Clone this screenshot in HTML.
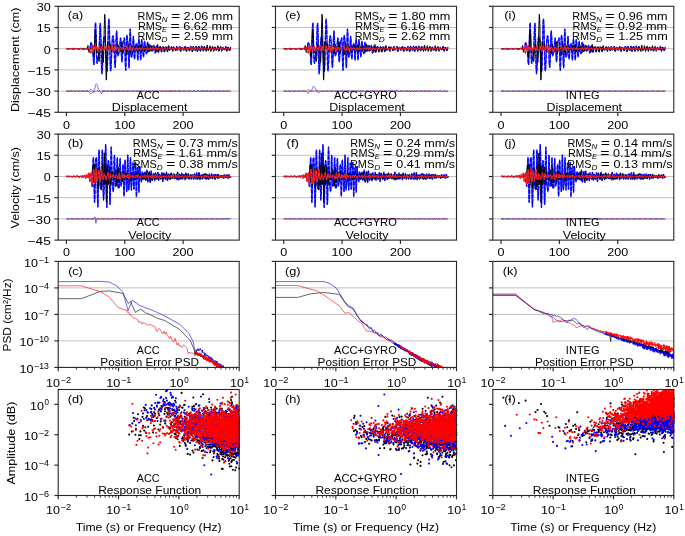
<!DOCTYPE html><html><head><meta charset="utf-8"><style>html,body{margin:0;padding:0;background:#fff;overflow:hidden}svg{display:block;filter:blur(0.35px)}text{font-family:"Liberation Sans",sans-serif}</style></head><body><svg width="685" height="536" viewBox="0 0 685 536" font-family="Liberation Sans, sans-serif"><defs><path id="pE0" d="M66.4 48.6l.3-.1 .2 0 .2.1 .3 0 .2.1 .2 0 .3.1 .2 0 .2 0 .3 0 .2 0 .2 0 .3 0 .2-.1 .2 0 .3 0 .2 0 .2 0 .3-.1 .2 0 .2 0 .3 0 .2-.1 .2 0 .3 0 .2.1 .2 0 .3.1 .2.1 .2 0 .3.1 .2 0 .2 0 .3-.1 .2 0 .2-.1 .3 0 .2 0 .2 0 .3-.1 .2 0 .2 0 .3 0 .2 0 .2 0 .3 0 .2 0 .2 0 .3 0 .2.1 .2.1 .3.1 .2.1 .2 0 .3 0 .2-.1 .2-.1 .3-.1 .2 0 .2-.1 .3 0 .2 0 .2 0 .3 0 .2 0 .2 0 .3-.1 .2 0 .2 0 .3.1 .2.1 .2.1 .3.1 .2.1 .2.1 .3 0 .2 0 .2-.1 .3-.2 .2-.1 .2-.1 .3-.1 .2 0 .2 0 .3 0 .2 0 .2 0 .3.1 .2 0 .2 0 .3 0 .2.1 .2.1 .3.1 .2.1 .2.1 .3.1 .2 0 .2-.1 .3-.2 .2-.2 .2-1.4 .3-1.9 .2-1.7 .2-1.1 .3-.2 .2.6 .2.9 .3.9 .2.7 .2 1 .3 1.3 .2 2.1 .2 3.2 .3 4 .2 4 .2 2.8 .3.5 .2-2.9 .2-6.2 .3-8.7 .2-9.5 .2-8.3 .3-5.2 .2-.7 .2 5.3 .3 8.4 .2 9.4 .2 8.4 .3 5.9 .2 2.8 .2.1 .3-1.7 .2-2.3 .2-1.7 .3-1 .2-.5 .2-.6 .3-1.5 .2-3.5 .2-5.7 .3-7.2 .2-7.1 .2-5.2 .3-1.8 .2 2.6 .2 6.8 .3 9.8 .2 11.2 .2 10.4 .3 6.7 .2 2.7 .2-1.1 .3-4.2 .2-6.1 .2-6.6 .3-6.2 .2-5.1 .2-3.7 .3-2.3 .2-1.1 .2-.2 .3.3 .2.8 .2 1.3 .3 1.9 .2 2.8 .2 3.7 .3 4.6 .2 5.2 .2 5.4 .3 4.7 .2 3 .2.6 .3-2.6 .2-5.9 .2-8.5 .3-10.1 .2-10 .2-8.4 .3-5.4 .2-1.4 .2 2.9 .3 6.8 .2 9.5 .2 10.5 .3 9.7 .2 7.5 .2 4.1 .3.7 .2-2.5 .2-4.8 .3-6.1 .2-6.2 .2-5.6 .3-4.3 .2-3 .2-1.6 .3-.7 .2.1 .2 1.2 .3 2.1 .2 3.2 .2 4.4 .3 5.5 .2 5.9 .2 5.3 .3 3.4 .2.2 .2-3.3 .3-6.7 .2-8.7 .2-8.7 .3-6.3 .2-2.5 .2 1.6 .3 5 .2 6.5 .2 6 .3 4 .2 1.8 .2-.1 .3-1.1 .2-1.1 .2-1.1 .3-.7 .2-1.2 .2-2.2 .3-3.1 .2-3.5 .2-2.9 .3-.8 .2 1.8 .2 4.5 .3 6 .2 5.9 .2 4.1 .3 1.3 .2-1.6 .2-4.2 .3-5.2 .2-4.8 .2-3.2 .3-1.5 .2-.5 .2-.7 .3-1.1 .2-1 .2.8 .3 4.3 .2 7.9 .2 9.3 .3 7.5 .2 2.5 .2-3.8 .3-8.9 .2-10.5 .2-8.2 .3-3.6 .2.5 .2 2.5 .3 2.3 .2 1.4 .2 1.9 .3 4.3 .2 6.9 .2 7.8 .3 4.8 .2-1.3 .2-8.2 .3-12.1 .2-11.2 .2-5.7 .3 1.6 .2 7.2 .2 8.9 .3 6.7 .2 3 .2.5 .3-.3 .2-.2 .2-.7 .3-2.3 .2-4.5 .2-5.9 .3-5 .2-1.7 .2 2.5 .3 5.9 .2 7.1 .2 5.4 .3 1.8 .2-1.9 .2-3.9 .3-4 .2-2.7 .2-1.3 .3-.6 .2-.6 .2-.6 .3-.1 .2 1.7 .2 4.1 .3 5.5 .2 4.4 .2.8 .3-3.8 .2-6.8 .2-6.6 .3-3.3 .2.6 .2 2.6 .3 2.4 .2 1.4 .2 1.8 .3 3.7 .2 5 .2 3.1 .3-1.6 .2-6.5 .2-7.7 .3-4.5 .2.1 .2 3 .3 3 .2 1.6 .2 1.3 .3 2.5 .2 3.4 .2 2.4 .3-.8 .2-4.3 .2-5.8 .3-4.2 .2-.8 .2 2.1 .3 3.2 .2 2.5 .2 1.2 .3.7 .2.9 .2 1.3 .3.7 .2-1 .2-2.9 .3-3.9 .2-2.9 .2-.6 .3 1.7 .2 3 .2 2.7 .3 1.3 .2.1 .3-.2 .2 0 .2 0 .3-.3 .2-1.2 .2-1.7 .3-1.7 .2-.7 .2.4 .3 1.3 .2 1.7 .2 1.5 .3.7 .2-.1 .2-.5 .3-.5 .2-.4 .2-.4 .3-.7 .2-1.2 .2-1.2 .3-.6 .2.4 .2 1.5 .3 2.3 .2 2.1 .2 1.2 .3-.3 .2-1.5 .2-2.1 .3-1.7 .2-.9 .2-.1 .3.2 .2.1 .2.2 .3.5 .2 1.3 .2 1.7 .3 1.5 .2.3 .2-1 .3-1.8 .2-1.5 .2-.7 .3.1 .2.3 .2.2 .3-.1 .2.2 .2.8 .3 1.3 .2 1.1 .2.2 .3-.8 .2-1.4 .2-1.1 .3-.4 .2 0 .2 0 .3-.2 .2 0 .2.5 .3 1.2 .2 1.5 .2.9 .3-.3 .2-1.2 .2-1.6 .3-1 .2-.2 .2.2 .3.2 .2.2 .2.3 .3.6 .2 1 .2 1 .3.5 .2-.4 .2-1.2 .3-1.6 .2-1.3 .2-.4 .3.6 .2 1 .2 1.1 .3.8 .2.3 .2-.2 .3-.3 .2-.2 .2-.3 .3-.4 .2-.4 .2-.4 .3-.2 .2 0 .2.5 .3.9 .2 1 .2.5 .3-.2 .2-.8 .2-1.2 .3-.8 .2-.3 .2.2 .3.5 .2.4 .2.4 .3.4 .2.5 .2.5 .3.3 .2-.4 .2-1.1 .3-1.3 .2-.9 .2-.1 .3.8 .2 1.2 .2 1 .3.4 .2 0 .2-.3 .3-.3 .2-.2 .2-.3 .3-.7 .2-.8 .2-.6 .3.1 .2.9 .2 1.3 .3 1.2 .2.5 .2-.2 .3-.9 .2-1.1 .2-.9 .3-.4 .2.1 .2.4 .3.4 .2.5 .2.3 .3.4 .2.3 .2.2 .3-.1 .2-.4 .2-.8 .3-1 .2-.7 .2-.2 .3.6 .2 1.2 .2 1.4 .3.8 .2.1 .2-.8 .3-1 .2-.9 .2-.5 .3 0 .2.2 .2.2 .3.1 .2.3 .2.5 .3.7 .2.6 .2.2 .3-.6 .2-1.2 .2-1.3 .3-.6 .2.2 .2.7 .3.7 .2.4 .2.4 .3.7 .2 1 .2.4 .3-.6 .2-1.7 .2-1.6 .3-.9 .2.2 .2 1 .3.9 .2.5 .2.3 .3.2 .2.2 .2.2 .3-.1 .2-.6 .2-1.1 .3-1.1 .2-.6 .2.3 .3 1.1 .2 1.5 .2 1.4 .3.6 .2-.3 .2-1.1 .3-1.3 .2-1.1 .2-.5 .3.1 .2.4 .2.4 .3.3 .2.5 .2.7 .3.9 .2.7 .2-.2 .3-1.1 .2-1.6 .2-1.4 .3-.5 .2.6 .2 1.2 .3 1 .2.5 .2.1 .3.1 .2.2 .2 0 .3-.4 .2-1 .2-1.1 .3-.6 .2.4 .2 1 .3.9 .2.4 .2 0 .3-.1 .2.1 .2 0 .3-.5 .2-.7 .2-.7 .3-.1 .2.4 .2.7 .3.5 .2.2 .2-.1 .3-.1 .2-.1 .2-.1 .3-.2 .2-.4 .2-.3 .3-.1 .2.3 .2.6 .3.6 .2.3 .2-.1 .3-.5 .2-.6 .2-.4 .3-.2 .2.1 .2.3 .3.3 .2.2 .2.2 .3.3 .2.3 .2 0 .3-.3 .2-.6 .2-.9 .3-.6 .2 0 .2.6 .3 1 .2.9 .2.4 .3-.1 .2-.6 .2-.6 .3-.4 .2-.2 .2-.2 .3-.2 .2-.2 .2.2 .3.6 .2 1 .2.7 .3.3 .2-.5 .2-1 .3-.9 .2-.4 .2 0 .3.4 .2.3 .2.3 .3.1 .2.4 .2.4 .3.3 .2-.1 .2-.6 .3-.9 .2-.7 .2-.2 .3.4 .2.8 .2.5 .3.3 .2.1 .2.1 .3 0 .2 0 .2-.5 .3-1 .2-1 .2-.5 .3.7 .2 1.5 .2 1.6 .3.8 .2-.5 .2-1.1 .3-1.1 .2-.5 .2-.2 .3 0 .2-.1 .2.2 .3.5 .2.9 .2.9 .3.3 .2-.4 .2-.9 .3-.9 .2-.5 .2 0"/><path id="pN0" d="M66.4 48.6l.3 0 .2 0 .2.1 .3 0 .2 0 .2 0 .3 0 .2.1 .2 0 .3 0 .2 0 .2 0 .3 0 .2 0 .2 0 .3 0 .2-.1 .2 0 .3-.1 .2-.1 .2 0 .3 0 .2 0 .2.1 .3 0 .2.1 .2.1 .3 0 .2.1 .2 0 .3 0 .2-.1 .2 0 .3 0 .2-.1 .2 0 .3-.1 .2 0 .2 0 .3 0 .2 0 .2 0 .3 0 .2 0 .2.1 .3 0 .2 0 .2.1 .3 0 .2.1 .2 0 .3 0 .2 0 .2 0 .3 0 .2-.1 .2-.1 .3-.1 .2-.1 .2 0 .3-.1 .2 0 .2 0 .3 0 .2.1 .2.1 .3.1 .2.1 .2.1 .3.1 .2.1 .2 0 .3 0 .2-.1 .2 0 .3-.1 .2-.1 .2-.1 .3-.1 .2 0 .2 0 .3 0 .2-.1 .2 0 .3 0 .2.2 .2.5 .3.4 .2-.1 .2-1.1 .3-1.7 .2-1.2 .2.5 .3 2.1 .2 2.5 .2 1.5 .3.3 .2-.7 .2-.9 .3-1 .2-.8 .2-.7 .3-.4 .2-.2 .2-.1 .3 0 .2-.2 .2-.2 .3-.2 .2 0 .2.2 .3.9 .2 1.4 .2 1.9 .3 2.3 .2 2 .2.9 .3-.7 .2-2.9 .2-4.7 .3-5.9 .2-5.8 .2-4.3 .3-1.8 .2 1.1 .2 3.4 .3 4.9 .2 5.2 .2 4.3 .3 2.7 .2.8 .2-.7 .3-1.5 .2-1.1 .2 0 .3 1.7 .2 3.2 .2 3.6 .3 2.7 .2.7 .2-1.6 .3-3.6 .2-4.5 .2-4.2 .3-2.8 .2-1.3 .2 0 .3.7 .2 1 .2.8 .3.5 .2.7 .2 1.4 .3 2.4 .2 3.4 .2 3.9 .3 3.3 .2.8 .2-3 .3-7.4 .2-10.9 .2-11.8 .3-9.9 .2-5.1 .2.9 .3 6.9 .2 12.1 .2 15.2 .3 15.3 .2 11.3 .2 4.1 .3-4.2 .2-10.1 .2-11.7 .3-8.7 .2-3.7 .2.9 .3 3 .2 3 .2 1.5 .3-.1 .2-1.4 .2-2 .3-1.9 .2-1.3 .2-.2 .3.9 .2 1.9 .2 2.1 .3 1.7 .2.9 .2.3 .3-.1 .2-.1 .2.1 .3.4 .2.2 .2-.1 .3-.8 .2-1.3 .2-1.6 .3-1.6 .2-1.2 .2-.3 .3.5 .2 1.2 .2 1.1 .3.9 .2.4 .2.3 .3.6 .2 1.1 .2 1.5 .3 1.2 .2.4 .2-.8 .3-2 .2-2.5 .2-2.4 .3-1.4 .2-.3 .2.7 .3 1.3 .2 1.4 .2 1 .3.7 .2.5 .2.5 .3.7 .2.6 .2.4 .3-.4 .2-1.5 .2-2.6 .3-3 .2-2.3 .2-.8 .3 1.5 .2 3.3 .2 3.5 .3 2.4 .2 1 .2-.5 .3-1.3 .2-1.6 .2-1.2 .3-.6 .2-.2 .2 0 .3.1 .2-.4 .2-.4 .3-.4 .2.1 .2.9 .3 1.7 .2 2.2 .2 2 .3 1.1 .2-.5 .2-2 .3-2.9 .2-2.8 .2-1.7 .3-.3 .2.4 .2.6 .3.3 .2.2 .2.5 .3 1.4 .2 2.1 .2 2.2 .3 1.5 .2-.1 .2-1.7 .3-2.6 .2-2.4 .2-1.3 .3-.1 .2.8 .2.8 .3.6 .2.3 .2.5 .3.8 .2 1 .2.6 .3-.1 .2-1 .2-1.5 .3-1.4 .2-.5 .2.4 .3.8 .2.8 .2.5 .3.2 .2.4 .2.4 .3.4 .2-.3 .2-1.2 .3-1.8 .2-1.4 .2-.3 .3 1.3 .2 2 .2 1.7 .3.7 .2-.1 .2-.3 .3-.1 .2-.4 .2-1 .3-1.9 .2-1.8 .2-.9 .3.9 .2 2.2 .2 2.5 .3 1.6 .2.1 .2-1 .3-1.3 .2-1 .2-.6 .3-.4 .2-.6 .2-.5 .3 0 .2.8 .2 1.7 .3 1.9 .2 1.1 .2-.2 .3-1.4 .2-2 .2-1.8 .3-.9 .2.2 .2 1 .3 1 .2.8 .2.7 .3.8 .2 1.1 .2 1 .3.2 .2-1.5 .2-2.8 .3-2.9 .2-1.6 .3.4 .2 2 .2 2.3 .3 1.8 .2.7 .2-.1 .3-.2 .2 0 .2-.1 .3-.5 .2-1.1 .2-1.6 .3-1.2 .2-.4 .2.7 .3 1.4 .2 1.6 .2 1 .3.2 .2-.4 .2-.7 .3-.6 .2-.6 .2-.4 .3-.3 .2-.2 .2 0 .3.1 .2.5 .2 1 .3 1.4 .2 1.3 .2.5 .3-.8 .2-2.2 .2-2.7 .3-1.9 .2-.2 .2 1.5 .3 2.4 .2 2.4 .2 1.2 .3-.2 .2-1.1 .2-1.2 .3-.9 .2-.5 .2-.5 .3-.6 .2-.6 .2.1 .3 1.1 .2 2 .2 1.9 .3.9 .2-.6 .2-1.8 .3-1.7 .2-1.1 .2-.2 .3.2 .2-.1 .2-.2 .3.2 .2 1.1 .2 1.9 .3 1.7 .2.5 .2-.8 .3-1.8 .2-1.5 .2-.8 .3-.2 .2 0 .2-.1 .3 0 .2.5 .2 1.3 .3 1.8 .2 1.2 .2 0 .3-1.4 .2-2.2 .2-1.8 .3-.8 .2.6 .2 1.4 .3 1.4 .2.9 .2.3 .3-.1 .2-.2 .2-.2 .3-.4 .2-.8 .2-1 .3-.8 .2-.3 .2.6 .3 1.5 .2 1.7 .2 1.2 .3 0 .2-1 .2-1.5 .3-1.3 .2-.7 .2.1 .3.3 .2.3 .2.4 .3.6 .2.9 .2 1 .3.4 .2-.6 .2-1.2 .3-1.4 .2-.8 .2.1 .3.8 .2 1 .2.6 .3.3 .2 0 .2-.2 .3-.2 .2-.3 .2-.8 .3-1.1 .2-.7 .2.2 .3 1.4 .2 1.9 .2 1.4 .3.1 .2-1 .2-1.3 .3-.9 .2-.4 .2-.1 .3 0 .2-.1 .2.1 .3.3 .2.8 .2.7 .3.7 .2.2 .2-.5 .3-1.1 .2-1.1 .2-.6 .3 0 .2.4 .2.4 .3.2 .2.3 .2.8 .3 1.2 .2 1 .2 0 .3-1.2 .2-1.7 .2-1.2 .3-.4 .2.4 .2.2 .3 0 .2 0 .2.4 .3 1.1 .2 1.2 .2.9 .3-.2 .2-.9 .2-1.1 .3-.7 .2-.3 .2-.2 .3-.4 .2-.5 .2-.1 .3.8 .2 1.7 .2 1.6 .3.8 .2-.5 .2-1.4 .3-1.5 .2-1 .2-.1 .3.3 .2.3 .2.3 .3.4 .2.6 .2 1 .3.8 .2-.1 .2-1 .3-1.6 .2-1.3 .2-.4 .3.6 .2 1.1 .2.9 .3.4 .2.2 .2.3 .3.3 .2-.1 .2-.7 .3-1.3 .2-1.3 .2-.5 .3.5 .2 1.2 .2 1.4 .3.8 .2.1 .2-.4 .3-.5 .2-.4 .2-.4 .3-.4 .2-.6 .2-.5 .3-.2 .2.5 .2 1.3 .3 1.4 .2 1.1 .2 0 .3-1 .2-1.6 .2-1.4 .3-.7 .2.2 .2.7 .3.7 .2.6 .2.6 .3.8 .2 1 .2.4 .3-.9 .2-2.1 .2-2.3 .3-1.2 .2.6 .2 1.9 .3 2.1 .2 1.2 .2 0 .3-.5 .2-.4 .2-.3 .3-.6 .2-1.2 .2-1.5 .3-.6 .2.7 .2 2.1 .3 2.1 .2.9 .2-.5 .3-1 .2-.9 .2-.5 .3-.5 .2-1 .2-.9 .3 0 .2 1.1 .2 1.9 .3 1.6 .2.7 .2-.6 .3-1.4 .2-1.3 .2-.9 .3-.1 .2.3 .2.5 .3.5 .2.4 .2.4 .3.4 .2.4 .2.2 .3-.3 .2-1 .2-1.6 .3-1.4 .2-.4 .2.9 .3 2 .2 1.9 .2.9 .3-.3 .2-.9 .2-.8 .3-.5 .2-.5 .2-.8 .3-1 .2-.4 .2.8 .3 1.9 .2 1.8 .2.8 .3-.5 .2-1.2 .2-1.2 .3-.8 .2-.2 .2.1 .3.2 .2.3 .2.4 .3.6 .2.6 .2.3 .3 0 .2-.5 .2-.9 .3-1 .2-.6 .2 0 .3.6 .2 1.1 .2 1.1 .3.7 .2.1 .2-.7 .3-1.1 .2-1.1 .2-.6 .3.1 .2.5 .2.6 .3.5 .2.3 .2.4 .3.4 .2.3 .2-.1 .3-.8 .2-1.2 .2-1.2"/><path id="pD0" d="M66.4 48.5l.3.1 .2.1 .2 0 .3.1 .2 0 .2.1 .3.1 .2 0 .2 0 .3-.2 .2-.1 .2-.2 .3 0 .2-.1 .2.1 .3 0 .2.1 .2 0 .3 0 .2.1 .2 0 .3.2 .2.1 .2.2 .3-.1 .2-.1 .2-.3 .3-.2 .2-.2 .2 0 .3.1 .2.1 .2.2 .3.1 .2 0 .2 0 .3.1 .2 0 .2 0 .3 0 .2-.1 .2-.2 .3-.1 .2-.1 .2-.1 .3.1 .2.2 .2.2 .3.2 .2 0 .2 0 .3-.1 .2-.1 .2-.1 .3 0 .2-.1 .2 0 .3-.1 .2-.1 .2 0 .3-.1 .2.1 .2.2 .3.2 .2.3 .2.1 .3 0 .2-.2 .2-.2 .3-.2 .2-.1 .2-.1 .3 0 .2.1 .2 0 .3.1 .2.1 .2.2 .3.2 .2.1 .2-.2 .3-.3 .2-.3 .2-.1 .3 0 .2.2 .2.2 .3.2 .2.1 .2-.1 .3 0 .2 0 .2-.2 .3-.4 .2-.6 .2-.5 .3-.1 .2.8 .2 1.1 .3.8 .2-.2 .2 0 .3 1.1 .2 1.9 .2.8 .3-1.4 .2-3.1 .2-2.7 .3-.8 .2 1.3 .2 2.3 .3 2.1 .2.9 .2-.8 .3-2 .2-2.2 .2-1.4 .3.1 .2 1.3 .2 1.6 .3 1.1 .2.4 .2 0 .3-.1 .2-.1 .2-.3 .3-.8 .2-1.1 .2-1 .3-.3 .2.6 .2 1.4 .3 1.6 .2 1 .2.1 .3-.9 .2-1.4 .2-1.2 .3-.9 .2-.1 .2.6 .3.9 .2.8 .2.6 .3.3 .2.2 .2.3 .3.3 .2-.1 .2-.8 .3-1.5 .2-1.6 .2-.9 .3 0 .2 1 .2 1.5 .3 1.2 .2.6 .2 0 .3-.1 .2 0 .2.1 .3 0 .2-.4 .2-1 .3-1.3 .2-1 .2-.2 .3.6 .2 1.2 .2 1.2 .3.7 .2.2 .2 0 .3.2 .2.3 .2 0 .3-.5 .2-1.3 .2-1.5 .3-1.1 .2-.4 .2.7 .3 1.4 .2 1.4 .2 1 .3.3 .2-.1 .2-.3 .3-.4 .2-.4 .2-.4 .3-.6 .2-1 .2-1 .3-.7 .2.3 .2 1.4 .3 2.2 .2 2.3 .2 1 .3-.5 .2-1.9 .2-2.3 .3-1.8 .2-.6 .2.7 .3 1.6 .2 1.6 .2.9 .3-.1 .2-.8 .2-.9 .3-.8 .2-.5 .2-.1 .3.3 .2.5 .2.3 .3.3 .2.2 .2.5 .3.8 .2.9 .2.6 .3-.2 .2-1 .2-1.3 .3-1.2 .2-.7 .2-.2 .3.2 .2.3 .2.3 .3.2 .2.4 .2.5 .3.6 .2.5 .2 0 .3-.6 .2-1 .2-1.1 .3-.5 .2.1 .2.8 .3 1 .2.9 .2.4 .3-.1 .2-.3 .2-.3 .3-.1 .2 0 .2-.2 .3-.5 .2-.9 .2-.9 .3-.3 .2.3 .2.9 .3 1 .2.7 .2.3 .3 0 .2.1 .2.3 .3.2 .2-.2 .2-.9 .3-1.4 .2-1.4 .2-.7 .3.5 .2 1.3 .2 1.6 .3 1 .2.4 .2-.3 .3-.4 .2-.3 .2-.2 .3-.4 .2-.6 .2-.8 .3-.5 .2 0 .2.6 .3 1 .2.9 .2.6 .3.1 .2-.4 .2-.5 .3-.5 .2-.3 .2-.1 .3 0 .2-.1 .2-.1 .3-.2 .2-.2 .2.2 .3.4 .2.6 .2.5 .3.4 .2 0 .2-.4 .3-.5 .2-.5 .2-.3 .3-.1 .2 0 .2 0 .3 0 .2.1 .2.3 .3.5 .2.6 .2.2 .3-.2 .2-.6 .2-.7 .3-.6 .2-.1 .2.4 .3.6 .2.6 .2.3 .3-.1 .2-.3 .2-.4 .3-.2 .2-.1 .2 0 .3 0 .2 0 .2.1 .3.2 .2.3 .2.4 .3.2 .2-.1 .2-.5 .3-.6 .2-.6 .2-.3 .3.2 .2.6 .2.5 .3.4 .2.1 .3 0 .2 0 .2-.1 .3-.3 .2-.5 .2-.5 .3-.2 .2.3 .2.7 .3.7 .2.5 .2-.1 .3-.6 .2-.7 .2-.6 .3-.1 .2.1 .2 0 .3-.1 .2.1 .2.4 .3.9 .2 1 .2.4 .3-.2 .2-.8 .2-.8 .3-.5 .2-.1 .2-.1 .3-.1 .2-.1 .2-.1 .3.2 .2.5 .2.6 .3.6 .2.2 .2-.3 .3-.5 .2-.5 .2-.4 .3-.1 .2 0 .2.2 .3.1 .2.2 .2.2 .3.3 .2.3 .2.1 .3-.2 .2-.5 .2-.7 .3-.7 .2-.2 .2.3 .3.9 .2 1 .2.8 .3.1 .2-.4 .2-.6 .3-.5 .2-.2 .2-.1 .3-.2 .2-.2 .2-.4 .3-.2 .2.1 .2.4 .3.7 .2.6 .2.3 .3 0 .2-.2 .2-.2 .3-.1 .2-.1 .2 0 .3-.2 .2-.4 .2-.3 .3-.3 .2.1 .2.3 .3.4 .2.4 .2.2 .3 0 .2-.1 .2-.2 .3-.1 .2-.1 .2-.1 .3-.2 .2-.1 .2-.1 .3.1 .2.4 .2.4 .3.4 .2.1 .2-.3 .3-.5 .2-.6 .2-.4 .3-.1 .2.3 .2.4 .3.4 .2.3 .2.1 .3.1 .2 0 .2-.1 .3-.2 .2-.4 .2-.5 .3-.5 .2 0 .2.5 .3.9 .2.8 .2.3 .3-.4 .2-.8 .2-.9 .3-.5 .2 0 .2.5 .3.6 .2.4 .2.2 .3.1 .2.1 .2.1 .3 0 .2-.1 .2-.3 .3-.6 .2-.7 .2-.5 .3-.1 .2.2 .2.6 .3.8 .2.6 .2.3 .3 0 .2-.2 .2-.3 .3-.3 .2-.3 .2-.2 .3-.2 .2-.2 .2-.2 .3.2 .2.4 .2.7 .3.6 .2.2 .2-.3 .3-.7 .2-.7 .2-.4 .3 0 .2.4 .2.4 .3.3 .2.2 .2.1 .3.1 .2 0 .2-.2 .3-.5 .2-.5 .2-.5 .3 0 .2.4 .2.8 .3.8 .2.4 .2-.1 .3-.6 .2-.7 .2-.5 .3-.2 .2 0 .2.2 .3.2 .2.2 .2.3 .3.4 .2.3 .2.1 .3-.1 .2-.5 .2-.6 .3-.5 .2-.3 .2.2 .3.4 .2.6 .2.5 .3.3 .2 0 .2-.3 .3-.4 .2-.5 .2-.3 .3-.1 .2.1 .2.2 .3.2 .2.1 .2.1 .3.2 .2.2 .2.2 .3.1 .2-.1 .2-.3 .3-.4 .2-.5 .2-.3 .3 0 .2.4 .2.5 .3.4 .2.2 .2 0 .3-.1 .2-.3 .2-.2 .3-.1 .2-.1 .2-.1 .3-.1 .2-.1 .2 0 .3.2 .2.3 .2.4 .3.3 .2.2 .2-.2 .3-.3 .2-.4 .2-.4 .3-.2 .2 0 .2.1 .3.1 .2 0 .2.1 .3.2 .2.3 .2.5 .3.3 .2-.1 .2-.3 .3-.6 .2-.5 .2-.2 .3.1 .2.2 .2.1 .3.1 .2.2 .2.2 .3.3 .2.2 .2-.1 .3-.4 .2-.5 .2-.4 .3-.1 .2.2 .2.5 .3.3 .2.2 .2.1 .3-.1 .2 0 .2 0 .3 0 .2-.2 .2-.3 .3-.4 .2-.3 .2-.1 .3.1 .2.3 .2.4 .3.4 .2.1 .2.1 .3 0 .2 0 .2 0 .3-.1 .2-.2 .2-.3 .3-.4 .2-.3 .2-.2 .3.2 .2.5 .2.6 .3.6 .2.2 .2-.1 .3-.4 .2-.6 .2-.5 .3-.3 .2 0 .2.2 .3.3 .2.3 .2.2 .3.2 .2 0 .2.1 .3 0 .2-.2 .2-.2 .3-.4 .2-.3 .2-.1 .3.1 .2.4 .2.4 .3.3 .2.1 .2-.1 .3-.3 .2-.2 .2-.2 .3 0 .2 0 .2 0 .3 0 .2-.1 .2 0 .3.2 .2.2 .2.3"/><g id="w0"><use href="#pE0" fill="none" stroke="#5050ff" stroke-width="1.35" stroke-linejoin="round"/><use href="#pE0" fill="none" stroke="#0000ff" stroke-width="1.15" stroke-linejoin="round" stroke-dasharray="4 1.3"/><use href="#pN0" fill="none" stroke="#000000" stroke-width="1.0" stroke-linejoin="round"/><use href="#pD0" fill="none" stroke="#ff5a5a" stroke-width="1.0" stroke-linejoin="round"/><use href="#pD0" fill="none" stroke="#ff0000" stroke-width="0.9" stroke-linejoin="round" stroke-dasharray="4 1.3"/></g><path id="pE1" d="M66.4 176.5l.2 0 .2 0 .2 0 .1-.1 .2 0 .2 0 .2 0 .1-.1 .2.1 .2 0 .2.1 .1.1 .2.1 .2 0 .2 0 .1 0 .2-.1 .2-.1 .2 0 .1-.1 .2 0 .2 0 .2 0 .1 0 .2 0 .2 0 .2 0 .1 0 .2.1 .2.1 .2 0 .1.1 .2.1 .2 0 .2-.1 .1-.1 .2-.1 .2-.1 .2-.1 .1 0 .2 0 .2.1 .2 0 .1 0 .2.1 .2 0 .2 0 .1 0 .2.1 .2 0 .2 0 .1.1 .2 0 .2 0 .2-.1 .1-.1 .2-.1 .2-.1 .2-.1 .1 0 .2 0 .2 0 .2.1 .1.1 .2.1 .2.1 .2.1 .1 0 .2 0 .2 0 .2 0 .1 0 .2 0 .2 0 .2 0 .1-.1 .2-.1 .2-.1 .2-.1 .1-.1 .2 0 .2 0 .2.1 .1.1 .2.1 .2 0 .2.1 .1 0 .2 0 .2 0 .2.1 .1 0 .2 0 .2 0 .2 0 .1-.1 .2-.1 .2-.2 .2-.1 .1-.1 .2-.1 .2.1 .2.1 .1.2 .2.2 .2.1 .2.1 .1 0 .2 0 .2-.1 .2-.1 .1 0 .2-.1 .2 0 .2 0 .1-.1 .2 0 .2-.1 .2-.1 .1 0 .2 0 .2.1 .2.1 .1.1 .2.2 .2.1 .2.1 .1 0 .2-.1 .2-.1 .2-.1 .1-.2 .2-.1 .2-.5 .2-.7 .1-.4 .2-.2 .2 0 .2.2 .1.3 .2.7 .2 1.3 .2 1.9 .1 2.5 .2 2.6 .2 2 .2.4 .1-1.7 .2-3.8 .2-5.2 .2-6.2 .1-6.1 .2-4.5 .2-1.4 .2 2.4 .1 6.4 .2 9.1 .2 10.3 .2 9 .1 6 .2 1.6 .2-3 .2-6.7 .1-8.8 .2-8.9 .2-7.7 .2-5.3 .1-2.5 .2-1.1 .2-.6 .2-.2 .1.6 .2 2.5 .2 4.9 .2 7.8 .1 9.9 .2 10.4 .2 8.6 .2 4.7 .1-.6 .2-6.1 .2-10.5 .2-12.7 .1-12.2 .2-9.6 .2-5.1 .2.1 .1 4.7 .2 7.7 .2 8.6 .2 7.6 .1 5.4 .2 3 .2 1.1 .2.2 .1 0 .2.3 .2.1 .2-1.1 .1-3.1 .2-5.5 .2-7.9 .2-8.9 .1-7.9 .2-4.4 .2.7 .2 6 .1 10.3 .2 12.1 .2 11 .2 7.3 .1 2.5 .2-1.9 .2-4.2 .2-4.4 .1-3.2 .2-1.9 .2-1.7 .2-3.1 .1-5.7 .2-8.4 .2-9.4 .2-7.9 .1-3.6 .2 2.3 .2 8.6 .2 13.1 .1 14.7 .2 13.1 .2 8.5 .2 2.5 .1-3.3 .2-7.7 .2-9.8 .2-9.5 .1-7.7 .2-5.1 .2-2.7 .2-1 .1.3 .2 1 .2 1.8 .2 2.7 .1 4.4 .2 6.3 .2 8 .2 8.5 .1 7.1 .2 3.7 .2-1.4 .2-7.1 .1-11.6 .2-13.5 .2-12.4 .2-8.5 .1-2.8 .2 3.1 .2 7.4 .2 9.3 .1 8.6 .2 6.3 .2 3.5 .2 1.4 .1.5 .2.9 .2 1.7 .2 1.7 .1.2 .2-2.6 .2-6 .2-8.6 .1-9.2 .2-7.1 .2-2.9 .2 2.1 .1 6.2 .2 8.2 .2 7.5 .2 5 .1 1.9 .2-.4 .2-1.4 .2-.9 .1 0 .2.1 .2-1.3 .2-3.8 .1-6.4 .2-7.3 .2-5.6 .2-1.4 .1 3.8 .2 7.8 .2 8.6 .2 6.6 .1 3 .2.2 .2-.9 .2-.2 .1.9 .2 0 .2-2.2 .2-5.4 .1-7.8 .2-7.8 .2-5.2 .2-.6 .1 4 .2 7 .2 7.6 .2 5.9 .1 3 .2.1 .2-1.8 .2-2.3 .1-2.1 .2-1.5 .2-1.3 .2-1.9 .1-2.8 .2-3.3 .2-3.2 .2-1.5 .1 1.4 .2 4.9 .2 7.7 .2 8.5 .1 6.7 .2 2.5 .2-2.8 .2-7.5 .1-9.8 .2-9.3 .2-5.7 .2-1.1 .1 2.6 .2 4.5 .2 4.6 .2 3.8 .1 2.9 .2 2.7 .2 3.3 .2 3.8 .1 2.9 .2.4 .2-3.5 .2-7.6 .1-10.1 .2-9.5 .2-5.6 .2.3 .1 6.1 .2 9.5 .2 9.6 .2 6.7 .1 2.4 .2-.9 .2-2.4 .2-1.9 .1-1 .2-1.1 .2-3.1 .2-5.7 .1-7.5 .2-6.3 .2-2.2 .2 3.7 .1 8.5 .2 9.9 .2 7.4 .2 2.8 .1-1.5 .2-3.5 .2-3.1 .2-1.8 .1-1.4 .2-2.8 .2-4.5 .2-5.1 .1-3.2 .2 1 .2 5.3 .2 7.8 .1 7.3 .2 4.5 .2.1 .2-3.3 .1-4.7 .2-3.9 .2-2.3 .2-1.7 .1-2.5 .2-3.7 .2-3.7 .2-.9 .1 3.9 .2 8.6 .2 10.7 .2 8.5 .1 2.8 .2-4.3 .2-8.3 .2-8.3 .1-5.5 .2-2.2 .2-.2 .2.1 .1-.6 .2-.1 .2 1.8 .2 5 .1 7.2 .2 7 .2 3.6 .2-1.5 .1-6.1 .2-8.3 .2-6.8 .2-3 .1.6 .2 2.9 .2 3.1 .2 2.3 .1 1.5 .2 1.2 .2 1.5 .2 1.6 .1.9 .2-.6 .2-2.3 .2-3.2 .1-2.8 .2-1.3 .2.2 .2 1.7 .1 2.4 .2 2.1 .2 1.1 .2-.1 .1-.4 .2-.5 .2-.2 .2-.6 .1-1.3 .2-1.9 .2-1.7 .2-.5 .1 1.2 .2 2.5 .2 2.5 .2 1.6 .1.1 .2-.8 .2-.7 .2-.3 .1-.3 .2-1.2 .2-2.4 .2-2.6 .1-1.6 .2.7 .2 2.9 .2 3.8 .1 3.1 .2 1.3 .2-.4 .2-1.4 .1-1.6 .2-1.2 .2-1 .2-1.3 .2-1.5 .1-1.4 .2-.4 .2 1.1 .2 2.6 .1 3.3 .2 2.7 .2 1.1 .2-.9 .1-2.7 .2-3.5 .2-3 .2-1.4 .1.5 .2 2 .2 2.8 .2 2.5 .1 1.3 .2.1 .2-.9 .2-1.3 .1-1.2 .2-.9 .2-.6 .2-.6 .1-.6 .2-.3 .2.2 .2 1.1 .1 1.8 .2 2.1 .2 1.6 .2.2 .1-1.3 .2-2.3 .2-2.5 .2-1.6 .1-.3 .2.8 .2 1.3 .2 1.3 .1.9 .2.6 .2.6 .2.7 .1.4 .2-.4 .2-1.2 .2-2.1 .1-2 .2-1.3 .2.2 .2 1.6 .1 2.5 .2 2.2 .2 1.2 .2-.2 .1-1.3 .2-1.8 .2-1.5 .2-.7 .1-.1 .2.3 .2.6 .2.6 .1.7 .2.8 .2.9 .2.6 .1-.1 .2-1 .2-1.7 .2-2 .1-1.6 .2-.3 .2 1.1 .2 2.3 .1 2.8 .2 2.3 .2.7 .2-.9 .1-2 .2-2.5 .2-2 .2-1 .1 0 .2.7 .2 1.1 .2 1 .1.8 .2.6 .2.6 .2.6 .1.5 .2.2 .2-.4 .2-1.2 .1-1.8 .2-1.9 .2-1.3 .2-.3 .1 1.1 .2 2.1 .2 2.3 .2 1.9 .1.8 .2-.5 .2-1.4 .2-1.7 .1-1.5 .2-.9 .2-.2 .2.1 .1.3 .2.4 .2.5 .2.8 .1 1.1 .2 1.2 .2.8 .2-.1 .1-1 .2-1.8 .2-1.9 .2-1.2 .1-.1 .2.9 .2 1.4 .2 1.5 .1.9 .2.2 .2-.2 .2-.5 .1-.3 .2-.3 .2-.4 .2-.7 .1-.7 .2-.6 .2-.1 .2.6 .1 1.2 .2 1.3 .2.8 .2.1 .1-.5 .2-.8 .2-1 .2-.6 .1-.4 .2 0 .2 0 .2 0 .1.2 .2.5 .2 1 .2 1.3 .1 1.2 .2.4 .2-.7 .2-1.8 .1-2.3 .2-2 .2-.7 .2.6 .1 1.9 .2 2.3 .2 2 .2 1 .1-.3 .2-1.2 .2-1.7 .2-1.5 .1-.9 .2-.3 .2.3 .2.5 .1.6 .2.7 .2.8 .2.9 .1.8 .2.4 .2-.4 .2-1.3 .1-1.8 .2-1.7 .2-.8 .2.3 .1 1.4 .2 1.8 .2 1.4 .2.7 .1-.2 .2-.8 .2-.8 .2-.6 .1-.4 .2-.4 .2-.5 .2-.4 .1 0 .2.6 .2 1.3 .2 1.7 .1 1.3 .2.1 .2-1.1 .2-2.1 .1-2.1 .2-1.2 .2.1 .2 1.3 .1 1.6 .2 1.2 .2.6 .2.1 .1-.1 .2-.1 .2-.2 .2-.5 .1-1 .2-1.2 .2-.9 .2-.3 .1.8 .2 1.5 .2 1.6 .2 1.1 .1.2 .2-.7 .2-1.1 .2-.9 .1-.6 .2-.2 .2-.2 .2-.2 .1-.2 .2.3 .2.9 .2 1.4 .1 1.3 .2.4 .2-.7 .2-1.4 .1-1.5 .2-.9 .2 0 .2.4 .1.4 .2.3 .2.4 .2.7 .1 1.1 .2 1 .2.1 .2-1 .1-1.8 .2-1.7 .2-.8 .2.2 .1 1.1 .2 1.1 .2.7 .2.4 .1.4 .2.6 .2.6 .2.1 .1-1 .2-2 .2-2.2 .2-1.4 .1.2 .2 1.7 .2 2.2 .2 1.9 .1.8 .2-.1 .2-.5 .2-.4 .1-.3 .2-.7 .2-1.3 .2-1.7 .1-1.3 .2-.2 .2 1.3 .2 2.4 .1 2.2 .2 1.3 .2-.1 .2-1.1 .1-1.5 .2-1.1 .2-.6 .2-.3 .1-.2 .2-.3 .2 0 .2.5 .1 1.2 .2 1.5 .2 1.1 .2.2 .1-.8 .2-1.5 .2-1.5 .2-.8 .1 0 .2.6 .2.8 .2.6 .1.4 .2.3 .2.3 .2.3 .1.1 .2-.4 .2-1 .2-1.4 .1-1.1 .2-.3 .2.8 .2 1.6 .1 1.8 .2 1.1 .2 0 .2-.8 .1-1.2 .2-1 .2-.5 .2-.3 .1-.2 .2-.2 .2 0 .2.6 .1 1.1 .2 1.4 .2 1.1 .2.2 .1-.8 .2-1.6 .2-1.7 .2-1 .1-.1 .2.6 .2 1 .2.8 .1.5 .2.3 .2.3 .2.4 .1.3 .2-.2 .2-.8 .2-1.3 .1-1.4 .2-.9 .2.2 .2 1 .1 1.6 .2 1.4 .2.7 .2 0 .1-.6 .2-.8 .2-.6 .2-.4 .1-.3 .2-.5 .2-.5 .2-.3 .1.3 .2 1 .2 1.4 .2 1.2 .1.6 .2-.3 .2-1.2 .2-1.4 .1-1.1 .2-.4 .2.2 .2.5 .1.5 .2.4 .2.3 .2.5 .1.5 .2.5 .2.2 .2-.5 .1-1.2 .2-1.3 .2-.9 .2 0 .1.7 .2 1.1 .2.9 .2.5 .1 0 .2-.2 .2-.3 .2-.2 .1-.2 .2-.3 .2-.5 .2-.4 .1-.1 .2.3 .2.6 .2.7 .1.5 .2.1 .2-.3 .2-.5 .1-.5 .2-.4 .2-.1 .2 0 .1.1 .2 0 .2.1 .2.3 .1.6 .2.6 .2.4 .2 0 .1-.5 .2-.9 .2-1 .2-.6 .1 0 .2.4 .2.8 .2.7 .1.4 .2.2 .2.1 .2-.1 .1-.1 .2-.2 .2-.4 .2-.7 .1-.7 .2-.5 .2 0 .2.6 .1 1.1 .2 1.2 .2.8 .2.1 .1-.6 .2-1.2 .2-1.1 .2-.8 .1-.2 .2.4 .2.8 .2.8 .1.6 .2.3 .2-.1 .2-.2 .1-.2 .2-.4 .2-.4"/><path id="pN1" d="M66.4 176.5l.2-.1 .2 0 .2 0 .1 0 .2 0 .2.1 .2 0 .1.1 .2 0 .2 0 .2 0 .1 0 .2 0 .2-.1 .2 0 .1 0 .2-.1 .2 0 .2 0 .1 0 .2 0 .2 0 .2 0 .1.1 .2 0 .2 0 .2.1 .1 0 .2 0 .2 0 .2 0 .1 0 .2 0 .2 0 .2 0 .1-.1 .2 0 .2-.1 .2 0 .1-.1 .2 0 .2 0 .2 0 .1 0 .2.1 .2 0 .2.1 .1.1 .2 0 .2.1 .2 0 .1 0 .2 0 .2 0 .2-.1 .1-.1 .2 0 .2-.1 .2-.1 .1 0 .2 0 .2 0 .2 0 .1 0 .2 0 .2 0 .2 0 .1.1 .2 0 .2.1 .2.1 .1.1 .2.1 .2.1 .2 0 .1 0 .2-.1 .2-.1 .2-.1 .1-.1 .2-.1 .2 0 .2 0 .1 0 .2 0 .2-.1 .2 0 .1 0 .2-.1 .2 0 .2.1 .1 0 .2.1 .2.2 .2.1 .1.1 .2 0 .2 0 .2-.1 .1 0 .2-.1 .2 0 .2-.1 .1 0 .2 0 .2-.1 .2 0 .1-.1 .2-.1 .2-.1 .2 0 .1 0 .2.2 .2.2 .2.2 .1.1 .2.3 .2.4 .2.3 .1.1 .2-.3 .2-.6 .2-.9 .1-1 .2-.9 .2-.8 .2-.5 .1-.1 .2.2 .2.6 .2.9 .1 1.1 .2 1.2 .2 1.3 .2 1.1 .1.9 .2.7 .2.5 .2.4 .1.3 .2.2 .2-.1 .2-.4 .1-.9 .2-1.6 .2-2.3 .2-3 .1-3.2 .2-3.1 .2-2 .2-.3 .1 2.2 .2 4.3 .2 5.3 .2 4.1 .1 1 .2-3 .2-6 .2-6 .1-2.9 .2 1.8 .2 5.6 .2 6.8 .1 5 .2 1.8 .2-1.2 .2-3 .1-3.4 .2-2.9 .2-2.5 .2-2 .1-1.6 .2-1 .2.1 .2 1.5 .1 2.9 .2 4.1 .2 4.6 .2 4.2 .1 2.8 .2.9 .2-1.2 .2-3 .1-3.9 .2-4.3 .2-3.8 .2-2.6 .1-1.3 .2-.3 .2.4 .2.7 .1.8 .2 1 .2 1.4 .2 2.1 .1 2.8 .2 3.6 .2 3.7 .2 3.3 .1 1.9 .2-.7 .2-2.8 .2-4.4 .1-5.4 .2-5.5 .2-4.4 .2-2.2 .1.9 .2 4.2 .2 6.4 .2 6.1 .1 2.7 .2-3.1 .2-8.7 .2-11 .1-8.3 .2-1 .2 7.2 .2 11.3 .1 9.7 .2 3.2 .2-4.4 .2-8.8 .1-6.5 .2 1.5 .2 10.6 .2 14.8 .1 10.5 .2 0 .2-9.8 .2-13.4 .1-9.9 .2-2.6 .2 3.3 .2 5.8 .1 5.1 .2 3.2 .2 1.2 .2-.3 .1-1.6 .2-2.5 .2-3.4 .2-3.6 .1-3.4 .2-2.3 .2-.9 .2.7 .1 2.2 .2 3.3 .2 3.8 .2 3.5 .1 2.7 .2 1.4 .2 0 .2-1.4 .1-2.4 .2-2.9 .2-2.8 .2-2.4 .1-1.4 .2-.4 .2.5 .2 1.3 .1 1.6 .2 1.7 .2 1.5 .2 1.2 .1.8 .2.5 .2.1 .2-.2 .1-.4 .2-.6 .2-.7 .2-.9 .1-1.2 .2-1.5 .2-1.7 .2-1.5 .1-1.2 .2-.5 .2.7 .2 2 .1 3 .2 3.7 .2 3.5 .2 2.7 .1 1.1 .2-.6 .2-2.4 .2-3.8 .1-4.3 .2-4 .2-2.8 .2-1.1 .1.7 .2 2.3 .2 3.2 .2 3.5 .1 2.9 .2 1.7 .2.5 .2-.5 .1-1 .2-1.3 .2-1.2 .2-1.1 .1-1.1 .2-1.1 .2-1 .2-.9 .1-.5 .2.3 .2 1 .2 1.7 .1 2.1 .2 2 .2 1.5 .2.6 .1-.7 .2-1.9 .2-2.5 .2-2.5 .1-1.9 .2-.8 .2.6 .2 1.5 .1 2 .2 2 .2 1.5 .2.7 .1.1 .2-.3 .2-.6 .2-.7 .1-.6 .2-.8 .2-.9 .2-1.1 .1-.9 .2-.5 .2 0 .2.8 .1 1.4 .2 1.6 .2 1.6 .2 1 .1.2 .2-.5 .2-1.1 .2-1.3 .1-1.4 .2-1.1 .2-.6 .2 0 .1.3 .2.6 .2.5 .2.3 .1.2 .2.4 .2.8 .2 1.1 .1 1.4 .2 1.1 .2.3 .2-.8 .1-1.9 .2-2.2 .2-2 .2-1.1 .1-.1 .2.8 .2 1.3 .2 1.4 .1.9 .2.5 .2.2 .2-.1 .1-.2 .2-.2 .2-.2 .2-.4 .1-.5 .2-.7 .2-.8 .2-.4 .1.1 .2.9 .2 1.5 .2 1.6 .1 1.1 .2.3 .2-.9 .2-1.6 .1-1.9 .2-1.5 .2-.7 .2.2 .1.9 .2 1.3 .2.9 .2.7 .1.5 .2.4 .2.3 .2.1 .1-.3 .2-.9 .2-1.3 .2-1.4 .1-1.1 .2-.2 .2.7 .2 1.4 .1 1.7 .2 1.3 .2.7 .2-.2 .1-.8 .2-1.1 .2-1 .2-.6 .1-.3 .2 0 .2.2 .2.2 .1.2 .2.3 .2.4 .2.6 .1.7 .2.4 .2.1 .2-.4 .1-1 .2-1.4 .2-1.4 .2-.8 .1.1 .2 1.1 .2 1.6 .2 1.6 .1 1.1 .2.4 .2-.1 .2-.4 .1-.4 .2-.2 .2-.4 .2-.9 .1-1.4 .2-1.7 .2-1.5 .2-.6 .1.6 .2 1.7 .2 2.4 .2 2.4 .1 1.5 .2.4 .2-.5 .2-1 .1-1 .2-.7 .2-.4 .2-.5 .1-.9 .2-1.2 .2-1.2 .2-.8 .2.3 .1 1.5 .2 2.3 .2 2.4 .2 1.7 .1.4 .2-.9 .2-1.7 .2-1.9 .1-1.5 .2-.7 .2 0 .2.1 .1.1 .2.1 .2.3 .2.9 .1 1.5 .2 1.7 .2 1.2 .2.1 .1-1.2 .2-1.9 .2-2 .2-1.1 .1-.2 .2.5 .2.6 .2.3 .1.1 .2.4 .2.9 .2 1.4 .1 1.2 .2.4 .2-.7 .2-1.4 .1-1.4 .2-.8 .2-.2 .2.1 .1-.1 .2-.4 .2-.3 .2.1 .1.7 .2 1.3 .2 1.4 .2.9 .1.2 .2-.5 .2-.8 .2-.7 .1-.4 .2-.3 .2-.3 .2-.5 .1-.7 .2-.6 .2-.2 .2.5 .1 1.1 .2 1.5 .2 1.3 .2.7 .1-.1 .2-.9 .2-1.2 .2-1.2 .1-.7 .2-.2 .2.2 .2.4 .1.3 .2.2 .2.3 .2.5 .1.7 .2.6 .2.4 .2-.3 .1-.9 .2-1.3 .2-1.2 .2-.7 .1.2 .2.7 .2.9 .2.6 .1.3 .2.3 .2.5 .2.8 .1.7 .2.1 .2-.9 .2-1.7 .1-1.8 .2-1.1 .2-.1 .2.7 .1 1 .2.9 .2.5 .2.2 .1.3 .2.6 .2.6 .2.4 .1-.3 .2-.9 .2-1.4 .2-1.3 .1-.9 .2 0 .2.7 .2 1 .1.8 .2.5 .2.3 .2.3 .1.5 .2.5 .2.2 .2-.7 .1-1.4 .2-1.9 .2-1.5 .2-.5 .1.9 .2 1.6 .2 1.8 .2 1.2 .1.4 .2-.2 .2-.4 .2-.4 .1-.2 .2-.4 .2-.8 .2-1.2 .1-1.1 .2-.6 .2.5 .2 1.3 .1 1.8 .2 1.5 .2.6 .2-.2 .1-.8 .2-.8 .2-.5 .2-.4 .1-.3 .2-.7 .2-.8 .2-.5 .1.1 .2 1 .2 1.6 .2 1.6 .1.8 .2-.1 .2-1 .2-1.2 .1-.9 .2-.4 .2-.2 .2-.2 .1-.2 .2-.2 .2.3 .2.9 .1 1.5 .2 1.3 .2.6 .2-.4 .1-1.2 .2-1.5 .2-1.1 .2-.5 .1.1 .2.3 .2.3 .2.1 .1.3 .2.5 .2.9 .2 1.1 .1.7 .2.1 .2-.8 .2-1.4 .1-1.4 .2-1 .2-.3 .2.4 .1.8 .2.8 .2.5 .2.3 .1.3 .2.4 .2.4 .2.1 .1-.4 .2-1.1 .2-1.3 .2-1.1 .1-.4 .2.6 .2 1.3 .2 1.4 .1.9 .2.2 .2-.3 .2-.5 .1-.3 .2-.3 .2-.3 .2-.7 .1-.9 .2-.8 .2 0 .2.8 .1 1.4 .2 1.5 .2.8 .2.1 .1-.7 .2-.7 .2-.6 .2-.4 .1-.3 .2-.4 .2-.6 .2-.5 .1 0 .2.7 .2 1.1 .2 1.3 .1.9 .2.1 .2-.6 .2-1 .1-1 .2-.6 .2-.2 .2 0 .1.2 .2.2 .2.2 .2.3 .1.6 .2.8 .2.7 .2.2 .1-.4 .2-.9 .2-1.3 .2-1.1 .1-.6 .2.1 .2.8 .2 1 .1 1 .2.7 .2.2 .2-.1 .1-.3 .2-.4 .2-.3 .2-.4 .1-.4 .2-.5 .2-.5 .2-.2 .1.1 .2.5 .2 1 .2 1.1 .1.9 .2.3 .2-.3 .2-.9 .1-1.4 .2-1.2 .2-.8 .2-.1 .1.7 .2 1.1 .2 1.3 .2 1 .1.5 .2-.2 .2-.7 .2-1 .1-.9 .2-.6 .2-.3 .2 0 .1.3 .2.4 .2.4 .2.4 .1.3 .2.5 .2.6 .2.4 .1.2 .2-.2 .2-.9 .2-1.2 .1-1.4 .2-1 .2-.2 .2.6 .1 1.2 .2 1.5 .2 1.1 .2.6 .1 0 .2-.5 .2-.6 .2-.5 .1-.4 .2-.4 .2-.6 .2-.8 .1-.6 .2 0 .2.8 .2 1.5 .1 1.5 .2 1 .2.1 .2-.7 .1-1.2 .2-1 .2-.7 .2-.1 .1 0 .2.1 .2-.1 .2 0 .1.4 .2.8 .2 1.1 .2.8 .1.1 .2-.6 .2-1.1 .2-1 .1-.7 .2 0 .2.2 .2.1 .1 0 .2.2 .2.4 .2 1 .1 1.1 .2.6 .2-.2 .2-1 .1-1.3 .2-1 .2-.4 .2.1 .1.5 .2.3 .2.2 .2.3 .1.5 .2.8 .2.6 .2.2 .1-.6 .2-1.1 .2-1.3 .2-.8 .1 0 .2.6 .2.9 .2.7 .1.4 .2.2 .2.1 .2.2 .1.1 .2-.4 .2-.9 .2-1.2 .1-.9 .2-.2 .2.7 .2 1.4 .1 1.3 .2.6 .2 0 .2-.6 .1-.7 .2-.4 .2-.3 .2-.3 .1-.2 .2-.3 .2 0 .2.4 .1.8 .2.8 .2.5 .2 0 .1-.6 .2-.9 .2-.7 .2-.4 .1.1 .2.3 .2.3 .2.2 .1.2 .2.6 .2.8 .2.6 .1 0 .2-.8 .2-1.4 .2-1.3 .1-.5 .2.4 .2.7 .2.7 .1.3 .2.2 .2.3 .2.5 .1.5 .2 0 .2-.6 .2-.9 .1-.9 .2-.4 .2.2 .2.4 .1.3 .2.2 .2.1 .2.2 .1.4 .2.4 .2.3 .2-.2 .1-.5 .2-.7 .2-.6 .2-.2 .1.1 .2.3 .2.3 .2.2 .1.1 .2.2 .2.3 .2.4 .1.2 .2-.2 .2-.5"/><path id="pD1" d="M66.4 176.4l.2 0 .2 0 .2.1 .1.1 .2 0 .2 0 .2 0 .1 0 .2 0 .2-.1 .2 0 .1-.1 .2 0 .2-.1 .2 0 .1 0 .2.1 .2.1 .2.2 .1 0 .2 0 .2 0 .2-.1 .1-.1 .2 0 .2-.1 .2 0 .1 0 .2 0 .2 0 .2 0 .1.1 .2 0 .2.1 .2.1 .1 0 .2-.1 .2-.1 .2-.1 .1-.1 .2 0 .2.1 .2.1 .1.2 .2 0 .2 0 .2-.1 .1-.1 .2-.1 .2 0 .2 0 .1 0 .2 0 .2 0 .2.1 .1.1 .2.1 .2.1 .2 0 .1-.2 .2-.2 .2-.2 .2 0 .1 0 .2.1 .2.1 .2.1 .1 0 .2.1 .2.1 .2.1 .1.1 .2 0 .2-.3 .2-.2 .1-.3 .2-.1 .2.1 .2.1 .1.2 .2.1 .2.1 .2 0 .1.1 .2.2 .2.2 .2 0 .1-.3 .2-.4 .2-.6 .2-.3 .1 0 .2.3 .2.6 .2.5 .1.3 .2.1 .2-.1 .2-.1 .1-.1 .2-.2 .2-.5 .2-.6 .1-.5 .2-.2 .2.4 .2 1 .1 1.2 .2.9 .2.1 .2-.8 .1-1.3 .2-1.4 .2-.7 .2.2 .1.8 .2 1 .2.9 .2.5 .1.2 .2-.2 .2-.2 .2-.6 .1-.9 .2-1.2 .2-1.1 .2-.3 .1.8 .2 2 .2 2.6 .2 2 .1.5 .2-1.2 .2-2.4 .2-2.4 .1-1.4 .2-.4 .2 0 .2-.1 .1-.6 .2-.5 .2.7 .2 2.4 .1 3.6 .2 3.4 .2 1.8 .2-.7 .1-2.6 .2-3.1 .2-2.3 .2-1 .1-.4 .2-.8 .2-1.7 .2-1.9 .1-.8 .2 1.4 .2 3.7 .2 4.6 .1 3.6 .2 1.4 .2-.7 .2-1.9 .1-1.7 .2-.9 .2-.4 .2-.9 .1-2 .2-3 .2-2.6 .2-.8 .1 1.6 .2 3.4 .2 4 .2 2.9 .1 1 .2-.6 .2-1.2 .2-1 .1-.6 .2-.5 .2-1.1 .2-1.8 .1-2.2 .2-1.8 .2-.3 .2 1.6 .1 3 .2 3.3 .2 2.4 .2.7 .1-.7 .2-1.2 .2-.9 .2-.3 .1-.3 .2-1 .2-2.2 .2-2.8 .1-2.4 .2-.4 .2 1.8 .2 2.9 .1 2.9 .2 1.7 .2.5 .2-.3 .1-.2 .2.3 .2.5 .2.2 .1-.8 .2-1.5 .2-1.9 .2-1.3 .1-.5 .2.4 .2.6 .2.5 .1.2 .2-.1 .2.1 .2.7 .1 1.3 .2 1.5 .2 1.1 .2 0 .1-.8 .2-1.2 .2-.9 .2-.4 .1 0 .2-.3 .2-.9 .2-1.3 .1-1.2 .2-.4 .2.8 .2 1.4 .1 1.5 .2.9 .2.3 .2 0 .1.2 .2.6 .2.7 .2.3 .1-.7 .2-1.5 .2-1.8 .2-1.3 .1-.4 .2.7 .2 1.1 .2 1.1 .1.7 .2.3 .2.1 .2 0 .1-.1 .2-.2 .2-.5 .2-.8 .1-.8 .2-.4 .2.1 .2.6 .1.9 .2.9 .2.6 .2.1 .1-.3 .2-.4 .2-.2 .2-.1 .1 0 .2-.1 .2-.4 .2-.7 .1-.6 .2-.4 .2.1 .2.4 .1.4 .2.3 .2 0 .2 0 .1.2 .2.6 .2.9 .2 1 .1.4 .2-.3 .2-.9 .2-1.1 .1-.8 .2-.4 .2-.1 .2-.2 .1-.6 .2-.6 .2-.1 .2.8 .1 1.5 .2 1.8 .2 1.2 .2.2 .1-.7 .2-1 .2-.6 .2-.3 .1-.2 .2-.6 .2-1.2 .2-1.3 .1-.6 .2.6 .2 1.6 .2 1.6 .1 1 .2.2 .2-.2 .2 0 .1.2 .2.2 .2-.4 .2-1 .1-1.3 .2-1 .2-.2 .2.7 .1 1.2 .2 1.1 .2.7 .2.1 .1-.6 .2-.8 .2-.8 .2-.5 .1-.1 .2.3 .2.5 .2.6 .1.6 .2.4 .2.2 .2-.2 .1-.8 .2-1.1 .2-1.1 .2-.5 .1.4 .2 1.1 .2 1.5 .2 1.3 .1.5 .2-.5 .2-1.1 .2-1.4 .1-1.1 .2-.3 .2.3 .2.8 .1.8 .2.6 .2.3 .2 0 .1-.2 .2-.1 .2-.2 .2-.3 .1-.3 .2-.5 .2-.3 .2-.1 .1.3 .2.6 .2.7 .2.6 .1.1 .2-.3 .2-.5 .2-.6 .1-.4 .2-.2 .2.1 .2.2 .1.2 .2.1 .2.2 .2.4 .1.5 .2.3 .2-.2 .2-.7 .1-.9 .2-.6 .2-.1 .2.5 .1.6 .2.4 .2.2 .2.2 .1.2 .2.3 .2.1 .2-.4 .1-.9 .2-1 .2-.6 .2 0 .1.5 .2.7 .2.4 .2.1 .1.1 .2.3 .2.6 .2.6 .1.2 .2-.3 .2-.6 .2-.7 .1-.5 .2-.2 .2 0 .2 0 .1-.1 .2-.2 .2-.1 .2.1 .1.3 .2.5 .2.4 .2.3 .1.2 .2-.1 .2-.2 .2-.2 .1-.1 .2 0 .2-.2 .2-.3 .1-.6 .2-.5 .2-.3 .2.2 .1.6 .2.9 .2.7 .2.5 .1 0 .2-.2 .2-.3 .2-.3 .1-.1 .2-.2 .2-.3 .2-.6 .1-.5 .2-.4 .2.1 .2.5 .1 1 .2.9 .2.7 .2.1 .1-.5 .2-.7 .2-.7 .2-.5 .2-.2 .1.1 .2.1 .2.3 .2.2 .1.3 .2.4 .2.3 .2.1 .1-.2 .2-.5 .2-.6 .2-.6 .1-.3 .2.2 .2.7 .2.9 .1.8 .2.4 .2-.3 .2-.8 .1-1.1 .2-.8 .2-.3 .2.2 .1.6 .2.8 .2.6 .2.4 .1.1 .2-.1 .2-.2 .2-.4 .1-.4 .2-.5 .2-.5 .2-.3 .1 0 .2.3 .2.8 .2.9 .1.8 .2.3 .2-.3 .2-.8 .1-1 .2-.8 .2-.5 .2.2 .1.5 .2.7 .2.6 .2.3 .1.1 .2-.1 .2-.1 .2-.1 .1-.2 .2-.3 .2-.5 .2-.4 .1-.2 .2.2 .2.6 .2.7 .1.7 .2.2 .2-.3 .2-.7 .1-.6 .2-.4 .2-.1 .2.1 .1.3 .2.2 .2.1 .2.2 .1.3 .2.2 .2.2 .2 0 .1-.3 .2-.5 .2-.5 .2-.3 .1-.1 .2.3 .2.3 .2.3 .1.1 .2.1 .2 0 .2.1 .1.1 .2.1 .2 0 .2-.3 .1-.4 .2-.4 .2-.2 .2.1 .1.3 .2.3 .2.2 .2.1 .1.1 .2.2 .2.2 .2.1 .1-.1 .2-.6 .2-.7 .2-.5 .1-.1 .2.4 .2.6 .2.4 .1.2 .2.1 .2.1 .2.2 .1 0 .2-.2 .2-.6 .2-.8 .1-.5 .2 0 .2.6 .2.7 .1.6 .2.3 .2 0 .2-.2 .1-.1 .2-.1 .2-.2 .2-.5 .1-.7 .2-.6 .2-.2 .2.4 .1.8 .2 1 .2.6 .2.2 .1-.2 .2-.2 .2-.1 .2 0 .1-.1 .2-.5 .2-.7 .2-.7 .1-.4 .2.1 .2.7 .2.8 .1.6 .2.3 .2-.1 .2-.1 .1-.2 .2-.1 .2-.2 .2-.4 .1-.5 .2-.4 .2 0 .2.6 .1.8 .2.8 .2.2 .2-.2 .1-.7 .2-.7 .2-.4 .2-.1 .1.1 .2.1 .2.2 .2.1 .1.2 .2.4 .2.4 .2.4 .1 0 .2-.4 .2-.5 .2-.6 .1-.3 .2-.1 .2.2 .2.2 .1.1 .2 0 .2.1 .2.1 .1.3 .2.4 .2.3 .2.1 .1-.2 .2-.5 .2-.5 .2-.4 .1-.1 .2 0 .2.1 .2.1 .1 0 .2 0 .2.1 .2.4 .1.6 .2.4 .2.3 .2-.2 .1-.5 .2-.7 .2-.6 .2-.3 .1 0 .2.3 .2.4 .2.4 .1.2 .2.1 .2.2 .2.1 .1-.1 .2-.2 .2-.4 .2-.6 .1-.5 .2-.1 .2.3 .2.7 .1.8 .2.5 .2 0 .2-.3 .1-.5 .2-.4 .2-.2 .2-.1 .1-.1 .2-.3 .2-.2 .2.1 .1.6 .2.7 .2.7 .2.3 .1-.3 .2-.5 .2-.5 .2-.4 .1-.1 .2-.1 .2-.2 .2-.3 .1-.2 .2.3 .2.7 .2.8 .1.5 .2 0 .2-.2 .2-.4 .1-.3 .2 0 .2-.1 .2-.2 .1-.3 .2-.3 .2-.2 .2.2 .1.3 .2.3 .2.2 .2.1 .1 0 .2 0 .2.2 .2.2 .1.1 .2 0 .2-.2 .2-.3 .1-.2 .2-.2 .2 0 .2 0 .1-.1 .2-.1 .2-.2 .2-.1 .1.1 .2.4 .2.5 .2.4 .1.2 .2-.1 .2-.3 .2-.4 .1-.3 .2-.2 .2-.1 .2-.1 .1-.1 .2.2 .2.3 .2.6 .1.5 .2.3 .2-.1 .2-.6 .1-.8 .2-.7 .2-.4 .2.2 .1.6 .2.7 .2.5 .2.2 .1 0 .2-.2 .2-.2 .2-.1 .1-.1 .2-.3 .2-.4 .2-.4 .1-.3 .2.1 .2.5 .2.7 .1.7 .2.4 .2.1 .2-.3 .1-.4 .2-.4 .2-.3 .2-.1 .1-.1 .2-.2 .2-.2 .2-.2 .1-.1 .2.2 .2.3 .2.5 .1.5 .2.3 .2 0 .2-.1 .1-.4 .2-.3 .2-.2 .2-.1 .1 0 .2 0 .2.1 .2.1 .1.2 .2.1 .2.1 .2 0 .1 0 .2-.1 .2-.1 .2-.3 .1-.2 .2-.2 .2-.1 .2.1 .1.4 .2.5 .2.5 .2.2 .1 0 .2-.3 .2-.5 .2-.5 .1-.4 .2-.1 .2.1 .2.2 .1.3 .2.2 .2.2 .2.1 .1 0 .2 0 .2.1 .2-.1 .1-.1 .2-.3 .2-.3 .2-.2 .1 0 .2.2 .2.4 .2.5 .1.3 .2-.1 .2-.4 .2-.5 .1-.5 .2-.1 .2.2 .2.5 .1.5 .2.4 .2 0 .2-.2 .1-.5 .2-.4 .2-.3 .2 0 .1.1 .2.1 .2.1 .2.2 .1.2 .2.3 .2.3 .2.3 .1 0 .2-.3 .2-.5 .2-.6 .1-.4 .2-.3 .2.1 .2.4 .1.4 .2.4 .2.2 .2.1 .1-.1 .2 0 .2 0 .2-.1 .1-.1 .2-.2 .2-.3 .2-.4 .1-.2 .2 0 .2.4 .2.6 .1.5 .2.4 .2 0 .2-.3 .1-.5 .2-.4 .2-.3 .2-.1 .1 0 .2 0 .2.1 .2.3 .1.5 .2.5 .2.3"/><g id="w1"><use href="#pE1" fill="none" stroke="#5050ff" stroke-width="1.35" stroke-linejoin="round"/><use href="#pE1" fill="none" stroke="#0000ff" stroke-width="1.15" stroke-linejoin="round" stroke-dasharray="4 1.3"/><use href="#pN1" fill="none" stroke="#000000" stroke-width="1.0" stroke-linejoin="round"/><use href="#pD1" fill="none" stroke="#ff5a5a" stroke-width="1.0" stroke-linejoin="round"/><use href="#pD1" fill="none" stroke="#ff0000" stroke-width="0.9" stroke-linejoin="round" stroke-dasharray="4 1.3"/></g><clipPath id="c00"><rect x="58.20" y="6.30" width="181.00" height="106.00"/></clipPath><clipPath id="c01"><rect x="275.50" y="6.30" width="181.00" height="106.00"/></clipPath><clipPath id="c02"><rect x="492.80" y="6.30" width="181.00" height="106.00"/></clipPath><clipPath id="c10"><rect x="58.20" y="134.10" width="181.00" height="106.00"/></clipPath><clipPath id="c11"><rect x="275.50" y="134.10" width="181.00" height="106.00"/></clipPath><clipPath id="c12"><rect x="492.80" y="134.10" width="181.00" height="106.00"/></clipPath><clipPath id="c20"><rect x="58.20" y="261.40" width="181.00" height="106.00"/></clipPath><clipPath id="c21"><rect x="275.50" y="261.40" width="181.00" height="106.00"/></clipPath><clipPath id="c22"><rect x="492.80" y="261.40" width="181.00" height="106.00"/></clipPath><clipPath id="c30"><rect x="58.20" y="389.50" width="181.00" height="106.00"/></clipPath><clipPath id="c31"><rect x="275.50" y="389.50" width="181.00" height="106.00"/></clipPath><clipPath id="c32"><rect x="492.80" y="389.50" width="181.00" height="106.00"/></clipPath></defs><rect width="685" height="536" fill="#fff"/><line x1="58.20" y1="27.50" x2="239.20" y2="27.50" stroke="#b8b8b8" stroke-width="0.9"/><line x1="58.20" y1="48.70" x2="239.20" y2="48.70" stroke="#b8b8b8" stroke-width="0.9"/><line x1="58.20" y1="69.90" x2="239.20" y2="69.90" stroke="#b8b8b8" stroke-width="0.9"/><line x1="58.20" y1="91.10" x2="239.20" y2="91.10" stroke="#b8b8b8" stroke-width="0.9"/><line x1="275.50" y1="27.50" x2="456.50" y2="27.50" stroke="#b8b8b8" stroke-width="0.9"/><line x1="275.50" y1="48.70" x2="456.50" y2="48.70" stroke="#b8b8b8" stroke-width="0.9"/><line x1="275.50" y1="69.90" x2="456.50" y2="69.90" stroke="#b8b8b8" stroke-width="0.9"/><line x1="275.50" y1="91.10" x2="456.50" y2="91.10" stroke="#b8b8b8" stroke-width="0.9"/><line x1="492.80" y1="27.50" x2="673.80" y2="27.50" stroke="#b8b8b8" stroke-width="0.9"/><line x1="492.80" y1="48.70" x2="673.80" y2="48.70" stroke="#b8b8b8" stroke-width="0.9"/><line x1="492.80" y1="69.90" x2="673.80" y2="69.90" stroke="#b8b8b8" stroke-width="0.9"/><line x1="492.80" y1="91.10" x2="673.80" y2="91.10" stroke="#b8b8b8" stroke-width="0.9"/><line x1="58.20" y1="155.30" x2="239.20" y2="155.30" stroke="#b8b8b8" stroke-width="0.9"/><line x1="58.20" y1="176.50" x2="239.20" y2="176.50" stroke="#b8b8b8" stroke-width="0.9"/><line x1="58.20" y1="197.70" x2="239.20" y2="197.70" stroke="#b8b8b8" stroke-width="0.9"/><line x1="58.20" y1="218.90" x2="239.20" y2="218.90" stroke="#b8b8b8" stroke-width="0.9"/><line x1="275.50" y1="155.30" x2="456.50" y2="155.30" stroke="#b8b8b8" stroke-width="0.9"/><line x1="275.50" y1="176.50" x2="456.50" y2="176.50" stroke="#b8b8b8" stroke-width="0.9"/><line x1="275.50" y1="197.70" x2="456.50" y2="197.70" stroke="#b8b8b8" stroke-width="0.9"/><line x1="275.50" y1="218.90" x2="456.50" y2="218.90" stroke="#b8b8b8" stroke-width="0.9"/><line x1="492.80" y1="155.30" x2="673.80" y2="155.30" stroke="#b8b8b8" stroke-width="0.9"/><line x1="492.80" y1="176.50" x2="673.80" y2="176.50" stroke="#b8b8b8" stroke-width="0.9"/><line x1="492.80" y1="197.70" x2="673.80" y2="197.70" stroke="#b8b8b8" stroke-width="0.9"/><line x1="492.80" y1="218.90" x2="673.80" y2="218.90" stroke="#b8b8b8" stroke-width="0.9"/><line x1="58.20" y1="287.90" x2="239.20" y2="287.90" stroke="#b8b8b8" stroke-width="0.9"/><line x1="58.20" y1="314.40" x2="239.20" y2="314.40" stroke="#b8b8b8" stroke-width="0.9"/><line x1="58.20" y1="340.90" x2="239.20" y2="340.90" stroke="#b8b8b8" stroke-width="0.9"/><line x1="275.50" y1="287.90" x2="456.50" y2="287.90" stroke="#b8b8b8" stroke-width="0.9"/><line x1="275.50" y1="314.40" x2="456.50" y2="314.40" stroke="#b8b8b8" stroke-width="0.9"/><line x1="275.50" y1="340.90" x2="456.50" y2="340.90" stroke="#b8b8b8" stroke-width="0.9"/><line x1="492.80" y1="287.90" x2="673.80" y2="287.90" stroke="#b8b8b8" stroke-width="0.9"/><line x1="492.80" y1="314.40" x2="673.80" y2="314.40" stroke="#b8b8b8" stroke-width="0.9"/><line x1="492.80" y1="340.90" x2="673.80" y2="340.90" stroke="#b8b8b8" stroke-width="0.9"/><use href="#w0" transform="translate(0.00 0)"/><path d="M66.4 91.2l.3-.1 .3-.1 .3 0 .3 0 .3.1 .3.1 .3.1 .3 0 .3-.1 .2-.1 .3-.1 .3 0 .3 0 .3 0 .3-.1 .3-.1 .3.1 .3.2 .3.2 .3.2 .3-.1 .2-.2 .3-.1 .3-.1 .3 0 .3-.1 .3-.1 .3.1 .3.2 .3.2 .3.1 .3 0 .3-.1 .2-.1 .3-.1 .3 0 .3 0 .3-.1 .3 0 .3-.1 .3 0 .3.1 .3.2 .3.1 .3 0 .2-.1 .3-.2 .3-.1 .3 0 .3.2 .3.2 .3.1 .3-.2 .3-.3 .3-.2 .3.2 .3.4 .2.2 .3-.2 .3-.4 .3-.1 .3.2 .3.2 .3.1 .3-.1 .3-.2 .3 0 .3 0 .3 0 .2.1 .3 0 .3.1 .3.1 .3 0 .3 0 .3-.2 .3-.2 .3-.1 .3 0 .3.2 .3.2 .3 0 .2 0 .3 0 .3 0 .3 0 .3-.1 .3-.1 .3-.1 .3 0 .3.1 .3.1 .3.1 .3 0 .2 0 .3 0 .3.1 .3 0 .3 0 .3-.2 .3-.1 .3-.1 .3 0 .3 0 .3.1 .3 0 .2.1 .3.2 .3.2 .3 0 .3-.3 .3-.4 .3-.1 .3.2 .3.3 .3.2 .3-.1 .3-.3 .2-.2 .3.2 .3.3 .3 0 .3-.2 .3-.2 .3 0 .3.3 .3.1 .3 0 .3-.3 .3-.1 .2 0 .3.2 .3.2 .3 0 .3-.2 .3-.2 .3 0 .3.2 .3.2 .3 0 .3-.3 .3-.2 .2.1 .3.3 .3.2 .3-.1 .3-.3 .3-.2 .3.1 .3.1 .3.1 .3 0 .3 0 .3.1 .2.1 .3.1 .3-.1 .3-.1 .3 0 .3-.1 .3 0 .3 0 .3-.1 .3-.1 .3 0 .3.1 .2.2 .3.2 .3 0 .3-.2 .3-.3 .3-.1 .3.1 .3.1 .3.2 .3 0 .3 0 .3 0 .3 0 .2-.1 .3-.1 .3-.2 .3 0 .3.1 .3.3 .3.2 .3 0 .3-.1 .3 0 .3 0 .3-.1 .2-.3 .3-.2 .3 0 .3.2 .3.3 .3.1 .3 0 .3-.1 .3-.1 .3-.1 .3-.1 .3.1 .2.1 .3.2 .3 0 .3-.1 .3-.3 .3-.2 .3 0 .3.2 .3.3 .3.1 .3 0 .3-.1 .2.1 .3.1 .3 0 .3-.1 .3-.2 .3 0 .3 0 .3 0 .3-.1 .3-.1 .3-.1 .3 0 .2.2 .3.1 .3 0 .3 0 .3.1 .3.2 .3.1 .3-.1 .3-.2 .3-.2 .3-.1 .3 0 .2 0 .3 0 .3 0 .3.1 .3.1 .3.2 .3.1 .3 0 .3-.1 .3-.1 .3.1 .3 0 .2 0 .3-.1 .3-.1 .3-.2 .3-.1 .3 0 .3.1 .3.1 .3 0 .3.1 .3.1 .3.1 .2 0 .3-.1 .3-.3 .3-.1 .3 0 .3.2 .3.3 .3.2 .3-.2 .3-.3 .3-.2 .3 0 .2.2 .3.3 .3.1 .3 0 .3-.3 .3-.2 .3 0 .3 0 .3.1 .3-.1 .3 0 .3.1 .3.1 .2.2 .3 0 .3 0 .3-.1 .3 0 .3 0 .3-.2 .3-.1 .3 0 .3.2 .3.2 .3 0 .2-.2 .3-.2 .3 0 .3.1 .3.1 .3 0 .3.1 .3.1 .3.1 .3 0 .3-.1 .3-.1 .2.1 .3.1 .3 0 .3-.2 .3-.1 .3-.1 .3 0 .3 0 .3-.1 .3 0 .3 0 .3.2 .2.1 .3.1 .3-.1 .3-.1 .3 0 .3 0 .3 0 .3-.1 .3 0 .3 0 .3.1 .3.1 .2 0 .3 0 .3.1 .3.1 .3 0 .3-.1 .3-.2 .3-.1 .3 0 .3 0 .3 0 .3-.1 .2-.1 .3.1 .3.1 .3.3 .3.1 .3-.1 .3-.1 .3-.2 .3-.1 .3 0 .3.2 .3.2 .2 0 .3-.2 .3-.2 .3 0 .3.2 .3.1 .3.1 .3 0 .3-.1 .3-.1 .3-.1 .3-.1 .2 0 .3 0 .3.2 .3.2 .3.1 .3 0 .3-.1 .3-.2 .3-.1 .3 0 .3 0 .3 0 .2 0 .3-.1 .3 0 .3 0 .3.2 .3.1 .3.1 .3 0 .3-.1 .3-.1 .3 0 .3-.1 .3 0 .2.1 .3 0 .3 0 .3 0 .3 0 .3-.1 .3 0 .3.2 .3 0 .3-.2 .3 0 .3.3 .2.1 .3-.4 .3-.2 .3.1 .3.3 .3.2 .3-.1 .3-.1 .3 0 .3.1 .3-.1 .3-.2 .2-.1 .3-.1 .3.1 .3 0 .3 0 .3-.1 .3.1 .3.2 .3.2 .3.1 .3-.1 .3 0 .2-.1 .3 0 .3-.1 .3-.2 .3-.2 .3 0 .3.2 .3.4 .3.1 .3 0 .3-.1 .3-.2 .2-.1 .3 0 .3 0 .3-.1 .3.1 .3 0 .3.2 .3.1 .3 0 .3 0 .3-.2 .3-.1 .2 0 .3 0 .3 0 .3.1 .3 0 .3.1 .3 0 .3 0 .3 0 .3-.1 .3-.2 .3 0 .2 0 .3.2 .3.2 .3.1 .3-.1 .3-.1 .3-.1 .3 0 .3 0 .3 0 .3-.2 .3-.1 .2 0 .3.1 .3.1 .3.1 .3 0 .3 0 .3.1 .3.1 .3 0 .3 0 .3-.2 .3-.1 .3-.1 .2 0 .3.1 .3.2 .3 0 .3 0 .3 0 .3-.1 .3-.1 .3-.1 .3.1 .3.1 .3.2 .2.1 .3-.2 .3-.2 .3-.2 .3-.1 .3.2 .3.3 .3.1 .3 0 .3 0 .3-.1 .3 0 .2 0 .3-.1 .3-.1 .3-.2 .3 0 .3.1 .3.1 .3.1 .3.1 .3 0 .3 0 .3.1 .2.1 .3-.1 .3-.1 .3-.2 .3-.1 .3 0 .3 0 .3.1 .3 0 .3 0 .3 0 .3.2 .2.1 .3.1 .3 0 .3-.2 .3-.1 .3-.1 .3 0 .3 0 .3-.1 .3 0 .3.1 .3.1 .2.2 .3.1 .3 0 .3-.1 .3-.1 .3-.1 .3.1 .3 0 .3-.1" fill="none" stroke="#000000" stroke-width="0.8" stroke-opacity="0.35"/><path d="M66.4 90.9l.3 0 .3-.1 .3 0 .3 0 .3.2 .3.3 .3.3 .3 0 .3-.4 .2-.5 .3-.2 .3.3 .3.6 .3.2 .3-.2 .3-.4 .3-.3 .3 0 .3.3 .3.3 .3.2 .2-.1 .3-.4 .3-.3 .3-.1 .3.2 .3.4 .3.3 .3.1 .3-.2 .3-.1 .3-.1 .3-.1 .2-.1 .3-.3 .3-.2 .3.1 .3.2 .3.3 .3.2 .3.1 .3 0 .3 0 .3-.1 .3-.1 .2-.3 .3-.3 .3 0 .3.3 .3.5 .3.3 .3 0 .3-.4 .3-.4 .3-.2 .3 0 .3.2 .2 0 .3 0 .3 0 .3.2 .3.3 .3.2 .3 0 .3-.2 .3-.2 .3-.1 .3 0 .3-.1 .2-.3 .3-.3 .3.1 .3.4 .3.5 .3.3 .3.1 .3.2 .3.3 .3.5 .3.4 .3.2 .3 0 .2 0 .3.1 .3 0 .3-.1 .3-.4 .3-.4 .3-.4 .3-.2 .3-.1 .3-.2 .3-.3 .3-.6 .2-.6 .3-.6 .3-.8 .3-1 .3-1.3 .3-1.3 .3-.9 .3-.4 .3-.1 .3.3 .3.5 .3.8 .2 1.1 .3 1.2 .3 1.2 .3 1 .3.6 .3.3 .3.2 .3.3 .3.5 .3.5 .3.5 .3.4 .2.3 .3.1 .3-.2 .3-.6 .3-.8 .3-.5 .3 0 .3.3 .3.2 .3-.4 .3-.7 .3-.3 .2.3 .3.6 .3.1 .3-.4 .3-.5 .3-.1 .3.3 .3.5 .3.3 .3 0 .3-.5 .3-.4 .2-.2 .3.1 .3.1 .3.1 .3.1 .3.1 .3.3 .3.2 .3-.2 .3-.4 .3-.4 .3 0 .2.4 .3.4 .3.2 .3-.2 .3-.4 .3-.2 .3 0 .3.1 .3.1 .3 0 .3.1 .3.3 .2.2 .3.1 .3-.2 .3-.3 .3-.2 .3-.1 .3 0 .3-.1 .3-.2 .3.1 .3.4 .3.4 .3.1 .2-.1 .3-.3 .3-.2 .3-.1 .3 0 .3 0 .3.2 .3.2 .3 0 .3-.2 .3-.1 .3 0 .2.2 .3.1 .3-.1 .3-.2 .3-.1 .3.1 .3.2 .3.1 .3.1 .3 0 .3-.2 .3-.3 .2-.3 .3 0 .3.2 .3.4 .3.3 .3 0 .3-.2 .3-.2 .3-.2 .3-.1 .3.1 .3.2 .2.2 .3.1 .3-.2 .3-.2 .3-.2 .3-.1 .3.2 .3.4 .3.3 .3.1 .3-.2 .3-.4 .2-.3 .3-.2 .3.1 .3.1 .3.1 .3 0 .3 0 .3.1 .3.3 .3.2 .3.1 .3-.1 .2-.1 .3-.1 .3-.2 .3-.1 .3-.1 .3 0 .3.1 .3.2 .3.1 .3-.2 .3-.3 .3.3 .2.4 .3-.4 .3-.4 .3.2 .3.5 .3.1 .3-.4 .3-.3 .3 0 .3.3 .3.3 .3 0 .2-.2 .3-.3 .3-.1 .3.1 .3.1 .3.2 .3.1 .3.1 .3-.1 .3-.2 .3-.3 .3-.1 .2.2 .3.5 .3.2 .3-.1 .3-.4 .3-.3 .3-.1 .3.1 .3.2 .3 0 .3.1 .3.1 .3.2 .2.2 .3 0 .3-.2 .3-.3 .3-.3 .3-.1 .3 0 .3.1 .3.1 .3.1 .3.1 .3.2 .2.2 .3.1 .3 0 .3-.3 .3-.3 .3-.3 .3-.1 .3 0 .3.2 .3.2 .3.1 .3 0 .2.1 .3.1 .3.2 .3 0 .3-.1 .3-.4 .3-.3 .3-.1 .3.2 .3.4 .3.3 .3 0 .2-.3 .3-.3 .3-.1 .3.1 .3.2 .3.2 .3.1 .3-.2 .3-.2 .3-.2 .3.1 .3.2 .2.2 .3.1 .3-.2 .3-.2 .3-.2 .3.1 .3.2 .3.3 .3 0 .3-.2 .3-.3 .3-.1 .2.1 .3.3 .3.3 .3-.1 .3-.4 .3-.4 .3 0 .3.6 .3.5 .3 0 .3-.5 .3-.7 .2-.1 .3.4 .3.6 .3.4 .3-.2 .3-.4 .3-.4 .3-.2 .3.1 .3.2 .3.2 .3 0 .2.1 .3.2 .3.1 .3-.1 .3-.2 .3-.3 .3-.2 .3 0 .3.3 .3.4 .3.2 .3-.1 .2-.4 .3-.5 .3-.1 .3.3 .3.5 .3.3 .3-.1 .3-.2 .3-.2 .3-.2 .3-.1 .3 0 .3.1 .2.2 .3.3 .3.2 .3 0 .3-.4 .3-.4 .3-.3 .3.1 .3.3 .3.3 .3.1 .3.1 .2 0 .3 0 .3-.1 .3-.2 .3-.3 .3-.2 .3.1 .3.3 .3.4 .3.2 .3-.1 .3-.3 .2-.3 .3-.1 .3.1 .3.1 .3 0 .3.1 .3.1 .3.1 .3 0 .3.1 .3-.1 .3-.2 .2-.2 .3-.1 .3.1 .3-.1 .3-.1 .3-.1 .3.2 .3.4 .3.3 .3.2 .3 0 .3-.2 .2-.2 .3-.1 .3 0 .3-.1 .3-.2 .3-.2 .3-.2 .3 0 .3.2 .3.3 .3.1 .3 0 .2.1 .3.1 .3.1 .3.1 .3-.1 .3-.3 .3-.4 .3-.1 .3.3 .3.5 .3.2 .3-.2 .2-.5 .3-.3 .3.1 .3.5 .3.4 .3 0 .3-.5 .3-.5 .3-.1 .3.4 .3.5 .3.3 .2-.2 .3-.5 .3-.3 .3 0 .3.3 .3.2 .3.2 .3 0 .3-.1 .3-.2 .3-.3 .3-.2 .3.2 .2.4 .3.4 .3-.1 .3-.4 .3-.3 .3 0 .3.2 .3.1 .3.1 .3 0 .3 0 .3-.1 .2-.1 .3 0 .3 0 .3.2 .3.1 .3-.1 .3-.2 .3-.2 .3.1 .3.4 .3.2 .3-.2 .2-.4 .3-.3 .3.2 .3.4 .3.3 .3-.1 .3-.2 .3-.3 .3-.1 .3.1 .3.2 .3.2 .2.1 .3-.1 .3-.2 .3-.2 .3-.2 .3.1 .3.2 .3.3 .3.1 .3 0 .3-.1 .3 0 .2 0 .3-.1 .3-.1 .3-.1 .3-.1 .3 0 .3.1 .3 0 .3 0 .3-.1 .3-.1 .3 0 .2.1 .3 0 .3-.1 .3-.2 .3 0 .3.3 .3.4 .3.3 .3-.1" fill="none" stroke="#0000ff" stroke-width="1.0" stroke-opacity="0.55"/><path d="M66.4 91l.3.4 .3.1 .3-.1 .3 0 .3.2 .3 0 .3-.6 .3-.4 .3 0 .2.3 .3.2 .3.2 .3.2 .3-.1 .3-.5 .3-.4 .3.3 .3.7 .3.1 .3-.6 .3-.4 .2.4 .3.6 .3-.2 .3-.6 .3-.1 .3.5 .3.3 .3-.2 .3-.3 .3-.3 .3.2 .3.2 .2.2 .3.1 .3.1 .3 0 .3-.4 .3-.6 .3-.2 .3.7 .3.7 .3-.1 .3-.6 .3-.3 .2.2 .3.3 .3.2 .3-.2 .3-.3 .3-.1 .3.3 .3.4 .3-.2 .3-.4 .3-.2 .3.4 .2.4 .3-.1 .3-.4 .3-.3 .3.1 .3.4 .3.4 .3-.2 .3-.5 .3-.3 .3.2 .3.6 .2.3 .3-.3 .3-.6 .3-.2 .3.3 .3.5 .3-.1 .3-.5 .3-.4 .3-.1 .3 0 .3-.1 .3-.5 .2-.5 .3-.1 .3.5 .3.4 .3.2 .3 0 .3.3 .3.4 .3.5 .3.5 .3.4 .3.3 .2 0 .3-.4 .3-.6 .3-.5 .3-.2 .3-.3 .3-.3 .3-.3 .3.2 .3.3 .3.2 .3.1 .2.1 .3.2 .3.2 .3-.2 .3-.3 .3-.3 .3 0 .3.2 .3 0 .3-.1 .3-.3 .3-.3 .2-.3 .3-.2 .3 0 .3.3 .3.5 .3.5 .3.1 .3-.1 .3 0 .3.1 .3.1 .3-.1 .2-.1 .3-.1 .3.1 .3.1 .3-.1 .3-.1 .3 0 .3.4 .3.4 .3.2 .3-.3 .3-.4 .2-.2 .3 0 .3.3 .3.2 .3.1 .3-.2 .3-.3 .3-.1 .3.1 .3.4 .3.3 .3-.2 .2-.6 .3-.3 .3.4 .3.7 .3.2 .3-.6 .3-.7 .3 0 .3.6 .3.5 .3-.1 .3-.4 .2-.3 .3 0 .3.1 .3.2 .3.3 .3.1 .3-.4 .3-.4 .3 0 .3.5 .3.4 .3-.2 .3-.6 .2-.2 .3.4 .3.4 .3 0 .3-.3 .3-.3 .3.1 .3.1 .3.2 .3.2 .3-.1 .3-.4 .2-.3 .3.2 .3.6 .3.2 .3-.3 .3-.5 .3-.1 .3.3 .3.3 .3.1 .3-.2 .3-.2 .2-.1 .3-.1 .3.2 .3.3 .3.3 .3-.2 .3-.5 .3-.3 .3.1 .3.3 .3.2 .3.1 .2 0 .3 0 .3-.1 .3-.1 .3-.1 .3-.1 .3-.1 .3.2 .3.3 .3.2 .3-.1 .3-.1 .2-.3 .3-.1 .3-.1 .3-.1 .3.1 .3.2 .3.4 .3.2 .3-.1 .3-.3 .3-.3 .3 0 .2 0 .3 0 .3 0 .3.1 .3.2 .3.2 .3 0 .3-.3 .3-.2 .3-.1 .3.2 .3.1 .2.1 .3.1 .3 0 .3 0 .3-.3 .3-.3 .3 0 .3.3 .3.4 .3.2 .3-.2 .3-.3 .2-.2 .3-.1 .3.1 .3 0 .3.1 .3.2 .3.2 .3 0 .3-.1 .3-.3 .3-.3 .3 0 .2.2 .3.4 .3.2 .3 0 .3-.3 .3-.3 .3-.1 .3.1 .3 0 .3.1 .3.1 .3.2 .3.2 .2-.1 .3-.3 .3-.3 .3 0 .3.2 .3.2 .3.1 .3 0 .3-.1 .3-.3 .3-.1 .3.3 .2.3 .3 0 .3-.4 .3-.4 .3 0 .3.3 .3.3 .3 0 .3 0 .3.1 .3.3 .3 0 .2-.2 .3-.1 .3.1 .3.1 .3.1 .3-.2 .3-.2 .3-.2 .3-.1 .3 0 .3 0 .3.2 .2.1 .3.2 .3 0 .3-.3 .3-.4 .3-.2 .3.5 .3.6 .3.1 .3-.5 .3-.6 .3.1 .2.3 .3.3 .3.1 .3 0 .3-.2 .3-.3 .3-.3 .3.1 .3.6 .3.4 .3-.1 .3-.5 .2-.4 .3-.1 .3.3 .3.4 .3.2 .3-.2 .3-.3 .3-.2 .3.2 .3.2 .3.1 .3-.2 .2-.2 .3 0 .3.1 .3.2 .3.1 .3.1 .3 0 .3-.2 .3-.3 .3-.1 .3 0 .3.1 .2-.1 .3-.2 .3 0 .3.2 .3.3 .3.1 .3.1 .3.1 .3 0 .3-.1 .3-.3 .3-.3 .2 0 .3.4 .3.4 .3 0 .3-.3 .3-.3 .3-.1 .3.1 .3.1 .3.1 .3.2 .3.2 .3 0 .2-.3 .3-.5 .3-.1 .3.2 .3.1 .3-.1 .3.1 .3.4 .3.2 .3 0 .3-.2 .3 0 .2.1 .3 0 .3-.3 .3-.3 .3-.1 .3.1 .3.2 .3.1 .3.1 .3.2 .3.1 .3-.2 .2-.5 .3-.2 .3.2 .3.5 .3.3 .3-.2 .3-.4 .3-.2 .3.1 .3.3 .3.1 .3 0 .2-.2 .3-.1 .3-.2 .3 0 .3.3 .3.4 .3.2 .3-.5 .3-.6 .3-.1 .3.4 .3.5 .2.1 .3-.2 .3-.2 .3-.2 .3-.1 .3 0 .3.3 .3.4 .3.1 .3-.5 .3-.4 .3 0 .2.3 .3.3 .3 0 .3 0 .3 0 .3-.3 .3-.3 .3 0 .3.4 .3.4 .3 0 .3-.2 .2-.2 .3-.1 .3-.1 .3-.2 .3 0 .3.3 .3.3 .3.2 .3-.1 .3 0 .3 0 .3.1 .2-.3 .3-.4 .3-.2 .3.2 .3.4 .3.3 .3-.1 .3-.3 .3-.3 .3.1 .3.4 .3.1 .3-.3 .2-.3 .3 0 .3.3 .3.2 .3.1 .3-.2 .3-.2 .3-.2 .3-.1 .3.3 .3.3 .3.3 .2-.1 .3-.4 .3-.4 .3-.1 .3.2 .3.5 .3.3 .3 0 .3-.3 .3-.5 .3-.2 .3.1 .2.4 .3.3 .3.1 .3-.2 .3-.2 .3-.2 .3-.1 .3.1 .3.3 .3.3 .3-.1 .3-.5 .2-.2 .3.2 .3.6 .3 0 .3-.6 .3-.4 .3.7 .3.5 .3-.6 .3-.5 .3.5 .3.4 .2-.4 .3-.4 .3.3 .3.4 .3-.1 .3-.3 .3-.2 .3.1 .3.3 .3.3 .3-.2 .3-.3 .2-.3 .3.1 .3.4 .3.3 .3-.1 .3-.4 .3-.2 .3 0 .3.3" fill="none" stroke="#ff0000" stroke-width="1.0" stroke-opacity="0.6" stroke-dasharray="3.2 2.6"/><use href="#w0" transform="translate(217.30 0)"/><path d="M283.7 91.4l.3 0 .3-.1 .3-.2 .3-.2 .3-.1 .3 0 .3.2 .3.2 .3.1 .2 0 .3-.1 .3-.2 .3-.1 .3 0 .3.1 .3.2 .3.1 .3 0 .3-.1 .3-.1 .3 0 .2-.1 .3-.1 .3 0 .3 0 .3.1 .3.2 .3.1 .3 0 .3-.1 .3 0 .3.1 .3 0 .2 0 .3-.1 .3-.1 .3 0 .3.1 .3 0 .3 0 .3-.1 .3.1 .3.1 .3.1 .3 0 .2-.1 .3-.2 .3-.1 .3 0 .3 0 .3-.1 .3-.1 .3 0 .3 0 .3.1 .3.1 .3 0 .2 0 .3.1 .3.1 .3.1 .3-.1 .3-.1 .3-.1 .3-.1 .3 0 .3.2 .3.1 .3.1 .2 0 .3-.1 .3-.1 .3-.2 .3 0 .3 0 .3.1 .3.2 .3 0 .3.1 .3-.1 .3-.1 .3-.1 .2-.1 .3 0 .3.2 .3.1 .3.2 .3 0 .3-.2 .3-.3 .3-.1 .3 0 .3.2 .3.1 .2-.1 .3.1 .3.1 .3.1 .3 0 .3-.1 .3-.1 .3-.1 .3 0 .3 0 .3 0 .3.1 .2.1 .3.1 .3-.1 .3-.2 .3-.1 .3 0 .3.1 .3.2 .3.2 .3.1 .3-.1 .3-.2 .2-.2 .3-.1 .3 0 .3 0 .3 0 .3 0 .3 0 .3.2 .3.2 .3.1 .3 0 .3-.2 .2-.2 .3-.2 .3.1 .3.1 .3.2 .3.1 .3 0 .3-.2 .3-.1 .3-.1 .3.1 .3.2 .2.1 .3-.1 .3-.2 .3-.1 .3.1 .3.1 .3.1 .3.1 .3-.1 .3-.2 .3 0 .3 0 .2.1 .3.1 .3 0 .3 0 .3 0 .3-.2 .3-.1 .3.1 .3.1 .3.1 .3.1 .3-.1 .2-.2 .3-.1 .3.1 .3.2 .3.1 .3-.1 .3-.1 .3-.2 .3 0 .3.2 .3.1 .3 0 .3 0 .2 0 .3 0 .3-.1 .3-.1 .3-.1 .3 0 .3.1 .3.2 .3 0 .3 0 .3 0 .3 0 .2.1 .3 0 .3 0 .3-.1 .3-.1 .3-.1 .3 0 .3 0 .3 0 .3 0 .3-.1 .3-.1 .2.1 .3.1 .3.1 .3.1 .3 0 .3 0 .3 0 .3-.1 .3 0 .3-.1 .3 0 .3 0 .2.2 .3 0 .3 0 .3-.2 .3-.1 .3.2 .3.1 .3 0 .3-.2 .3-.1 .3.1 .3.3 .2 0 .3-.2 .3-.3 .3.1 .3.3 .3.2 .3-.1 .3-.3 .3-.2 .3.1 .3.2 .3.2 .2 0 .3-.1 .3-.1 .3-.1 .3 0 .3 0 .3.2 .3 0 .3 0 .3-.1 .3-.1 .3 0 .2.1 .3.1 .3 0 .3-.2 .3-.1 .3.1 .3.1 .3.1 .3.1 .3-.1 .3-.2 .3 0 .2 0 .3 0 .3.1 .3 0 .3.1 .3.1 .3.1 .3-.1 .3-.2 .3-.1 .3-.1 .3 0 .2.1 .3-.1 .3 0 .3-.1 .3.1 .3.1 .3.1 .3 0 .3 0 .3 0 .3.1 .3.1 .3 0 .2.1 .3-.1 .3-.1 .3 0 .3 0 .3 0 .3-.1 .3-.2 .3 0 .3 0 .3.1 .3.1 .2.1 .3 0 .3 0 .3.1 .3-.1 .3-.2 .3-.2 .3.1 .3.2 .3.3 .3 0 .3-.3 .2-.2 .3-.1 .3.2 .3.2 .3.1 .3-.1 .3-.2 .3-.1 .3.1 .3.1 .3.1 .3 0 .2 0 .3-.1 .3 0 .3-.1 .3-.1 .3 0 .3.1 .3.2 .3.2 .3-.1 .3-.1 .3 0 .2 0 .3 0 .3-.1 .3-.2 .3-.1 .3 0 .3.2 .3.1 .3 0 .3 0 .3.1 .3.2 .2.1 .3-.1 .3-.2 .3-.2 .3-.2 .3 0 .3.1 .3.1 .3.1 .3 0 .3.1 .3 0 .2.1 .3 0 .3-.1 .3-.2 .3-.2 .3 0 .3.2 .3.2 .3.1 .3 0 .3-.1 .3 0 .2-.1 .3-.2 .3-.1 .3.1 .3.2 .3.2 .3.2 .3-.2 .3-.2 .3-.2 .3 0 .3 0 .2.1 .3.1 .3 0 .3.1 .3.1 .3 0 .3-.1 .3-.1 .3-.2 .3 0 .3 0 .3.1 .3.1 .2 0 .3 0 .3.1 .3.1 .3.1 .3-.2 .3-.2 .3-.1 .3-.1 .3.1 .3.1 .3.1 .2 0 .3.1 .3.2 .3.1 .3-.2 .3-.2 .3-.1 .3 0 .3 0 .3-.1 .3-.1 .3 0 .2.1 .3.1 .3.1 .3-.1 .3 0 .3.1 .3.1 .3 0 .3 0 .3-.1 .3 0 .3.1 .2.1 .3-.1 .3 0 .3 0 .3.1 .3.1 .3 0 .3-.1 .3-.1 .3 0 .3 0 .3-.1 .2-.2 .3-.1 .3 0 .3.2 .3.3 .3.2 .3-.2 .3-.3 .3-.2 .3.2 .3.3 .3.1 .2-.2 .3-.3 .3 0 .3.1 .3.2 .3.1 .3 0 .3-.1 .3-.1 .3 0 .3 0 .3 0 .2-.1 .3-.1 .3 0 .3 0 .3.1 .3 0 .3 0 .3 0 .3.1 .3 0 .3.1 .3.1 .2 0 .3-.1 .3-.1 .3-.1 .3 0 .3-.1 .3.1 .3.1 .3.1 .3.1 .3-.1 .3-.2 .3-.1 .2 0 .3.2 .3.2 .3.1 .3-.1 .3-.1 .3-.2 .3-.1 .3 0 .3.1 .3 0 .3 0 .2 0 .3.1 .3.1 .3.1 .3 0 .3-.1 .3-.1 .3-.1 .3-.1 .3.1 .3 0 .3.1 .2.1 .3 0 .3 0 .3 0 .3-.1 .3-.1 .3-.1 .3 0 .3 0 .3.1 .3.2 .3.1 .2 0 .3 0 .3-.1 .3-.2 .3-.1 .3 0 .3 0 .3.2 .3.1 .3 0 .3 0 .3 0 .2 0 .3 0 .3-.1 .3-.1 .3-.1 .3.1 .3.1 .3.2 .3 0 .3-.1 .3-.2 .3-.1 .2 0 .3.2 .3.1 .3.1 .3-.1 .3-.1 .3-.1 .3-.1 .3 0" fill="none" stroke="#000000" stroke-width="0.8" stroke-opacity="0.35"/><path d="M283.7 90.8l.3-.2 .3 0 .3.1 .3.3 .3.1 .3 0 .3 0 .3.2 .3.2 .2.1 .3-.1 .3-.2 .3-.1 .3.1 .3-.1 .3-.3 .3-.3 .3.1 .3.2 .3.2 .3.1 .2.1 .3.1 .3.1 .3-.2 .3-.3 .3-.3 .3-.2 .3.2 .3.3 .3.4 .3.1 .3-.1 .2-.1 .3 0 .3-.1 .3 0 .3-.2 .3-.1 .3-.1 .3.1 .3.2 .3.2 .3.1 .3-.1 .2-.2 .3-.2 .3 0 .3 0 .3.1 .3.2 .3.1 .3.1 .3-.1 .3-.2 .3-.2 .3-.1 .2.1 .3.2 .3.2 .3 0 .3 0 .3-.1 .3-.1 .3-.1 .3 0 .3-.1 .3 0 .3.2 .2.2 .3.2 .3-.1 .3-.2 .3-.2 .3 0 .3.1 .3.3 .3.3 .3.3 .3.3 .3.5 .3.4 .2.2 .3-.1 .3-.2 .3-.3 .3-.3 .3-.3 .3-.5 .3-.4 .3-.3 .3-.1 .3.1 .3.1 .2-.3 .3-.5 .3-.8 .3-.8 .3-.8 .3-.8 .3-.6 .3-.3 .3 0 .3.3 .3.4 .3.4 .2.3 .3.5 .3.9 .3.9 .3.9 .3.4 .3.1 .3 0 .3.2 .3.4 .3.5 .3.2 .2.1 .3 0 .3 0 .3-.2 .3-.5 .3-.5 .3-.3 .3 0 .3.2 .3.1 .3-.1 .3-.4 .2-.2 .3.1 .3.3 .3.3 .3-.1 .3-.4 .3-.2 .3 0 .3.1 .3.2 .3.1 .3.1 .2.1 .3.1 .3 0 .3-.2 .3-.3 .3-.3 .3 0 .3.1 .3.3 .3.1 .3.1 .3 0 .2 0 .3-.1 .3-.2 .3-.2 .3-.1 .3.1 .3.4 .3.3 .3.1 .3-.3 .3-.2 .3-.1 .2-.1 .3 0 .3-.1 .3-.1 .3.1 .3.3 .3.2 .3.2 .3-.1 .3-.1 .3.1 .3.1 .3.1 .2-.1 .3-.3 .3-.1 .3 0 .3 0 .3-.2 .3-.2 .3 0 .3.1 .3.3 .3.2 .3 0 .2 0 .3 0 .3-.1 .3-.2 .3-.2 .3.1 .3.3 .3.2 .3-.1 .3-.3 .3-.2 .3.2 .2.3 .3.1 .3-.2 .3-.2 .3-.1 .3 0 .3.1 .3.1 .3.2 .3.2 .3 0 .3-.2 .2-.4 .3-.1 .3 0 .3.1 .3-.1 .3-.1 .3 0 .3.2 .3.2 .3.1 .3-.1 .3-.1 .2.1 .3.2 .3.1 .3-.1 .3 0 .3 0 .3.1 .3.1 .3 0 .3-.2 .3-.3 .3-.1 .2 0 .3 0 .3 0 .3 0 .3 0 .3.3 .3.3 .3.1 .3 0 .3-.3 .3-.3 .3-.2 .2 0 .3 0 .3 0 .3.1 .3.1 .3.4 .3.3 .3 0 .3-.4 .3-.6 .3-.3 .3.3 .2.5 .3.4 .3 0 .3-.4 .3-.2 .3-.1 .3 0 .3 0 .3 0 .3 0 .3.1 .3.2 .2.2 .3 0 .3 0 .3-.1 .3.1 .3 0 .3 0 .3-.2 .3-.3 .3-.2 .3 0 .3.1 .3.1 .2.1 .3 0 .3.2 .3.2 .3.2 .3 0 .3-.3 .3-.4 .3-.3 .3-.1 .3.2 .3.3 .2.3 .3.1 .3 0 .3-.1 .3 0 .3-.1 .3-.1 .3-.2 .3-.1 .3 0 .3.1 .3.2 .2.3 .3.1 .3-.1 .3-.2 .3-.2 .3-.1 .3 0 .3 0 .3 0 .3.1 .3.2 .3.2 .2.2 .3-.1 .3-.3 .3-.4 .3-.3 .3.1 .3.2 .3.1 .3 0 .3.1 .3.2 .3.2 .2.2 .3 0 .3-.2 .3-.1 .3 0 .3 0 .3-.1 .3-.3 .3-.2 .3-.1 .3.1 .3.2 .2.1 .3 0 .3 0 .3.2 .3.3 .3.1 .3-.2 .3-.2 .3-.2 .3-.1 .3 0 .3.1 .2-.1 .3.1 .3.2 .3.2 .3 0 .3-.3 .3-.4 .3 0 .3.4 .3.5 .3-.2 .3-.6 .2-.1 .3.3 .3.4 .3.1 .3-.4 .3-.3 .3-.1 .3.2 .3.4 .3.3 .3 0 .3-.3 .2-.3 .3-.3 .3 0 .3.1 .3 0 .3 0 .3 0 .3.2 .3.3 .3.3 .3.1 .3-.1 .3-.2 .2 0 .3 0 .3 0 .3 0 .3-.3 .3-.3 .3-.1 .3 0 .3.1 .3.1 .3.1 .3 0 .2.1 .3.2 .3.2 .3 0 .3-.2 .3-.3 .3-.3 .3 0 .3.1 .3.4 .3.3 .3 0 .2-.2 .3-.5 .3-.2 .3.1 .3.5 .3.4 .3.1 .3-.5 .3-.6 .3-.1 .3.4 .3.5 .2.2 .3-.2 .3-.4 .3-.2 .3 0 .3.2 .3.1 .3.1 .3.1 .3 0 .3 0 .3-.1 .2-.3 .3-.2 .3 0 .3.3 .3.4 .3.2 .3-.2 .3-.4 .3-.4 .3 0 .3.4 .3.4 .2.2 .3-.2 .3-.3 .3-.2 .3-.1 .3.1 .3 0 .3-.1 .3.1 .3.2 .3.3 .3.1 .2 0 .3-.1 .3-.1 .3 0 .3.1 .3-.1 .3-.2 .3-.2 .3 0 .3 0 .3.1 .3-.2 .2-.1 .3-.1 .3.2 .3.3 .3.2 .3.1 .3 0 .3 0 .3-.1 .3-.2 .3-.3 .3-.1 .3.1 .2.4 .3.4 .3.1 .3-.3 .3-.4 .3-.3 .3-.1 .3.2 .3.2 .3.1 .3.1 .3 0 .2.2 .3.1 .3 0 .3-.2 .3-.3 .3-.3 .3-.1 .3.1 .3.3 .3.2 .3.1 .3 0 .2.1 .3.1 .3-.1 .3-.2 .3-.3 .3-.3 .3 0 .3.2 .3.4 .3.2 .3 0 .3-.1 .2 0 .3 0 .3-.1 .3-.2 .3-.3 .3-.1 .3 0 .3.3 .3.3 .3.1 .3 0 .3 0 .2.2 .3.1 .3-.1 .3-.3 .3-.3 .3-.1 .3 0 .3.1 .3-.1 .3-.1 .3-.1 .3.2 .2.4 .3.3 .3.1 .3-.1 .3-.1 .3 0 .3-.1 .3-.1 .3-.3" fill="none" stroke="#0000ff" stroke-width="1.0" stroke-opacity="0.55"/><path d="M283.7 91.2l.3.1 .3 0 .3-.1 .3-.2 .3-.2 .3.1 .3.4 .3.2 .3-.3 .2-.5 .3 0 .3.5 .3.3 .3-.2 .3-.3 .3-.1 .3 0 .3 0 .3.3 .3.3 .3.1 .2-.3 .3-.3 .3-.1 .3 0 .3-.1 .3.1 .3.2 .3.3 .3 0 .3-.4 .3-.2 .3.2 .2.4 .3-.1 .3-.4 .3 0 .3.3 .3.2 .3-.2 .3-.3 .3-.1 .3.2 .3.2 .3.1 .2 0 .3 0 .3.2 .3.1 .3-.1 .3-.2 .3-.2 .3.1 .3 0 .3-.3 .3-.2 .3 0 .2.1 .3.1 .3-.1 .3.2 .3.3 .3.2 .3-.1 .3-.1 .3 0 .3-.2 .3-.4 .3 0 .2.3 .3.3 .3.1 .3-.1 .3-.1 .3-.1 .3-.3 .3-.3 .3 0 .3.2 .3.2 .3-.2 .3-.4 .2-.3 .3-.2 .3 0 .3-.1 .3.1 .3.5 .3.7 .3.7 .3.3 .3-.1 .3-.1 .3 0 .2-.1 .3-.3 .3-.3 .3-.1 .3.1 .3.1 .3 0 .3-.3 .3-.2 .3-.1 .3-.1 .3 0 .2-.1 .3.1 .3.4 .3.3 .3.1 .3-.1 .3-.1 .3-.1 .3-.3 .3-.5 .3-.2 .3.1 .2.3 .3.1 .3-.1 .3-.1 .3 0 .3.1 .3.1 .3.2 .3.4 .3.2 .3.1 .3-.3 .2-.3 .3-.1 .3.3 .3.4 .3.1 .3-.3 .3-.4 .3-.1 .3.3 .3.3 .3.1 .3-.2 .2-.3 .3-.1 .3.2 .3.2 .3.1 .3-.1 .3-.1 .3-.1 .3 0 .3-.1 .3.1 .3.3 .2.2 .3-.1 .3-.4 .3-.3 .3 0 .3.2 .3.1 .3 0 .3.2 .3.3 .3.2 .3-.2 .2-.2 .3.1 .3.1 .3-.1 .3-.3 .3-.1 .3 0 .3 0 .3-.2 .3-.2 .3.1 .3.3 .3.2 .2 0 .3.1 .3.2 .3.1 .3-.2 .3-.4 .3-.3 .3 0 .3.2 .3.1 .3.1 .3.1 .2.2 .3.1 .3-.1 .3-.3 .3-.3 .3 0 .3.1 .3 0 .3-.1 .3-.1 .3 0 .3.1 .2.1 .3-.1 .3-.1 .3 0 .3.2 .3.1 .3.1 .3 0 .3 0 .3.2 .3.2 .3-.1 .2-.4 .3-.2 .3 0 .3.2 .3.1 .3.1 .3.2 .3 0 .3-.3 .3-.3 .3 0 .3.3 .2.3 .3 0 .3-.2 .3-.2 .3 0 .3 0 .3-.1 .3 0 .3.2 .3.1 .3 0 .3 0 .2 0 .3.1 .3.1 .3-.1 .3-.1 .3 0 .3-.1 .3-.2 .3-.2 .3.2 .3.4 .3.1 .2-.2 .3-.3 .3 0 .3 0 .3.1 .3.2 .3.2 .3 0 .3-.2 .3-.2 .3 0 .3 0 .2-.2 .3 0 .3.1 .3.2 .3 0 .3 0 .3.2 .3.1 .3 0 .3-.2 .3-.2 .3 0 .2 0 .3-.1 .3-.1 .3.1 .3.3 .3.1 .3 0 .3 0 .3-.1 .3 0 .3 0 .3-.2 .3-.2 .2 0 .3.2 .3.1 .3 0 .3.1 .3.1 .3.1 .3-.3 .3-.3 .3 0 .3.2 .3.4 .2 0 .3-.3 .3-.2 .3-.1 .3.1 .3.1 .3.1 .3.3 .3.2 .3-.1 .3-.4 .3-.3 .2-.1 .3.1 .3 0 .3 0 .3.2 .3.4 .3.3 .3-.1 .3-.4 .3-.4 .3 0 .3 0 .2.1 .3.1 .3.3 .3.2 .3 0 .3-.4 .3-.4 .3 0 .3.3 .3.3 .3.1 .3-.1 .2-.2 .3-.2 .3-.1 .3.1 .3.3 .3.3 .3 0 .3-.5 .3-.3 .3 0 .3.4 .3.4 .2 0 .3-.4 .3-.4 .3-.1 .3.3 .3.4 .3.2 .3-.1 .3-.3 .3-.2 .3-.1 .3.1 .2.1 .3 0 .3.2 .3.2 .3 0 .3-.2 .3-.2 .3-.1 .3.1 .3-.1 .3 0 .3.1 .2.3 .3.1 .3 0 .3-.1 .3 0 .3.1 .3 0 .3-.2 .3-.2 .3.1 .3.2 .3 0 .2-.2 .3-.1 .3-.1 .3.1 .3 0 .3-.2 .3-.2 .3 0 .3.2 .3.3 .3.2 .3.1 .3-.1 .2 0 .3-.1 .3-.2 .3-.2 .3-.1 .3.2 .3.4 .3.2 .3-.1 .3-.3 .3-.3 .3 0 .2.2 .3.1 .3.1 .3 0 .3.1 .3 0 .3-.2 .3-.2 .3 0 .3 0 .3.1 .3 0 .2 0 .3.2 .3.2 .3.1 .3-.2 .3-.2 .3-.1 .3 0 .3-.2 .3-.2 .3.2 .3.3 .2.4 .3 0 .3-.2 .3-.1 .3-.1 .3-.1 .3-.1 .3-.1 .3.1 .3.3 .3.2 .3 0 .2-.1 .3-.2 .3-.1 .3-.1 .3-.1 .3.1 .3.3 .3.2 .3 0 .3-.3 .3-.2 .3 0 .2.1 .3.2 .3 0 .3 0 .3-.2 .3 0 .3 0 .3.1 .3.1 .3 0 .3 0 .3-.1 .2-.1 .3-.1 .3.1 .3.2 .3.2 .3-.1 .3-.4 .3-.2 .3.3 .3.5 .3 0 .3-.5 .2-.4 .3.2 .3.6 .3.2 .3-.3 .3-.5 .3-.1 .3.3 .3.2 .3.1 .3 0 .3.1 .3-.2 .2-.4 .3-.3 .3.2 .3.6 .3.3 .3-.1 .3-.2 .3-.1 .3-.3 .3-.2 .3 0 .3.3 .2.4 .3 0 .3-.1 .3-.2 .3-.1 .3 0 .3 0 .3-.1 .3 0 .3.2 .3.2 .3.2 .2-.2 .3-.2 .3-.2 .3 0 .3 0 .3.1 .3.2 .3.2 .3-.1 .3-.3 .3-.2 .3.2 .2.2 .3.1 .3-.1 .3 0 .3 0 .3-.1 .3-.2 .3-.1 .3.1 .3 0 .3-.1 .3-.1 .2.2 .3.3 .3.1 .3 0 .3-.1 .3-.1 .3-.2 .3 0 .3.2 .3.3 .3-.2 .3-.4 .2 0 .3.4 .3.4 .3-.2 .3-.6 .3-.2 .3.3 .3.4 .3.1" fill="none" stroke="#ff0000" stroke-width="1.0" stroke-opacity="0.6" stroke-dasharray="3.2 2.6"/><use href="#w0" transform="translate(434.60 0)"/><path d="M501 91.1l.3-.1 .3 0 .3 0 .3 0 .3 0 .3 0 .3 0 .3 0 .3 0 .2 0 .3.1 .3 0 .3 0 .3-.1 .3.1 .3 0 .3.1 .3 0 .3 0 .3-.1 .3-.1 .2 0 .3.1 .3 0 .3.1 .3-.1 .3 0 .3 0 .3-.1 .3.1 .3 0 .3.1 .3 0 .2 0 .3-.1 .3-.1 .3 0 .3 0 .3.1 .3.1 .3 0 .3 0 .3 0 .3 0 .3 0 .2 0 .3 0 .3-.1 .3 0 .3 0 .3 0 .3 0 .3 0 .3-.1 .3-.1 .3 0 .3.1 .2 0 .3.1 .3 0 .3 0 .3.1 .3 0 .3 0 .3-.1 .3-.1 .3 0 .3 0 .3.2 .2 0 .3 0 .3-.2 .3 0 .3.1 .3.1 .3 0 .3 0 .3-.1 .3-.1 .3 0 .3 0 .3 0 .2 0 .3.1 .3.1 .3 0 .3 0 .3-.1 .3 0 .3 0 .3 0 .3 0 .3-.1 .3 0 .2 0 .3.1 .3.1 .3 0 .3 0 .3-.1 .3 0 .3 0 .3 0 .3 0 .3-.1 .3 0 .2 0 .3 0 .3.1 .3 0 .3 0 .3 0 .3 0 .3 0 .3.1 .3 0 .3 0 .3 0 .2-.1 .3 0 .3 0 .3 0 .3-.1 .3 0 .3 0 .3.2 .3.1 .3-.1 .3-.2 .3-.1 .2.1 .3.2 .3 0 .3-.1 .3-.1 .3 0 .3.1 .3.1 .3 0 .3 0 .3-.1 .3 0 .2 0 .3-.1 .3-.1 .3 0 .3.1 .3.1 .3 0 .3-.1 .3.1 .3 0 .3.1 .3 0 .2 0 .3 0 .3 0 .3 0 .3 0 .3 0 .3 0 .3-.1 .3 0 .3 0 .3 0 .3 0 .2 0 .3-.1 .3 0 .3 0 .3 0 .3.1 .3 0 .3 0 .3 0 .3.1 .3 0 .3 0 .3-.1 .2-.1 .3 0 .3 0 .3.1 .3 0 .3 0 .3.1 .3 0 .3 0 .3 0 .3-.1 .3.1 .2 0 .3 0 .3-.1 .3 0 .3-.1 .3 0 .3 0 .3 0 .3 0 .3 0 .3.1 .3.1 .2 0 .3 0 .3-.1 .3 0 .3 0 .3-.1 .3 0 .3 0 .3.1 .3.1 .3 0 .3 0 .2 0 .3-.1 .3 0 .3 0 .3-.1 .3 0 .3 0 .3.1 .3.2 .3-.1 .3-.1 .3-.2 .2.1 .3.2 .3.1 .3-.1 .3-.2 .3 0 .3 0 .3.1 .3 0 .3.1 .3 0 .3 0 .2 0 .3 0 .3-.1 .3-.1 .3 0 .3 0 .3.2 .3 0 .3 0 .3-.1 .3-.1 .3 0 .2.1 .3.1 .3 0 .3-.1 .3-.1 .3 0 .3.1 .3 0 .3 0 .3 0 .3.1 .3 0 .2 0 .3 0 .3-.1 .3 0 .3 0 .3 0 .3 0 .3 0 .3 0 .3 0 .3 0 .3.1 .2-.1 .3 0 .3-.1 .3 0 .3 0 .3.1 .3.1 .3 0 .3 0 .3-.1 .3-.1 .3 0 .3 0 .2.1 .3.1 .3 0 .3 0 .3-.1 .3 0 .3 0 .3-.1 .3 0 .3.1 .3 0 .3 0 .2.1 .3 0 .3-.1 .3-.1 .3 0 .3 0 .3.1 .3.1 .3 0 .3-.1 .3-.1 .3 0 .2.1 .3.1 .3 0 .3-.1 .3-.1 .3 0 .3.1 .3.1 .3 0 .3-.1 .3-.1 .3 0 .2.1 .3.1 .3 0 .3-.1 .3-.1 .3 0 .3 0 .3.1 .3.1 .3 0 .3 0 .3-.1 .2 0 .3 0 .3-.1 .3 0 .3 0 .3 0 .3.2 .3 0 .3 0 .3 0 .3-.1 .3-.1 .2 0 .3 0 .3.1 .3 0 .3 0 .3.1 .3 0 .3 0 .3 0 .3-.1 .3 0 .3 0 .2 0 .3 0 .3-.1 .3 0 .3 0 .3.1 .3.1 .3 0 .3 0 .3 0 .3-.1 .3 0 .2 0 .3-.1 .3 0 .3 0 .3.1 .3.1 .3 0 .3 0 .3-.1 .3-.1 .3 0 .3.1 .2 0 .3.1 .3-.1 .3.1 .3 0 .3.1 .3 0 .3-.1 .3 0 .3-.1 .3 0 .3 0 .3 0 .2-.1 .3 0 .3 0 .3 0 .3.1 .3 0 .3 0 .3 0 .3.1 .3 0 .3 0 .3-.1 .2-.1 .3 0 .3 0 .3.1 .3.1 .3.1 .3-.1 .3-.1 .3-.1 .3-.1 .3.1 .3.1 .2.1 .3 0 .3 0 .3-.1 .3 0 .3 0 .3-.1 .3 0 .3.1 .3.1 .3 0 .3-.1 .2-.1 .3 0 .3.1 .3.1 .3.1 .3-.1 .3-.2 .3-.1 .3.1 .3.2 .3.1 .3-.1 .2-.2 .3 0 .3 0 .3.1 .3.1 .3 0 .3 0 .3 0 .3-.1 .3 0 .3 0 .3-.1 .2 0 .3-.1 .3.1 .3 0 .3.1 .3 0 .3 0 .3 0 .3.1 .3 0 .3 0 .3-.1 .2 0 .3-.1 .3 0 .3.1 .3 0 .3 0 .3-.1 .3 0 .3.1 .3 0 .3.1 .3 0 .2 0 .3 0 .3 0 .3 0 .3 0 .3 0 .3-.1 .3-.1 .3 0 .3 0 .3.1 .3.1 .3 0 .2 0 .3-.1 .3 0 .3-.1 .3 0 .3.1 .3 0 .3.1 .3 0 .3-.1 .3-.1 .3 0 .2.1 .3 0 .3.1 .3 0 .3-.1 .3 0 .3-.1 .3 0 .3.1 .3 0 .3 0 .3.1 .2 0 .3-.1 .3 0 .3-.1 .3 0 .3.1 .3.1 .3 0 .3-.1 .3-.1 .3.1 .3 0 .2.1 .3 0 .3-.1 .3-.1 .3 0 .3 0 .3.1 .3.1 .3.1 .3-.1 .3 0 .3-.1 .2 0 .3 0 .3 0 .3-.1 .3 0 .3 0 .3 0 .3 0 .3 0 .3 0 .3-.1 .3.1 .2 0 .3 0 .3 0 .3 0 .3 0 .3.1 .3 0 .3 0 .3 0" fill="none" stroke="#000000" stroke-width="0.8" stroke-opacity="0.35"/><path d="M501 90.9l.3.2 .3.2 .3 0 .3-.1 .3-.2 .3-.1 .3.1 .3.2 .3 0 .2-.1 .3-.2 .3.1 .3.2 .3.1 .3-.1 .3-.2 .3-.1 .3.1 .3.1 .3.1 .3 0 .2 0 .3.1 .3 0 .3 0 .3-.2 .3-.2 .3 0 .3 0 .3.1 .3.1 .3 0 .3.1 .2 0 .3 0 .3-.1 .3-.1 .3 0 .3.1 .3.1 .3.1 .3-.1 .3-.1 .3-.1 .3 0 .2 0 .3.1 .3 0 .3.1 .3 0 .3 0 .3-.1 .3-.1 .3-.1 .3 0 .3.2 .3.2 .2 0 .3-.1 .3-.3 .3-.1 .3.1 .3.2 .3.2 .3 0 .3 0 .3-.1 .3-.1 .3-.1 .2 0 .3 0 .3-.1 .3 0 .3 0 .3.2 .3.1 .3.1 .3 0 .3-.2 .3-.1 .3 0 .3 0 .2.1 .3.1 .3 0 .3-.1 .3-.1 .3 0 .3.1 .3.1 .3.1 .3-.1 .3-.1 .3-.1 .2 0 .3 0 .3.1 .3.1 .3 0 .3 0 .3-.1 .3 0 .3-.1 .3 0 .3 0 .3 0 .2.1 .3.1 .3.1 .3 0 .3-.1 .3-.1 .3-.2 .3 0 .3.1 .3.1 .3.1 .3 0 .2 0 .3-.2 .3 0 .3 0 .3.1 .3.1 .3 0 .3 0 .3-.1 .3 0 .3-.1 .3 0 .2 0 .3.1 .3.1 .3.1 .3 0 .3-.2 .3-.2 .3 0 .3.2 .3.2 .3-.1 .3-.2 .2 0 .3.1 .3.1 .3-.1 .3-.1 .3.1 .3.1 .3 0 .3-.2 .3 0 .3.1 .3.1 .2 0 .3-.1 .3-.1 .3 0 .3.1 .3.1 .3 0 .3-.1 .3-.1 .3 0 .3.1 .3.1 .2 0 .3-.1 .3-.1 .3 0 .3 0 .3.1 .3.1 .3.1 .3-.1 .3-.2 .3-.1 .3 0 .3.1 .2.2 .3.1 .3 0 .3-.1 .3-.1 .3-.1 .3 0 .3 0 .3 0 .3 0 .3 0 .3.1 .2.1 .3.1 .3 0 .3-.1 .3-.2 .3-.1 .3 0 .3.1 .3.1 .3.1 .3 0 .3 0 .2 0 .3-.1 .3-.1 .3 0 .3 0 .3.1 .3.1 .3.1 .3 0 .3-.1 .3-.2 .3-.1 .2 0 .3.1 .3.2 .3.1 .3 0 .3-.1 .3 0 .3 0 .3 0 .3-.1 .3 0 .3-.1 .2 0 .3 0 .3.1 .3-.1 .3-.1 .3 0 .3 0 .3.1 .3.1 .3 0 .3 0 .3.1 .2.1 .3 0 .3-.1 .3-.1 .3-.2 .3 0 .3.1 .3.1 .3.1 .3 0 .3 0 .3-.1 .2-.1 .3 0 .3 0 .3.1 .3 0 .3.1 .3 0 .3 0 .3-.1 .3-.2 .3 0 .3.1 .2.2 .3.1 .3 0 .3-.1 .3-.1 .3-.1 .3-.1 .3.1 .3 0 .3.2 .3.1 .3-.1 .2-.1 .3-.1 .3-.1 .3.1 .3.1 .3.2 .3 0 .3-.1 .3-.2 .3 0 .3 0 .3 0 .3 0 .2 0 .3 0 .3.2 .3.1 .3 0 .3-.1 .3-.1 .3 0 .3 0 .3 0 .3-.1 .3 0 .2 0 .3 0 .3.1 .3.1 .3 0 .3 0 .3 0 .3 0 .3 0 .3 0 .3 0 .3 0 .2-.1 .3-.1 .3 0 .3 0 .3 0 .3 0 .3-.1 .3 0 .3 0 .3.1 .3.2 .3.1 .2.1 .3-.1 .3-.1 .3-.1 .3-.1 .3 0 .3 0 .3 0 .3 0 .3 0 .3.2 .3.1 .2 0 .3-.1 .3-.1 .3-.1 .3 0 .3 0 .3 0 .3 0 .3 0 .3.2 .3.1 .3 0 .2-.1 .3-.1 .3-.1 .3-.1 .3.1 .3.1 .3.1 .3 0 .3 0 .3-.1 .3 0 .3-.1 .2 0 .3.1 .3.1 .3.1 .3-.1 .3-.1 .3-.2 .3 0 .3 0 .3.2 .3.1 .3.1 .2-.1 .3 0 .3 0 .3-.1 .3 0 .3-.1 .3-.1 .3 0 .3.1 .3.1 .3.1 .3.1 .2-.1 .3 0 .3 0 .3 0 .3-.1 .3-.1 .3-.1 .3 0 .3.1 .3.1 .3.1 .3 0 .3 0 .2 0 .3 0 .3-.1 .3-.1 .3-.1 .3.1 .3.1 .3.2 .3 0 .3-.2 .3-.2 .3 0 .2.1 .3.1 .3.1 .3 0 .3.1 .3-.1 .3-.1 .3-.2 .3 0 .3 0 .3.1 .3 0 .2 0 .3.1 .3.2 .3 0 .3-.1 .3-.1 .3-.1 .3 0 .3.1 .3.1 .3 0 .3-.1 .2-.2 .3.1 .3.1 .3.2 .3 0 .3-.2 .3-.2 .3 0 .3.1 .3.2 .3.1 .3-.1 .2-.1 .3-.1 .3 0 .3 0 .3 0 .3.1 .3 0 .3.1 .3.1 .3 0 .3 0 .3-.1 .2-.1 .3-.1 .3 0 .3 0 .3-.1 .3.1 .3.2 .3.1 .3 0 .3-.2 .3-.2 .3 0 .2.3 .3.1 .3 0 .3-.2 .3-.2 .3.1 .3.1 .3.1 .3 0 .3 0 .3 0 .3-.1 .2-.1 .3-.1 .3.1 .3.1 .3.2 .3 0 .3-.1 .3-.1 .3-.1 .3 0 .3 0 .3.1 .3 0 .2.1 .3 0 .3 0 .3 0 .3-.1 .3-.1 .3-.1 .3 0 .3.1 .3.2 .3.1 .3 0 .2-.1 .3 0 .3 0 .3 0 .3.1 .3-.1 .3-.1 .3 0 .3 0 .3.1 .3 0 .3-.1 .2-.1 .3 0 .3 0 .3 0 .3 0 .3 0 .3.1 .3.2 .3 0 .3-.2 .3-.2 .3 0 .2.2 .3.2 .3 0 .3-.2 .3-.2 .3 0 .3.2 .3.2 .3 0 .3-.1 .3-.1 .3-.1 .2 0 .3 0 .3 0 .3.1 .3.1 .3.1 .3-.1 .3-.1 .3-.1 .3 0 .3 0 .3.1 .2 0 .3 0 .3 0 .3.1 .3 0 .3 0 .3-.1 .3-.1 .3 0" fill="none" stroke="#0000ff" stroke-width="1.0" stroke-opacity="0.55"/><path d="M501 91.2l.3-.1 .3-.1 .3 0 .3.1 .3.1 .3-.1 .3 0 .3-.1 .3.1 .2 0 .3 0 .3 0 .3-.1 .3 0 .3.1 .3.1 .3 0 .3-.1 .3-.2 .3 0 .3.2 .2.2 .3.1 .3-.3 .3-.2 .3 0 .3.1 .3 0 .3.1 .3.2 .3.1 .3 0 .3-.2 .2-.2 .3 0 .3 0 .3-.1 .3 0 .3.1 .3.2 .3.1 .3-.1 .3-.2 .3-.1 .3.1 .2.2 .3.1 .3-.3 .3-.1 .3.2 .3.2 .3 0 .3-.2 .3-.2 .3 0 .3.2 .3.1 .2.1 .3-.1 .3 0 .3-.1 .3 0 .3-.1 .3-.1 .3 0 .3.1 .3.2 .3.1 .3-.1 .2 0 .3 0 .3 0 .3 0 .3-.2 .3-.1 .3 0 .3.1 .3.1 .3.1 .3.1 .3 0 .3-.1 .2-.3 .3-.1 .3.3 .3.2 .3 0 .3-.1 .3-.1 .3 0 .3-.1 .3-.2 .3 0 .3.1 .2.2 .3 0 .3-.1 .3.1 .3.2 .3.1 .3-.1 .3-.1 .3.1 .3 0 .3-.1 .3-.2 .2-.1 .3 0 .3.1 .3 0 .3 0 .3.1 .3.2 .3 0 .3-.1 .3-.2 .3-.1 .3.1 .2.1 .3.1 .3 0 .3 0 .3-.1 .3-.1 .3-.1 .3.1 .3.2 .3.1 .3-.1 .3-.1 .2-.1 .3 0 .3 0 .3.1 .3.1 .3.1 .3 0 .3-.2 .3-.1 .3 0 .3 0 .3 0 .2 0 .3.1 .3.1 .3 0 .3 0 .3 0 .3 0 .3 0 .3-.2 .3 0 .3 0 .3 0 .2-.1 .3 0 .3.2 .3.1 .3 0 .3 0 .3 0 .3 0 .3-.1 .3-.2 .3-.1 .3.2 .2.3 .3.1 .3-.2 .3-.3 .3-.1 .3.2 .3.2 .3.1 .3-.1 .3-.1 .3-.1 .3 0 .3 0 .2.1 .3.2 .3 0 .3-.2 .3-.2 .3 0 .3.2 .3.2 .3-.1 .3-.2 .3-.1 .3.2 .2.2 .3-.1 .3-.2 .3-.1 .3.2 .3.1 .3 0 .3-.1 .3-.1 .3 0 .3 0 .3.1 .2.2 .3 0 .3-.1 .3-.2 .3-.1 .3.1 .3.1 .3 0 .3.1 .3.1 .3 0 .3-.2 .2-.2 .3-.1 .3.2 .3.2 .3.1 .3 0 .3-.1 .3 0 .3-.1 .3-.2 .3 0 .3.1 .2.2 .3.1 .3 0 .3-.2 .3-.2 .3 0 .3 0 .3.2 .3.1 .3 0 .3.1 .3 0 .2 0 .3-.2 .3-.2 .3-.1 .3.1 .3.2 .3.2 .3 0 .3-.1 .3-.1 .3-.1 .3 0 .2 0 .3.1 .3.1 .3.1 .3-.1 .3-.1 .3 0 .3 0 .3-.1 .3 0 .3 0 .3 0 .2 0 .3-.1 .3 0 .3 0 .3.1 .3-.1 .3.1 .3.2 .3.2 .3-.1 .3-.3 .3-.1 .2.1 .3.1 .3.1 .3 0 .3 0 .3-.1 .3-.2 .3 0 .3.1 .3.2 .3 0 .3 0 .3 0 .2.1 .3 0 .3-.1 .3-.1 .3 0 .3 0 .3-.1 .3 0 .3 0 .3 0 .3.1 .3-.1 .2 0 .3.1 .3.1 .3 0 .3 0 .3 0 .3 0 .3-.1 .3-.2 .3-.1 .3.2 .3.2 .2 0 .3 0 .3 0 .3 0 .3-.2 .3-.1 .3 0 .3.2 .3.2 .3 0 .3-.1 .3-.1 .2-.1 .3 0 .3-.1 .3 0 .3.2 .3.2 .3.1 .3-.1 .3-.2 .3-.1 .3 0 .3 0 .2-.1 .3-.1 .3.1 .3.2 .3.2 .3 0 .3 0 .3-.1 .3 0 .3 0 .3-.1 .3-.1 .2-.1 .3.1 .3 0 .3 0 .3 0 .3.1 .3.2 .3 0 .3-.1 .3-.1 .3 0 .3 0 .2-.1 .3-.1 .3 0 .3.2 .3.2 .3 0 .3-.2 .3-.2 .3 0 .3.2 .3.2 .3 0 .2-.2 .3-.2 .3 0 .3.2 .3.1 .3 0 .3 0 .3 0 .3-.1 .3 0 .3-.1 .3-.1 .2 0 .3.1 .3.2 .3.1 .3 0 .3-.1 .3-.1 .3-.1 .3 0 .3.1 .3.1 .3 0 .3 0 .2-.2 .3-.1 .3.1 .3.2 .3.1 .3-.1 .3-.2 .3-.1 .3.1 .3.2 .3.1 .3-.1 .2-.1 .3-.2 .3.1 .3.1 .3.2 .3-.1 .3-.1 .3-.2 .3.1 .3.1 .3.2 .3-.1 .2-.1 .3-.1 .3 0 .3 0 .3.1 .3 0 .3.1 .3 0 .3-.1 .3-.1 .3-.1 .3.1 .2 0 .3.1 .3 0 .3.1 .3.1 .3.1 .3-.2 .3-.2 .3-.2 .3 0 .3.2 .3.1 .2.1 .3 0 .3 0 .3 0 .3-.1 .3-.1 .3-.1 .3 0 .3.2 .3.2 .3.1 .3-.2 .2-.3 .3 0 .3 0 .3.2 .3 0 .3.1 .3.1 .3 0 .3 0 .3-.1 .3-.2 .3-.1 .2 0 .3.1 .3.1 .3 0 .3.1 .3 0 .3 0 .3-.1 .3-.1 .3 0 .3.1 .3.1 .2 0 .3-.1 .3-.1 .3-.1 .3.1 .3.1 .3.1 .3 0 .3.2 .3-.1 .3-.2 .3-.3 .3 0 .2.1 .3.2 .3 0 .3.2 .3.1 .3-.1 .3-.4 .3-.2 .3.2 .3.4 .3 0 .3-.1 .2-.1 .3-.1 .3-.1 .3 0 .3.1 .3.2 .3 0 .3 0 .3 0 .3.1 .3 0 .3-.2 .2-.1 .3 0 .3 0 .3 0 .3 0 .3.2 .3.1 .3-.1 .3-.2 .3-.1 .3.1 .3.3 .2 0 .3-.2 .3-.1 .3 0 .3.1 .3 0 .3.1 .3 0 .3-.1 .3-.1 .3-.1 .3.1 .2.2 .3.1 .3-.1 .3-.1 .3-.1 .3 0 .3-.1 .3 0 .3.2 .3.2 .3.1 .3-.2 .2-.1 .3-.1 .3 0 .3 0 .3 0 .3 0 .3.2 .3.1 .3-.1" fill="none" stroke="#ff0000" stroke-width="1.0" stroke-opacity="0.6" stroke-dasharray="3.2 2.6"/><use href="#w1" transform="translate(0.00 0)"/><path d="M66.4 219l.3-.1 .3-.2 .3-.1 .3.1 .3.1 .3.2 .3.1 .3 0 .3-.1 .2-.1 .3-.1 .3 0 .3 0 .3 0 .3 0 .3.1 .3.1 .3.1 .3 0 .3-.2 .3-.1 .2-.1 .3 0 .3.2 .3.1 .3.1 .3 0 .3-.1 .3-.1 .3 0 .3 0 .3 0 .3-.1 .2-.1 .3-.1 .3.1 .3 0 .3.1 .3-.1 .3 0 .3 0 .3.1 .3.1 .3.1 .3.1 .2-.1 .3 0 .3 0 .3.1 .3-.1 .3-.1 .3-.1 .3-.1 .3 0 .3.1 .3.1 .3.1 .2 0 .3 0 .3 0 .3 0 .3-.1 .3 0 .3-.1 .3 0 .3 0 .3.1 .3.1 .3 0 .2.1 .3-.1 .3-.1 .3-.1 .3 0 .3 0 .3 0 .3 0 .3 0 .3.1 .3 0 .3.1 .3.1 .2 0 .3 0 .3-.2 .3 0 .3-.1 .3 0 .3 0 .3-.1 .3.1 .3.1 .3.2 .3.1 .2-.1 .3-.3 .3-.1 .3 0 .3.1 .3.1 .3.1 .3 0 .3.1 .3 0 .3 0 .3-.1 .2-.1 .3-.1 .3-.1 .3.1 .3 0 .3 0 .3 0 .3.2 .3.1 .3-.1 .3-.2 .3-.1 .2.1 .3.2 .3 0 .3-.1 .3-.1 .3 0 .3.2 .3 0 .3-.1 .3-.1 .3 0 .3.1 .2.1 .3 0 .3 0 .3-.1 .3-.2 .3 0 .3 0 .3.2 .3.1 .3.1 .3 0 .3-.1 .2 0 .3.1 .3.1 .3-.1 .3 0 .3-.1 .3-.1 .3 0 .3 0 .3 0 .3-.1 .3-.1 .2 0 .3.1 .3.1 .3 0 .3 0 .3 0 .3.1 .3.1 .3 0 .3-.1 .3-.1 .3 0 .2 0 .3 0 .3-.1 .3-.1 .3-.1 .3.1 .3.2 .3.1 .3.1 .3-.1 .3-.1 .3-.1 .3 0 .2.1 .3.2 .3-.1 .3-.1 .3-.1 .3 0 .3 0 .3.1 .3 0 .3.1 .3.1 .3 0 .2-.1 .3-.1 .3-.1 .3 0 .3 0 .3 0 .3 0 .3-.1 .3 0 .3.1 .3.1 .3.1 .2-.1 .3 0 .3 0 .3.1 .3.1 .3 0 .3-.1 .3-.1 .3-.1 .3 0 .3 0 .3 0 .2.1 .3.1 .3 0 .3 0 .3 0 .3-.2 .3-.1 .3 0 .3.1 .3.2 .3.1 .3 0 .2-.1 .3 0 .3 0 .3-.1 .3-.1 .3-.1 .3 0 .3.2 .3.2 .3 0 .3-.1 .3-.2 .2-.1 .3.1 .3.2 .3.1 .3 0 .3-.1 .3-.2 .3 0 .3 0 .3 0 .3 0 .3 0 .2 0 .3.2 .3.1 .3.1 .3-.1 .3-.1 .3-.1 .3-.1 .3 0 .3 0 .3 0 .3.1 .2.1 .3.1 .3 0 .3-.2 .3-.2 .3-.1 .3.1 .3.2 .3.3 .3 0 .3-.2 .3-.2 .2-.1 .3 0 .3.2 .3.2 .3-.1 .3-.1 .3-.1 .3 0 .3 0 .3.1 .3.1 .3 0 .3-.1 .2 0 .3-.1 .3.1 .3 0 .3.1 .3 0 .3-.1 .3-.1 .3 0 .3.1 .3.1 .3-.1 .2-.1 .3 0 .3.1 .3.1 .3 0 .3-.1 .3-.1 .3-.1 .3.2 .3.1 .3.1 .3-.1 .2-.1 .3-.1 .3 0 .3 0 .3.1 .3 0 .3.1 .3 0 .3 0 .3-.1 .3 0 .3-.1 .2 0 .3 0 .3 0 .3.1 .3.1 .3 0 .3 0 .3 0 .3 0 .3.1 .3 0 .3 0 .2-.1 .3 0 .3.1 .3.1 .3-.1 .3-.1 .3-.1 .3 0 .3 0 .3 0 .3-.1 .3-.1 .2-.1 .3.1 .3 0 .3.1 .3.1 .3.1 .3 0 .3 0 .3.1 .3 0 .3 0 .3-.2 .2-.2 .3-.1 .3 0 .3.2 .3.2 .3.2 .3-.1 .3-.2 .3-.2 .3 0 .3.2 .3.1 .2.1 .3-.1 .3-.2 .3-.1 .3.1 .3.1 .3.1 .3 0 .3 0 .3 0 .3 0 .3-.1 .2-.1 .3-.1 .3 0 .3 0 .3.2 .3.1 .3 0 .3 0 .3 0 .3 0 .3.1 .3.1 .3 0 .2-.1 .3-.1 .3-.1 .3 0 .3 0 .3 0 .3-.1 .3-.1 .3 0 .3 0 .3.1 .3.1 .2.1 .3 0 .3 0 .3 0 .3.1 .3 0 .3-.1 .3-.1 .3-.1 .3-.1 .3.1 .3 0 .2 0 .3 0 .3 0 .3.1 .3.2 .3.1 .3 0 .3-.2 .3 0 .3 0 .3-.1 .3-.1 .2-.1 .3-.1 .3.1 .3.1 .3.1 .3 0 .3 0 .3.1 .3.1 .3 0 .3 0 .3-.2 .2-.1 .3 0 .3 0 .3 0 .3 0 .3 0 .3-.1 .3 0 .3.1 .3 0 .3.1 .3 0 .2 0 .3 0 .3.1 .3 0 .3.1 .3-.1 .3-.2 .3-.1 .3 0 .3.2 .3.2 .3-.1 .2-.2 .3-.1 .3.1 .3.2 .3.1 .3-.1 .3-.2 .3-.1 .3.1 .3.2 .3.1 .3 0 .2-.2 .3-.2 .3 0 .3.1 .3.2 .3.1 .3 0 .3-.2 .3-.1 .3 0 .3 0 .3 0 .3 0 .2.1 .3 0 .3.1 .3.1 .3.1 .3-.1 .3-.2 .3-.2 .3 0 .3.1 .3 0 .3 0 .2 0 .3.1 .3 0 .3.1 .3 0 .3 0 .3 0 .3 0 .3 0 .3 0 .3 0 .3-.1 .2-.1 .3 0 .3 0 .3 0 .3 0 .3 0 .3 0 .3.2 .3.1 .3 0 .3-.1 .3-.2 .2-.1 .3 0 .3.1 .3 0 .3 0 .3.1 .3 0 .3.1 .3.1 .3.1 .3 0 .3-.1 .2-.1 .3 0 .3 0 .3 0 .3 0 .3 0 .3-.1 .3 0 .3 0 .3 0 .3 0 .3 0 .2 0 .3 0 .3-.1 .3 0 .3 0 .3.1 .3 0 .3 0 .3 0" fill="none" stroke="#000000" stroke-width="0.8" stroke-opacity="0.35"/><path d="M66.4 219.1l.3.1 .3 0 .3-.2 .3-.2 .3 0 .3 0 .3-.1 .3 0 .3 0 .2.2 .3.3 .3.1 .3-.1 .3-.3 .3-.2 .3-.1 .3 0 .3.1 .3.1 .3.1 .3.2 .2.2 .3 0 .3-.2 .3-.4 .3-.3 .3.1 .3.2 .3.2 .3.1 .3.1 .3.1 .3.1 .2-.1 .3-.2 .3-.3 .3-.1 .3.1 .3.1 .3 0 .3 0 .3.1 .3.2 .3.2 .3 0 .2-.3 .3-.2 .3-.1 .3 0 .3 0 .3-.1 .3 0 .3.3 .3.3 .3.1 .3-.1 .3-.3 .2-.3 .3 0 .3.1 .3.2 .3.1 .3.1 .3 0 .3 0 .3 0 .3-.1 .3-.1 .3-.1 .2-.1 .3-.1 .3.1 .3 0 .3.1 .3-.1 .3 0 .3 0 .3.1 .3.1 .3.2 .3 0 .3 0 .2 0 .3 0 .3 0 .3-.1 .3-.1 .3-.3 .3-.1 .3.1 .3.3 .3.3 .3.1 .3-.2 .2-.5 .3-.5 .3-.9 .3-.2 .3 1.6 .3 3 .3 1.7 .3-1.5 .3-2 .3-.8 .3-.2 .3-.1 .2-.1 .3 0 .3 0 .3.1 .3.1 .3 0 .3 0 .3.1 .3.1 .3.2 .3 0 .3-.1 .2-.3 .3-.1 .3-.1 .3.2 .3.1 .3.1 .3.1 .3 0 .3.1 .3-.2 .3-.3 .3-.3 .2.1 .3.4 .3.3 .3.1 .3-.2 .3-.1 .3-.1 .3 0 .3-.1 .3-.2 .3-.1 .3 0 .2.2 .3.2 .3 0 .3-.1 .3.1 .3.2 .3.2 .3.1 .3-.1 .3-.2 .3 0 .3 0 .2 0 .3-.1 .3-.2 .3-.1 .3 0 .3.1 .3 0 .3-.1 .3-.1 .3-.1 .3.1 .3.1 .2 0 .3 0 .3-.2 .3 0 .3.1 .3.2 .3.1 .3 0 .3 0 .3.1 .3.1 .3 0 .3-.1 .2-.2 .3-.1 .3 0 .3.1 .3.2 .3.1 .3 0 .3-.1 .3-.2 .3-.1 .3 0 .3.1 .2 0 .3.1 .3.1 .3.1 .3.1 .3-.1 .3-.3 .3-.2 .3-.1 .3.2 .3.4 .3.1 .2-.1 .3-.2 .3-.2 .3.1 .3 0 .3.1 .3 0 .3.1 .3.1 .3 0 .3 0 .3-.2 .2-.2 .3-.1 .3 0 .3.1 .3 0 .3.1 .3.2 .3.2 .3 0 .3-.2 .3-.3 .3-.2 .2.2 .3.3 .3.3 .3 0 .3-.2 .3-.4 .3-.2 .3 0 .3.2 .3.1 .3 0 .3 0 .2 0 .3.1 .3.1 .3.1 .3 0 .3-.1 .3 0 .3 0 .3-.1 .3-.1 .3 0 .3 0 .2.2 .3.1 .3-.1 .3-.2 .3-.1 .3 0 .3.1 .3.3 .3.2 .3-.1 .3-.3 .3-.3 .2-.1 .3.2 .3.2 .3.3 .3 0 .3-.1 .3-.3 .3-.2 .3.1 .3.1 .3.2 .3.1 .2-.1 .3-.1 .3-.1 .3 0 .3.1 .3.1 .3 0 .3 0 .3-.2 .3-.1 .3.1 .3.2 .3.1 .2-.2 .3-.1 .3-.1 .3.2 .3.1 .3.1 .3-.2 .3-.1 .3-.1 .3.2 .3.1 .3.1 .2-.1 .3-.2 .3-.1 .3 0 .3.2 .3.2 .3.1 .3-.2 .3-.3 .3-.1 .3.1 .3.3 .2.1 .3 0 .3-.1 .3-.1 .3-.1 .3 0 .3 0 .3 0 .3 0 .3 0 .3.2 .3.1 .2.1 .3 0 .3-.2 .3-.2 .3-.1 .3 0 .3 0 .3.1 .3.1 .3.2 .3.1 .3-.1 .2-.2 .3-.3 .3 0 .3.2 .3.3 .3.2 .3-.1 .3-.3 .3-.2 .3-.1 .3.1 .3.2 .2.1 .3.1 .3 0 .3-.1 .3-.1 .3-.1 .3-.1 .3 0 .3.1 .3.2 .3.1 .3 0 .2-.2 .3-.2 .3-.1 .3.1 .3.2 .3.3 .3 0 .3 0 .3-.2 .3-.2 .3 0 .3 0 .2 0 .3-.1 .3 0 .3 0 .3.1 .3.2 .3 0 .3 0 .3 0 .3 0 .3 0 .3 0 .2-.2 .3-.2 .3-.1 .3.1 .3.1 .3 0 .3 0 .3.1 .3.2 .3.2 .3.1 .3-.1 .3-.1 .2 0 .3 0 .3 0 .3-.2 .3-.2 .3-.2 .3.1 .3.1 .3.2 .3.2 .3 0 .3 0 .2-.1 .3 0 .3-.1 .3-.1 .3-.1 .3 0 .3 0 .3.2 .3.1 .3.1 .3 0 .3-.1 .2-.1 .3-.1 .3-.1 .3 0 .3.1 .3 0 .3 0 .3 0 .3.1 .3.1 .3.1 .3.1 .2 0 .3-.1 .3-.1 .3-.1 .3 0 .3 0 .3-.1 .3-.1 .3-.2 .3 0 .3.1 .3.1 .2.1 .3 0 .3 0 .3.1 .3.2 .3.1 .3 0 .3-.2 .3-.2 .3-.2 .3 0 .3.2 .2.1 .3.1 .3.1 .3 0 .3 0 .3-.1 .3-.2 .3-.2 .3 0 .3.2 .3.3 .3 0 .2 0 .3-.1 .3-.1 .3.1 .3-.1 .3-.1 .3-.1 .3-.1 .3.1 .3.1 .3 0 .3-.1 .2-.1 .3-.1 .3.1 .3.1 .3-.1 .3-.1 .3 0 .3.3 .3.3 .3.2 .3-.1 .3-.2 .3 0 .2-.1 .3-.1 .3-.2 .3-.1 .3.2 .3.2 .3.1 .3 0 .3 0 .3.1 .3 0 .3 0 .2-.2 .3-.2 .3 0 .3.1 .3.1 .3.1 .3 0 .3-.1 .3-.1 .3 0 .3.1 .3.1 .2 0 .3-.1 .3-.1 .3 0 .3 0 .3.2 .3 0 .3 0 .3-.1 .3-.1 .3-.1 .3.1 .2.2 .3.1 .3 0 .3-.2 .3-.3 .3.1 .3.3 .3.2 .3-.1 .3-.4 .3-.2 .3.3 .2.4 .3.1 .3-.1 .3-.4 .3-.1 .3 0 .3 0 .3-.1 .3-.1 .3-.1 .3.2 .3.1 .2 0 .3-.1 .3 0 .3 0 .3.2 .3 0 .3 0 .3-.1 .3 0" fill="none" stroke="#0000ff" stroke-width="1.0" stroke-opacity="0.55"/><path d="M66.4 219l.3.3 .3-.2 .3-.3 .3-.2 .3.1 .3.2 .3.1 .3.1 .3 0 .2-.2 .3-.3 .3-.1 .3.3 .3.3 .3.1 .3-.1 .3-.1 .3-.1 .3-.1 .3-.2 .3 0 .2.2 .3.4 .3 0 .3-.1 .3-.1 .3-.1 .3-.1 .3-.1 .3-.1 .3.1 .3.1 .3 0 .2 0 .3.2 .3.2 .3 0 .3-.1 .3.1 .3 0 .3-.2 .3-.4 .3-.1 .3.2 .3.1 .2.1 .3.2 .3.1 .3-.1 .3-.4 .3-.2 .3.2 .3.3 .3.1 .3 0 .3-.1 .3-.1 .2-.1 .3-.1 .3 0 .3.2 .3.3 .3 0 .3-.3 .3-.3 .3 0 .3.4 .3.2 .3-.2 .2-.3 .3 0 .3.3 .3.2 .3-.3 .3-.3 .3.2 .3.3 .3.1 .3-.2 .3-.3 .3-.1 .3.2 .2.3 .3.1 .3-.1 .3-.2 .3-.1 .3 0 .3 0 .3 0 .3-.1 .3 0 .3.1 .3.1 .2 0 .3-.1 .3.1 .3.2 .3.1 .3 0 .3-.1 .3.1 .3.1 .3-.1 .3-.3 .3-.3 .2 0 .3.1 .3 0 .3 0 .3.2 .3.3 .3.1 .3-.1 .3-.1 .3.1 .3.1 .3-.2 .2-.2 .3 0 .3.1 .3-.1 .3-.2 .3-.1 .3.1 .3 0 .3-.1 .3 0 .3.2 .3.2 .2 0 .3 0 .3.2 .3 0 .3-.2 .3-.4 .3-.1 .3.3 .3.3 .3.1 .3-.3 .3-.3 .2.1 .3.4 .3.1 .3-.4 .3-.2 .3.1 .3.3 .3.1 .3 0 .3-.1 .3-.1 .3-.1 .2-.2 .3-.1 .3.1 .3.3 .3.2 .3 0 .3 0 .3 0 .3.1 .3.1 .3-.2 .3-.2 .2-.2 .3 0 .3.1 .3-.2 .3-.1 .3.1 .3.4 .3.3 .3 0 .3-.4 .3-.4 .3.1 .3.4 .2.3 .3-.3 .3-.4 .3.1 .3.4 .3.1 .3-.3 .3-.3 .3.1 .3.4 .3.1 .3-.4 .2-.2 .3.2 .3.3 .3 0 .3-.2 .3-.2 .3 0 .3.2 .3.1 .3.1 .3-.1 .3-.1 .2-.3 .3-.1 .3.3 .3.4 .3.2 .3-.2 .3-.5 .3-.1 .3 0 .3.1 .3 0 .3.3 .2.3 .3.1 .3-.3 .3-.3 .3-.2 .3.1 .3 0 .3 0 .3.1 .3.3 .3.2 .3-.1 .2-.2 .3-.1 .3 0 .3-.1 .3-.2 .3-.1 .3.2 .3.2 .3.1 .3 0 .3.1 .3.1 .2 0 .3-.2 .3-.2 .3 0 .3-.1 .3-.1 .3.1 .3.3 .3.2 .3 0 .3-.3 .3-.1 .2-.1 .3 0 .3.1 .3.3 .3.2 .3-.3 .3-.3 .3-.1 .3.2 .3.2 .3.1 .3 0 .2 0 .3-.2 .3-.3 .3-.1 .3.1 .3.4 .3.3 .3 0 .3-.2 .3-.2 .3-.1 .3-.1 .2-.1 .3-.1 .3.2 .3.3 .3.3 .3-.1 .3-.1 .3-.1 .3-.1 .3-.2 .3-.1 .3 0 .3.3 .2.2 .3 0 .3-.1 .3 0 .3 0 .3-.1 .3-.2 .3-.1 .3.1 .3.1 .3.1 .3 0 .2 0 .3.2 .3.1 .3-.1 .3-.1 .3-.1 .3.1 .3-.1 .3-.2 .3-.1 .3 0 .3.1 .2.1 .3 0 .3 0 .3.2 .3.3 .3 0 .3-.2 .3-.2 .3-.1 .3 0 .3-.1 .3-.1 .2.2 .3.3 .3.2 .3-.1 .3-.3 .3-.2 .3-.1 .3.1 .3.1 .3.1 .3.2 .3.1 .2 0 .3-.3 .3-.4 .3-.1 .3.3 .3.5 .3.1 .3-.2 .3-.3 .3-.2 .3.1 .3.2 .2.1 .3.1 .3 0 .3-.2 .3-.2 .3-.2 .3.2 .3.3 .3.1 .3 0 .3 0 .3.1 .2-.1 .3-.3 .3-.2 .3 0 .3.1 .3 0 .3-.1 .3.1 .3.2 .3.2 .3 0 .3 0 .2 0 .3.1 .3.1 .3-.1 .3-.3 .3-.1 .3 0 .3 0 .3-.2 .3 0 .3.1 .3.3 .2.1 .3 0 .3-.1 .3 0 .3-.1 .3-.1 .3 0 .3 0 .3.1 .3.2 .3 0 .3-.1 .3 0 .2-.1 .3-.3 .3-.1 .3.3 .3.3 .3 0 .3 0 .3.1 .3 0 .3-.3 .3-.3 .3 0 .2.1 .3.1 .3.1 .3.2 .3.1 .3-.2 .3-.4 .3 0 .3.4 .3.3 .3-.4 .3-.4 .2.2 .3.4 .3.2 .3-.3 .3-.3 .3-.1 .3.1 .3.2 .3 0 .3 0 .3.1 .3.1 .2 0 .3-.1 .3-.1 .3 0 .3 0 .3-.1 .3 0 .3.1 .3.1 .3.1 .3-.2 .3-.2 .2 0 .3.2 .3.3 .3-.1 .3-.3 .3-.2 .3.2 .3.2 .3.1 .3-.2 .3-.1 .3 0 .2 0 .3.2 .3.1 .3-.1 .3-.2 .3-.2 .3 0 .3.3 .3.2 .3 0 .3 0 .3 0 .2 0 .3-.2 .3-.3 .3 0 .3.2 .3.2 .3 0 .3 0 .3 0 .3 0 .3-.2 .3-.1 .2.1 .3.2 .3.1 .3-.1 .3-.1 .3-.1 .3 0 .3.1 .3.1 .3 0 .3 0 .3-.2 .3 0 .2 0 .3.1 .3.2 .3 0 .3-.2 .3-.2 .3-.1 .3.2 .3.3 .3.1 .3-.2 .3-.1 .2-.1 .3-.1 .3-.1 .3.1 .3.3 .3.3 .3-.1 .3-.2 .3-.2 .3 0 .3-.1 .3-.1 .2.1 .3.3 .3.3 .3-.1 .3-.3 .3-.2 .3-.1 .3.2 .3.1 .3.1 .3.1 .3-.1 .2-.2 .3-.1 .3.1 .3.2 .3.1 .3-.1 .3-.2 .3-.1 .3.3 .3.1 .3-.2 .3-.2 .2.1 .3.2 .3.1 .3-.1 .3-.1 .3-.2 .3-.1 .3.1 .3.2 .3.3 .3.2 .3-.1 .2-.3 .3-.3 .3-.1 .3 0 .3-.1 .3 0 .3.2 .3.4 .3.3" fill="none" stroke="#ff0000" stroke-width="1.0" stroke-opacity="0.6" stroke-dasharray="3.2 2.6"/><use href="#w1" transform="translate(217.30 0)"/><path d="M283.7 219l.3 0 .3 0 .3.1 .3-.1 .3-.1 .3-.1 .3-.1 .3.1 .3 0 .2.1 .3 0 .3 0 .3 0 .3.1 .3 0 .3 0 .3-.1 .3 0 .3 0 .3 0 .3-.1 .2 0 .3-.1 .3.1 .3 0 .3.1 .3 0 .3 0 .3.1 .3 0 .3.1 .3-.1 .3-.1 .2-.1 .3-.1 .3 0 .3.1 .3.1 .3 0 .3 0 .3.1 .3.1 .3 0 .3 0 .3-.1 .2-.1 .3 0 .3 0 .3 0 .3 0 .3-.1 .3-.1 .3 0 .3.1 .3 0 .3 0 .3 0 .2 0 .3.1 .3.1 .3 0 .3 0 .3 0 .3 0 .3 0 .3 0 .3-.2 .3-.1 .3 0 .2.2 .3.2 .3 0 .3-.2 .3-.1 .3-.1 .3.2 .3.1 .3 0 .3 0 .3-.1 .3 0 .3-.1 .2 0 .3 0 .3.1 .3.1 .3 0 .3 0 .3-.1 .3-.1 .3-.1 .3.1 .3.1 .3.1 .2.1 .3-.1 .3-.1 .3-.1 .3 0 .3 0 .3 0 .3.1 .3 0 .3 0 .3.1 .3 0 .2 0 .3 0 .3-.1 .3-.1 .3 0 .3 0 .3.1 .3.1 .3 0 .3 0 .3-.1 .3 0 .2-.1 .3 0 .3.1 .3.1 .3 0 .3-.1 .3 0 .3 0 .3-.1 .3 0 .3.1 .3 0 .2.1 .3 0 .3-.1 .3-.1 .3 0 .3 0 .3.1 .3.1 .3.1 .3-.1 .3 0 .3-.1 .2 0 .3 0 .3-.1 .3-.1 .3.1 .3.1 .3.1 .3.1 .3 0 .3-.2 .3-.1 .3 0 .2 0 .3.1 .3 0 .3.1 .3 0 .3 0 .3 0 .3-.2 .3-.1 .3.1 .3.1 .3.1 .2 0 .3 0 .3-.1 .3 0 .3-.1 .3 0 .3 0 .3.1 .3 0 .3.1 .3 0 .3 0 .3-.1 .2-.1 .3 0 .3 0 .3.1 .3 0 .3 0 .3.1 .3 0 .3 0 .3-.1 .3-.1 .3-.1 .2 0 .3.1 .3.2 .3 0 .3.1 .3-.1 .3 0 .3-.1 .3 0 .3 0 .3-.1 .3-.1 .2 0 .3.1 .3.1 .3.1 .3.1 .3 0 .3-.1 .3-.1 .3-.1 .3 0 .3 0 .3.1 .2 0 .3.1 .3 0 .3 0 .3-.1 .3-.1 .3-.1 .3 0 .3.1 .3.1 .3 0 .3-.1 .2.1 .3 0 .3.1 .3 0 .3 0 .3 0 .3 0 .3.1 .3 0 .3 0 .3-.1 .3-.1 .2 0 .3 0 .3 0 .3-.1 .3-.1 .3 0 .3.1 .3.1 .3.1 .3.1 .3-.1 .3-.1 .2-.1 .3 0 .3.1 .3 0 .3.1 .3 0 .3 0 .3 0 .3 0 .3-.1 .3 0 .3-.1 .2 0 .3 0 .3 0 .3 0 .3 0 .3-.1 .3.1 .3.1 .3.1 .3 0 .3 0 .3 0 .2.1 .3 0 .3-.1 .3-.1 .3-.2 .3 0 .3.1 .3 0 .3 0 .3 0 .3.2 .3.1 .3 0 .2-.1 .3-.1 .3 0 .3 0 .3-.1 .3 0 .3-.1 .3 0 .3.1 .3.1 .3.1 .3-.1 .2.1 .3 0 .3.1 .3 0 .3 0 .3-.2 .3-.1 .3 0 .3 0 .3 0 .3 0 .3 0 .2 0 .3.1 .3.1 .3.1 .3-.1 .3-.1 .3-.2 .3 0 .3.2 .3.1 .3.1 .3-.1 .2-.2 .3-.1 .3.1 .3.1 .3.1 .3 0 .3 0 .3-.1 .3-.1 .3 0 .3 0 .3 0 .2-.1 .3 0 .3.1 .3.1 .3.1 .3 0 .3 0 .3 0 .3 0 .3 0 .3 0 .3 0 .2-.1 .3-.1 .3 0 .3 0 .3 0 .3 0 .3 0 .3.1 .3.1 .3.1 .3 0 .3-.1 .2-.2 .3-.1 .3 0 .3.1 .3.1 .3 0 .3 0 .3.1 .3 0 .3.1 .3-.1 .3-.1 .2 0 .3-.1 .3 0 .3 0 .3 0 .3.1 .3 0 .3.1 .3 0 .3 0 .3-.1 .3-.1 .2 0 .3.1 .3.1 .3 0 .3 0 .3-.1 .3-.1 .3 0 .3 0 .3.1 .3.1 .3 0 .3 0 .2 0 .3 0 .3 0 .3-.1 .3 0 .3-.1 .3 0 .3.1 .3-.1 .3 0 .3 0 .3 0 .2 0 .3 0 .3 0 .3 0 .3-.1 .3.1 .3.1 .3 0 .3 0 .3-.1 .3.1 .3 0 .2.1 .3 0 .3 0 .3 0 .3 0 .3 0 .3 0 .3-.1 .3-.1 .3 0 .3 0 .3 0 .2 0 .3 0 .3.1 .3.1 .3.1 .3-.1 .3 0 .3 0 .3 0 .3 0 .3 0 .3-.1 .2-.1 .3 0 .3 0 .3 0 .3 0 .3 0 .3 0 .3 0 .3.1 .3.1 .3.1 .3 0 .2-.1 .3 0 .3-.1 .3 0 .3 0 .3 0 .3-.1 .3 0 .3-.1 .3 0 .3 0 .3.1 .2 0 .3 0 .3 0 .3 0 .3 0 .3 0 .3.1 .3 0 .3 0 .3-.1 .3.1 .3.1 .2 0 .3 0 .3 0 .3 0 .3 0 .3 0 .3 0 .3-.1 .3-.1 .3-.1 .3.1 .3.1 .3.1 .2 0 .3 0 .3 0 .3 0 .3 0 .3 0 .3-.1 .3-.1 .3-.1 .3.1 .3 0 .3 0 .2 0 .3 0 .3 0 .3.1 .3.1 .3.1 .3 0 .3-.1 .3-.2 .3-.1 .3 0 .3.1 .2.1 .3.1 .3 0 .3 0 .3 0 .3 0 .3.1 .3 0 .3 0 .3 0 .3-.1 .3 0 .2 0 .3 0 .3 0 .3 0 .3-.1 .3-.1 .3 0 .3 0 .3.1 .3 0 .3 0 .3.1 .2 0 .3 0 .3-.1 .3-.1 .3 0 .3 0 .3.1 .3.1 .3 0 .3 0 .3-.1 .3 0 .2-.1 .3 0 .3-.1 .3 0 .3.1 .3.1 .3 0 .3 0 .3 0" fill="none" stroke="#000000" stroke-width="0.8" stroke-opacity="0.35"/><path d="M283.7 218.6l.3.1 .3.2 .3.2 .3.1 .3-.2 .3-.2 .3-.2 .3 0 .3.3 .2.2 .3.1 .3-.1 .3-.2 .3-.3 .3 0 .3.2 .3.3 .3.1 .3-.1 .3-.2 .3-.2 .2 0 .3.1 .3.2 .3.1 .3-.1 .3-.1 .3-.1 .3 0 .3.1 .3.1 .3.1 .3-.1 .2-.3 .3-.1 .3.2 .3.3 .3.1 .3-.2 .3-.3 .3-.2 .3.1 .3.2 .3.1 .3.1 .2 0 .3.1 .3.2 .3-.1 .3-.1 .3-.2 .3 0 .3 0 .3-.1 .3-.1 .3-.1 .3 0 .2.2 .3.1 .3.1 .3 0 .3 0 .3 0 .3.1 .3 0 .3-.1 .3-.2 .3-.2 .3 0 .2.1 .3.1 .3.2 .3 0 .3 0 .3 0 .3.1 .3 0 .3-.2 .3-.1 .3-.1 .3 0 .3.1 .2.1 .3 0 .3 0 .3.1 .3 0 .3 0 .3-.1 .3-.1 .3-.1 .3.1 .3.1 .3.2 .2 0 .3-.2 .3-.1 .3-.1 .3.1 .3.2 .3.1 .3-.1 .3-.1 .3-.1 .3 0 .3 0 .2.1 .3.1 .3 0 .3 0 .3-.1 .3-.1 .3-.1 .3 0 .3.1 .3.2 .3.2 .3 0 .2-.1 .3-.2 .3-.3 .3 0 .3 0 .3.2 .3.2 .3.1 .3 0 .3 0 .3 0 .3-.1 .2-.2 .3-.2 .3 0 .3.1 .3.3 .3.1 .3.1 .3-.1 .3-.2 .3 0 .3-.1 .3 0 .2 0 .3-.1 .3 0 .3 0 .3.2 .3.2 .3.1 .3-.1 .3-.2 .3-.2 .3 0 .3.1 .2.2 .3.1 .3-.1 .3-.1 .3-.1 .3-.1 .3 0 .3.1 .3.2 .3.1 .3.1 .3-.1 .2-.2 .3-.1 .3 0 .3 0 .3 0 .3 0 .3 0 .3.1 .3.1 .3.2 .3-.1 .3-.2 .3-.3 .2 0 .3.2 .3.3 .3.1 .3-.1 .3-.2 .3-.2 .3 0 .3 0 .3.1 .3.1 .3.1 .2 0 .3 0 .3.1 .3 0 .3 0 .3-.1 .3-.2 .3-.1 .3 0 .3 0 .3 0 .3 0 .2 0 .3.1 .3.2 .3.1 .3.1 .3-.1 .3-.2 .3-.1 .3 0 .3 0 .3 0 .3.1 .2.1 .3.1 .3-.1 .3-.2 .3-.1 .3 0 .3.2 .3.2 .3.1 .3-.1 .3-.2 .3-.2 .2 0 .3.1 .3.1 .3 0 .3.1 .3.1 .3.1 .3-.1 .3-.2 .3-.2 .3-.1 .3.1 .2.1 .3.1 .3 0 .3.1 .3.2 .3 0 .3-.2 .3-.2 .3-.2 .3 0 .3.2 .3.2 .2.2 .3-.1 .3-.1 .3-.2 .3 0 .3 0 .3 0 .3 0 .3 0 .3.1 .3.2 .3 0 .2 0 .3-.1 .3-.2 .3-.1 .3 0 .3.1 .3 0 .3-.1 .3 0 .3.1 .3.1 .3.1 .2.1 .3-.1 .3 0 .3 0 .3 0 .3-.1 .3-.1 .3 0 .3 0 .3.1 .3.1 .3 0 .3-.2 .2 0 .3.1 .3.1 .3 0 .3-.1 .3-.1 .3 0 .3.1 .3.1 .3 0 .3 0 .3 0 .2-.1 .3 0 .3-.1 .3-.1 .3-.1 .3.1 .3.1 .3.1 .3.1 .3 0 .3-.1 .3 0 .2.1 .3.1 .3.1 .3-.1 .3-.1 .3.1 .3.1 .3.1 .3 0 .3-.2 .3-.1 .3-.1 .2 0 .3 0 .3-.1 .3-.1 .3-.1 .3 0 .3.1 .3.2 .3.1 .3.1 .3 0 .3 0 .2-.1 .3-.1 .3-.1 .3 0 .3 0 .3 0 .3.1 .3.1 .3.1 .3 0 .3-.2 .3-.2 .2-.1 .3.2 .3.3 .3.2 .3-.2 .3-.3 .3-.2 .3 0 .3.2 .3.2 .3.1 .3 0 .2 0 .3-.1 .3-.2 .3-.2 .3 0 .3.3 .3.4 .3-.1 .3-.4 .3-.3 .3.1 .3.4 .2.3 .3-.2 .3-.4 .3-.2 .3.3 .3.4 .3 0 .3-.3 .3-.3 .3.1 .3.3 .3.1 .2-.2 .3-.1 .3 0 .3.1 .3.1 .3 0 .3 0 .3 0 .3-.2 .3-.1 .3-.1 .3 0 .3.1 .2.2 .3.2 .3.1 .3 0 .3-.2 .3-.3 .3-.1 .3 0 .3.4 .3.2 .3 0 .3-.3 .2-.3 .3 0 .3.3 .3.3 .3 0 .3-.2 .3-.3 .3-.2 .3.2 .3.3 .3.2 .3 0 .2-.2 .3-.2 .3-.1 .3.1 .3.1 .3.1 .3 0 .3-.1 .3 0 .3-.1 .3 0 .3.1 .2.1 .3 0 .3 0 .3-.2 .3-.1 .3.1 .3.1 .3.2 .3 0 .3-.1 .3-.2 .3-.1 .2.1 .3.1 .3.1 .3 0 .3 0 .3-.2 .3-.1 .3 0 .3.1 .3.2 .3.1 .3 0 .2-.1 .3-.1 .3 0 .3-.1 .3 0 .3-.1 .3 0 .3.1 .3.2 .3.2 .3 0 .3-.1 .2-.2 .3-.2 .3-.1 .3.1 .3.2 .3.2 .3 0 .3-.1 .3-.2 .3-.1 .3 0 .3.3 .2.1 .3 0 .3-.2 .3-.1 .3-.1 .3.1 .3 0 .3.1 .3 0 .3.1 .3.1 .3 0 .3-.1 .2-.2 .3-.1 .3-.1 .3.1 .3.2 .3.2 .3 0 .3 0 .3-.1 .3-.2 .3-.1 .3 0 .2.1 .3.1 .3.1 .3.1 .3 0 .3-.1 .3-.1 .3-.1 .3-.1 .3 0 .3.1 .3.2 .2.1 .3 0 .3-.1 .3-.2 .3-.2 .3.1 .3.2 .3.2 .3.1 .3-.2 .3-.2 .3-.1 .2 0 .3.2 .3.1 .3 0 .3 0 .3 0 .3-.1 .3-.1 .3-.1 .3 0 .3.1 .3.2 .2.1 .3 0 .3 0 .3-.1 .3-.1 .3 0 .3 0 .3-.1 .3-.1 .3-.1 .3 0 .3.1 .2.1 .3-.1 .3 0 .3 0 .3.1 .3.2 .3.1 .3.1 .3-.1" fill="none" stroke="#0000ff" stroke-width="1.0" stroke-opacity="0.55"/><path d="M283.7 219l.3-.2 .3-.1 .3.1 .3.2 .3 0 .3 0 .3 0 .3-.1 .3-.2 .2-.1 .3.2 .3.3 .3.1 .3-.1 .3-.3 .3-.1 .3 0 .3.1 .3.2 .3.1 .3 0 .2-.3 .3-.2 .3.2 .3.3 .3.1 .3-.4 .3-.2 .3.1 .3.4 .3.1 .3-.3 .3-.3 .2.1 .3.3 .3.2 .3-.2 .3-.2 .3-.1 .3.1 .3.1 .3.1 .3 0 .3.1 .3 0 .2-.1 .3-.2 .3-.1 .3 0 .3.1 .3 0 .3-.1 .3.1 .3.1 .3.2 .3 0 .3-.1 .2 0 .3 0 .3-.1 .3-.1 .3-.1 .3.1 .3 0 .3.1 .3 0 .3.1 .3.1 .3 0 .2-.2 .3-.1 .3 0 .3 0 .3-.1 .3 0 .3.3 .3.2 .3 0 .3-.3 .3-.2 .3 0 .3.1 .2.2 .3.1 .3-.1 .3-.1 .3-.2 .3 0 .3.2 .3.3 .3 0 .3-.4 .3-.3 .3.2 .2.4 .3.2 .3-.4 .3-.3 .3 0 .3.3 .3.3 .3 0 .3-.2 .3-.3 .3 0 .3.1 .2 0 .3 0 .3.1 .3.2 .3.1 .3-.1 .3-.2 .3-.1 .3 0 .3 0 .3-.1 .3 0 .2 0 .3.2 .3.1 .3 0 .3 0 .3.1 .3 0 .3-.1 .3-.2 .3-.1 .3 0 .3.1 .2.1 .3.1 .3 0 .3 0 .3 0 .3-.1 .3-.2 .3-.1 .3.2 .3.2 .3.1 .3 0 .2-.1 .3-.1 .3 0 .3-.1 .3 0 .3 0 .3 0 .3.2 .3.1 .3 0 .3-.2 .3-.2 .2 0 .3.1 .3.2 .3 0 .3 0 .3 0 .3-.1 .3-.2 .3 0 .3.2 .3.2 .3 0 .2-.2 .3-.1 .3 0 .3 0 .3 0 .3.1 .3.2 .3 0 .3-.3 .3-.2 .3.2 .3.2 .3.1 .2-.1 .3-.1 .3-.1 .3-.1 .3.2 .3.2 .3 0 .3-.3 .3-.2 .3.2 .3.3 .3 0 .2-.3 .3-.1 .3.2 .3.2 .3 0 .3-.2 .3-.2 .3.1 .3 0 .3 0 .3.1 .3.2 .2.1 .3-.1 .3-.2 .3-.1 .3 0 .3 0 .3 0 .3 0 .3.1 .3.2 .3 0 .3-.2 .2-.2 .3-.1 .3.3 .3.2 .3 0 .3-.1 .3-.1 .3-.1 .3-.1 .3-.1 .3.2 .3.2 .2.2 .3-.1 .3-.1 .3-.2 .3 0 .3-.1 .3-.1 .3.1 .3.3 .3.3 .3 0 .3-.3 .2-.3 .3-.1 .3.1 .3 0 .3.1 .3.2 .3.3 .3 0 .3-.2 .3-.2 .3 0 .3 0 .2-.2 .3-.1 .3 0 .3.2 .3.2 .3 0 .3 0 .3 0 .3 0 .3-.2 .3-.1 .3.1 .2.2 .3.2 .3-.2 .3-.2 .3-.1 .3.1 .3.1 .3.1 .3.1 .3 0 .3-.1 .3-.3 .2-.1 .3.1 .3.2 .3.1 .3 0 .3.2 .3 0 .3-.3 .3-.3 .3 0 .3.2 .3.1 .3 0 .2.2 .3.1 .3-.2 .3-.4 .3 0 .3.3 .3.2 .3 0 .3-.2 .3-.2 .3.1 .3.2 .2 0 .3-.1 .3-.1 .3 0 .3.1 .3.2 .3 0 .3-.2 .3-.2 .3-.1 .3.2 .3.3 .2.1 .3-.2 .3-.2 .3-.1 .3.1 .3 0 .3.1 .3.1 .3.1 .3 0 .3-.1 .3-.3 .2-.1 .3.1 .3.2 .3.1 .3 0 .3.1 .3 0 .3-.3 .3-.2 .3.1 .3.3 .3.1 .2-.1 .3 0 .3-.2 .3-.1 .3 0 .3.3 .3.1 .3 0 .3-.2 .3-.1 .3 0 .3.1 .2 0 .3.1 .3 0 .3-.1 .3-.1 .3-.1 .3.2 .3.2 .3 0 .3-.2 .3-.1 .3-.1 .2.1 .3.1 .3.1 .3.1 .3 0 .3-.2 .3-.2 .3 0 .3.1 .3.1 .3 0 .3 0 .2.1 .3.1 .3 0 .3-.2 .3-.3 .3 0 .3.2 .3.3 .3 0 .3-.1 .3-.2 .3-.1 .2.1 .3.1 .3.1 .3.1 .3 0 .3-.2 .3-.2 .3-.1 .3.1 .3.2 .3.1 .3 0 .3 0 .2.2 .3 0 .3-.1 .3-.2 .3 0 .3 0 .3-.1 .3-.1 .3-.1 .3.1 .3.1 .3.1 .2-.1 .3.1 .3.1 .3.1 .3 0 .3-.1 .3-.1 .3 0 .3 0 .3-.2 .3-.1 .3.1 .2.2 .3.2 .3 0 .3-.1 .3.1 .3 0 .3-.2 .3-.3 .3 0 .3.1 .3.1 .3-.1 .2.2 .3.2 .3.1 .3-.1 .3-.1 .3 0 .3 0 .3-.3 .3-.1 .3 0 .3.2 .3.1 .2 0 .3.1 .3.2 .3 0 .3-.2 .3-.2 .3 0 .3-.1 .3-.1 .3 0 .3.3 .3.2 .2.1 .3-.1 .3-.2 .3 0 .3-.1 .3-.1 .3-.1 .3.1 .3.3 .3.2 .3 0 .3-.2 .2-.2 .3 0 .3 0 .3 0 .3 0 .3.1 .3.2 .3 0 .3-.1 .3-.3 .3-.1 .3.2 .2.3 .3.1 .3-.2 .3-.3 .3-.1 .3.3 .3.3 .3-.1 .3-.3 .3-.2 .3.3 .3.3 .3-.1 .2-.4 .3-.1 .3.3 .3.3 .3 0 .3-.4 .3-.2 .3.1 .3.2 .3.1 .3.1 .3 0 .2-.2 .3-.2 .3-.1 .3.2 .3.3 .3.1 .3-.2 .3-.1 .3-.1 .3 0 .3-.1 .3 0 .2.2 .3.2 .3.1 .3-.2 .3-.3 .3 0 .3.1 .3.1 .3.1 .3.1 .3 0 .3-.2 .2-.3 .3 0 .3.3 .3.4 .3-.1 .3-.4 .3-.2 .3.2 .3.2 .3.1 .3-.1 .3-.2 .2 0 .3 0 .3.1 .3.2 .3 0 .3-.2 .3-.2 .3 0 .3.2 .3.2 .3 0 .3-.1 .2-.1 .3-.1 .3 0 .3-.1 .3 0 .3.2 .3.2 .3 0 .3-.1" fill="none" stroke="#ff0000" stroke-width="1.0" stroke-opacity="0.6" stroke-dasharray="3.2 2.6"/><use href="#w1" transform="translate(434.60 0)"/><path d="M501 218.8l.3.1 .3 0 .3.1 .3 0 .3-.1 .3-.1 .3 0 .3.1 .3.1 .2 0 .3-.1 .3-.1 .3 0 .3 0 .3.1 .3.1 .3 0 .3-.1 .3 0 .3 0 .3 0 .2 0 .3 0 .3 0 .3 0 .3 0 .3.1 .3-.1 .3 0 .3 0 .3-.1 .3 0 .3.1 .2 0 .3.1 .3 0 .3 0 .3-.1 .3-.1 .3 0 .3 0 .3.1 .3 0 .3.1 .3-.1 .2 0 .3 0 .3-.1 .3.1 .3 0 .3.1 .3 0 .3-.1 .3-.1 .3 0 .3.1 .3.1 .2.1 .3-.1 .3-.1 .3-.1 .3 0 .3 0 .3.1 .3 0 .3 0 .3 0 .3.1 .3 0 .2-.1 .3 0 .3 0 .3 0 .3 0 .3 0 .3 0 .3-.1 .3 0 .3 0 .3.1 .3 0 .3 0 .2 0 .3 0 .3 0 .3.1 .3 0 .3 0 .3 0 .3-.1 .3 0 .3 0 .3 0 .3-.1 .2 0 .3 0 .3.1 .3 0 .3 0 .3.1 .3 0 .3 0 .3-.1 .3 0 .3-.1 .3 0 .2.1 .3.1 .3 0 .3 0 .3-.1 .3-.1 .3 0 .3.1 .3 0 .3 0 .3 0 .3 0 .2 0 .3 0 .3 0 .3 0 .3 0 .3 0 .3.1 .3-.1 .3-.1 .3 0 .3 0 .3.2 .2 0 .3 0 .3-.2 .3 0 .3 0 .3.1 .3.1 .3 0 .3 0 .3-.1 .3 0 .3-.1 .2.1 .3 0 .3-.1 .3 0 .3.1 .3 0 .3.1 .3 0 .3 0 .3 0 .3-.1 .3 0 .2 0 .3 0 .3 0 .3 0 .3-.1 .3.1 .3 0 .3 0 .3 0 .3 0 .3 0 .3 0 .2 0 .3 0 .3 0 .3 0 .3 0 .3.1 .3 0 .3-.1 .3 0 .3-.1 .3 0 .3.1 .3 0 .2.1 .3 0 .3 0 .3-.1 .3-.1 .3 0 .3 0 .3 0 .3.1 .3 0 .3 0 .3 0 .2.1 .3 0 .3 0 .3 0 .3-.1 .3 0 .3-.1 .3 0 .3.1 .3 0 .3 0 .3 0 .2 0 .3 0 .3 0 .3 0 .3 0 .3 0 .3 0 .3 0 .3-.1 .3.1 .3 0 .3.1 .2-.1 .3-.1 .3 0 .3.1 .3 0 .3.1 .3-.1 .3 0 .3 0 .3 0 .3 0 .3-.1 .2 0 .3.1 .3 0 .3.1 .3 0 .3 0 .3-.1 .3 0 .3 0 .3 0 .3 0 .3-.1 .2 0 .3.1 .3 0 .3 0 .3 0 .3 0 .3 0 .3.1 .3 0 .3-.1 .3 0 .3-.1 .2 0 .3 0 .3.1 .3 0 .3 0 .3 0 .3.1 .3 0 .3 0 .3-.1 .3 0 .3-.1 .2 0 .3 0 .3.1 .3.1 .3 0 .3 0 .3-.1 .3 0 .3 0 .3 0 .3 0 .3 0 .2 0 .3 0 .3 0 .3 0 .3 0 .3-.1 .3 0 .3 0 .3.1 .3 0 .3.1 .3 0 .3 0 .2-.1 .3 0 .3 0 .3 0 .3 0 .3-.1 .3 0 .3 0 .3.1 .3.1 .3 0 .3-.1 .2-.1 .3 0 .3.1 .3 0 .3.1 .3-.1 .3 0 .3 0 .3 0 .3 0 .3 0 .3 0 .2 0 .3.1 .3 0 .3-.1 .3-.1 .3 0 .3.1 .3.1 .3 0 .3-.1 .3-.1 .3 0 .2.1 .3.1 .3 0 .3-.1 .3-.1 .3 0 .3.1 .3 0 .3 0 .3 0 .3 0 .3 0 .2.1 .3 0 .3-.1 .3 0 .3 0 .3 0 .3 0 .3 0 .3-.1 .3 0 .3 0 .3.1 .2 0 .3-.1 .3 0 .3 0 .3 0 .3.1 .3 0 .3 0 .3 0 .3.1 .3 0 .3-.1 .2-.1 .3 0 .3 0 .3.1 .3.1 .3 0 .3 0 .3-.1 .3 0 .3 0 .3 0 .3-.1 .2 0 .3.1 .3.1 .3 0 .3 0 .3 0 .3-.1 .3 0 .3 0 .3 0 .3 0 .3 0 .2-.1 .3 0 .3.1 .3 0 .3-.1 .3 0 .3 0 .3 0 .3 0 .3 0 .3 0 .3 0 .3 0 .2 0 .3.1 .3 0 .3 0 .3 0 .3.1 .3 0 .3-.1 .3 0 .3-.1 .3 0 .3.1 .2.1 .3 0 .3-.1 .3-.1 .3 0 .3.1 .3.1 .3 0 .3 0 .3-.1 .3-.1 .3 0 .2.1 .3.1 .3 0 .3 0 .3-.1 .3-.1 .3 0 .3.1 .3.1 .3 0 .3-.1 .3-.1 .2 0 .3.1 .3.1 .3 0 .3-.1 .3-.1 .3 0 .3.1 .3 0 .3.1 .3 0 .3-.1 .2 0 .3 0 .3-.1 .3 0 .3 0 .3.1 .3.1 .3 0 .3 0 .3-.1 .3 0 .3 0 .2 0 .3-.1 .3 0 .3.1 .3.1 .3 0 .3 0 .3-.1 .3-.1 .3 0 .3 0 .3.1 .2.1 .3 0 .3-.1 .3 0 .3 0 .3-.1 .3.1 .3 0 .3.1 .3 0 .3-.1 .3-.1 .2 0 .3 0 .3.1 .3.1 .3 0 .3-.1 .3 0 .3 0 .3 0 .3 0 .3-.1 .3 0 .3.1 .2 0 .3.1 .3 0 .3 0 .3-.1 .3 0 .3 0 .3 0 .3 0 .3-.1 .3 0 .3.1 .2.1 .3 0 .3 0 .3-.1 .3-.1 .3 0 .3.1 .3.1 .3 0 .3-.1 .3-.1 .3 0 .2.2 .3 0 .3 0 .3-.1 .3-.1 .3 0 .3.1 .3.1 .3 0 .3 0 .3-.1 .3 0 .2 0 .3 0 .3-.1 .3 0 .3 0 .3.1 .3.1 .3 0 .3 0 .3-.1 .3 0 .3 0 .2 0 .3 0 .3-.1 .3 0 .3 0 .3.1 .3.1 .3 0 .3 0 .3 0 .3 0 .3 0 .2 0 .3-.1 .3 0 .3-.1 .3 0 .3.1 .3 0 .3 0 .3 0" fill="none" stroke="#000000" stroke-width="0.8" stroke-opacity="0.35"/><path d="M501 219l.3 0 .3-.1 .3-.1 .3-.1 .3.1 .3.1 .3 0 .3 0 .3.1 .2 0 .3 0 .3 0 .3-.1 .3-.1 .3 0 .3 0 .3.1 .3.1 .3 0 .3-.1 .3-.1 .2 0 .3.1 .3.1 .3 0 .3-.1 .3-.1 .3 0 .3.2 .3 0 .3 0 .3-.2 .3 0 .2.1 .3.1 .3 0 .3-.1 .3 0 .3-.1 .3 0 .3.1 .3 0 .3.1 .3 0 .3 0 .2-.1 .3-.1 .3 0 .3 0 .3 0 .3.1 .3 0 .3.1 .3 0 .3 0 .3-.1 .3 0 .2-.1 .3 0 .3.1 .3.1 .3 0 .3 0 .3-.2 .3-.1 .3 0 .3.2 .3.1 .3.1 .2-.1 .3-.1 .3-.1 .3 0 .3 0 .3 0 .3 0 .3.1 .3.1 .3.1 .3 0 .3-.1 .3-.1 .2 0 .3 0 .3 0 .3-.1 .3-.1 .3 0 .3.1 .3.1 .3 0 .3 0 .3 0 .3.1 .2 0 .3.1 .3-.1 .3-.1 .3-.1 .3-.1 .3 0 .3.1 .3.1 .3 0 .3.1 .3 0 .2 0 .3-.1 .3 0 .3-.1 .3 0 .3 0 .3.2 .3.1 .3-.1 .3-.1 .3-.1 .3-.1 .2.1 .3.1 .3.1 .3 0 .3 0 .3 0 .3-.1 .3 0 .3-.1 .3 0 .3-.1 .3 0 .2.1 .3.1 .3.1 .3.1 .3 0 .3-.1 .3 0 .3-.1 .3 0 .3 0 .3-.1 .3 0 .2-.1 .3.1 .3 0 .3.2 .3.1 .3 0 .3-.1 .3-.1 .3-.2 .3 0 .3.1 .3.2 .2.1 .3 0 .3-.2 .3-.2 .3 0 .3.1 .3.1 .3.1 .3 0 .3 0 .3-.1 .3 0 .2-.1 .3 0 .3.1 .3 0 .3.1 .3 0 .3-.1 .3-.1 .3 0 .3 0 .3.1 .3.2 .3-.1 .2-.1 .3-.2 .3 0 .3.2 .3.1 .3.1 .3-.1 .3-.1 .3-.1 .3 0 .3 0 .3 0 .2 0 .3 0 .3.1 .3.1 .3.1 .3 0 .3-.1 .3-.1 .3 0 .3-.1 .3-.1 .3 0 .2.1 .3.2 .3.1 .3 0 .3-.1 .3-.1 .3 0 .3 0 .3 0 .3-.1 .3 0 .3 0 .2.1 .3 0 .3 0 .3-.1 .3 0 .3 0 .3.1 .3 0 .3-.1 .3-.1 .3 0 .3 0 .2.2 .3.1 .3 0 .3 0 .3 0 .3 0 .3-.1 .3 0 .3-.1 .3-.1 .3 0 .3.1 .2.2 .3.1 .3 0 .3-.1 .3-.1 .3 0 .3 0 .3 0 .3-.1 .3 0 .3 0 .3 0 .2.1 .3 0 .3-.1 .3-.1 .3 0 .3.1 .3 0 .3.1 .3 0 .3.1 .3 0 .3 0 .2-.1 .3-.1 .3 0 .3.1 .3.1 .3 0 .3-.1 .3-.1 .3 0 .3.1 .3.1 .3 0 .2-.1 .3-.1 .3 0 .3 0 .3.1 .3.1 .3 0 .3 0 .3-.1 .3 0 .3 0 .3 0 .3-.1 .2-.1 .3 0 .3 0 .3.1 .3 0 .3 0 .3-.1 .3 0 .3.1 .3 0 .3.1 .3-.1 .2 0 .3-.1 .3.1 .3 0 .3.1 .3 0 .3 0 .3 0 .3 0 .3.1 .3 0 .3 0 .2-.1 .3-.1 .3 0 .3 0 .3 0 .3.1 .3.1 .3 0 .3 0 .3 0 .3-.1 .3-.1 .2 0 .3 0 .3.1 .3.1 .3 0 .3 0 .3 0 .3-.1 .3 0 .3-.1 .3 0 .3 0 .2 0 .3 0 .3 0 .3.1 .3.1 .3.1 .3-.1 .3 0 .3-.1 .3 0 .3 0 .3-.1 .2 0 .3 0 .3 0 .3.1 .3.1 .3 0 .3 0 .3 0 .3 0 .3.1 .3 0 .3 0 .2-.2 .3-.1 .3 0 .3 0 .3 0 .3 0 .3 0 .3-.1 .3.1 .3 0 .3.1 .3.1 .2 0 .3 0 .3 0 .3 0 .3.1 .3 0 .3-.1 .3-.1 .3 0 .3.1 .3 0 .3 0 .2-.1 .3 0 .3 0 .3 0 .3 0 .3-.1 .3-.1 .3 0 .3.2 .3.1 .3.1 .3-.1 .3-.2 .2 0 .3 0 .3.1 .3 0 .3.1 .3 0 .3 0 .3 0 .3-.1 .3-.2 .3 0 .3.1 .2.1 .3.1 .3 0 .3 0 .3 0 .3-.1 .3 0 .3 0 .3-.1 .3 0 .3 0 .3.1 .2.1 .3.1 .3 0 .3-.1 .3-.1 .3-.1 .3 0 .3 0 .3 0 .3 0 .3 0 .3.1 .2.1 .3 0 .3.1 .3-.1 .3-.1 .3 0 .3-.1 .3 0 .3 0 .3 0 .3 0 .3 0 .2.1 .3.1 .3.1 .3 0 .3 0 .3-.1 .3 0 .3 0 .3.1 .3 0 .3 0 .3 0 .2-.1 .3 0 .3 0 .3 0 .3 0 .3-.2 .3-.1 .3 0 .3.1 .3.2 .3.1 .3 0 .2-.2 .3-.1 .3-.1 .3.1 .3.1 .3.1 .3.1 .3-.1 .3-.1 .3-.1 .3 0 .3 0 .2 0 .3.1 .3 0 .3.1 .3 0 .3 0 .3 0 .3-.2 .3 0 .3 0 .3 0 .3.2 .3 0 .2 0 .3 0 .3 0 .3 0 .3-.1 .3 0 .3-.2 .3 0 .3 0 .3.1 .3 0 .3-.1 .2 0 .3 0 .3.1 .3.1 .3-.1 .3 0 .3.1 .3.1 .3 0 .3 0 .3 0 .3 0 .2 0 .3 0 .3-.1 .3-.1 .3 0 .3-.1 .3.1 .3.1 .3.1 .3 0 .3 0 .3 0 .2 0 .3-.1 .3-.1 .3-.1 .3 0 .3.1 .3.1 .3.1 .3 0 .3 0 .3 0 .3 0 .2 0 .3 0 .3-.1 .3-.1 .3-.1 .3 0 .3.2 .3.1 .3.1 .3-.1 .3-.1 .3-.1 .2 0 .3 0 .3 0 .3 0 .3 0 .3.1 .3.1 .3.1 .3 0" fill="none" stroke="#0000ff" stroke-width="1.0" stroke-opacity="0.55"/><path d="M501 218.9l.3-.1 .3 0 .3.1 .3.1 .3 0 .3-.1 .3-.1 .3 0 .3.1 .2 0 .3.1 .3 0 .3 0 .3-.1 .3-.1 .3 0 .3 0 .3.1 .3.2 .3-.1 .3-.1 .2-.1 .3 0 .3.1 .3 0 .3.1 .3 0 .3 0 .3-.1 .3-.2 .3.1 .3 0 .3.1 .2 0 .3.1 .3.1 .3-.1 .3-.1 .3-.1 .3 0 .3 0 .3 0 .3.1 .3.2 .3 0 .2-.3 .3-.2 .3.2 .3.3 .3 0 .3-.2 .3-.1 .3 0 .3 0 .3.1 .3.1 .3 0 .2 0 .3-.1 .3-.1 .3 0 .3.1 .3.1 .3.1 .3-.1 .3-.1 .3-.1 .3 0 .3 0 .2.1 .3 0 .3.1 .3 0 .3.1 .3-.1 .3-.1 .3-.1 .3 0 .3 0 .3.1 .3 0 .3 0 .2.1 .3.1 .3-.1 .3-.1 .3-.2 .3 0 .3.1 .3.1 .3.1 .3 0 .3 0 .3 0 .2-.1 .3-.1 .3 0 .3 0 .3.1 .3.1 .3.1 .3 0 .3-.1 .3-.1 .3 0 .3 0 .2 0 .3-.1 .3-.1 .3 0 .3.1 .3 0 .3 0 .3.1 .3.1 .3.1 .3-.1 .3-.1 .2-.1 .3 0 .3.1 .3.1 .3 0 .3-.1 .3-.1 .3 0 .3.1 .3.1 .3 0 .3-.1 .2-.2 .3.1 .3.2 .3.1 .3-.2 .3-.2 .3.1 .3.2 .3.1 .3-.2 .3-.1 .3 0 .2.1 .3 0 .3.1 .3 0 .3-.1 .3-.2 .3 0 .3.2 .3.1 .3 0 .3 0 .3 0 .2-.1 .3-.1 .3-.1 .3.1 .3.1 .3 0 .3.1 .3 0 .3 0 .3-.1 .3-.2 .3 0 .2.2 .3.1 .3.1 .3-.2 .3 0 .3-.1 .3 0 .3 0 .3.1 .3.1 .3 0 .3 0 .3-.2 .2 0 .3 0 .3.1 .3.1 .3 0 .3 0 .3-.1 .3 0 .3-.1 .3-.1 .3.2 .3.1 .2.1 .3-.1 .3-.2 .3-.1 .3.1 .3.2 .3 0 .3-.1 .3 0 .3-.1 .3.1 .3 0 .2 0 .3.1 .3-.1 .3-.1 .3 0 .3.1 .3.1 .3 0 .3-.1 .3-.1 .3 0 .3.2 .2 0 .3-.1 .3-.1 .3 0 .3.2 .3 0 .3 0 .3-.2 .3 0 .3 0 .3.2 .3 0 .2 0 .3-.1 .3-.1 .3 0 .3.1 .3 0 .3.1 .3 0 .3 0 .3-.1 .3 0 .3-.1 .2-.1 .3.1 .3.2 .3.1 .3-.1 .3-.1 .3-.1 .3 0 .3.2 .3 0 .3-.1 .3-.1 .2 0 .3.2 .3 0 .3-.2 .3-.1 .3.2 .3.2 .3-.1 .3-.2 .3-.1 .3.1 .3.2 .2.1 .3-.1 .3-.2 .3-.1 .3.1 .3.1 .3.1 .3 0 .3 0 .3-.1 .3 0 .3-.1 .2-.1 .3.1 .3.2 .3.1 .3 0 .3-.2 .3-.1 .3 0 .3 0 .3 0 .3.1 .3 0 .3.2 .2 0 .3-.1 .3-.2 .3 0 .3 0 .3 0 .3.1 .3 0 .3.1 .3.1 .3-.1 .3-.2 .2-.1 .3.1 .3.1 .3.1 .3 0 .3 0 .3 0 .3 0 .3-.2 .3-.1 .3 0 .3.2 .2.2 .3 0 .3-.1 .3-.2 .3 0 .3 0 .3.1 .3.1 .3 0 .3-.1 .3 0 .3-.1 .2.1 .3.1 .3 0 .3-.1 .3-.1 .3 0 .3.1 .3.1 .3 0 .3-.1 .3-.1 .3 0 .2.1 .3.2 .3-.1 .3-.1 .3-.2 .3.1 .3.1 .3.1 .3 0 .3 0 .3-.1 .3 0 .2 0 .3-.1 .3 0 .3.1 .3 0 .3 0 .3 0 .3 0 .3.1 .3 0 .3-.1 .3 0 .2 0 .3 0 .3-.1 .3 0 .3 0 .3.1 .3.1 .3 0 .3 0 .3 0 .3 0 .3-.1 .2-.2 .3 0 .3.2 .3.1 .3 0 .3 0 .3-.1 .3-.1 .3 0 .3 0 .3.2 .3.1 .2-.1 .3-.2 .3 0 .3 0 .3.1 .3.1 .3.1 .3 0 .3-.3 .3-.1 .3.1 .3.1 .3 0 .2.1 .3 0 .3 0 .3-.1 .3-.1 .3 0 .3.2 .3.1 .3-.1 .3-.2 .3 0 .3.1 .2.1 .3 0 .3-.1 .3-.1 .3 0 .3 0 .3.1 .3.1 .3 0 .3 0 .3 0 .3-.2 .2-.1 .3.1 .3.1 .3.1 .3 0 .3 0 .3 0 .3-.1 .3-.1 .3-.1 .3.1 .3.1 .2.2 .3-.1 .3-.1 .3-.1 .3 0 .3.1 .3.1 .3 0 .3-.1 .3 0 .3-.1 .3 0 .2.1 .3.1 .3 0 .3-.1 .3-.1 .3 0 .3.1 .3.1 .3 0 .3-.1 .3 0 .3-.1 .2 0 .3 0 .3.1 .3.1 .3 0 .3 0 .3 0 .3 0 .3 0 .3 0 .3 0 .3 0 .2.1 .3-.1 .3-.1 .3 0 .3 0 .3 0 .3-.1 .3-.1 .3.1 .3.2 .3 0 .3 0 .2-.1 .3 0 .3-.1 .3 0 .3 0 .3.2 .3.1 .3 0 .3-.3 .3-.1 .3.1 .3.2 .3 0 .2 0 .3-.1 .3 0 .3-.1 .3 0 .3.1 .3.1 .3.1 .3-.1 .3-.2 .3-.1 .3.1 .2.2 .3 0 .3 0 .3-.1 .3 0 .3 0 .3-.1 .3 0 .3 0 .3.1 .3.1 .3 0 .2 0 .3-.1 .3.1 .3 0 .3 0 .3-.1 .3 0 .3.1 .3 0 .3 0 .3-.1 .3 0 .2.1 .3 0 .3-.2 .3 0 .3 0 .3 0 .3 0 .3-.1 .3.2 .3.1 .3.1 .3-.1 .2-.1 .3 0 .3 0 .3-.1 .3-.1 .3 0 .3.2 .3.1 .3 0 .3 0 .3 0 .3 0 .2.1 .3-.1 .3-.1 .3-.1 .3-.1 .3.1 .3 0 .3.1 .3.1" fill="none" stroke="#ff0000" stroke-width="1.0" stroke-opacity="0.6" stroke-dasharray="3.2 2.6"/><path d="M58.2 298.7l23.2 0 18.9-7.3 8.8-.5 13.9 2.5 5.1 9.9 2.4-1.8 4.9 10.9 5.1-3.2 5.1 3.6 4.4 1.8 7.3 3.6 7.6 2.4 15 9 10.4 11.1 4.2 9.8" fill="none" stroke="#000000" stroke-width="1.0" stroke-opacity="0.6" stroke-linejoin="round" clip-path="url(#c20)"/><path d="M58.2 281.7l41.8-.3 9.1.6 7.9 4 6 6.4 5.1 18.2 4.1-10.5 7.6 5.4 10.2 3.9 7.3 3 7.6 3.7 15 8.2 8.9 9 4.5 8.9 1.5 8.3" fill="none" stroke="#0000ff" stroke-width="1.0" stroke-opacity="0.6" stroke-linejoin="round" clip-path="url(#c20)"/><path d="M58.2 285.8l23.2 0 18.9 5.9 8.8 5.1 8.8 10.6 8.7 3.2 0-.7 1.1 2.7 1.1-.5 1.1 2.9 1.1 0 1.1 1.5 1.1 1.4 1.1.2 1.1.3 1.1.6 1.1.6 1.1 2.9 1.1-.4 1.1-.6 1.1 2.7 1.1-1.7 1.1.8 1.1-.1 1.1 1.5 1.1.1 1.1.4 1.1-.9 1.1.6 1.1.5 1.1.9 1.1-.1 1.1.7 1.1 3.9 1.1.6 1.1-2.6 1.1-.1 1.1 1.4 1.1 2.8 1.1 1 1.1-2.9 1.1 3.2 1.1-2.1 1.1 3.1 1.1 1.2 1.1 2.4 1.1-2.7 1.1 3.6 1.1 1.2 1.1 1.2 1.1-3.9 1.1 3.3 1.1 3.6 1.1-2.2 1.1 3.1 1.1-.6 1.1 2.1 1.1-.8 1.1-1.9 1.1 1.1 1.1 1 1.1 1.6 1.1 5.1 1.1-1.5 1.1 1.5 1.1-1.3 1.1.7 1.1 1.5 1.1 1" fill="none" stroke="#ff0000" stroke-width="1.0" stroke-opacity="0.6" stroke-linejoin="round" clip-path="url(#c20)"/><path d="M194.5 350.5l.5 3.6 .4-2.2 .3 2.4 .3-2.6 .4 1.5 .3-.2 .4 1.4 .3-1.4 .4 1.3 .3-.6 .4 1.1 .3-.6 .4 1.1 .3-1.1 .4 1.6 .3-.4 .4 1.1 .3-1.9 .4 2.4 .3-1.2 .4 0 .3.1 .4 1.8 .3-1.4 .4 1.5 .3-1.5 .4.7 .3.5 .4.5 .3-1.6 .4 2.6 .3-.6 .4 0 .3-.3 .4 1.4 .3-1 .4 2.1 .3-2.5 .4 1.4 .3-.9 .4 2.4 .3-1.3 .4.9 .3 0 .4.5 .3-1.4 .4 2.4 .3-2.6 .4 2.4 .3-.5 .4 1.7 .3-2.3 .4 1.5 .3-.6 .4 1.4 .3-.4 .4.5 .3-1 .4 2.9 .3-1.8 .4 2.3 .3-1.1 .4 1.5 .3-2.8 .4 2.7 .3-1.6 .4 1.6 .3-.6 .4 2 .3-1.7 .4.5 .3 0 .4.3 .3-1.1 .4 3.5 .3-2.5 .4 1.2 .3-.1 .4.5 .3-.2 .4.9 .3-1.9 .4 4" fill="none" stroke="#000000" stroke-width="0.8" stroke-linejoin="round" clip-path="url(#c20)"/><path d="M194.8 350.5l.2-.2 .4 0 .4.5 .4-.7 .4 1.6 .4-2.1 .4 1.1 .4-2.1 .4 1.6 .4-.9 .4 1.5 .4-1.1 .4.4 .4-1.8 .4 1.6 .4.1 .4.3 .4-.3 .4 2.6 .4-2.6 .4 2.8 .4-.1 .4.3 .4-.2 .4 2.4 .4-2.4 .4 2.3 .4-.5 .4 1.4 .4-1.4 .4 1 .4-.4 .4 1.3 .4-.8 .4 1.4 .4-.1 .4 1.4 .4-1.9 .4 2.1 .4-1.6 .4 2 .4-1.3 .4 2.2 .4-1.6 .4 1.8 .4-.5 .4 1 .4-.1 .4.2 .4 0 .4 1 .4-1.1 .4 2.1 .4-1.3 .4 1.4 .4-1.9 .4 1.8 .4.2 .4 1.3 .4-.8 .4 2.2 .4-1.6 .4.3 .4-.6 .4 2.3 .4-1.9 .4 3.3 .4-1.2 .4 1.5 .4-2 .4 2.5 .4-2.6 .4 2.1" fill="none" stroke="#0000ff" stroke-width="0.8" stroke-linejoin="round" clip-path="url(#c20)"/><path d="M194.8 355.5l.2-.4 .2-1.8 .3 2 .3-3.3 .2 1.4 .2-2.9 .3 3.8 .3-2.3 .2 2.8 .2-2.3 .3 2.6 .3-2.2 .2 3.2 .2-2.4 .3 2.1 .3-2.8 .2 1.9 .2.2 .3.2 .3-2.6 .2 1.9 .2 1 .3-.6 .3-1.4 .2 1.5 .2-1.6 .3 3 .3-.4 .2.5 .2 0 .3-.8 .3-1.1 .2 2.5 .2-.8 .3 3 .3-4.3 .2 2.9 .2-2.8 .3 4.3 .3-2.7 .2.4 .2-.3 .3 3.1 .3-4.8 .2 3.9 .2-1 .3 3.1 .3-3.6 .2.6 .2-.8 .3 1.6 .3-.7 .2 1 .2-2.4 .3 3.8 .3-3.7 .2 4.7 .2-1.5 .3 2.5 .3-4.2 .2 3.2 .2-1.9 .3 2 .3-2.4 .2.9 .2-2 .3 3.8 .3-2.2 .2 1.7 .2-1 .3 2.7 .3-1.7 .2 1 .2-1.8 .3 3.9 .3-3 .2 2.9 .2-2.8 .3 3.6 .3-2.6 .2 3 .2-4.5 .3 2.8 .3-1.5 .2 2.6 .2-1.8 .3 3.2 .3-3.2 .2 4 .2-3 .3.6 .3-.7 .2 2.4 .2-1.5 .3 2.6 .3-4 .2 2 .2-.5 .3.3 .3.6 .2 1.5 .2-.5 .3 2.5 .3-4.9 .2 4.8 .2-2.4 .3.5 .3-.7 .2 3.7 .2-3.2 .3.3 .3-.8 .2 2.4 .2-3.9 .3 6.1 .3-2.6" fill="none" stroke="#ff0000" stroke-width="0.8" stroke-linejoin="round" clip-path="url(#c20)"/><path d="M275.5 297.4l22.2 0 12.3-3.4 12.7-1.6 16.6 2 8.4 11.9 5.3 2.7 4.5 7 4 5.6 0-.6 1.5.8 1.5 2 1.5 1.7 1.5.5 1.5 1.2 1.5.1 1.5 2.2 1.5 2.2 1.5.9 1.5.6 1.5-.5 1.5 2.7 1.5.8 1.5-.7 1.5 2 1.5-.6 1.5 1.1 1.5 1.4 1.5.5 1.5 2.4 1.5 1.1 1.5-.4" fill="none" stroke="#000000" stroke-width="1.0" stroke-opacity="0.6" stroke-linejoin="round" clip-path="url(#c21)"/><path d="M275.5 281.6l48.5 0 6 1.9 6.6 4.8 8.3 13.9 3.9 3.3 4.3 2.6 4.4 7.9 4 5.6 0-1 1.4 2.7 1.4-.3 1.4 1.9 1.4-.5 1.4 3.7 1.4 1 1.4-1.5 1.4 3.8 1.4-1.4 1.4 1.4 1.4 1.9 1.4 1.9 1.4.5 1.4-1.8 1.4 2.4 1.4 1 1.4.6 1.4 1.8 1.4-1.2 1.4 2.8 1.4-1.6 1.4 1.2 1.4.8" fill="none" stroke="#0000ff" stroke-width="1.0" stroke-opacity="0.6" stroke-linejoin="round" clip-path="url(#c21)"/><path d="M275.5 285.5l22.2 0 19.5 5.5 11.1 7 11.7 8.4 4.9 6.9 3.9-.8 8.7 7.9 4 2.6 4.8 7.9 3.6.4 5.1 1.4 0 .6 1.5-.4 1.5 2.2 1.5 1.1 1.5.9 1.5-.4 1.5 1.2 1.5 1.2 1.5.5 1.5 1 1.5-.9 1.5 1.5 1.5.2 1.5 3 1.5-.4 1.5 1.7 1.5-.2" fill="none" stroke="#ff0000" stroke-width="1.0" stroke-opacity="0.6" stroke-linejoin="round" clip-path="url(#c21)"/><path d="M394.5 343l.5 1.3 .3-.5 .3 1.5 .3-2.4 .3 1.8 .3.2 .3.6 .3-1.4 .3 1.8 .3-1.6 .3 2.4 .3-1.8 .3 1.7 .3-2 .3 2.7 .3-1.9 .3 2.7 .3-2.1 .3 2.2 .3-1.1 .3 1.7 .3-2.6 .3 1.9 .3-.8 .3 1.9 .3-2 .3 2.4 .3-1.2 .3.5 .3-.8 .3 2.6 .3-2.8 .3 2.9 .3-2.6 .3 3 .3-1.2 .3.9 .3 0 .3.4 .3-1.7 .3 1.9 .3-.5 .3.9 .3-1.9 .3 2.2 .3.2 .3.1 .3-.9 .3 2.2 .3-.8 .3 0 .3-1.3 .3 1.5 .3-1.2 .3 3.5 .3-3 .3 1.4 .3-.5 .3 1.6 .3-.7 .3 1.5 .3-1.4 .3.6 .3-.5 .3.8 .3-1.4 .3 2.5 .3-1.5 .3 2.6 .3-3.1 .3 2.3 .3-1.8 .3 2.7 .3-1.3 .3 2 .3-2.6 .3 2.4 .3-1.4 .3.9 .3-.3 .3 1 .3-2 .3 4.3 .3-3.9 .3 3.6 .3-2.1 .3.8 .3-.5 .3 1.8 .3-1.3 .3 3 .3-1.5 .3 1.1 .3-2.6 .3 2.2 .3-.7 .3 1.5 .3-3.2 .3 3.6 .3-.9 .3 0 .3-1.3 .3 1.1 .3.4 .3.5 .3-2.1 .3 2 .3-1.5 .3 1.3 .3.4 .3 2.4 .3-1.6 .3.2 .3-1.3 .3 2.9 .3-2.1 .3 1 .3-1.5 .3 3.7 .3-2.4 .3.1 .3-1.5 .3 4.3 .3-3.4 .3 1.6 .3-1.5 .3 2.4 .3-.9 .3.3 .3.3 .3.7 .3-1.6 .3 1.1 .3-1.5 .3 4.4 .3-3.5 .3 1.2 .3-.7 .3 2.5 .3-1.3 .3 1 .3-.3 .3-.2 .3-1 .3 2 .3-2.5 .3 3.5 .3-3.9 .3 3.8 .3-2.1 .3 3.3 .3-3.6 .3 2.1 .3-2.1 .3 5.1 .3-3.9 .3 4.2 .3-2.4 .3.9 .3-2.3 .3 3.4 .3-1.2 .3 2 .3-3.3 .3 2.6 .3-3.1 .3 3.8 .3-4.1 .3 4.3 .3-3.9" fill="none" stroke="#000000" stroke-width="0.8" stroke-linejoin="round" clip-path="url(#c21)"/><path d="M393.7 341.7l1.3 3.4 .3-2.4 .3 1.2 .3-.5 .3 1.3 .3-.6 .3 1 .3-1.1 .3 1.1 .3-.9 .3 2.9 .3-2.5 .3 2.5 .3-.9 .3 1.5 .3-2.5 .3 1.5 .3-1.4 .3 1.5 .3-.9 .3 3.3 .3-2.5 .3 2.4 .3-1.9 .3 1.7 .3-.3 .3-.1 .3-.5 .3.9 .3-.4 .3 1.1 .3-.8 .3 2 .3-2 .3 2.3 .3-1.3 .3 1.2 .3-1.4 .3 1.7 .3-1.3 .3 1 .3-1.4 .3 1.7 .3.1 .3.2 .3-.3 .3.9 .3-1.6 .3 3.2 .3-1.9 .3 3.1 .3-3 .3 1.5 .3-.3 .3 1 .3-.4 .3 1.8 .3-2.3 .3 1.4 .3-2.1 .3 2.7 .3-2.2 .3 3.5 .3-2.2 .3 2 .3-1.1 .3 1.2 .3-1.1 .3 2.5 .3-2.5 .3 3 .3-3.3 .3 1.6 .3-1.8 .3 4.3 .3-2.3 .3.8 .3-.7 .3 3 .3-1.8 .3 0 .3-1.2 .3 2 .3-.9 .3 2.5 .3-2.8 .3 2.8 .3-2 .3 3.2 .3-3.7 .3 1.5 .3-1.5 .3 3 .3-1.5 .3 2.2 .3-.9 .3.1 .3-1.1 .3 3.5 .3-3.4 .3 1 .3.8 .3 1.3 .3-.8 .3 1.1 .3-.9 .3 1.1 .3-3.2 .3 3.7 .3-2.3 .3.6 .3.4 .3.2 .3-.7 .3 2.6 .3-1.6 .3 2.7 .3-4.4 .3 2.5 .3-1.5 .3 2.3 .3-1.3 .3 3.5 .3-3.2 .3 2.5 .3-3.8 .3 3.3 .3-3 .3 2.6 .3 0 .3.7 .3-2.4 .3 4.3 .3-3.3 .3 3 .3-3 .3 3.4 .3-3.2 .3 3 .3-2 .3.8 .3-1.9 .3 4.3 .3-3 .3 2.9 .3-1.5 .3-.1 .3-1.3 .3 3.5 .3-2.5 .3 3.4 .3-1.9 .3 2.2 .3-4.3 .3 5.3 .3-2.5 .3-.1 .3-1.3 .3 1.4 .3-.3 .3 3.3 .3-1.6 .3 2.5 .3-5.3 .3 2.9 .3.3 .3 2 .3-4.3 .3 3.5 .3-1.9" fill="none" stroke="#0000ff" stroke-width="0.8" stroke-linejoin="round" clip-path="url(#c21)"/><path d="M399 345.5l1 1.4 .2-.5 .3 1.3 .3-1.8 .2 1.8 .2-1.2 .3 2.1 .3-2 .2 1.2 .2.5 .3.7 .3-2 .2 2.6 .2-2.1 .3 1.5 .3-1 .2 2.1 .2-1.5 .3.9 .3-.6 .2.8 .2.4 .3.7 .3-1.3 .2 1.1 .2-1.7 .3 2.9 .3-1.6 .2 2 .2-1.2 .3.1 .3-.1 .2.3 .2.1 .3 1 .3-1.2 .2 2 .2-1.2 .3.6 .3-1.8 .2 3.2 .2-1.2 .3.2 .3-.4 .2 1.1 .2-1.6 .3 1.5 .3-1.1 .2 3.2 .2-3.1 .3 2 .3-2.2 .2 3.1 .2-2.3 .3 2.8 .3-1.7 .2 1.3 .2-.8 .3 2.4 .3-1.8 .2.8 .2-.2 .3-.5 .3.2 .2 1.6 .2-1.8 .3 1.9 .3-1.1 .2 1.7 .2-1.3 .3.1 .3-1.3 .2 3.1 .2-2.3 .3 1.7 .3-2.1 .2 1.7 .2-.8 .3 2.4 .3-1.2 .2 2.2 .2-1.3 .3.5 .3-1.8 .2 1.7 .2-.2 .3 2.1 .3-2 .2 0 .2-.2 .3 2.9 .3-4.1 .2 4.4 .2-3.5 .3 2.8 .3-3.2 .2 4.3 .2-2.6 .3 2.8 .3-1.9 .2.7 .2-.4 .3 1.4 .3-3.1 .2 1.8 .2-.4 .3 2.5 .3-1.6 .2 1.3 .2-3.3 .3 2.5 .3-1 .2.7 .2-1.4 .3 1.3 .3.8 .2 2.2 .2-3.7 .3 2.4 .3-1.2 .2 2 .2-1.8 .3 1.7 .3-1.6 .2.6 .2.6 .3-.7 .3-1.8 .2 4.7 .2-2.8 .3 2.5 .3-2.5 .2 3.1 .2-2.6 .3.8 .3-.1 .2.8 .2-.4 .3.7 .3-.1 .2-.1 .2-.7 .3.6 .3-2.1 .2 4.1 .2-1.9 .3.2 .3-.5 .2 1.8 .2-3.1 .3 3.7 .3-3.8 .2 5.3 .2-4.9 .3 5.1 .3-2.6 .2.2 .2-.7 .3 4 .3-4.8 .2 3.7 .2-2.3 .3 1.7 .3-3 .2 4 .2-2.2 .3 3.9 .3-3.4 .2 2.1 .2-3.4 .3 3.3 .3-1.7 .2 3.2 .2-1.4 .3-.3 .3-.6 .2 1.7 .2-1.6 .3.3 .3.4 .2 3 .2-5.4 .3 3.9 .3-3" fill="none" stroke="#ff0000" stroke-width="0.8" stroke-linejoin="round" clip-path="url(#c21)"/><path d="M492.8 295.3l22.7 0 18.3 13.9 1.5.4 1.5.9 1.5-.1 1.5 1.3 1.5.3 1.5.4 1.5.9 1.5.3 1.5-.3 1.5.6 1.5 1 1.5-.3 1.5.9 1.5-.4 1.5 1.3 1.5-.6 1.5 1.2 1.5.7 1.5 1 1.5 1.2 1.5 1.6 1.5 1.4 1.5-2 1.5-.6 1.5.7 1.5-.7 1.5 1.3 1.5.9 1.5 1.4 1.5-.4 1.5.8 1.5 1.9 1.5-.7 1.5 1.4 1.5-1 1.5 0 1.5.1 1 1.5 .9.1 .9 1.5 .9-.9 .9 1.3 .9-.5 .9 1.3 .9-.1 .9.6 .9-.1 .9.4 .9.5 .9.2 .9-.4 .9 1.4 .9-.1 .9.9 .9-.2 .9.8 .9-.9 .9 1.1 .9-.2 1.5 7.2" fill="none" stroke="#000000" stroke-width="1.0" stroke-opacity="0.6" stroke-linejoin="round" clip-path="url(#c22)"/><path d="M492.8 295l22.7 0 18.3 14.2 1.5.9 1.5.4 1.5.4 1.5.7 1.5.9 1.5.8 1.5-.1 1.5.4 1.5 1.3 1.5.5 1.5 1.4 1.5-.1 1.5.5 1.5 1.4 1.5 1.5 1.5 1 1.5.9 1.5-.4 1.5-.1 1.5-.6 1.5-.5 1.5.8 1.5-.9 1.5.2 1.5-.9 1.5-.7 1.5-.3 1.5.4 1.5 1.8 1.5 1.8 1.5.5 1.5 2.3 1.5 1.9 1.5.1 1.5 1.3 1.5.7 1.5-2.5 1 1.3 .8 0 .8 1 .8.2 .8.4 .8-.1 .8.9 .8 0 .8.5 .8.2 .8.1 .8.2 .8 1.2 .8-.5 .8.4 .8-.7 .8 1.9 .8-.3 .8.8" fill="none" stroke="#0000ff" stroke-width="1.0" stroke-opacity="0.6" stroke-linejoin="round" clip-path="url(#c22)"/><path d="M492.8 293.9l22.7 0 18.3 15.3 1.5.5 1.5.5 1.5.6 1.5.4 1.5.2 1.5.5 1.5.9 1.5.7 1.5-.1 1.5.6 1.5.8 1.5 2.3 1.5 5.6 1.5-1.5 1.5.1 1.5-1 1.5.4 1.5-.4 1.5-1.1 1.5 2.1 1.5-.7 1.5.7 1.5 1.6 1.5-.1 1.5 1.2 1.5.5 1.5.9 1.5 2 1.5-.1 1.5-.5 1.5-.6 1.5-1.4 1.5.9 1.5.5 1.5.6 1.5-.3 1.5.8 1 .2 .8.1 .8.9 .8-.8 .8 1 .8.1 .8.5 .8-.3 .8 1.2 .8-.7 .8.5 .8.4 .8 1 .8-1.2 .8 1.3 .8-.1 .8.9 .8-1.5 .8 1.3" fill="none" stroke="#ff0000" stroke-width="1.0" stroke-opacity="0.6" stroke-linejoin="round" clip-path="url(#c22)"/><path d="M610.7 341.4l.3-5.1 .4-1.2 .3 1.5 .4-2 .3 1.3 .4-.3 .3 1.5 .4-1.9 .3.8 .4-.5 .3 1 .4-.8 .3 1.6 .4-.6 .3.6 .4-1.4 .3 1.9 .4-1.2 .3 1.2 .4-.4 .3 1.1 .4-1.8 .3 1.7 .4-.9 .3 1.7 .4-1.1 .3 1.3 .4-1.5 .3 1.2 .4-1.7 .3 1.7 .4-.5 .3 1.3 .4-1.5 .3 1.6 .4-1.5 .3 1.9 .4-1.4 .3 1.7 .4-2.2 .3 1.6 .4-.7 .3.4 .4-1.1 .3 1.8 .4-.8 .3 2 .4-2.1 .3 2 .4-.7 .3 1.2 .4-2.8 .3 3.2 .4-1.3 .3 1 .4-2.3 .3 2.2 .4-.7 .3.9 .4-1.5 .3 1.7 .4-.5 .3-.1 .4-1.4 .3 3.3 .4-2.6 .3 1.8 .4-1.6 .3 2.1 .4-1.1 .3.7 .4-.1 .3 1.6 .4-2.6 .3 2.3 .4-.6 .3 1.1 .4-2.6 .3 2.8 .4-.9 .3.3 .4-1.9 .3 2 .4-.8 .3.7 .4-.3 .3.3 .4.5 .3-.2 .4-1.1 .3 2.1 .4-1.4 .3 2.3 .4-3 .3 3.1 .4-2.3 .3 2.3 .4-1.5 .3.9 .4-1.6 .3 3.1 .4-2.1 .3 1.8 .4-.5 .3 1 .4-1.9 .3 1.7 .4-2 .3 1.7 .4-2 .3 3.9 .4-2.8 .3 2.3 .4-2.2 .3 1.2 .4-.7 .3 1.8 .4-2.5 .3 3.5 .4-2.8 .3 2.7 .4-2.8 .3 2.7 .4-1.1 .3 1.8 .4-1.5 .3 1.4 .4-2.1 .3 2.8 .4-3.4 .3 4 .4-2.8 .3 2.4 .4-1.2 .3.2 .4-.6 .3 1.8 .4-.7 .3 1.7 .4-2.1 .3 1.9 .4-2.7 .3 3.5 .4-3.9 .3 2.9 .4-.7 .3 2.3 .4-3.8 .3 3 .4-1.9 .3 2.7 .4-1.5 .3-.2 .4-.5 .3 2.2 .4-3.2 .3 1.9 .4-.2 .3 2.4 .4-3.8 .3 4.7 .4-4.4 .3 3.5 .4-3.1 .3 2.7 .4-1.6 .3 2 .4-1.8 .3 3.6 .4-1.8 .3-.2 .4-.2 .3 1.9 .4-1.2 .3 1.2 .4-1.5 .3.7 .4-.2 .3 1.4 .4-2.6 .3 2.2 .4-.5 .3 2.3" fill="none" stroke="#000000" stroke-width="0.8" stroke-linejoin="round" clip-path="url(#c22)"/><path d="M604.7 334.4l.3.5 .3-1.4 .3.7 .3-1.1 .3 1.5 .3-1.4 .3 2.1 .3-1.4 .3 1.4 .3-1.3 .3 1.2 .3-1.4 .3 1.7 .3-.7 .3.5 .3-.5 .3.9 .3-.4 .3.7 .3-.2 .3.6 .3-1 .3 1.1 .3 0 .3.4 .3-1 .3.4 .3.1 .3.8 .3-1.1 .3 1 .3 0 .3.9 .3-1.5 .3 1 .3-.7 .3 1.5 .3-.8 .3 1.5 .3-1.2 .3 0 .3-.1 .3.7 .3-.8 .3 2.3 .3-1.4 .3.3 .3-.8 .3.6 .3-.1 .3.4 .3 0 .3.1 .3-.8 .3 2.2 .3-1.6 .3 1.8 .3-1.4 .3 1.7 .3-1.9 .3 1.5 .3-.4 .3 1.2 .3-2.6 .3 3.1 .3-2.2 .3 1.4 .3-.2 .3.8 .3-2 .3 1.1 .3-1 .3 2.4 .3-2.3 .3 3 .3-1.5 .3.2 .3 0 .3.6 .3-1.1 .3 1 .3.2 .3 1.3 .3-1.6 .3.1 .3 0 .3.3 .3.3 .3 0 .3-.4 .3.7 .3 0 .3-.1 .3.3 .3 1.4 .3-2 .3.8 .3.5 .3-.3 .3-.6 .3 2.5 .3-3.3 .3 2.1 .3.1 .3.7 .3-2.3 .3 1.9 .3-.3 .3 2.3 .3-2.1 .3.7 .3-.4 .3 1 .3-2.1 .3 2.6 .3-2.6 .3 2.3 .3-2.6 .3 2.7 .3-2 .3 2.4 .3-2.5 .3 1.8 .3.1 .3.4 .3-2.1 .3 4.2 .3-1.6 .3 1 .3-2.5 .3 3.8 .3-4 .3 4.2 .3-4.1 .3 2.6 .3-1.3 .3 1.4 .3-.4 .3 2.4 .3-2.9 .3 1.8 .3-.9 .3 1.9 .3-3.6 .3 2.3 .3-.7 .3 1.3 .3-2.7 .3 2.9 .3-2.7 .3 1.9 .3-1.1 .3 3.4 .3-1.2 .3.9 .3-.6 .3-.3 .3-2.3 .3 3.1 .3-.7 .3 2 .3-1.6 .3 1.1 .3-1.9 .3 3 .3-4 .3 3.9 .3-3.9 .3 2 .3-.3 .3.7 .3-1.7 .3 2.7 .3-2.6 .3 3.5 .3-2.4 .3 1.7 .3-1.6 .3 2.3 .3-.6 .3.8 .3-1.4 .3.4 .3.8 .3 1.7 .3-1.4 .3 0 .3.2 .3-.4 .3-.2 .3.2 .3-.3 .3.5 .3-1.1 .3 1.9 .3-2.8 .3 4.6 .3-3 .3 3.6 .3-3.2 .3 3.4 .3-3.9 .3 2.3 .3-2.3 .3 2.9 .3-.6 .3 1 .3-2.6 .3 3.5 .3-3.9 .3 5 .3-3.8 .3 3.6 .3-4.7 .3 2.5 .3-.9 .3 2.2 .3-2.3 .3 2.6 .3-2.1 .3 1.8 .3-1.5 .3 3.3 .3-1.9 .3 2.2 .3-4.9 .3 4.2 .3-1.8 .3 1.4 .3-3.3 .3 4.6 .3-2.6 .3 3 .3-3.7" fill="none" stroke="#0000ff" stroke-width="0.8" stroke-linejoin="round" clip-path="url(#c22)"/><path d="M604.7 332.1l.3.2 .2-.7 .3 1.5 .3-.9 .2 1.2 .2-2.1 .3 1.3 .3-.6 .2 1.5 .2-1.9 .3 1.1 .3-.4 .2.7 .2-.2 .3.4 .3-1.1 .2 2.4 .2-1.2 .3.6 .3-1.2 .2 1.5 .2-1.3 .3 2.1 .3-2.6 .2 2.7 .2-1.8 .3 1.5 .3-1.9 .2 1.8 .2-.9 .3 1.1 .3-.6 .2 1.2 .2-1.6 .3.7 .3-.5 .2.6 .2-1.5 .3 2.2 .3-1.6 .2 1.7 .2-.7 .3-.1 .3-.7 .2 2.6 .2-1.4 .3 1.6 .3-3.2 .2 3.1 .2-1.5 .3.4 .3-1.6 .2 1.6 .2-.2 .3 1.9 .3-1.6 .2.2 .2-.7 .3.6 .3-.4 .2.6 .2-1.2 .3 1.3 .3-.3 .2 2.3 .2-2.4 .3 1.2 .3-1.1 .2 2.7 .2-2.3 .3 1 .3-.1 .2 1.2 .2-3.2 .3 3.8 .3-2.9 .2 1.4 .2-1.4 .3 2.4 .3-1.9 .2 1.2 .2 0 .3.4 .3-1.8 .2 3 .2-2.5 .3 2.3 .3-2.2 .2 2.4 .2-3.2 .3 1.7 .3-1 .2 2.5 .2-3.1 .3 2.6 .3-.8 .2 2.3 .2-3.3 .3 1.4 .3.2 .2 1 .2-3 .3 2.7 .3-.6 .2.5 .2-1.6 .3 1.2 .3-1.4 .2 2 .2-.7 .3.7 .3-.9 .2 2.3 .2-1.2 .3 1.6 .3-1.4 .2 1.7 .2-2.9 .3 2.3 .3-1.2 .2 1.3 .2-1.6 .3 1.8 .3-1.4 .2 2.6 .2-4.1 .3 1.8 .3-.1 .2.1 .2-.4 .3 1.7 .3-2.9 .2 4 .2-4 .3 3.4 .3-2.2 .2 1.5 .2-1.2 .3.8 .3-1.9 .2 2.5 .2.2 .3.3 .3-2.4 .2 3.8 .2-3.8 .3 4.2 .3-3.7 .2 1.4 .2-.4 .3 1 .3-2.1 .2 2.5 .2.1 .3-.3 .3-2.3 .2 4.5 .2-1.8 .3 2.1 .3-1.9 .2 2 .2-2.3 .3 1.2 .3-.4 .2 1.8 .2-4.5 .3 3.3 .3-2.5 .2 3.1 .2-2.7 .3 3 .3-1.1 .2.4 .2-2.1 .3 3.4 .3-1.8 .2 2.7 .2-3.2 .3 1.1 .3-2.6 .2 3.1 .2-.5 .3.4 .3-2.4 .2 2.3 .2-2.8 .3 2.5 .3-1.1 .2 3.8 .2-3.2 .3.7 .3-2.2 .2 2.6 .2-.3 .3.2 .3-.7 .2 2 .2-1.1 .3.1 .3-2.7 .2 2.7 .2-.8 .3 2.5 .3-1.9 .2.7 .2.3 .3-.5 .3-1.2 .2 2.3 .2-.7 .3.6 .3-2.8 .2 4.1 .2-4.5 .3 5.9 .3-5 .2 3.1 .2-1.1 .3 2.7 .3-4.4 .2 1.7 .2.6 .3 2 .3-3.5 .2 4.4 .2-4.6 .3 4.4 .3-1.6 .2-.1 .2-.3 .3 2.8 .3-2.6 .2 1.3 .2-3.9 .3 4.8 .3-5.2 .2 4.5 .2-4.2 .3 3.6 .3-.8 .2 2.2 .2-1.9 .3 2 .3-3.7 .2 2.2 .2-3.4 .3 4.1 .3-.3 .2 1.5 .2-3 .3 3.8 .3-5.3 .2 4.2 .2-1.6 .3 3.1 .3-5.5 .2 4 .2-4.1 .3 6.3 .3-4.4 .2 1.5 .2-.1 .3 3.1 .3-4.2 .2 3.4 .2-2.6 .3.4 .3-2 .2 2.9 .2-2.3 .3 1.5 .3.8 .2.6 .2-1.6 .3 4.5 .3-2.9 .2 2.8 .2-3.9 .3 4.1 .3-4.9" fill="none" stroke="#ff0000" stroke-width="0.8" stroke-linejoin="round" clip-path="url(#c22)"/><path d="M129.2 434.6h0m2.6-3h0m0.6-8.2h0m1.2-5.6h0m0.6 3.1h0m1.2 13.8h0m0.5-5h0m1.6-10.8h0m0.5-4.6h0m1 20.9h0m0.4 3.9h0m1-7.7h0m0.4 3.8h0m1.7-18.3h0m0.5 9h0m0.8-18.4h0m0.4 23.1h0m0.7-22.4h0m1.2 24.9h0m0.3-15.6h0m0.7-1.4h0m0.4-3.9h0m0.3 7.7h0m0.4 6.9h0m1.9-7.1h0m0.7-7.3h0m0.6-3.3h0m0.3-3.7h0m0.3 14.7h0m1.1 12.3h0m0.3-15.5h0m0.5 8.6h0m0.3-13.2h0m1 1.5h0m1.6 4.4h0m1.6 11.3h0m0.2-16.1h0m0.5-3.8h0m0.2 5.6h0m0.9 9.4h0m0.6-3.2h0m0.4-24.4h0m0.2 9h0m0.2 2.9h0m0.4-1.9h0m1.2 20.8h0m1.1-7.1h0m0.2-6.8h0m0.2-11.9h0m0.2 7h0m0.1 2.2h0m0.2 12.2h0m1.4-6.9h0m0.3-8.7h0m0.2 5h0m0.8 1.6h0m0.2-4.9h0m0.3 0.2h0m0.1-6.7h0m0.2 5h0m0.3 19.4h0m0.6-16.6h0m0.4-5.9h0m0.3 23.2h0m0.3-11.3h0m0.4 7.4h0m0.2-19.5h0m0.3 21.2h0m0.1-3.6h0m0.4 0.2h0m0.3-16.8h0m0.3 4.6h0m0.1 4.4h0m0.6-1.3h0m0.3-9.6h0m0.1 22.1h0m0.2-5.7h0m0.2 9.8h0m0.3-19.9h0m0.2 14.3h0m0.1 9.5h0m0.2-17.7h0m0.1-0.6h0m0.1-14.8h0m0.2 15.2h0m0.5 18.3h0m0.1-10.7h0m0.3 14.6h0m0.3-19.2h0m0.1 11.3h0m0.1-2.8h0m0.7-6.7h0m0.1-8.3h0m0.1 18.7h0m0.5-15.1h0m0.1 4h0m0.1 15.6h0m0.3-7.3h0m0.2-21h0m0.2 15.1h0m0.8 23.4h0m0.1-18.3h0m0.2-10.3h0m0.1 6.5h0m0.2 7h0m0.2-9h0m0.5-5.9h0m0.4 13.5h0m0.1-36.5h0m0.3 14.7h0m0.2 30.9h0m0.2-13.9h0m0.2 2.1h0m0.1-18.9h0m0.2 29.4h0m0.1-11.7h0m0.3 15.4h0m0.7-17.6h0m0.2 11.7h0m0.1-5.3h0m0.3-7.9h0m0-11.5h0m0.2-5.6h0m0.1 12.1h0m0.1 26.3h0m0.3-15.5h0m0.3-5.3h0m0.2 22.4h0m0.1-14.7h0m0.1-16.4h0m0.1 15.5h0m0.1-6.7h0m0.4 1h0m0.1 4.7h0m0.2 11.3h0m0.2-12.4h0m0.3 10.8h0m0-2.4h0m0.1-10.9h0m0.1-1.6h0m0.2 31h0m0.1-12.4h0m0.2-7.8h0m0.4-18.6h0m0.1 11.2h0m0.1-0.8h0m0.2 10.9h0m0.2-9.2h0m0.2-12.6h0m0.1 16h0m0.2-10.4h0m0.1 4.7h0m0.3-7.8h0m0.1 5.3h0m0.1 32.2h0m0-11.6h0m0.1-9.7h0m0.4-12h0m0.2 3.9h0m0.1-4.8h0m0.1 8.1h0m0-10.9h0m0.1 8.9h0m0.2 14h0m0.2-14.1h0m0.1 0.6h0m0.2 8h0m0.1-5.3h0m0 2.5h0m0.2-6.9h0m0.2-18.6h0m0.2 43.9h0m0.1-31.2h0m0.2-1.2h0m0.1 12.4h0m0-4.2h0m0.1 12.7h0m0.1 1.7h0m0.1-7.8h0m0.1-35.5h0m0.2 55.1h0m0.4-14.4h0m0.1-32.3h0m0.1 21.1h0m0 6.5h0m0.1-24.9h0m0 21.4h0m0.1 10.3h0m0.2-18.1h0m0.1 15.5h0m0.3-19.9h0m0.3 11.4h0m0.1-12.9h0m0.1 7.8h0m0-3.3h0m0.4 4.3h0m0.1-4h0m0 6.5h0m0.1-23.3h0m0.1 29.6h0m0.1-2.7h0m0.1 8.3h0m0.1-2.6h0m0.2-0.9h0m0-16.5h0m0.1 2.3h0m0.2 7.7h0m0.1-9.3h0m0 2.4h0m0.1-7.1h0m0 20.1h0m0.1-16.5h0m0.2 30.5h0m0.1-14h0m0-9.6h0m0.1 4.5h0m0.1-2.5h0m0.1-0.4h0m0-14.9h0m0.1 27.9h0m0.1-7.6h0m0.1 3.2h0m0-6.1h0m0.1-4.7h0m0.1-6.3h0m0.1 7.5h0m0.1-8.8h0m0.1 22.7h0m0-12.4h0m0.1-22.3h0m0.1 15.2h0m0 12.2h0m0.3-4.4h0m0.1 14.7h0m0.2-2.9h0m0.1-14.7h0m0 3.5h0m0.1-2.4h0m0.1-2.9h0m0.1 23h0m0-28.7h0m0.1 29.5h0m0-6.6h0m0.1-24.5h0m0.1 20.9h0m0.4-9h0m0.1-3.7h0m0.1 12.2h0m0.1-14.1h0m0-4.3h0m0.1 3.6h0m0.2 18.1h0m0.1-11h0m0.4-2.6h0m0.1 24.2h0m0.1-9.7h0m0-8.7h0m0.2-22.1h0m0.1 15.3h0m0-2.8h0m0.2 10.4h0m0.2-1.4h0m0.1 25.9h0m0-11h0m0.1-2.7h0m0.1-24h0m0 17.9h0m0.1-12.9h0m0.1 3.9h0m0.1-11.3h0m0-23.6h0m0.1 19.7h0m0.1 13.2h0m0.1-5.7h0m0-6.2h0m0 35.1h0m0.2-26.5h0m0.1-8.8h0m0.1 24.3h0m0.1-12.2h0m0.1 13h0m0-30.6h0m0.3 25.2h0m0.1 7.4h0m0.1-29.3h0m0.3-4.6h0m0.1 30.4h0m0-8.2h0m0.2-10.7h0m0.2 26.2h0m0-9.5h0m0.2-8.7h0m0.1-3h0m0-13.4h0m0.1 26.3h0m0.1-5.5h0m0.1-4.7h0m0.1 7.2h0m0 10.7h0m0.2-5.1h0m0.1-20.5h0m0.4-2.2h0m0 16.1h0m0.1 4.8h0m0.1-7h0m0.1 3.7h0m0-13.3h0m0.1-2.8h0m0.1 5.2h0m0.1-16.2h0m0.1 11.3h0m0.1 8.6h0m0.1 6.3h0m0.1 5.1h0m0.1 7.3h0m0.1-10.2h0m0-11.4h0m0 6.2h0m0.2 8.4h0m0-21.3h0m0.1 26.2h0m0.1-29.4h0m0.2 7.6h0m0.1-9.3h0m0.1 15.9h0m0.1 12.3h0m0-13.1h0m0.1-1.6h0m0 20.4h0m0.1-21h0m0.2-9.9h0m0.1 17.2h0m0 2.7h0m0.1 4.9h0m0.2-10.1h0m0.1-16.2h0m0 16.6h0m0.1-7.9h0m0 1.8h0m0.2 20.9h0m0.1 5.8h0m0-17.8h0m0.1-18.4h0m0.3 31.6h0m0-6.2h0m0 9.2h0m0.1-12.1h0m0.2-16h0m0.2 9.2h0m0.1-24.2h0m0 21.2h0m0.1-16.3h0m0 23h0m0.1-5.3h0m0 8.5h0m0.1-2.2h0m0-12.1h0m0.2 7.2h0m0 6h0m0.2 7.1h0m0-21.8h0m0.1 11.2h0m0.1-16.1h0m0.1 12.9h0m0.1 9.3h0m0 7h0m0-18.5h0m0.1-2.1h0m0.1 1.8h0m0.1 32.1h0m0-23.3h0m0.2 3.3h0m0.1-9.3h0m0.1-1.2h0m0 9.8h0m0-13.5h0m0.2 11.8h0m0.1-3.5h0m0 1.1h0m0 8h0m0.2-23.4h0m0 9.5h0m0.1 21.9h0m0-18.6h0m0.1-13.1h0m0 15.3h0m0 21.8h0m0-25.6h0m0.1-6.9h0m0 6.6h0m0.1 7.8h0m0.1 7.4h0m0-36.9h0m0.3 29.6h0m0-26.7h0m0.1 40.8h0m0.1-27.4h0m0.2 5h0m0-7.1h0m0.1 26.8h0m0.1-30.8h0m0 17.1h0m0-14.1h0m0.1-4.4h0m0.1 10.1h0m0 13.2h0m0.1 1.8h0m0 1.2h0m0.1 2h0m0.3-12h0m0-1.9h0m0.1-14.3h0m0.1 13.3h0m0-16.5h0m0.1 15h0m0.1-3.6h0m0.1 6.7h0m0-21h0m0.1 23.4h0m0-11.1h0m0.1 19.7h0m0.1-9h0m0.1-22.4h0m0 26.8h0m0.2 6.2h0m0-1.1h0m0 2.5h0m0.1-9.5h0m0-29.1h0m0.1 26.2h0m0-7.9h0m0.1 2.4h0m0 8.5h0m0 2.9h0m0.1 7.6h0m0 1.4h0m0.1-15.4h0m0.1-9h0m0 13.7h0m0.1-12.4h0m0.1 27.2h0m0-12.1h0m0-3.3h0m0.1 17.1h0m0-22.8h0m0.3 0.7h0m0-2.3h0m0.1 23.6h0m0.3-23.1h0m0 18.8h0m0-25h0m0.1 13.1h0m0 2.8h0m0.1-17.8h0m0 5.7h0m0.1 7.6h0m0-7.8h0m0 15.7h0m0-10.8h0m0.2-20.1h0m0.1 28.7h0m0 14h0m0.1-21.7h0m0-4.5h0m0.1-7h0m0 20h0m0.2 15.1h0m0-40h0m0 28.1h0m0.1-10.6h0m0-1.8h0m0.1 26.8h0m0-23.3h0m0.1 11.8h0m0.1-23.9h0m0.1 3.7h0m0.1-1.9h0m0 19.9h0m0.2-33h0m0.1 16.2h0m0.1 6h0m0-5h0m0 6.9h0m0.1 4.5h0m0-16.6h0m0.1 18.7h0m0-8.2h0m0.1 15.3h0m0 0.3h0m0.1-22.7h0m0.1-8.7h0m0.2 19.8h0m0 3.7h0m0.1-35.5h0m0 45.4h0m0.1-20.6h0m0-13.5h0m0.1 9.5h0m0-4.1h0m0 20.7h0m0.1-9.6h0m0.1 16.6h0m0-12.3h0m0.1-2.4h0m0-23.7h0m0 7h0m0.1-0.8h0m0 28h0m0.1-7.9h0m0.1-14.6h0m0 5.4h0m0.1 22.6h0m0 14.2h0m0-60h0m0.1 34.4h0m0 6.8h0m0.1 1.7h0m0.2-15.9h0m0-15.9h0m0 39.1h0m0-31.8h0m0.1 7.6h0m0 4.3h0m0.1 6h0m0-17.2h0m0.1 3.3h0m0.1 37.7h0m0-57.6h0m0 2.9h0m0.1 9h0m0.1 9h0m0.1 13.9h0m0.1 10.4h0m0.1-9.1h0m0-7.4h0m0.1 10.3h0m0 9.3h0m0.1-7.4h0m0-4.5h0m0-18.5h0m0.1 6.1h0m0 8.7h0m0-2.6h0m0.1 12.6h0m0-26.6h0m0 13.3h0m0.2 8.4h0m0-26.1h0m0 10.4h0m0.1 4.5h0m0-15.6h0m0.2 24h0m0.1-18.3h0m0-7.4h0m0.1 11.9h0m0-0.3h0m0.1 4h0m0-10.8h0m0 10.5h0m0-23.5h0m0.1 17.2h0m0-5.3h0m0 10h0m0.1-12h0m0.2-1.1h0m0.2 28.5h0m0-14.3h0m0-15.8h0m0.1 19.2h0m0 14.7h0m0 3.7h0m0.1-40h0m0 35.4h0m0-14.8h0m0.2-4.6h0m0-2.7h0m0.2 14.2h0m0-9.7h0m0.1-22.2h0m0.1 7.7h0m0-8.4h0m0 30.4h0m0-2.3h0m0.1-10.6h0m0-4.4h0m0 25.9h0m0.1-9.7h0m0.3 2.6h0m0.1-11.3h0m0.1 5.2h0m0.1-9.3h0m0 3.3h0m0 4h0m0 18.5h0m0-19.7h0m0-8.1h0m0.1-15.2h0m0.1 17.4h0m0 17.8h0m0-4.6h0m0.1-5.4h0m0 6.5h0m0-10.5h0m0.1-5.7h0m0-9.2h0m0 25.9h0m0 6.3h0m0.1 5.9h0m0.1-18.7h0m0.1 10.2h0m0.1-23.7h0m0.1-6.9h0m0 21.8h0m0 1.8h0m0.1 11.2h0m0.1-27.6h0m0.1 31.7h0m0-23.5h0m0 11.8h0m0.1 8.2h0m0-5.9h0m0-0.9h0m0.1-14.2h0m0-5.4h0m0.1 2.3h0m0.1-1.3h0m0.1 7.7h0m0.1 8.6h0m0-20h0m0 15.7h0m0-19.2h0m0.1 39.1h0m0.1-21h0m0.2 9.3h0m0 13.9h0m0-30.5h0m0.1-15.2h0m0 16.4h0m0 19h0m0.1-10.3h0m0-1.2h0m0-11.4h0m0 7.2h0m0.1 2.6h0m0 4.3h0m0-11.6h0m0.1-12h0m0 36.9h0m0-30.4h0m0 2h0m0.1 16.9h0m0 20.3h0m0-61.3h0m0 26.3h0m0 5.3h0m0 1.5h0m0.1-12.5h0m0.2 1.6h0m0 34.4h0m0.1-3.1h0m0-7h0m0.1 17.5h0m0-57.2h0m0.1 24.2h0m0-5.1h0m0 1h0m0.1 1h0m0 8.9h0m0-17.7h0m0 13.7h0m0 8.6h0m0.1 4.6h0m0-12.2h0m0-5h0m0.1 21.4h0m0.1-1.3h0m0.1-3.7h0m0-9.1h0m0-14.4h0m0.1 24.7h0m0-33.2h0m0.1 29.2h0m0 13.4h0m0.1-17.4h0m0.1-22.8h0m0 19.5h0m0.1 12.4h0m0.1-32.8h0m0 24.4h0m0-5.5h0m0-4.6h0m0.1 4h0m0 8h0m0-43.4h0m0.1 28.5h0m0 4h0m0.1-2.3h0m0-12.8h0m0 22.5h0m0 8.4h0m0.1-2.9h0m0 8.1h0m0 12.6h0m0-39.1h0m0 34.8h0m0.1-23.8h0m0 12.2h0m0.3-25.5h0m0.1 12.3h0m0-15.7h0m0 33.1h0m0.1-52.1h0m0 58.2h0m0-4.2h0m0-59.7h0m0.1 37h0m0 6.8h0m0 2.1h0m0 4.4h0m0.1 1h0m0-29.2h0m0 17h0m0-19.3h0m0.1 39.7h0m0-25.6h0m0 10.6h0m0.1 19.2h0m0-28.6h0m0.1 22.6h0m0-19.8h0m0 3.2h0m0.1-4h0m0-6.2h0m0.1-4.6h0m0 1.5h0m0 13h0m0.1 32.2h0m0-25.7h0m0-31.4h0m0.1 19.9h0m0.2-12h0m0-3.3h0m0.1 12.5h0m0-17.9h0m0.1 30.4h0m0-17.6h0m0-6.3h0m0 1.6h0m0 25.2h0m0.1 3.3h0m0 1.5h0m0.1-14.3h0m0-1.3h0m0 15.1h0m0.1-24.2h0m0 17.7h0m0.1 0.8h0m0-7.1h0m0.1 0.2h0m0-19.9h0m0 37.2h0m0.1-28h0m0 3.1h0m0.1 30.6h0m0-36.8h0m0 16.8h0m0.1 17.3h0m0.1-39.5h0m0 13.1h0m0-9h0m0.1 24.4h0m0-8h0m0-20.4h0m0.1 29.2h0m0-12.1h0m0-5.2h0m0.1-21.6h0m0 27.8h0m0 4.8h0m0-2.8h0m0.1 3.6h0m0 5.1h0m0-23.3h0m0 10.5h0m0.1 5.9h0m0.1-16.1h0m0 21h0m0-12h0m0 15.6h0m0.1-22.1h0m0.1 25.9h0m0-1.3h0m0.1-29.9h0m0-6.6h0m0.1-2.3h0m0 58.4h0m0.1-39.2h0m0 22h0m0.1-1h0m0-2.7h0m0.1-6.1h0m0-2.8h0m0-19.9h0m0 24.6h0m0-3.1h0m0.1-16.6h0m0-3.7h0m0 1.3h0m0 3.1h0m0.1-8.9h0m0 18h0m0 22.4h0m0.1-17.9h0m0-12.5h0m0.1-3.6h0m0 29.5h0m0-23.3h0m0.1 2.6h0m0 4.7h0m0.1-1.3h0m0 31.7h0m0.1-36h0m0 24.2h0m0.2-39.9h0m0 2.3h0m0.1 12.1h0m0 1.6h0m0.1 5.3h0m0-12.2h0m0-2.1h0m0-2h0m0 23h0m0.1-18h0m0 12.5h0m0-4.9h0m0.1 12.7h0m0.1-6.8h0m0.1 2.4h0m0-5.8h0m0.1 27.5h0m0-50.5h0m0.1 29.9h0m0 11.4h0m0.1-25.2h0m0 11.4h0m0.1-9.9h0m0.1 22.6h0m0-29.5h0m0.1 0.9h0m0 16.9h0m0.1-28.7h0m0 23.8h0m0-5.4h0m0-24.6h0m0 40.5h0m0.1-12.6h0m0 8.2h0m0-3.2h0m0.1-19.6h0m0-1.7h0m0 35.6h0m0.1-16.2h0m0 3.5h0m0-5.9h0m0.1-23h0m0 33.9h0m0 3.2h0m0.1-16.1h0m0 22h0m0-44.5h0m0.1 37.9h0m0 4h0m0-24.6h0m0.1-0.2h0m0-13.5h0m0 30h0m0-5.4h0m0-20.9h0m0.1 33.4h0m0-41.8h0m0.2 22.7h0m0 6.7h0m0-2.7h0m0-2h0m0.1 11.3h0m0 7.9h0m0-23.2h0m0.1-0.3h0m0 13.6h0m0 6.6h0m0-23.7h0m0.1 6.6h0m0-12.7h0m0 20.1h0m0 6.9h0m0.1 21.3h0m0-22.6h0m0.1-23.5h0m0 4.5h0" stroke="#000000" stroke-width="2.1" stroke-linecap="round" fill="none"/><path d="M129.8 425.1h0m3.2-12h0m2.4 5.4h0m0.5 6.8h0m3.1-2.7h0m1.8-2.6h0m2.2-6.6h0m0.8 5.6h0m0.8-8.8h0m0.7 17h0m0.4-22.3h0m0.4 12.9h0m0.3-7.7h0m1.4 2.6h0m1 6.2h0m1.3-10.7h0m1 12.5h0m0.3-8.7h0m0.8 2.1h0m0.6 1.7h0m0.6-0.7h0m0.8-7.2h0m0.5 13.2h0m0.3-11.6h0m0.2-6.5h0m0.8-8.2h0m0.8 10.8h0m0.2 1.2h0m0.5 14.3h0m0.2-18.7h0m0.5 0.8h0m1.3-0.6h0m0.2 7.6h0m0.5-2h0m0.2-10.3h0m0.2 12.8h0m0.2 8.3h0m0.2-7.5h0m1.2-5.4h0m1-5.1h0m0.2 4.1h0m0.2-5.7h0m0.2 5.1h0m0.9-1.6h0m0.3 2.5h0m0.2 14.9h0m0.7-29h0m0.2 6.6h0m0.5 6.6h0m0.3-3.9h0m0.2-10h0m1 18.3h0m0.1-5.1h0m0.6 0.9h0m0.6 8.6h0m0.3-10.8h0m0.3 5.9h0m0.2-5.2h0m0.3-10.3h0m0.3 20.5h0m0.2-18.3h0m0.7 2.6h0m0.2 6.7h0m0.1 4.6h0m0.6-12.5h0m0.1 17.7h0m0.5-17h0m0.1 9.3h0m0.2 6.5h0m0.5-2.5h0m0.2-1h0m0.2-4.5h0m0.1 10.9h0m0.6-4.7h0m0.6 1.8h0m0.1-10.7h0m0.1-4.1h0m0.4 15.5h0m0.1-7h0m0.2 10.8h0m0.1-6.3h0m0.2-2.4h0m0.2 11.9h0m0.1-10.4h0m0.2-0.4h0m0.3 29.4h0m0.3-21h0m0.1 8.3h0m0.7 2.8h0m0.2-5.7h0m0.1-13.7h0m0.1 8h0m0.1 5.6h0m0.2-2.5h0m0.1-3.9h0m0.2-11.7h0m1.6 6.8h0m0.1 9.3h0m0.3 2.9h0m0.5 5h0m0.3-10.8h0m0.4 12.1h0m0.2-7h0m0.1 15.1h0m0.5-33.6h0m0.1 7.3h0m0.3 25.4h0m0.1-9.4h0m0.1-5.2h0m0.2-2.6h0m0.3 5.9h0m0.1-13h0m0 20.8h0m0.3-15.1h0m0.3 4.9h0m0.1 21.6h0m0.6-17.9h0m0-5h0m0.1 4.9h0m0.2-7.4h0m0.1-1.6h0m0.1 3h0m0.1 11h0m0.1-17.5h0m0.3 33.5h0m0.2-13.3h0m0.2-3h0m0.2 8.9h0m0.2-1.6h0m0.1-18.1h0m0 9.7h0m0.1-6.9h0m0.2 1.2h0m0.2-1h0m0-18h0m0.1 26h0m0.2-18.9h0m0.2 13.8h0m0.3-14.4h0m0.2 11.7h0m0.2 12.4h0m0.1-15.1h0m0.1-3.3h0m0.1 10.2h0m0.1-13.1h0m0.1-2.7h0m0.4 17.1h0m0.8-2.7h0m0.3-1.2h0m0.1 2.9h0m0.1-12.1h0m0.1-8.8h0m0.2 1.5h0m0.2 12.4h0m0 4.2h0m0.1-3.1h0m0.1-6.8h0m0.5 10.5h0m0.3 1h0m0.5-17.6h0m0 13.2h0m0.1-2.8h0m0.1 9.7h0m0.3 4h0m0.1-1.4h0m0.1 11.9h0m0.1-31.3h0m0.3 17.1h0m0.3-1.1h0m0.1-20.5h0m0.1 27.6h0m0.1-20.3h0m0.1 11.2h0m0 2.7h0m0.1 5.9h0m0.1-9.4h0m0-23.1h0m0.2 20.4h0m0.2-2.6h0m0.1-3.6h0m0.1-6.5h0m0.3 17.3h0m0.1-6.7h0m0.2-2.7h0m0-3.7h0m0.1 12.2h0m0-10.3h0m0.1 3h0m0.1 1.7h0m0.1 14.3h0m0-6.7h0m0.1 5.2h0m0 6.4h0m0.1-23.8h0m0.1 12.5h0m0.2-11.7h0m0.1 15.8h0m0.2-13.7h0m0.1-10.5h0m0.1 13.1h0m0.1 3.3h0m0.1 5.1h0m0.1-14.8h0m0.2 14.1h0m0-17h0m0.1 2.3h0m0 26.3h0m0.1-30.7h0m0 7h0m0.1-13.8h0m0 21.4h0m0.2-18.1h0m0 13.8h0m0.1 0.7h0m0.2 9.4h0m0-19.5h0m0.2 16.1h0m0.1-12.4h0m0 30.1h0m0.1-18h0m0 8.2h0m0.1-3.5h0m0.2 8.3h0m0-26.3h0m0.1 23.8h0m0.2-42.7h0m0.3 32.9h0m0 7h0m0.3-18.4h0m0.1 25.3h0m0-7.1h0m0.2-10h0m0.1-1.4h0m0 9.4h0m0.2-14.5h0m0.1 8.5h0m0.1-10.9h0m0 9.3h0m0.3 12.5h0m0.1-7.3h0m0.1-11.8h0m0 4.2h0m0.2 5.1h0m0 7.1h0m0-18.7h0m0.1 20.6h0m0.1-25.1h0m0.1 9.9h0m0.1-0.7h0m0.1 16.5h0m0.2-5.1h0m0-9.8h0m0-16h0m0.1 19.6h0m0 8.9h0m0.3-4.4h0m0.1 33h0m0.1-49.1h0m0.1 16.5h0m0.1 0h0m0.3 6.7h0m0.1 12.4h0m0-24.7h0m0.2 11.4h0m0.2-2.8h0m0.1 7.5h0m0.1-31h0m0.1 6.7h0m0.1 15.9h0m0-5.7h0m0-7.6h0m0.1 23.3h0m0-25.9h0m0.2 21h0m0.1-6.9h0m0.1 8.2h0m0-16.9h0m0.2 23.9h0m0.1-27.7h0m0 4.8h0m0.1-2.2h0m0 2.8h0m0.2 5.6h0m0 6h0m0.1 15.1h0m0-18.5h0m0-10.9h0m0.2 1h0m0 1.9h0m0.2 14.4h0m0.1-15.7h0m0-11.6h0m0.2 15.3h0m0.1-9.6h0m0.1 20.5h0m0.1-13.3h0m0 5.7h0m0.2-15.2h0m0 19.5h0m0.2-15.1h0m0-2.8h0m0.1 28.6h0m0-8.4h0m0.1-13.3h0m0.1-11.3h0m0 5.7h0m0.2 14.4h0m0-16.3h0m0.1 17.3h0m0.1-35.7h0m0.1 22.5h0m0.1-19.6h0m0 36.1h0m0.1 3.6h0m0-11.8h0m0.2-1h0m0.1-4.4h0m0.1 9.9h0m0.1 2.3h0m0.1 7.7h0m0.1-12.7h0m0.1-3.6h0m0-3.1h0m0.1-1.3h0m0 4.2h0m0.1-5.9h0m0.1-7h0m0-1.4h0m0 27.5h0m0.1-18h0m0 21.2h0m0-25.8h0m0.1 21.9h0m0.2-8.1h0m0.2-19.9h0m0.1 62.1h0m0.1-64.8h0m0.1 7.2h0m0 2.7h0m0.2 20.6h0m0-4h0m0.1 3.6h0m0-19.5h0m0.1 27.5h0m0-22.5h0m0.1 4.1h0m0-1.5h0m0.1 5.3h0m0.1 11.7h0m0.1-2.2h0m0.2-7.2h0m0-10.5h0m0 8.3h0m0.1 10.1h0m0-11.2h0m0.1-19.6h0m0.1 16.6h0m0.1-0.8h0m0.1 9.7h0m0.1-4.6h0m0.2-15h0m0.2 32.6h0m0-30.3h0m0.1 9.3h0m0.1 13.9h0m0-1.9h0m0-23.4h0m0.2 3.7h0m0.1 23.1h0m0.1-10.2h0m0.1 3.8h0m0.1 11.1h0m0.1-23.8h0m0 3.3h0m0.1 7.2h0m0 1.6h0m0.1-21.6h0m0 12.9h0m0.2-6.2h0m0.1-13.4h0m0 15.1h0m0.1 6.2h0m0.1-13.6h0m0.1 23.5h0m0-13.7h0m0.1-19.9h0m0 13.2h0m0 10.2h0m0.1 13.1h0m0.1-27.7h0m0 11.8h0m0.2-5.2h0m0 7.2h0m0.1-6.4h0m0.1 2.4h0m0.1 10.4h0m0.1-0.8h0m0.1 3.9h0m0-7.3h0m0.1 8.4h0m0.2-3h0m0.1 5.5h0m0.1-23.2h0m0-5.5h0m0 15.1h0m0 26.9h0m0.1-40.4h0m0 2.7h0m0 10.4h0m0.1-6h0m0.2 2.1h0m0.1 6h0m0 1.7h0m0-5.8h0m0 15.1h0m0.1-16.4h0m0.1 32h0m0.1-27.7h0m0.1-12.7h0m0 0.9h0m0.1 1.5h0m0.1 17.5h0m0-24.7h0m0 15.5h0m0 6.2h0m0.1-12.3h0m0.1 10.3h0m0-4.7h0m0.1 9.3h0m0-16.4h0m0.1 18.2h0m0-9h0m0.1-6h0m0.1 16.3h0m0.1-5.1h0m0.2-5.5h0m0 1.6h0m0 19.6h0m0.1-31.9h0m0.1 17h0m0 11.1h0m0-4h0m0.2-12h0m0-7.1h0m0.1 15.6h0m0-20.4h0m0-7h0m0.1 32h0m0-17.6h0m0-4h0m0.2-12.1h0m0 31h0m0.1-16.8h0m0 10.7h0m0.1-8.2h0m0.1 5.9h0m0 16.9h0m0.1-13.1h0m0 7.8h0m0.1-22.7h0m0.1 3.9h0m0.1-9.7h0m0 7h0m0.1 8.7h0m0 3.1h0m0.1-5.7h0m0 1.4h0m0.1 5h0m0 18.1h0m0.1-26.1h0m0-24.3h0m0 29.7h0m0.1 0.7h0m0.1 9.5h0m0.1-17.9h0m0-4.4h0m0.1 16.3h0m0.1-27.8h0m0.1 29.9h0m0.1-22.8h0m0 13.8h0m0.1 3.9h0m0.1-2.9h0m0.1 9.9h0m0.2-13.2h0m0 8.2h0m0.2-6.4h0m0.1-2.7h0m0-2.8h0m0.1-5.3h0m0 19.5h0m0.1-13.8h0m0 7.7h0m0-6.6h0m0.1 9.9h0m0-4.8h0m0.1 7.6h0m0 2.1h0m0.1-11.5h0m0.1-8.3h0m0 5.8h0m0.1 1.4h0m0.1 9.5h0m0.2-21.9h0m0 23.5h0m0.1 11.7h0m0-17.5h0m0.1-9.9h0m0.1 20h0m0 1.9h0m0-28.9h0m0.1 12.7h0m0-4.4h0m0 5.9h0m0 8.5h0m0.1-15.8h0m0-3h0m0.1 18.1h0m0-18.6h0m0 7.9h0m0.1 4.3h0m0.1-8.3h0m0 23.8h0m0.1-11.9h0m0.1-0.5h0m0 11.9h0m0.1-25.3h0m0 4.7h0m0.2-7.5h0m0.1 2.1h0m0 10.9h0m0.1-13.7h0m0 12.6h0m0-4.7h0m0.1 14.8h0m0-17.2h0m0.1 17.4h0m0-25.3h0m0.1 37h0m0-29.8h0m0.1 12.2h0m0 10.5h0m0-2.1h0m0.1-26.8h0m0 4.4h0m0 3.6h0m0.2 11.9h0m0-7.8h0m0 32.1h0m0.1-12.1h0m0-12.4h0m0-9.6h0m0.1 23.8h0m0.1-25.8h0m0-0.6h0m0.1 3.2h0m0.1 13.9h0m0.1-8.8h0m0-21.9h0m0.1 20.8h0m0.1-12h0m0 11.3h0m0.1-10.1h0m0 18.5h0m0-10h0m0.1-0.6h0m0 6.3h0m0 1.8h0m0.1-1h0m0.1-22.7h0m0 27.2h0m0.1-18.5h0m0.1 11.8h0m0-1.9h0m0.2 0.6h0m0-4h0m0 10.4h0m0-13.2h0m0.1 18.6h0m0-17.2h0m0-8.3h0m0.1 26.8h0m0 7.1h0m0-29.1h0m0.1 11.4h0m0.1-1.4h0m0-2.7h0m0.2-15.1h0m0 28.9h0m0.1-5.3h0m0.1-9.2h0m0.2 0.7h0m0-0.7h0m0.1 6h0m0 22.1h0m0-25.8h0m0.1-13h0m0 20.8h0m0 1.9h0m0-13.2h0m0.1 22.1h0m0-16.4h0m0-25.4h0m0.1 36h0m0-13.6h0m0-7.9h0m0.2 15.8h0m0-2.1h0m0.1 12.8h0m0-29.3h0m0.1 21.6h0m0.1-16.8h0m0-12h0m0.1 13.5h0m0 20.5h0m0-2.3h0m0.1-24.3h0m0 20.8h0m0.1-11.2h0m0-14.6h0m0.1 17.1h0m0.1-8.8h0m0 13.4h0m0 7.9h0m0.1-12.1h0m0-5.1h0m0.1-2.7h0m0.1-15.4h0m0 14.9h0m0.1 10.9h0m0.1-6.8h0m0 14.3h0m0-16.8h0m0.2-6.9h0m0 14.6h0m0.1-8.8h0m0 13.5h0m0-5.7h0m0-5.7h0m0.1 5.1h0m0 10.4h0m0.1-6.4h0m0.1 9.9h0m0-0.9h0m0.1-25.1h0m0 28.4h0m0.1-18.1h0m0-14.9h0m0.1 23.8h0m0-22.4h0m0.1 18.6h0m0 18.1h0m0.1-16.2h0m0-25h0m0 5.2h0m0.1-4.1h0m0 17.4h0m0.1-3.9h0m0 5.1h0m0 5.6h0m0 5.2h0m0.1-19.6h0m0 12.8h0m0.1 2h0m0-17.2h0m0 12.6h0m0.1 0.9h0m0.1 11.7h0m0-18.7h0m0 7.9h0m0.1-4.1h0m0.1-26.9h0m0 20.7h0m0.2 3.7h0m0 1.3h0m0.1-18.3h0m0 14.6h0m0.1-15.3h0m0 4.5h0m0-12.5h0m0.1 38.4h0m0 10.5h0m0-33.3h0m0 10.2h0m0.1-1.9h0m0 17.2h0m0-26.5h0m0.1 28.6h0m0.1-12.2h0m0-18.4h0m0 22.9h0m0-3.4h0m0.1-12.9h0m0 13.8h0m0 4.8h0m0-24.1h0m0 16.5h0m0.1-1h0m0.1-2h0m0 6.9h0m0.1 2.8h0m0 15.6h0m0.1-5.9h0m0.1-8h0m0-10.2h0m0-3.8h0m0.2-4.2h0m0 3.6h0m0.1 19.8h0m0-17.7h0m0 8.4h0m0.1 11.2h0m0-10.4h0m0.1 7.4h0m0.1-13.5h0m0 7.8h0m0-16.1h0m0.1 11.4h0m0-0.8h0m0-12h0m0.1 13.6h0m0.1-10.5h0m0-6h0m0 28.1h0m0.1-4h0m0-10.9h0m0-12.3h0m0.1-4.9h0m0-4.5h0m0.1 5.7h0m0 33.4h0m0.1-22.3h0m0 1.4h0m0-8.9h0m0 27.5h0m0-26.2h0m0.1-2.5h0m0 23.1h0m0-16.5h0m0 9.1h0m0.1-3.8h0m0-4.6h0m0 12h0m0.1-5.2h0m0-15.8h0m0 25.2h0m0.1-1.7h0m0.1-12.8h0m0 11.5h0m0-1.9h0m0.1 8.2h0m0.1-21.4h0m0.1 26.3h0m0-13.9h0m0 12.4h0m0.3-19.1h0m0-12.1h0m0.1 20.8h0m0 7.1h0m0 1.4h0m0-12.3h0m0.1 18.4h0m0-46.5h0m0 23.8h0m0.1-17.2h0m0 22.9h0m0.1 5.4h0m0-21.7h0m0.1 13.7h0m0-6.3h0m0 12.2h0m0.1-7.9h0m0.1-10h0m0-9.4h0m0.1-6.8h0m0.1 38.4h0m0.1-3.6h0m0-21.9h0m0-2.8h0m0.1 22.1h0m0-6.6h0m0.1 29.6h0m0-32.4h0m0-4.4h0m0 3.9h0m0-10.9h0m0.1 21.7h0m0 7h0m0-0.4h0m0-1.5h0m0-0.8h0m0-3.7h0m0-14.4h0m0.1 5h0m0 3.7h0m0.1-1.7h0m0.1-15.1h0m0-9.8h0m0.1 34.5h0m0-15.7h0m0.1-3.5h0m0-9.6h0m0-2.6h0m0 25.5h0m0.1-15.5h0m0.1 20.5h0m0 11.8h0m0.2-43.5h0m0 19h0m0 5.3h0m0-15.6h0m0 10.5h0m0.1 5.8h0m0-10h0m0 6.3h0m0 12.1h0m0-4h0m0.1-12.7h0m0 14.8h0m0 2.9h0m0 10.5h0m0.1-40h0m0 7.8h0m0.1 10.5h0m0 14.2h0m0 8.4h0m0-32h0m0.1-1.4h0m0.1 16h0m0-7h0m0.1 9.7h0m0 9.9h0m0.1-31.4h0m0-9.1h0m0.1 26.8h0m0.2 0.9h0m0-13.7h0m0.1-1.1h0m0 2.2h0m0 3.1h0m0.1 3.9h0m0-5.8h0m0.1 1h0m0 4.5h0m0.1 13.8h0m0-9.8h0m0 3.9h0" stroke="#0000ff" stroke-width="2.1" stroke-linecap="round" fill="none"/><path d="M129.2 425.4h0m2 1.2h0m1.2-22.8h0m0.6 27.4h0m2.9-2.7h0m0.5 16.4h0m0.6-25.1h0m0.5 20.9h0m3.3-19.2h0m0.9-10.7h0m0.4 29.9h0m0.4-12.2h0m0.9-1.6h0m2.3 5.4h0m0.4 0.7h0m0.3 3h0m0.7-15.9h0m0.4 33.3h0m0.7-5.9h0m0.3-9.8h0m0.7-4.5h0m1.2 4h0m0.4-14.1h0m0.3-7.2h0m0.6 2h0m0.8 12.3h0m0.3-9.1h0m0.6 22.1h0m0.3-28.4h0m0.2 14.2h0m0.6-12.7h0m0.2 4.7h0m0.3 7.6h0m0.2-12.8h0m0.8 17.2h0m0.5 3.4h0m1.2-19.2h0m0.5-5.8h0m0.4 33h0m0.7-8.7h0m0.2-4.6h0m0.7 11.1h0m0.2-13h0m1-9.9h0m0.2-0.7h0m1 8.1h0m0.2 6.8h0m0.4-27.5h0m0.4-2.9h0m0.7 30.6h0m0.9 1.7h0m0.2-27.3h0m0.2 13.2h0m0.8 12.2h0m0.2-16.3h0m0.2 8.6h0m0.5 7.5h0m0.6-21h0m0.2 15.2h0m0.4 0.2h0m0.2-9.9h0m0.3-6.2h0m0.1 22.3h0m0.2-18.5h0m0.3-4.2h0m0.1 18.1h0m0.2-8.7h0m0.1 12.4h0m0.2-27.2h0m0.3 17.4h0m0.1 14.1h0m0.2-14.2h0m0.1 9h0m0.1-6.3h0m0.2 4.9h0m0.3 5.1h0m0.2-20.8h0m0.3 17.4h0m0.4-5.8h0m0.2 4.4h0m0.1-17.5h0m0.1 15.1h0m0.4-9.2h0m0.3 1.9h0m0.1 9h0m0.3-5.3h0m0.1 21.8h0m0.1-22.3h0m0.1 1.7h0m0.2-3h0m0.1 3.7h0m0.1 10.2h0m0.3-24h0m0.1 6.9h0m0.1 10.2h0m0.2-11.8h0m0.2-1.1h0m0.1 8.9h0m0.1 23.6h0m0.1-28.8h0m0.1 16.9h0m0.1-5.8h0m0.2-2.4h0m0.1 6.3h0m0.1-8.4h0m0.2-5.9h0m0.1-2.3h0m0.2 4.1h0m0.3 2.1h0m0.1 6.8h0m0.3 4.5h0m0.1-28.8h0m0.2 14.1h0m0.1-3.7h0m0.1 5.1h0m0.3 0.5h0m0.1-8.2h0m0.2 12.4h0m0.2 4.5h0m0.1 0.9h0m0.1-13.1h0m0.1 21.2h0m0.1-18.6h0m0.1 10.5h0m0.1-7.4h0m0.2 16.3h0m0.1-13.7h0m0.2-22.3h0m0.1 17.5h0m0.2 5.3h0m0.2-1.1h0m0.1-14.4h0m0.1 16.7h0m0.1-3.4h0m0.1-11.5h0m0.2 2.1h0m0.2 11.8h0m0.1-13.5h0m0.2 15.4h0m0.1-14.2h0m0.1 10.4h0m0.2-7.4h0m0.1 20h0m0.1-18.6h0m0.4 5.1h0m0.2 0.2h0m0.1-5.6h0m0.3 2.8h0m0.6 6.1h0m0.1-11.5h0m0.1 19.9h0m0.1-9.2h0m0.2 6.8h0m0.2-13.8h0m0 10.7h0m0.2 6.7h0m0.1-8.3h0m0.2-13.9h0m0.2-16.9h0m0.2 12.4h0m0.1 18.2h0m0-0.4h0m0.1-5.8h0m0.1 2.5h0m0.1-7.5h0m0.1 14.3h0m0.1 3.7h0m0.1-17.3h0m0.1 0.4h0m0.1 3h0m0.1 2.3h0m0.1 2.2h0m0.1-3.4h0m0.1-7.5h0m0 14.9h0m0.1-14.7h0m0.1-2.8h0m0.1 14h0m0.1-16.9h0m0.2 10.5h0m0.1 2.9h0m0.1 10.5h0m0.3-14.5h0m0.1-7.1h0m0.3 21.7h0m0.1-12.6h0m0.1-1.9h0m0.1 6.8h0m0 0.9h0m0.4-3.7h0m0.1 9.5h0m0.1 3.1h0m0.1-18.5h0m0.2-6.2h0m0.1 17h0m0 1.3h0m0.1-15.1h0m0.1 20h0m0-12.5h0m0.1 8h0m0.2-12h0m0.1 4.6h0m0.2 8.4h0m0.1-2.2h0m0.2-4h0m0 7.1h0m0.1-22h0m0.1 11h0m0.1 5.8h0m0.1-4.3h0m0-3.3h0m0.1-2.7h0m0 7.4h0m0.1-1.8h0m0.1-9.6h0m0 2.1h0m0.1 3.7h0m0.1 12.6h0m0.1-18h0m0.1 6.7h0m0 1.3h0m0.5 10.5h0m0 4.8h0m0.2-12.2h0m0.2-10.8h0m0 10.5h0m0.3 10.2h0m0-4.9h0m0.1-16.8h0m0 18.5h0m0.3-14.6h0m0.1 14.9h0m0.1-8.9h0m0.1 15.9h0m0-19.7h0m0.2-1.9h0m0.1 11.3h0m0.2-1.9h0m0-2.4h0m0.1 5.5h0m0 8.1h0m0.2-6.6h0m0.1-17.5h0m0 22.8h0m0.1-16.2h0m0.1 4.3h0m0.1-3.1h0m0 10.9h0m0.1-14.9h0m0 13.3h0m0.1-12.3h0m0.1 29.5h0m0.1-29h0m0.1 14.6h0m0-20h0m0.1 14.9h0m0.1-3h0m0.2 1.5h0m0.1-8h0m0.1 7.4h0m0-6.3h0m0.2-7.2h0m0 8.1h0m0.1-10.1h0m0.1 29.8h0m0-12h0m0.1-3.8h0m0.1-10.2h0m0.1 2.6h0m0 14.5h0m0.1 1h0m0.1 0.3h0m0-2.5h0m0.2-2.8h0m0-1.2h0m0.1-9.2h0m0.1 0.5h0m0 15.2h0m0.1-7.8h0m0 4.5h0m0.1 7.7h0m0-22.2h0m0.1 9.2h0m0-14h0m0.2 12.8h0m0.1-4h0m0.2 2.1h0m0.1 11.3h0m0-14.8h0m0.1 1.6h0m0.1 11.1h0m0 3.1h0m0.1-11.8h0m0.1 5.7h0m0-18h0m0.1 30.6h0m0-5.4h0m0.1-11.7h0m0 3.9h0m0.2-13.3h0m0.1 11.6h0m0.1 0.1h0m0.1 9h0m0-27.3h0m0.1 41.3h0m0-23.9h0m0.1-0.4h0m0.1-2.1h0m0 9.8h0m0.1-19.1h0m0.1 18.7h0m0.1-15.8h0m0.1 13.8h0m0-10.6h0m0.2 9.4h0m0.1-11.5h0m0.1 20.6h0m0-8.4h0m0.1-12.8h0m0 10.1h0m0.1 8.1h0m0.1-6.4h0m0.1-14.6h0m0.1 18.8h0m0.1-5.4h0m0 12.6h0m0.1 4.5h0m0-20.7h0m0.1-5h0m0 3.4h0m0.1 18.4h0m0.1-21.1h0m0 11.5h0m0-2.4h0m0.1-7.8h0m0 4.4h0m0.1-5.3h0m0.1 8.1h0m0.1-5.8h0m0.1 10.7h0m0 3.5h0m0.1-2h0m0.1 4.2h0m0.1-21.7h0m0.1 18.3h0m0.1-12.6h0m0.1 4.6h0m0.1 5.7h0m0-1.4h0m0.1-11.6h0m0 25h0m0.1-35.1h0m0 17.1h0m0.1-8h0m0.1 5.9h0m0 3.5h0m0.2-6.1h0m0.2-4.8h0m0 37h0m0.1-31.5h0m0 2.8h0m0 14.4h0m0.1-16h0m0.1-3.3h0m0 1.9h0m0-0.9h0m0.1 17.6h0m0-6.9h0m0.1-19.9h0m0 5.4h0m0-9.3h0m0.1-0.6h0m0 20.7h0m0.1-13.7h0m0 11.4h0m0.1-6.6h0m0.1 5.5h0m0 5.9h0m0.1-1.1h0m0.4 0h0m0 3.1h0m0.1-21.5h0m0 11.5h0m0.1 3.5h0m0-5.5h0m0.1-3.6h0m0 36.8h0m0.1-19.5h0m0-4.6h0m0.2 1.7h0m0 4.7h0m0.1-21.2h0m0 8.4h0m0.1 1.7h0m0 25.3h0m0.2-29h0m0.1 3.4h0m0 4.4h0m0.1 14.5h0m0-26.2h0m0 17.1h0m0.2-23h0m0 27.1h0m0-33.7h0m0.1 10.4h0m0.1 4.7h0m0-6.3h0m0 19.6h0m0.2-10.3h0m0.1-10.1h0m0 17.1h0m0.1-2.1h0m0-12.3h0m0.1 0.5h0m0.1 17.3h0m0 1.2h0m0-18.2h0m0.1 9.5h0m0-2.7h0m0-2.5h0m0.1 4h0m0 16.2h0m0-8.5h0m0.1-6h0m0.1 3.9h0m0-17.4h0m0.1 16.5h0m0.2-10.5h0m0 2.1h0m0.2-6.5h0m0 3.3h0m0.1 13.3h0m0-15.2h0m0-7.1h0m0.1 10.9h0m0 12.4h0m0.1 15h0m0-16.4h0m0-8.2h0m0.1 7h0m0-17.6h0m0.1 13.3h0m0-5.8h0m0 18.6h0m0.1-6.3h0m0-5h0m0.1-0.4h0m0.1-8.1h0m0-0.8h0m0.1 6.7h0m0-15.6h0m0.1 18.9h0m0.2 7h0m0-15.3h0m0.1 11.6h0m0-14.3h0m0 9.4h0m0.1-5.2h0m0 1.6h0m0 8.5h0m0.1 2.9h0m0-10.1h0m0.1-2.4h0m0.1-2.6h0m0 8.2h0m0 1.5h0m0.1 4.5h0m0.2 7.6h0m0.1-25.4h0m0.1-4.5h0m0 18.1h0m0.1-1h0m0 2.7h0m0.1 0.9h0m0 0.7h0m0 6.6h0m0.1-17.2h0m0 3.6h0m0.1-9.4h0m0 19.5h0m0.1-21h0m0 3.4h0m0 1.6h0m0.1 1.7h0m0.1 6.8h0m0.2 5.7h0m0 3.3h0m0-13.2h0m0.1-12h0m0 18.2h0m0.2-0.5h0m0.1-11.5h0m0 4.6h0m0 2h0m0 11h0m0.1-9.1h0m0-13.9h0m0 9.8h0m0.1 3h0m0 2.1h0m0.1 5.5h0m0-17.9h0m0 3.2h0m0.1 21.1h0m0-22.9h0m0.1-2.3h0m0 16.5h0m0.1 11.5h0m0.1-10.7h0m0.2 2.8h0m0-30.7h0m0.1 16.3h0m0.1 13.2h0m0-8.9h0m0 10.4h0m0-3.8h0m0.1-1.1h0m0 1.9h0m0.1-9h0m0-4.5h0m0.1 9.7h0m0-9.6h0m0.1 21.5h0m0-25.2h0m0.1 7.8h0m0.1-1.2h0m0.1 4.4h0m0 3.3h0m0.1-18.7h0m0-1.2h0m0.1 16.9h0m0 10.7h0m0.1-3h0m0-21.1h0m0.1 17.4h0m0 4.7h0m0-10.6h0m0.1 1h0m0-8.6h0m0.1 5.9h0m0 0.7h0m0 7.5h0m0.1 5.7h0m0 2.2h0m0-17.4h0m0.1-1.2h0m0 32.9h0m0-10.8h0m0.1-28h0m0.1 25.6h0m0-22.1h0m0 9.9h0m0.1-0.7h0m0.2 13.9h0m0.1-30.9h0m0 20.3h0m0 0.5h0m0.1-13.2h0m0 9.4h0m0-14.5h0m0 8.9h0m0.1 6.6h0m0-11.6h0m0.1 20.5h0m0-10.7h0m0.1-3.5h0m0 13.1h0m0.1-3.2h0m0 5.5h0m0-32h0m0.2 3.4h0m0 25.3h0m0.1-15.1h0m0-3.7h0m0.1 9.1h0m0-5.3h0m0 13.5h0m0.1-10.2h0m0.1-9h0m0 11.1h0m0-4.5h0m0.1 1.6h0m0 12.4h0m0 3h0m0-19.9h0m0.1 13.3h0m0-12.4h0m0.1 13.5h0m0 1h0m0 6.7h0m0-4.5h0m0.1 1.3h0m0-8h0m0.1 12.4h0m0-14.8h0m0 3.4h0m0.2-3.4h0m0.2-13h0m0 31.5h0m0.1-16.9h0m0-6.1h0m0 16.7h0m0.1-10.7h0m0 10.9h0m0.1-12.6h0m0 5h0m0 2.4h0m0 2h0m0.1-13.1h0m0-1.2h0m0 8.2h0m0.2 8.2h0m0-10.3h0m0 13h0m0.1-24.7h0m0 3.2h0m0.1 1.3h0m0-3.2h0m0.1 17.4h0m0-35h0m0.1 24.9h0m0 8.5h0m0.1 3.9h0m0.1-5.9h0m0.1 10.3h0m0-22.6h0m0.1 27.6h0m0-15.8h0m0-1h0m0 8.9h0m0.1-21.2h0m0 8.2h0m0-5.6h0m0 15.1h0m0.1-11h0m0-9.8h0m0 13.7h0m0 3.7h0m0.1-8.9h0m0 11.5h0m0.1 6.9h0m0.1-20.4h0m0.1 11.6h0m0.1 3.9h0m0 19h0m0.2-18h0m0-10h0m0 15.9h0m0.1-15.8h0m0 1.2h0m0.1-5.2h0m0 11.4h0m0-2.4h0m0-10.9h0m0.1 14.4h0m0-10.5h0m0-10.5h0m0 23.4h0m0.1-21.8h0m0 27.2h0m0.1-6.2h0m0-6.2h0m0.1 11.6h0m0-28.7h0m0.1 26.7h0m0.1-27.4h0m0 28.1h0m0-11.1h0m0.1-9.6h0m0.1 3.4h0m0-14.7h0m0.1-1.4h0m0 11.9h0m0.1-14.1h0m0 33.8h0m0 0h0m0-4.8h0m0-8.6h0m0.1-20.4h0m0 38.8h0m0-6.6h0m0.1-4h0m0-18.2h0m0 14.4h0m0.1-1.4h0m0-4.3h0m0 7.4h0m0.1-11.4h0m0 22.4h0m0.1-2.8h0m0-18h0m0.1-2.7h0m0 4h0m0 3.4h0m0.1 1.4h0m0.1 18.7h0m0-1h0m0.1-30.4h0m0.2 9.3h0m0 10h0m0.1-11.2h0m0 2.8h0m0-14.4h0m0 24.2h0m0.1-5.3h0m0 1.3h0m0-2.9h0m0-16.1h0m0.1 14h0m0 4.6h0m0-11.1h0m0.1-1.9h0m0.1 0.7h0m0 1.8h0m0 7.2h0m0.1-18.8h0m0.2-7.2h0m0 36.6h0m0-35.2h0m0.1 19.1h0m0.1-5.3h0m0.1 12h0m0-2.6h0m0.1 20.2h0m0-29.7h0m0-1.6h0m0 19.8h0m0.1-11.4h0m0 18.2h0m0-9.9h0m0-9.1h0m0 15.5h0m0.1-27.6h0m0 23.4h0m0.1 2.7h0m0-17.4h0m0.1-1.1h0m0-4.8h0m0 31.2h0m0-5.6h0m0-11.8h0m0.1-6.4h0m0.1 4.3h0m0-2.8h0m0 6.9h0m0.1 3.2h0m0-35.7h0m0.1 33.6h0m0-16.4h0m0 34.9h0m0.1-37.2h0m0.1 13h0m0-10.3h0m0.1 4.7h0m0 7.2h0m0-10.2h0m0 28.5h0m0-6.3h0m0.1-8.7h0m0 16.9h0m0-13.1h0m0-9.6h0m0.1-0.5h0m0-5.4h0m0 2.6h0m0.1 11.7h0m0 1.3h0m0.1-14.1h0m0 15.5h0m0.1 12.2h0m0-11.3h0m0.1-6.7h0m0 32.5h0m0-49.6h0m0 15.3h0m0.4 15.2h0m0-25.6h0m0 9.6h0m0-4.8h0m0.1 2.8h0m0 4.9h0m0 1.6h0m0 3.1h0m0-11.5h0m0.1 14.4h0m0-2.2h0m0-7.1h0m0.1-24.6h0m0 16h0m0 13.4h0m0-15.4h0m0.1 31.8h0m0-34.9h0m0 11.1h0m0.1-4.3h0m0.1-8.9h0m0.1 31.7h0m0.1-7.7h0m0-24.4h0m0.1 20.9h0m0.1 22.4h0m0-15.2h0m0-19.3h0m0.1 40h0m0-22.1h0m0-6.7h0m0-4.5h0m0.1-3.1h0m0 12.4h0m0-19.5h0m0 11.9h0m0-6.3h0m0.1 20.7h0m0-20.1h0m0-3.5h0m0.1 7.2h0m0 10.6h0m0.1-4.7h0m0 13.1h0m0-14.6h0m0.1 4.4h0m0-15.1h0m0 27.2h0m0-32.1h0m0 18.9h0m0.1 7.7h0m0.1-28.6h0m0.1 15.6h0m0.1-11.4h0m0.1-3.7h0m0.1 11h0m0 5.7h0m0-4h0m0 6.7h0m0.1-12.6h0m0 14.9h0m0-12.3h0m0.1-6.7h0m0 20.9h0m0-3.8h0m0.1-15.3h0m0 5.8h0m0 8h0m0 3.2h0m0-5.9h0m0.1 9.5h0m0-11h0m0-8.8h0m0 2.4h0m0.1-8.5h0m0.1 14.8h0m0.2-11h0m0.1 25.4h0m0 2.6h0m0-4.9h0m0.1-14.4h0m0.1 12.6h0m0-15.3h0m0 11h0m0-6.5h0m0.1 2.2h0m0-12.1h0m0-13.8h0m0 37.4h0m0-17h0m0-23.8h0m0.1 41.8h0m0-20.8h0m0 10.6h0m0-11.3h0m0.1 11.8h0m0 5h0m0-1.8h0m0-16.5h0m0 5.7h0m0.1 1.5h0m0 4.4h0m0-14.5h0m0.1 3.2h0m0.1 26.4h0m0-2.7h0m0.1-7.1h0m0 2.4h0m0 1.3h0m0.1-26.5h0m0 2h0m0-0.9h0m0.1-7.3h0m0.2 29.8h0m0-2.3h0m0 5.4h0m0.1-11.3h0m0 9.5h0m0-8.6h0m0 6.5h0m0-5.9h0m0-9.3h0m0.1 11.8h0m0-18.9h0m0 9h0m0.1-6.1h0m0 5.7h0m0 2.6h0m0 10h0m0.1-11.1h0m0 4h0m0 19.8h0m0.1-15.7h0m0 8.4h0m0.1-27.3h0m0 13.7h0m0 23.8h0m0.1-33.4h0m0 2.5h0m0.1 24h0m0.1-25h0m0.2-0.8h0m0-8.6h0m0 13.5h0m0.1 9.3h0m0-3.6h0m0 9.6h0m0-2.4h0m0-5.4h0m0-6.6h0m0.1 3.8h0m0-6.1h0m0 8.2h0m0 3.6h0m0 21.1h0m0-52.2h0m0.1 22.6h0m0-19.9h0m0 35.8h0m0-5.8h0m0-20.3h0m0.1 11.7h0m0 11.5h0m0-17.4h0m0.1 32.7h0m0-12.9h0m0-19.3h0m0.1 28.7h0m0.1-15.8h0m0.1-36.9h0m0.1 14.7h0m0-0.9h0m0.1 32.6h0m0.1-25h0m0 15.2h0m0-4h0m0-2.2h0m0 8.7h0m0.1-44.4h0m0 33.2h0m0-3.5h0m0-7.8h0m0 17.8h0m0-2.3h0m0-9.4h0m0.1 4.5h0m0 21.7h0m0-36.1h0m0.1 6.9h0m0 18h0m0 3h0m0 3.2h0m0.1 1.8h0m0.1-19.6h0m0.1 11.8h0m0-16h0m0 3.3h0m0-9.6h0m0.1 4.9h0m0 22.3h0m0 2h0m0.1-27.7h0m0.1 17.8h0m0-5.7h0m0.1 18.3h0m0.1 1.4h0m0-39.7h0m0 12.6h0m0.1 22.5h0m0-10.9h0m0-7.3h0m0 8h0m0-4.9h0m0-3.7h0m0.1 10.2h0m0-4.2h0m0-1.1h0m0 10.6h0m0-12.9h0m0.1-8.4h0m0 15.7h0m0 13.2h0m0.1-29.6h0m0 38.7h0m0-44.3h0m0 28.9h0m0.1-5.2h0m0 4.7h0m0-21.2h0m0.2 3.3h0m0 16.1h0m0 14.5h0m0.2-27.5h0m0 11.6h0m0.2-15.3h0m0 19.1h0m0-12.9h0m0-1.3h0m0.1 9h0m0-4.9h0m0-6.7h0m0 7.9h0m0-12.4h0m0 1.6h0m0 17.3h0m0-25.9h0m0.1-4.1h0m0 11.5h0m0-4.8h0m0 22.7h0m0.1 2.7h0m0 6.6h0m0-18.3h0m0-6.4h0m0.1 25.1h0m0-10.4h0m0-6.8h0m0-23.8h0m0.1 3.3h0m0 33.4h0m0-8.7h0m0.1-8.8h0m0-9h0m0 8.5h0m0.2 26.1h0m0.1-18.3h0m0.2-23.4h0m0 19.5h0m0 4.3h0m0-6h0m0 13.1h0m0.1 2.2h0m0-16.7h0m0 8.5h0m0-15.6h0m0.1 16.8h0m0 7.1h0m0-26.3h0m0.1 3.3h0m0 11.3h0m0-6.7h0m0 7.7h0m0 14.4h0m0.1-28.8h0m0.1-3.9h0m0 14.7h0m0-4.8h0m0 12.8h0m0-14.3h0m0-7.3h0m0.2 26.3h0m0.1-32.8h0m0 43.6h0m0-14.3h0m0.1 1.6h0m0-23.8h0m0.1 14.3h0m0-19h0m0.1 30.9h0m0-21.5h0m0 17.3h0m0.1-11.8h0m0-2.8h0m0 1.7h0m0 6.8h0m0-10.4h0m0.1 16h0m0-41.9h0m0 28.1h0m0 10.4h0m0.1-6.1h0m0-14.4h0m0-1.3h0m0 6.9h0m0 27.3h0m0-29h0m0.1 0.9h0m0 17.3h0m0-24.5h0m0.1 23.4h0m0-3.9h0m0 9.9h0m0-7.8h0m0.1-6h0m0.2 15.1h0m0.2-35.7h0m0.1 12.9h0m0 3.7h0m0-7.4h0m0 9.3h0m0 11.2h0m0.1-7.4h0m0 9.7h0m0-12.4h0m0 15.4h0m0.1-8.5h0m0-13.3h0m0 11.1h0m0 1.6h0m0.1 2.6h0m0-1.3h0m0-17.4h0m0.1 27.1h0m0-2.1h0m0-13.4h0m0.1-5.5h0m0.1-16h0m0 23.2h0m0 18.1h0m0-35.6h0m0.1 25.6h0m0 2.4h0m0-15.2h0m0.1-3.5h0m0-10.2h0m0.1 35.3h0m0-32.5h0m0.2 30.3h0m0-5.3h0m0-13.3h0m0 21.4h0m0.1-14.2h0m0 9.5h0m0-18.2h0m0 12h0m0-15.1h0m0 8.9h0m0.1-1h0m0 4.9h0m0 18.7h0m0-14.9h0m0-19.2h0m0 16.8h0m0 10.3h0m0-18.1h0m0.1-11h0m0 31.7h0m0-21.8h0m0 13.1h0m0-7.8h0m0-22.2h0m0 12.6h0m0.1-1.6h0m0-5.8h0m0-4.5h0m0.1 12.7h0m0 8.4h0m0.2-23.3h0m0.2 32.4h0m0.2-3.1h0m0-7.9h0m0-6.8h0m0 19.9h0m0.1-30.9h0m0 8h0m0 16.8h0m0-1h0m0-17.5h0m0 21.9h0m0-1.2h0m0-10.6h0m0.1-1.9h0m0 7.6h0m0-2.8h0m0 1h0m0-8.8h0m0.1 19.5h0m0-14.3h0m0.1-7.3h0m0.1-2.3h0" stroke="#ff0000" stroke-width="2.1" stroke-linecap="round" fill="none"/><path d="M354 430.9h0m0.5-15h0m1 14.2h0m0.5-7.9h0m1 9.4h0m1.8 6h0m0.4 6.1h0m0.4-15h0m0.5-2.9h0m0.8 9.9h0m0.8 1.6h0m0.7-10.2h0m1.5 7.9h0m0.4-9h0m0.7 16h0m0.6-9.6h0m0.7 6.5h0m0.3-6.7h0m0.4 1.6h0m0.9 3.5h0m1.2 6.4h0m0.3-15h0m0.6 10.8h0m0.5-6.3h0m0.3-2.6h0m0.8 9.8h0m0.3-7.2h0m1.3 0.5h0m0.2-4.7h0m0.3 6.4h0m1.9-1.2h0m0.2-3.3h0m0.5 9h0m0.4 0.1h0m0.7 0.4h0m0.4-8.8h0m0.2 1h0m1 4.8h0m0.2 2.5h0m0.6-8.2h0m0.2 16.5h0m1.5-17.7h0m0.8 4.2h0m0.1-5.3h0m0.2 1.9h0m0.4 5.1h0m0.1-8.7h0m0.2 16.9h0m0.2-17.9h0m0.1 3.1h0m0.7 18.3h0m0.3-5.1h0m0.2-6.9h0m0.3 5h0m0.2-24.2h0m0.3 24.9h0m0.2-14.2h0m0.1 15.8h0m0.3-14.8h0m0.2 1.8h0m0.1 8.5h0m0.2-1.1h0m0.9-3h0m0.4 3h0m0.1 4.3h0m0.3-11.8h0m0.3-4.2h0m0.1 10.6h0m0.2-2.5h0m0.1 9.4h0m0.2-5.6h0m0.1-8.2h0m0.1 8.1h0m0.7 11.6h0m0.4-0.5h0m0.4-19.9h0m1 6.3h0m0.2 2h0m0.1-21.9h0m0.5 8.4h0m0.1 11.2h0m0.4 7.9h0m0.2 1.5h0m0.7-4.7h0m0.2-8.7h0m0.3 7h0m0.4-4.9h0m0.3 2.1h0m0.1-1.3h0m0.2 8.3h0m0.2 6.7h0m0.3-22.6h0m0.1 8.1h0m0.1 5.1h0m0.3 2.9h0m0.1 7.5h0m0.9-21.2h0m0.6 12.1h0m0.1-6.5h0m0.3 15.3h0m0.1-18.4h0m0.1 18.7h0m0.2-8.1h0m0.4-24.8h0m0.3 21.7h0m0.1-8.1h0m0.1-1.2h0m0.1-3.9h0m0.3 5.2h0m0.5-3.2h0m0 4.5h0m0.1 12.3h0m0.1-22h0m0.3 19.4h0m0.2-25.2h0m0.2 32h0m0.2-12.9h0m0.1-6.7h0m0.1 11.1h0m0.3-0.8h0m0.1-8.7h0m0-2.5h0m0.5 20.1h0m0.4-23.7h0m0.3 22.8h0m0.1-4h0m0.1-11.9h0m0.1 1.6h0m0.2 12.4h0m0.3-17.5h0m0.3 6.5h0m0.2 7.9h0m0-16.5h0m0.1 14.1h0m0.2-9h0m0.1-5.5h0m0.1 3.4h0m0.2 9.6h0m0.1-14.2h0m0.2 23.9h0m0.1-17.7h0m0.2 6.9h0m0.1-0.7h0m0.2 5.4h0m0.2-20.9h0m0.2 7.7h0m0-3.2h0m0.1 9.1h0m0.1-3.4h0m0 9.8h0m0.2-17h0m0 3.8h0m0.4 1.7h0m0.1-12.1h0m0.1 20.6h0m0.1 7h0m0-13.5h0m0.2-1.5h0m0 10.5h0m0.1 1.7h0m0.1-9.8h0m0.3 4.7h0m0.1-0.5h0m0.1-10.6h0m0.2 24.9h0m0.2-35.4h0m0.1 6.6h0m0.2 10.7h0m0.1 14.7h0m0.1-6.9h0m0.1-14.2h0m0.3 38h0m0.2-23.4h0m0.1-4.5h0m0.2-10.3h0m0-1.8h0m0.3 18.1h0m0-12.4h0m0.1 6.8h0m0.3 4.1h0m0-6.3h0m0.1-26.4h0m0.1 17.2h0m0.1 13.6h0m0.1 3.9h0m0-12.6h0m0.1-1.4h0m0.1-0.2h0m0.3-5.7h0m0.3 7.1h0m0.1 5.1h0m0.6 3.2h0m0.1-11.5h0m0.3-1.5h0m0.1 32.6h0m0.1-37.9h0m0.1 17.2h0m0.1 20.1h0m0-41.6h0m0.1 24.1h0m0.1-11.7h0m0.1 7.8h0m0.1-3.7h0m0.2 11.2h0m0.1 1.7h0m0.1-24.4h0m0.2 16h0m0.3 4.9h0m0.3-21.9h0m0 25.6h0m0.3-8.4h0m0 1.1h0m0.1-6.8h0m0-8.9h0m0.1 13.6h0m0.1-10.3h0m0-4.6h0m0.1 6.5h0m0 13h0m0.1-7.1h0m0.3 4.8h0m0.1-4.8h0m0.1-9.1h0m0.1 39h0m0.2-38.7h0m0 5.8h0m0.1 6.8h0m0-5.8h0m0.4 28.6h0m0.1-17.5h0m0-26.4h0m0.1 27.3h0m0.1 3.9h0m0.1-16.4h0m0-1.7h0m0.1-8.5h0m0 7.6h0m0.2 10.2h0m0.2-3.2h0m0.1-13.6h0m0.1 9.9h0m0 4.1h0m0.2 3.4h0m0.1-9.4h0m0.1 8.3h0m0.1 4.1h0m0-7.7h0m0.1-8h0m0.1 6.6h0m0 8.4h0m0.2-14h0m0 9.1h0m0.1-6.3h0m0.2-1.6h0m0-4.1h0m0.2-3.2h0m0.1 40.3h0m0 4h0m0.1-16.8h0m0.2-30.1h0m0.1 17h0m0.1 4.2h0m0.1-6.7h0m0-13.9h0m0 15.2h0m0.1-3h0m0.1 10.1h0m0.1-5.2h0m0.1 7.9h0m0-10.3h0m0.1 5.4h0m0.1-22.3h0m0 15.9h0m0.2 13h0m0.1-20.2h0m0.4 29.1h0m0.1-46.4h0m0 36.4h0m0.1-16.3h0m0.1 19h0m0-16.1h0m0.1 3.8h0m0.1 1.3h0m0-16.2h0m0.1 18.7h0m0.1-13.9h0m0.1 14.7h0m0-12.5h0m0.3 12.2h0m0.1 2.8h0m0.1-11.3h0m0.1-1.3h0m0 2.9h0m0.1 5.9h0m0-4.9h0m0.1 11.2h0m0.1-15.8h0m0 7.9h0m0.1-20.6h0m0.1 10.1h0m0.1-3.4h0m0.1 14.2h0m0.1-21.2h0m0.1 14.3h0m0.1-4.8h0m0 15.9h0m0.1-18.5h0m0.2 10.7h0m0-1.6h0m0.1 5.8h0m0.2 16h0m0.1-22h0m0.1 6.9h0m0.2-11h0m0.2-4.7h0m0 10.4h0m0.1 3.8h0m0 1.4h0m0.1 9.6h0m0.1-27.3h0m0.1 26h0m0.1-27.9h0m0.1 12.7h0m0.1 22.2h0m0-2.8h0m0.1-6.8h0m0.2-10.3h0m0-12.3h0m0.1 24.4h0m0 6.8h0m0.1-11.6h0m0-14.8h0m0.1 8.2h0m0.1-13.8h0m0 16.2h0m0.1 0.4h0m0.1-15.1h0m0.1-25.1h0m0.1 40.2h0m0.1-14.1h0m0 5.9h0m0.1 4.9h0m0.1-1.9h0m0.1 10.9h0m0-15.3h0m0.1-0.6h0m0 6.5h0m0-3.2h0m0.2 16.5h0m0.2-30h0m0.1 14.2h0m0.2-5.5h0m0-6.3h0m0.1 21.9h0m0.1-9.3h0m0-1.4h0m0.1-8.2h0m0 5.4h0m0.1 7.8h0m0-15.7h0m0.1 27.3h0m0-22.7h0m0.1 14.9h0m0-5.8h0m0.1 0.6h0m0 3.9h0m0.2 5.8h0m0.1-1.2h0m0.1-20.9h0m0 18.9h0m0-6.6h0m0.2 9.6h0m0-10h0m0.1-14.2h0m0.1 12.3h0m0.1 7.1h0m0.1-18.7h0m0 16.1h0m0.1 17.5h0m0-41.7h0m0.1 1.3h0m0.1 16.2h0m0.1-4h0m0.1 23.6h0m0-19.1h0m0.1-4.9h0m0.1 4.2h0m0-19.1h0m0.1 12.3h0m0 12.3h0m0.1 2.9h0m0-21.4h0m0 39.3h0m0.1-23.1h0m0.1 8.8h0m0-9.7h0m0 12.4h0m0.1-17.6h0m0.1 16.4h0m0-5.6h0m0.2 4.8h0m0.1-4.2h0m0.1 0.5h0m0.1-3.8h0m0.1 1.5h0m0.1 5.4h0m0.1-34.3h0m0 18.5h0m0 2.9h0m0.1-2.2h0m0.2-8.9h0m0.1 10.6h0m0.1 9.5h0m0.1-8.7h0m0-5.4h0m0.1-1.5h0m0 5.4h0m0-1.5h0m0-15h0m0.1 20.3h0m0.1-13.8h0m0 4.1h0m0.1 11h0m0-13.6h0m0 1.6h0m0.1 25.6h0m0-3.6h0m0.1-3.6h0m0.3-2.5h0m0-21.3h0m0.1 18.5h0m0-5.8h0m0.1-13.6h0m0 7h0m0-8.7h0m0.1 33.8h0m0-37.6h0m0 26.7h0m0-1.2h0m0-5.1h0m0.1 9.3h0m0.1-5.1h0m0-7h0m0 0.6h0m0.2 4.2h0m0.2 19.2h0m0.1-17.7h0m0.1 10.8h0m0.1 1h0m0-19.9h0m0 4.2h0m0.1-3.2h0m0.1 14.4h0m0.1-3h0m0.1 2h0m0.1-15.1h0m0 8.1h0m0.1-0.2h0m0 9.5h0m0-5.2h0m0-30.9h0m0.1 37.2h0m0-8.5h0m0.1 14.9h0m0-1.3h0m0.2-19.1h0m0.1-8.4h0m0 19h0m0-14.9h0m0.1 6.6h0m0-11.5h0m0 9h0m0.1 11.8h0m0-7.7h0m0.1-3.2h0m0 9.1h0m0.1 4.8h0m0-6.2h0m0.1 10.6h0m0-27.4h0m0 33.9h0m0.1-42.2h0m0 13.1h0m0.1 9.8h0m0 10.5h0m0-8.9h0m0.1-13.9h0m0.1 11.2h0m0-7.3h0m0.2-6.7h0m0.1 18.6h0m0-9.2h0m0.1 3.8h0m0 6.8h0m0.1-5.6h0m0-3.8h0m0.1 9.8h0m0-19.9h0m0.2 3.3h0m0 22.2h0m0.1-22.9h0m0.1 14.6h0m0.1-10.4h0m0-2.3h0m0 32.2h0m0.1-35.2h0m0-3.3h0m0.1 7.5h0m0.1 7.6h0m0.1 15.9h0m0-13.7h0m0-2.6h0m0.1 18.5h0m0.1-11.1h0m0-3.9h0m0.1-10.8h0m0.1 2.6h0m0 19h0m0.1-15.6h0m0.1-1.3h0m0 4.1h0m0.3 10.1h0m0.1-42.3h0m0 53.1h0m0-13.1h0m0.1-19.3h0m0 14.2h0m0.2-3.9h0m0 1.9h0m0.1 2.7h0m0 3h0m0-1.2h0m0.1 9.9h0m0-5.4h0m0.1-11.7h0m0-3.8h0m0.1 7.5h0m0-4.4h0m0.1-7.9h0m0.1-4.6h0m0 7.4h0m0-6.4h0m0.1 17.2h0m0.1 5.7h0m0-4h0m0-4.4h0m0.1-2.9h0m0 12.4h0m0-18.7h0m0.1 11.4h0m0.1 3.1h0m0.2 2.1h0m0-1.2h0m0-17h0m0.1-1.4h0m0.1-5.4h0m0.1 9.4h0m0.1-6.8h0m0.1 13h0m0.1-4.2h0m0 12.1h0m0-15.2h0m0-7h0m0 12.6h0m0.1 4.7h0m0-39.3h0m0 56h0m0-32.9h0m0.1 11h0m0.1 3.9h0m0-0.7h0m0.1-12.4h0m0.1 10.9h0m0-7.7h0m0 18.5h0m0.1 20.6h0m0-43.3h0m0.1-5.4h0m0 27.6h0m0.2-4h0m0.1 7.1h0m0-9.1h0m0 6.9h0m0.1-18.7h0m0 4.6h0m0 12.3h0m0-9h0m0.1 28.9h0m0-38.6h0m0 16.7h0m0.1 4.5h0m0 6.5h0m0.1-34.9h0m0 8.4h0m0.1 18.1h0m0.1-22h0m0.1 9.8h0m0.1 18.9h0m0.1-33.5h0m0 12.3h0m0-0.9h0m0.2 10.2h0m0.1 11.2h0m0-16.9h0m0 10.9h0m0.1-6h0m0-3.2h0m0.1 10.8h0m0-25.3h0m0 19.7h0m0.1-7.7h0m0.1-4h0m0.1 1.7h0m0 12h0m0.1-5.4h0m0.1 16.1h0m0-30.9h0m0 12.7h0m0.1 23.1h0m0.1 5.1h0m0.1-38.7h0m0 21.1h0m0-10.8h0m0.1 2.8h0m0-13.8h0m0 2h0m0.1 16.1h0m0-0.5h0m0 5.3h0m0.1 4.4h0m0-30.3h0m0 1.8h0m0.1 33.5h0m0-26.3h0m0.2 3.9h0m0.1-11.8h0m0 17.5h0m0.1 10.9h0m0-14.4h0m0-9.1h0m0.1-1.7h0m0 7.4h0m0.1 15.6h0m0 1.1h0m0.1-5h0m0-12.3h0m0 1.1h0m0-6.7h0m0.1 1.8h0m0 13.7h0m0-14.8h0m0 16h0m0.1 1.2h0m0-10.8h0m0.1 2h0m0-10.3h0m0 32.2h0m0-9h0m0.1-10h0m0-4h0m0 5.4h0m0.1 7.5h0m0.1-15.3h0m0.1-10.7h0m0.1 33.4h0m0-8.6h0m0.3-10.7h0m0-14.5h0m0 18.6h0m0.1 7.5h0m0.1-8.3h0m0.1-9.4h0m0 11.3h0m0-18.2h0m0.1 7.8h0m0 5h0m0-15.7h0m0 24h0m0.1-12.1h0m0.1 14h0m0-21.2h0m0.2 18.7h0m0.1 7.2h0m0-17.1h0m0.1 17.9h0m0-13.4h0m0.1-20.5h0m0 28.8h0m0.1-3.9h0m0-18.8h0m0 14.1h0m0-3.7h0m0.1-13.3h0m0 15.8h0m0-18.2h0m0 21.6h0m0.1-4.5h0m0 24.5h0m0.1-33.8h0m0.2 14.5h0m0-10.6h0m0.1 18h0m0-17.6h0m0 37.3h0m0.1-10.6h0m0-46.4h0m0.1 22.2h0m0 11.6h0m0.2 6.3h0m0.1-2.5h0m0.1-5.8h0m0-10.7h0m0-13.9h0m0.1 33.8h0m0-17.9h0m0-6.4h0m0 8.7h0m0 8.3h0m0.1-13.5h0m0 9.2h0m0 5.4h0m0.1-16.9h0m0.1 1.4h0m0 27.8h0m0-33h0m0.1 21.7h0m0.2-24h0m0.1 15.1h0m0-3.9h0m0.1-0.1h0m0.1-5.2h0m0 6h0m0 1.2h0m0.1-17.4h0m0 12.7h0m0 20.9h0m0-4.7h0m0.1-6.5h0m0-1h0m0 4h0m0 2.9h0m0-23.2h0m0.1 0.6h0m0 13.5h0m0.1 15.5h0m0-23.3h0m0 18.4h0m0.1-9.3h0m0-1.9h0m0.1 7h0m0-29.6h0m0.1 28.2h0m0-10.8h0m0.1-5.4h0m0.1-0.9h0m0 2.8h0m0.1-7.7h0m0 16.8h0m0-1.7h0m0 23.9h0m0.1-30.3h0m0-1h0m0 18.6h0m0-21h0m0.1-10.8h0m0 21.8h0m0.1-20.7h0m0.1 14.7h0m0 12.9h0m0-16.7h0m0 5.1h0m0.1 2h0m0 8.6h0m0-3.2h0m0 8h0m0.1-8.7h0m0 11.7h0m0-8.4h0m0-20.7h0m0.3 36.5h0m0.1-36.1h0m0-5.6h0m0.1-4.4h0m0 16.5h0m0 1.4h0m0-5.9h0m0.1 19.9h0m0-15.6h0m0 8.8h0m0-2.8h0m0-1.5h0m0.1 5.1h0m0.1 1.1h0m0-2.8h0m0.1-25.1h0m0.1 40.5h0m0-7.4h0m0.1-2.4h0m0 13.2h0m0-28.3h0m0 19.8h0m0.1-13.3h0m0 35h0m0.1-37.3h0m0.1-5.9h0m0 20.2h0m0.1-23.8h0m0 26h0m0.1-7.4h0m0-13.8h0m0-8.7h0m0 16.5h0m0 2.2h0m0.1 10.5h0m0-10.4h0m0 2.4h0m0 3.7h0m0.1 3.4h0m0-27.7h0m0 9.9h0m0.1 13.3h0m0-14.5h0m0 30.8h0m0.1-34.4h0m0 21.3h0m0-12.3h0m0.1-7.9h0m0 15.5h0m0.2-10.2h0m0.2 8.4h0m0.1 5.7h0m0 6.8h0m0.1-16.3h0m0-9h0m0 23.6h0m0.1-5.6h0m0-12.5h0m0 6.5h0m0.1 3.4h0m0 11.4h0m0-17.6h0m0 4.6h0m0-7.1h0m0.1 13.3h0m0.1-24.2h0m0 12.1h0m0-6.5h0m0.1 36.4h0m0.1-20.5h0m0.1-2.4h0m0.1 16.3h0m0-12.1h0m0.1-9h0m0.1 15.7h0m0-13.3h0m0-9.9h0m0 25.1h0m0-34.7h0" stroke="#000000" stroke-width="2.1" stroke-linecap="round" fill="none"/><path d="M354 418.1h0m2 16.7h0m0.5-10.8h0m0.5 9.1h0m1.8 10.1h0m1.3-17.7h0m0.4-9.7h0m0.4 13.6h0m0.4 13.8h0m1.1 0.1h0m0.8-19.5h0m0.4 10.7h0m0.3-6h0m1.1 2.4h0m1 17.5h0m0.6-26.2h0m0.4 12.5h0m1.2 2.6h0m0.3 1.7h0m0.9-6.3h0m0.6 3h0m0.5-6.1h0m0.6 5.8h0m0.8-5.4h0m1.8 6.7h0m0.2-8.7h0m0.3 7.1h0m0.2-2.7h0m0.3 7.9h0m0.2-8h0m0.5-11.7h0m0.2 20.8h0m0.4-14.9h0m0.5 1.8h0m0.9 14.2h0m1-36.5h0m0.2 49.1h0m0.2-14.6h0m0.6-5.8h0m0.2-2h0m0.2 2.4h0m0.2 1.7h0m1 1h0m1.4-0.5h0m0.2-3.4h0m0.2-2.1h0m0.3 0.4h0m0.7 9.4h0m0.3-3.9h0m0.2-43.2h0m0.2 43.7h0m0.1-3.4h0m1-1.5h0m0.8-2.7h0m0.1 11.3h0m0.2-1.3h0m0.1-12.9h0m0.5 8.9h0m0.3-10.4h0m0.1-3.1h0m0.1 5.7h0m0.2 11.3h0m0.7-2.6h0m0.4 1.6h0m0.3 1.6h0m0.1-15.9h0m0.2 12.1h0m0.4 2.9h0m0.4 3h0m0.1-3.7h0m0.4-2.7h0m0.3 5.6h0m0.3-8.5h0m0.5-6.6h0m0.2 5.6h0m0.2-4.5h0m0.4 4.7h0m0.3-5.1h0m0.2 3.8h0m0.2-12.4h0m0.3 16.6h0m0.1-1.7h0m0.1-6.5h0m0.3 11.7h0m0.6 2.3h0m0.1-20.2h0m0.4 6.7h0m0.8-1.4h0m0.1 14.1h0m0.3-8.2h0m0.1-0.5h0m0.2-14h0m0.1 21.2h0m0.4-15.1h0m0.2 10.4h0m0.1 1.8h0m0.6 8.7h0m0.1-21.5h0m0.1-13.8h0m0.1 25.8h0m0.2 13h0m0.6-4.5h0m0.2-8.3h0m0.1-5.7h0m0.2 10.5h0m0.3-14.4h0m0.1 11.7h0m0.2 3.5h0m0.3 1.2h0m0.1 31.6h0m0.3-44.3h0m0.4 3.9h0m0.3-14.1h0m0.5 8.7h0m0.1 2.3h0m0.9-1h0m0.1 5.5h0m0.1-7.9h0m0.1 15.8h0m0.3-9.2h0m0.2-2.6h0m0.2 3.9h0m0 5.4h0m0.3-13.7h0m0.1 1.6h0m0.1 2.9h0m0.5-8.5h0m0.1 4.3h0m0.1 2.8h0m0.1 11h0m0.1-5h0m0.3-0.6h0m0 5.4h0m0.1-8.1h0m0.1 4.4h0m0.3-4.8h0m0.3 3.7h0m0.1-6.9h0m0-15.2h0m0.2 18h0m0 13.6h0m0.1-4.1h0m0.4 2.5h0m0.2-9.4h0m0 0.9h0m0.1-10.7h0m0.2 6.5h0m0.1 7.6h0m0.3 12.8h0m0-19h0m0.2-2.5h0m0.2 3.7h0m0.2 4.9h0m0.1-16.8h0m0.2-7h0m0.1 14.3h0m0.1-13.5h0m0.1 16.8h0m0.2 13.2h0m0.2-9.5h0m0.1 2.7h0m0.3-14.6h0m0.1 18h0m0.2-9.2h0m0.1 6.1h0m0.1-14.3h0m0.2-4h0m0.2 19.5h0m0.2-3.6h0m0.1-10.6h0m0.2 16.8h0m0-19.2h0m0.3 23.4h0m0.1-4h0m0.3-12.3h0m0.1 7.7h0m0.1-9.5h0m0.1 3.2h0m0.1 1.7h0m0.1-15.3h0m0.1 21.1h0m0.1-10.4h0m0.2-4h0m0.1-13h0m0.1 19.6h0m0.1 21.6h0m0.2-13.5h0m0.1-6.7h0m0.2 0.4h0m0.1 4.3h0m0.1-14.3h0m0 19h0m0.1-3.3h0m0 4.8h0m0.3-7.1h0m0.1-3.5h0m0.3-3.1h0m0.2-1.8h0m0.3 5.6h0m0.2 12h0m0-23.2h0m0.1-1.9h0m0.1 13.6h0m0.3-3.2h0m0.2 14.2h0m0.2-25.8h0m0.2 6.5h0m0.2 6h0m0.1-0.6h0m0.1 15.4h0m0.1-13.7h0m0.2 1.7h0m0-12.5h0m0.1 5.4h0m0 2h0m0.5 13.9h0m0-6.1h0m0.2-14h0m0.1 11.4h0m0 2.1h0m0.4 5.4h0m0.1 3.7h0m0-21.8h0m0.2 1.7h0m0-3.7h0m0.1 8.6h0m0 5.8h0m0.1 4.4h0m0-8.9h0m0.1-2.1h0m0.1 4h0m0.2-13.9h0m0.1 30.2h0m0.1-31.1h0m0.1 15h0m0.1-1.5h0m0.1-1.6h0m0-1.4h0m0.1 14.5h0m0.1-30.1h0m0 31.5h0m0.2-17h0m0.1 9h0m0-1h0m0.1-15.4h0m0.1 14.3h0m0-8.4h0m0 9.1h0m0.1-3.4h0m0.3 15.1h0m0.1-16.9h0m0.1 7.7h0m0.1-14.1h0m0.1 20.6h0m0.1-15.2h0m0.2-7.9h0m0.1 15.6h0m0.1 8.3h0m0-17.2h0m0-3.3h0m0.1 9.4h0m0-2.8h0m0.1 18.2h0m0-19.8h0m0.4-3.4h0m0 11.8h0m0.1-7.8h0m0.1 12.7h0m0.1 0.8h0m0.1-17.1h0m0-10.7h0m0 31.1h0m0.1-21.1h0m0 12.5h0m0-23.4h0m0.1 24.2h0m0.1-17.8h0m0.1 10.4h0m0-8.2h0m0.2 4.6h0m0 9.3h0m0.2-4.9h0m0.1 15.8h0m0-30h0m0.1 27h0m0-12.2h0m0.1-9.2h0m0.1-3.6h0m0 9.6h0m0.1 9.5h0m0.1 5h0m0-25.2h0m0.1 12.2h0m0-10.5h0m0.2 13.7h0m0-6.6h0m0.2-18.6h0m0.1 25.8h0m0.1 2.5h0m0.1 4.3h0m0-19.6h0m0.1 14.9h0m0.1 4.3h0m0.1-25.2h0m0 17.8h0m0.1-7h0m0 3.1h0m0.2-4.6h0m0.1 6.1h0m0.4 5.5h0m0-15.6h0m0.1 13.7h0m0.1-18.6h0m0.1 8.9h0m0.1 15.9h0m0-18.5h0m0.1 4.4h0m0.2 10.6h0m0-8.8h0m0.1 14.3h0m0.1 2.7h0m0-6.5h0m0.1-7.6h0m0.3-7.7h0m0.2 15h0m0-4.5h0m0.1 8.4h0m0.2-6.4h0m0-18.4h0m0.1 4.3h0m0 5.2h0m0 5.5h0m0.1 28.5h0m0.1-4.1h0m0-21.4h0m0-6.8h0m0.1 6.2h0m0 3h0m0-10.3h0m0.1 18h0m0-13.3h0m0.2 1.6h0m0.1-8.9h0m0 0.5h0m0.1-12.2h0m0.1 23.6h0m0.1 7.7h0m0-14.4h0m0.1-9.3h0m0.1 6.1h0m0 9.2h0m0.1 1.3h0m0-9.7h0m0.1 1.9h0m0-12.4h0m0.1 17.9h0m0.2-4.5h0m0-6.1h0m0.1 9.3h0m0.1-8.2h0m0-13.9h0m0.2 27.9h0m0-16.9h0m0.1 23.8h0m0.1-10.5h0m0.1-17.6h0m0 22.1h0m0.1-8.1h0m0-5.4h0m0 4.4h0m0.1-28.7h0m0.1 33.7h0m0-15.1h0m0.1-4.3h0m0.1 7.7h0m0.1 29.1h0m0-28.3h0m0.1-21.8h0m0.1 16.8h0m0 20.2h0m0-11.9h0m0.2 5.6h0m0.1 5.3h0m0 12.8h0m0.1-25.5h0m0.1-8.3h0m0.1 13.6h0m0-10.5h0m0.1 11.2h0m0-3.3h0m0.1-6.1h0m0 4.5h0m0.1-6h0m0.1 21.8h0m0 2.2h0m0-31.9h0m0.1 3h0m0.1 7.3h0m0 4.8h0m0-21.7h0m0.1 13.8h0m0.1 10.4h0m0.1-1.1h0m0-6.9h0m0 7.8h0m0.1-6.3h0m0 2.4h0m0.1 16.8h0m0.2-2.9h0m0-22.8h0m0 18.4h0m0.2-17.1h0m0.1 23.2h0m0.1-30.7h0m0.1 9.5h0m0 16.7h0m0.1-6.4h0m0 2.4h0m0-1.8h0m0.1-14.4h0m0.1 21.5h0m0.1-12.1h0m0 1.6h0m0.1-12.8h0m0.2 12.7h0m0.1-2.4h0m0.1-5.9h0m0.1 15.9h0m0.1-10.9h0m0-10.1h0m0 29h0m0.1-3.2h0m0-23.1h0m0.1 17.2h0m0.1-10.4h0m0 6.7h0m0.1-4.4h0m0.1-4.7h0m0-1.2h0m0.2 7.4h0m0.1 13.5h0m0-18h0m0.2 9.4h0m0.1-3.7h0m0.1 5.8h0m0-2.3h0m0-14.9h0m0.1 24.3h0m0-5.9h0m0-14.3h0m0.1 12.6h0m0-7.8h0m0.1 11.2h0m0 11.2h0m0.4-32.6h0m0 14.7h0m0.2 10h0m0.2-17.9h0m0 32.1h0m0.1-9.6h0m0.1-24h0m0 20.2h0m0.1-16.9h0m0 3h0m0.1 0.6h0m0.1-16.9h0m0 12.4h0m0.1 16.9h0m0-23.5h0m0 18h0m0.1-9.5h0m0.1 5.4h0m0 2h0m0.1 3.4h0m0.1-17.9h0m0 2.3h0m0 32.9h0m0.1-14.9h0m0-22.6h0m0.1 16h0m0.2-6.5h0m0 1.2h0m0.1 3.9h0m0-2.1h0m0-20.1h0m0.1 11.9h0m0 9h0m0.1 1.7h0m0-6h0m0 17.2h0m0.1-9.2h0m0 12.7h0m0-35.7h0m0.1 9.7h0m0.1 4.4h0m0.1 12.2h0m0.1-19.4h0m0 11.3h0m0-6.7h0m0-13.5h0m0.1 17.8h0m0-0.8h0m0.1 23.9h0m0-17.4h0m0-15.8h0m0.1 7.1h0m0 13.9h0m0.1 9.3h0m0-32.1h0m0.1-2.6h0m0.1 32.8h0m0-24h0m0.1 12.3h0m0-27.7h0m0.1 25.9h0m0.1-11.7h0m0.1 11h0m0-10h0m0 4.2h0m0.1-5.1h0m0 14.4h0m0.1 1.8h0m0-9.5h0m0 2.3h0m0.1-13h0m0 10.1h0m0.1 2.2h0m0 23.3h0m0.1-32.6h0m0 22.5h0m0.1-4.1h0m0 6.7h0m0.1-12.2h0m0.1 7.5h0m0-16.2h0m0.1-6.1h0m0.1 22.4h0m0.1-3.4h0m0-27.1h0m0 14.4h0m0.1 7.1h0m0 8.7h0m0.1-14.8h0m0-12.2h0m0 21.9h0m0.1-15.9h0m0.1 8.8h0m0 9.5h0m0.1 3.3h0m0.1-21.1h0m0.1 9.9h0m0 5.3h0m0.1-11.7h0m0 10.5h0m0.1 8.7h0m0.2-5.8h0m0 5.4h0m0.1-8.8h0m0-11.1h0m0.1 13.7h0m0.2-10.4h0m0 6.8h0m0-0.8h0m0.1 13.2h0m0-5.6h0m0-1.1h0m0-17.4h0m0.1 25h0m0-17.8h0m0.1-3.8h0m0.1 2.5h0m0.1-9.2h0m0 12.5h0m0.1-8.1h0m0 21.4h0m0-8.9h0m0.1-14.9h0m0 17.9h0m0-17.1h0m0 17.4h0m0.1-6.3h0m0 3.4h0m0-15.3h0m0.1 2.5h0m0.1 12h0m0-25.8h0m0 29.2h0m0.2-2h0m0-11.7h0m0.1 8.5h0m0-7.1h0m0.1-12.5h0m0 3.5h0m0.1 14.6h0m0-5h0m0.1 1.5h0m0.2 9.3h0m0-1.2h0m0.1-14.4h0m0 6.8h0m0 1.8h0m0 3.3h0m0.1 9.7h0m0-3.1h0m0-21.1h0m0 17h0m0.1 15.7h0m0-17.7h0m0.1 14.3h0m0.1-1.5h0m0.1-15h0m0-1h0m0.1-3.4h0m0 28h0m0-32.1h0m0.1 20.8h0m0.1-25.9h0m0-6.2h0m0.1 26.4h0m0-13.1h0m0 36.3h0m0.1-40.4h0m0.1 32.9h0m0-6.2h0m0.1-17.3h0m0 8.9h0m0 2.9h0m0-18.4h0m0.1 2.2h0m0 15.2h0m0.1 4h0m0-9.9h0m0-12.8h0m0 39.4h0m0.1-36.3h0m0 1.7h0m0 6h0m0 10.8h0m0.1-6.2h0m0-3.9h0m0.1-26.1h0m0 24.5h0m0.1-12.3h0m0 16.4h0m0-8h0m0.1 17.3h0m0.2-22.2h0m0-11.3h0m0 23.5h0m0-12.6h0m0.1 15h0m0-13.5h0m0 7.8h0m0 5.1h0m0-7.6h0m0.1 4.3h0m0-8.6h0m0 2.8h0m0-1.5h0m0.1-10.4h0m0.1 9.3h0m0.2-6.3h0m0 1.4h0m0 1.5h0m0.1-3.7h0m0.1 13.1h0m0 7.9h0m0.2-4.5h0m0-20.9h0m0.1 39.7h0m0-20.7h0m0-12.1h0m0.1 8.1h0m0-14.9h0m0.1 8.4h0m0 15.5h0m0.1-13h0m0.1-0.8h0m0 21.1h0m0-18.3h0m0 19.1h0m0-9h0m0.1-3.8h0m0.1-20.6h0m0.1 30.6h0m0-26h0m0.2 23.6h0m0.1-14.3h0m0-11.9h0m0.1 6.9h0m0 6.1h0m0.1 19h0m0-2.4h0m0.1 5.2h0m0-21.1h0m0 6.1h0m0-18.2h0m0 26.6h0m0.1-23.5h0m0 12.3h0m0-11.7h0m0 4.6h0m0.1-2.2h0m0 2h0m0.1 12.8h0m0.1 3.4h0m0.2-6.5h0m0 1.8h0m0.2-14h0m0-10.7h0m0.1 18.3h0m0-7.8h0m0.1 2.1h0m0 10.7h0m0-6.4h0m0-18.3h0m0 1.1h0m0.1 23h0m0-28.6h0m0.1 20h0m0 16.8h0m0-15.8h0m0 6.9h0m0-2.2h0m0.1 5.6h0m0 28.2h0m0.1-19.7h0m0-17.9h0m0 2.2h0m0.1-8.8h0m0.1-4.4h0m0 20.3h0m0-16.8h0m0.1 21.3h0m0-17.8h0m0.1 23h0m0.1-15.6h0m0.1-2.6h0m0 1.2h0m0 1.4h0m0.1 1.4h0m0.1 11.8h0m0 1.8h0m0-8.1h0m0-11.8h0m0-3.9h0m0.1 16.5h0m0 4.6h0m0.1-18.6h0m0 3.4h0m0-12.6h0m0.2 20.4h0m0-2.9h0m0-13.1h0m0.1-16.5h0m0.1 37.5h0m0-6.6h0m0.2 10.8h0m0.1-22.4h0m0 2.7h0m0-4.7h0m0 20.3h0m0-13.2h0m0 5.5h0m0.1-8.3h0m0-11.2h0m0.1-0.8h0m0 16.5h0m0-21.4h0m0 39.8h0m0.1-9.6h0m0-7.3h0m0 10.4h0m0-18.9h0m0 12.5h0m0.1-3.1h0m0.1 4.8h0m0.1-21.4h0m0 13.7h0m0-9h0m0.1 31.7h0m0-8h0m0.1-24.7h0m0.2 7.4h0m0.1-17.9h0m0 25.9h0m0-18.2h0m0.1 23.6h0m0-14h0m0 3.4h0m0.1 12.8h0m0-23.5h0m0-1h0m0.2-12.8h0m0 21.3h0m0 9h0m0 5.8h0m0-27.5h0m0.1 18.5h0m0-1.4h0m0-22.7h0m0 16.4h0m0.1-2.9h0m0.1 7h0m0.1 8.3h0m0-24.9h0m0.2 12.1h0m0 3.7h0m0 18.2h0m0-23.3h0m0.1-11.7h0m0 22.3h0m0.1-5.9h0m0 2.2h0m0-3.9h0m0-8.9h0m0.1 18.8h0m0 10.6h0m0-15.6h0m0 3.5h0m0 7.5h0m0-22.6h0m0.1 26.7h0m0-21.9h0m0.1 13.6h0m0 2h0m0.1-6.9h0m0-0.8h0m0-19h0m0 7.7h0m0.1-6.3h0m0.1 23.1h0m0-14.6h0m0 19.3h0m0.1-2.1h0" stroke="#0000ff" stroke-width="2.1" stroke-linecap="round" fill="none"/><path d="M351.2 420.3h0m1.2 6.7h0m0.5 1.2h0m0.6-4.4h0m2 0.2h0m1 13.2h0m0.9-16h0m0.5 1.9h0m0.9 15.1h0m0.8-5.2h0m0.5-3.8h0m1.6-7.7h0m1.5 14.5h0m0.7-3.8h0m0.4 4.8h0m0.3-6.9h0m2.7 10.7h0m0.3-8.5h0m0.6-3.1h0m1.2-4.8h0m0.6 3.9h0m0.3-3h0m0.8-2.1h0m0.5-5.3h0m0.6 14.2h0m1.2-1.1h0m0.3-8.1h0m0.5 11.8h0m0.5-8.7h0m0.2 4.5h0m0.2 11.2h0m0.3-16.8h0m0.2 4h0m0.4 6.4h0m0.9-11.1h0m0.5 8.4h0m0.4 3.5h0m0.8-3.1h0m0.2-9.1h0m0.4 4.5h0m0.4 5h0m1.2 0.8h0m0.2-4.6h0m0.5 2.8h0m0.4-7.3h0m0.2 5.2h0m0.2 3.9h0m0.1-1.8h0m0.9-12h0m0.3 16h0m0.7 3.5h0m0.3-14.2h0m0.4-3.2h0m0.1 7.8h0m0.3-6h0m0.4 3.4h0m0.1 9.6h0m0.2-14.3h0m0.4 7.6h0m0.2 2.1h0m0.1-11.4h0m0.5-4.9h0m0.1-2.4h0m0.3 16.7h0m0.1 2.5h0m0.3-6.5h0m0.2 9.2h0m0.1-6.3h0m0.2 13.1h0m0.1-16.7h0m0.1 6.2h0m0.2 6.7h0m0.3-8.5h0m0.2-4.2h0m0.3 13.3h0m0.3-14.2h0m0.1-1h0m0.5 13h0m0.1-7.4h0m0.3-18.5h0m0.1 16.6h0m0.3 4.2h0m0.1 7.6h0m0.2-6h0m0.4-3.3h0m0.1-3.7h0m0.4-3.1h0m0.1 14.9h0m0.1-13.8h0m0.3 6.7h0m0.1-7.2h0m0.2 9.1h0m0.3-6.3h0m0.1 5.4h0m0.2-1.3h0m0.1-15h0m0.3 13.5h0m0.2 4.3h0m0.2-6h0m0.1 12.8h0m0.3-21.8h0m0.1 6.8h0m0.6 2.7h0m0.1-6.1h0m0.2 1.9h0m0.2 12.8h0m0.2-16.7h0m0.1 18.4h0m0.1-7.4h0m0.1-5.9h0m0.1 3.3h0m0.1 7.2h0m0.1-4h0m0.1-3.3h0m0.1 2.1h0m0.1 15.7h0m0.1-23.4h0m0.1-1.9h0m0.2 12.3h0m0.2-1.1h0m0.1 1.7h0m0.1-5.7h0m0.2-3.7h0m0.1 3h0m0.1 1.9h0m0.1-14.6h0m0.1 26.8h0m0.3 0.4h0m0.1-21.2h0m0.2 14.9h0m0.1-12.8h0m0.1 8.6h0m0.1 1.2h0m0.1-7.8h0m0.2 10.2h0m0.1-7.2h0m0.1-7.6h0m0.1 12.6h0m0.1-9.2h0m0.1 6.7h0m0.6 5.9h0m0.1-8.8h0m0.1 3.2h0m0.1-11.1h0m0.1 20.4h0m0.1-12.6h0m0.1 1.7h0m0.2 7.6h0m0-8.4h0m0.1-2.1h0m0.2 8.8h0m0.2-10.7h0m0.2 3.6h0m0.2-1.2h0m0.2-4.8h0m0.1 2.7h0m0.2 8.2h0m0.2-12.2h0m0.1 8.5h0m0-5.4h0m0.1 8.8h0m0.1-9.6h0m0.1 7.6h0m0.2 4.9h0m0.1-14.4h0m0.2 4.4h0m0.1 12.3h0m0.1-10.8h0m0 13.1h0m0.1-3.6h0m0.2-6.6h0m0.1-14.7h0m0.1 5.7h0m0.1 12h0m0.1-16.8h0m0.1 14.3h0m0.1 6.3h0m0.1 1.8h0m0.1-4.7h0m0-11.8h0m0.1 3.6h0m0.1-5.5h0m0.2 9.7h0m0.1-6.8h0m0 9.9h0m0.2 1.6h0m0.1-0.5h0m0.2-16.8h0m0.3 19.9h0m0.1-6h0m0-4.6h0m0.1-2.7h0m0.1-3.1h0m0 6.4h0m0.3 7.5h0m0.2-4.1h0m0 10.3h0m0.1-12.8h0m0.1-3.3h0m0 10.5h0m0.2-5.2h0m0-7.5h0m0.2 14.2h0m0.1-0.1h0m0-8.3h0m0.2 2.3h0m0.2-3.7h0m0-7.7h0m0.1 2.9h0m0.1 6.7h0m0-2.8h0m0.1 9.8h0m0-16.5h0m0.1 13.3h0m0.1-1h0m0-8.3h0m0.1 7.3h0m0.1 2.8h0m0.4 5.5h0m0.1-13.8h0m0 5.9h0m0.1-11.9h0m0-5.6h0m0.1 19.7h0m0.1-22.1h0m0 12.8h0m0.1 3.8h0m0.1-10h0m0.1 7.4h0m0.1 3.7h0m0.1-5.9h0m0.2 14.2h0m0.2-0.5h0m0.1-4.8h0m0.1 2.3h0m0-5.2h0m0.1-1.2h0m0.1-6.6h0m0.1 8.4h0m0-7.4h0m0.1 0.3h0m0-13.7h0m0.2 11.2h0m0 17.4h0m0.1-10.9h0m0-9.5h0m0.1 6.5h0m0.2 15.7h0m0-4.5h0m0.1-13.3h0m0.2 5.9h0m0-4.9h0m0.1 5.8h0m0.1-3.4h0m0.1 4.4h0m0 2h0m0.1 3.2h0m0.1 10.2h0m0-8.1h0m0.1-7.2h0m0.1-8.7h0m0 7.9h0m0.1-1.5h0m0.1 4.3h0m0-9.6h0m0.2 2.5h0m0.1-4.1h0m0.2 5.5h0m0.1 8.2h0m0 5.9h0m0.1-6.3h0m0 3.2h0m0.2 0.4h0m0-28.2h0m0.1 19.4h0m0.1-6.9h0m0.1 17.1h0m0.1-11.1h0m0.1 6.3h0m0.1-3h0m0.1-13.6h0m0.1-1.6h0m0.1 16.3h0m0.1-6.8h0m0.1-7.5h0m0.1-5.9h0m0 18.8h0m0.1 1.6h0m0-3.7h0m0.1 1.2h0m0-6.4h0m0.1-5h0m0 20.3h0m0.1-17.5h0m0 3h0m0.1 12h0m0.1 5.1h0m0.1-13.8h0m0.1 12.1h0m0.1-5.6h0m0.1 8.6h0m0-17.9h0m0.1 2.2h0m0.1 1.9h0m0-5.8h0m0.1 9.2h0m0 4.8h0m0 3.4h0m0.1-20.7h0m0.1 3h0m0.1 10.7h0m0.3-12.6h0m0 9.2h0m0.1-2.6h0m0.1 18.2h0m0-20.2h0m0.1 10.4h0m0-9.6h0m0.1 5.6h0m0-12.4h0m0.1 11.3h0m0-10.6h0m0.1 9h0m0.1-6.6h0m0.1 7.5h0m0.1-7.1h0m0 10h0m0.1-7.9h0m0.1-9.9h0m0.1 15.8h0m0.1-2.5h0m0 4.3h0m0.1 2.6h0m0-18h0m0.1 12.8h0m0 3.8h0m0.1-12.2h0m0-3.1h0m0.1 7.4h0m0 7.6h0m0.2-6.7h0m0-2.6h0m0.1-2.9h0m0.1 14.7h0m0-8.3h0m0-8.2h0m0.2 7.3h0m0.1-0.8h0m0 2.7h0m0.1 1.6h0m0.1-3h0m0.1 16.2h0m0.1-23.9h0m0-1.3h0m0.1 15.1h0m0.2 6.5h0m0 9.8h0m0.2-18.3h0m0.1-12.5h0m0 9h0m0.1 7h0m0-14.5h0m0 2.1h0m0.1-6.7h0m0 9.9h0m0.1 0.8h0m0-5.3h0m0 8.2h0m0.1 1.4h0m0.1 1.5h0m0.1 1.7h0m0.1-5.3h0m0.1-15.3h0m0.1 26.2h0m0.2-6.7h0m0-1.6h0m0.1 1.1h0m0 1.1h0m0-7.8h0m0.1 14.9h0m0-29.1h0m0.1 16.4h0m0 2.5h0m0 4.3h0m0.1 2.9h0m0-2.7h0m0-8.7h0m0.2 10.8h0m0 2.7h0m0.1-23.8h0m0.1-1.1h0m0.2 5.9h0m0 4h0m0.1-0.9h0m0.1-7.1h0m0 13.9h0m0-3.2h0m0.1-7.9h0m0 16.2h0m0-11.7h0m0.1 9.9h0m0.1-4.3h0m0-3.2h0m0.1 6.5h0m0-7.3h0m0.2 11.5h0m0 1.7h0m0.1-2h0m0.1-4.2h0m0-12.1h0m0.2 5.6h0m0-2.1h0m0.1 7.1h0m0.1-8.2h0m0 2.6h0m0-4h0m0.1 10.8h0m0-4.2h0m0.1 6.7h0m0.1-1.8h0m0.1-26.2h0m0 9.2h0m0.1 21.5h0m0.1-20.6h0m0-3.1h0m0.1 8.6h0m0.1 5.9h0m0.1 1.9h0m0 1.5h0m0.1-6.1h0m0-7.7h0m0-3.9h0m0.1 12.8h0m0-6.3h0m0 12.3h0m0.1 3.1h0m0-1.6h0m0.1-13.1h0m0.1 16.6h0m0.2-6.5h0m0.1-7.4h0m0-8.3h0m0 13.2h0m0.1 11.8h0m0.1-12.5h0m0.1 4.7h0m0-2.6h0m0.1-8h0m0 9.8h0m0-6.3h0m0.1-8.6h0m0 19.9h0m0.1-3.1h0m0-13.4h0m0 2.7h0m0.1 12h0m0-21h0m0 7h0m0.1 17.8h0m0.1-12.5h0m0.1-1.9h0m0.3 3.3h0m0.1-9.6h0m0.1-1.9h0m0 16.9h0m0 7.1h0m0-14.1h0m0.1 5.2h0m0 13.6h0m0-8.6h0m0.1 1.4h0m0 3.5h0m0.1-12.6h0m0.1 0.9h0m0.1-9h0m0-12.3h0m0 35.1h0m0.1 3.5h0m0-23.2h0m0 11.4h0m0.1 4.9h0m0.1-15.1h0m0.1 7.5h0m0 2.1h0m0.1-16.3h0m0 17.9h0m0.1 9.7h0m0-20.1h0m0 9h0m0-1.5h0m0.1-3.3h0m0 1.6h0m0.1-13h0m0 9.6h0m0.1-3.5h0m0 6.2h0m0.1-4.3h0m0-8.8h0m0.1-1.1h0m0 20.5h0m0.1-1.5h0m0.1-12.6h0m0 4.9h0m0.1 10.6h0m0.2 1.4h0m0-12.2h0m0 4.3h0m0.1-6.1h0m0 12.4h0m0-5.7h0m0-4.3h0m0.1 5.6h0m0-21.8h0m0 10.4h0m0.1 12.5h0m0 6.1h0m0.1-17.2h0m0 5.6h0m0-8.5h0m0.3 16.8h0m0-11h0m0.1-12.9h0m0.1 3.1h0m0 2.5h0m0.1 4.1h0m0.1-0.8h0m0 5.3h0m0.1-6.6h0m0 8.8h0m0-13.3h0m0.1 14.8h0m0 1.5h0m0-5.9h0m0.1-7.6h0m0.1-8.1h0m0 18.7h0m0.1-31.3h0m0 26.3h0m0.1 1.1h0m0.1-9h0m0 23.9h0m0-2.2h0m0.2-24.9h0m0.1 43.6h0m0.1-23.9h0m0-6.8h0m0 2.1h0m0.1-2.4h0m0 19.3h0m0-15.7h0m0-4.9h0m0.1 16.4h0m0-18.3h0m0 8.9h0m0.1 5.1h0m0-1.6h0m0.1-13.7h0m0.1 2h0m0 9.5h0m0.1-1.9h0m0.1 6.2h0m0.1-18.6h0m0.1 1.7h0m0.1 7.7h0m0.1 23.5h0m0-41.2h0m0.1 12.2h0m0 8.5h0m0-6.7h0m0.1 7.8h0m0-4.2h0m0 6.1h0m0.1 5.2h0m0 1.8h0m0-5.1h0m0.1 1.3h0m0-10.2h0m0-3.2h0m0.1-7.5h0m0.1 9.5h0m0-6.3h0m0 9.7h0m0.1 3.8h0m0-3.5h0m0.1-10.9h0m0.1 2h0m0-14.3h0m0.1 11.4h0m0.1 10.1h0m0 7h0m0.1-4.5h0m0-4.5h0m0-3.7h0m0 1.6h0m0.1 7.3h0m0-4.5h0m0 10.1h0m0.1-3h0m0-1.3h0m0.1-13.5h0m0-3.8h0m0.1 25.9h0m0.1-5.3h0m0-14.1h0m0-2h0m0.1 4.5h0m0.1-8.6h0m0.2 13.5h0m0.1 3.6h0m0 0.2h0m0-5h0m0.1-2.1h0m0 11.3h0m0-20h0m0 21.9h0m0.1-19.4h0m0 22.2h0m0-12.7h0m0.1-2.5h0m0 11.3h0m0-13.9h0m0.1 5.6h0m0-4.8h0m0 6.8h0m0.1 2.6h0m0.1-15.3h0m0 20.7h0m0.1-28h0m0.1 24h0m0-18.1h0m0.1 4.3h0m0.2-7.6h0m0 9.4h0m0.1 11h0m0 5.2h0m0-12.5h0m0-10.4h0m0.1 9h0m0-1h0m0 3.7h0m0 6.6h0m0.1-5.4h0m0-21.9h0m0 24.1h0m0.1 1.2h0m0-2.3h0m0.1 6.2h0m0-17.2h0m0.1-1.5h0m0.1 0.5h0m0.1 24.8h0m0.1-27.5h0m0.1 6.5h0m0.1-1.4h0m0 5.2h0m0-3.6h0m0.1 16.7h0m0-14.4h0m0 2.4h0m0.1-9h0m0 20h0m0-6.5h0m0-16.1h0m0.1-2.6h0m0 7.8h0m0 13.2h0m0-12.6h0m0.1 13.5h0m0-5.2h0m0.1-10.3h0m0 9h0m0-4.5h0m0 12h0m0.1-4.6h0m0-32.2h0m0 9h0m0.3 40.7h0m0.1-15.9h0m0.1 11.9h0m0-12h0m0-12.1h0m0.1 7.7h0m0-6.8h0m0 1.5h0m0 7.5h0m0.1-5.2h0m0.1 6.6h0m0-2.7h0m0.1-13.8h0m0 11h0m0 9.6h0m0.1-9h0m0.1-2.7h0m0 9.3h0m0.1-19h0m0 1.3h0m0.2-8.2h0m0.2 20.8h0m0 9h0m0-3.4h0m0.1 1.6h0m0-12.4h0m0-1.6h0m0 4.2h0m0.1 15.4h0m0-16.5h0m0-0.8h0m0 8.5h0m0.1-5h0m0.1 2.1h0m0-19.6h0m0.1 21.2h0m0-13.9h0m0-3.1h0m0.1 17.6h0m0.1-10.9h0m0-17.2h0m0 46.6h0m0.2-31.6h0m0-1.9h0m0.1 21.1h0m0.1-18h0m0 10.3h0m0 4.2h0m0-9.2h0m0.1-22.3h0m0 33.6h0m0-18.1h0m0-2.7h0m0.1 15.7h0m0-4.5h0m0-6.2h0m0 5.9h0m0-3.2h0m0.1-1.3h0m0 19h0m0-8.3h0m0-13.4h0m0.1 28.9h0m0-5.6h0m0-13.3h0m0 5.4h0m0.1-11.2h0m0 32.8h0m0.1-28.4h0m0.1-11h0m0-6.9h0m0.2 37.3h0m0.2-28.4h0m0 12.9h0m0-8.6h0m0.1-4.2h0m0 6.1h0m0 21.5h0m0-5.5h0m0.1-12.9h0m0-7.4h0m0 10.2h0m0 1.6h0m0.1-5.8h0m0 7.2h0m0-25.6h0m0 27.8h0m0.1-1.1h0m0-13h0m0.2 15.7h0m0.1-13.3h0m0 1.5h0m0.1 3.7h0m0.1-11.9h0m0-3.5h0m0.1 30.7h0m0-28.5h0m0.1-0.8h0m0 12.5h0m0 8.3h0m0.1-5.3h0m0-7.5h0m0 5.5h0m0-12.7h0m0.1-4h0m0 6.9h0m0 3.7h0m0-1.6h0m0.1-11.2h0m0 17.4h0m0.1-7.3h0m0 19h0m0.1-5.5h0m0-3h0m0 3.9h0m0 3.8h0m0.1 2.3h0m0.1 0.7h0m0-23.2h0m0.1 7.8h0m0.1 6.3h0m0.2-21.2h0m0 6.3h0m0 8.4h0m0 0.9h0m0.1 10.1h0m0-13.6h0m0-1.3h0m0 8.6h0m0.1-5.4h0m0-7.4h0m0.1 2.2h0m0 16.2h0m0-19.7h0m0.1 7.6h0m0 20h0m0-32.4h0m0.1 3.9h0m0 4.6h0m0 11.5h0m0.1 0.6h0m0.3 6.7h0m0-26.3h0m0 16h0m0.2 5.5h0m0-11.4h0m0-10.8h0m0 16.5h0m0.1-2.8h0m0-16.9h0m0 20h0m0.1 4.6h0m0 2.3h0m0-4.9h0m0-3.9h0m0 10.7h0m0.1-16.8h0m0-6.1h0m0 6.9h0m0 11.3h0m0 6h0m0.1-7.9h0m0-6.4h0m0.2 22.7h0m0.1-27.8h0m0.1-5.7h0m0-0.4h0m0.1 27.1h0m0-22.4h0m0.1-0.5h0m0 17.6h0m0.1 2.2h0m0-24.4h0m0 11.5h0m0 6.3h0m0.1-13.7h0m0 6.4h0m0-4.2h0m0 6.5h0m0-7.5h0m0.1 9.2h0m0 6.5h0m0.1-17.3h0m0 4.7h0m0 7.5h0m0.1-23.4h0m0.1 23h0m0 3.6h0m0 7.9h0m0-17.2h0m0-2.6h0m0.1 17.3h0m0-27.3h0m0.2-1.2h0m0 26.3h0m0.1 0.8h0m0-21.5h0m0.1-2.7h0m0.1 16.1h0m0 11.6h0m0-15.2h0m0.1-0.6h0m0 12.8h0m0-28.6h0m0 13.5h0m0 6.2h0m0 5.2h0m0.1-10.4h0m0 11h0m0-3.2h0m0.1-3.7h0m0 2.9h0m0-19.4h0m0.1 1.8h0m0 4.4h0m0 15.2h0m0.1-16.6h0m0 3.2h0m0 2.8h0m0-8.1h0m0.1 1.6h0m0.1-3.8h0m0.1 24.1h0m0.1-17.9h0m0.1 32.4h0m0.1-29.8h0m0 17.2h0m0-4.3h0m0-3.6h0m0 0.9h0m0.1-11.7h0m0 7.3h0m0-2.1h0m0 3.7h0m0-3.1h0m0-3.2h0m0.1 18.8h0m0.1-21.6h0m0 8.8h0m0 4.9h0m0-1.3h0m0.1 4.7h0m0.1-19.1h0m0-1.3h0m0.1 5.4h0m0 1.3h0m0.1-7.9h0m0.1 26.6h0m0.3-13.3h0m0 5.4h0m0 6.2h0m0.1-24.6h0m0 8.2h0m0-1.3h0m0 18.6h0m0-19.6h0m0.1 9h0m0-3.4h0m0 4.1h0m0-6.6h0m0-5.5h0m0.1 18.3h0m0-11.8h0m0 3.6h0m0 3.4h0m0.1-14.5h0m0 21.3h0m0.1-19.4h0m0 14.6h0m0 3.5h0m0.1-2.1h0m0.1-28.7h0m0.2 34.8h0m0.2 4.6h0m0-24h0m0 3.3h0m0 5h0m0-12.1h0m0.1 10.9h0m0-3h0m0 9.9h0m0-14.7h0m0 12.9h0m0-19.1h0m0.1 9.4h0m0 5h0m0-9.3h0m0 2.7h0m0.1 22.9h0m0.1-18.8h0m0.1 5.2h0m0 0.6h0m0-19.1h0m0.1 23.2h0m0 6.7h0m0-37.7h0m0 29.4h0m0.1 4.5h0m0-1.4h0m0.1-20.7h0m0.2-6.9h0m0.1 26h0m0-8.5h0m0 5h0m0 6.8h0m0.1-20h0m0 6h0m0 5.8h0m0 3.5h0m0 13.3h0m0-24.4h0m0.1 9.5h0m0-2.9h0m0-14.2h0m0 6.2h0m0 1.9h0m0.1 4.7h0m0 13.1h0m0.1-20.1h0m0.1-3.8h0m0.1 19.1h0m0-20.3h0m0.1 3.5h0m0 6.8h0m0.1 12.5h0m0.2-26.8h0m0.1-2.1h0m0 22.7h0m0-27.6h0m0 15.3h0m0 1.3h0m0.1 13.5h0m0-7.5h0m0-8.1h0m0-1h0m0 11.1h0m0-7.3h0m0 13h0m0.1-18.5h0m0 13.2h0m0 7.1h0m0 3h0m0-16.5h0m0.1 1.5h0m0 0.9h0m0.1-12.9h0m0-3.1h0m0.2 24.1h0m0.2-7.4h0m0.1 4.6h0m0.1 6.9h0m0.1-23.6h0m0-2.1h0m0 15.8h0m0 1.7h0m0-8.7h0m0.1 16.8h0m0-5.6h0m0-1.5h0m0-5.6h0m0-11.1h0m0 24.5h0m0.1-5.4h0m0-10.1h0m0-12.9h0m0 9.6h0m0.1 4.5h0m0 4.6h0m0-2.4h0m0.1-10.6h0m0.1 6.6h0m0-7.2h0m0.1 20.3h0m0-0.7h0m0.1-23.4h0m0-3h0m0.1 39h0m0.1-28.1h0m0.1 17.4h0m0.1-0.4h0m0-8.6h0m0 10.2h0m0-5.3h0m0.1-13.2h0m0 3h0m0-7.6h0m0 13.9h0m0 13.1h0m0.1-11.2h0m0-20.2h0m0 24h0m0-13.6h0m0.1-6.9h0m0-1.1h0m0-5.9h0m0 16.2h0m0 10.6h0m0-2.8h0m0.1 4.2h0m0-19.9h0m0 3.2h0m0.1-1.6h0m0.1 7.7h0m0 14.3h0m0-12.5h0m0-6.4h0m0.1 5.5h0m0.4 26h0m0-42.5h0" stroke="#ff0000" stroke-width="2.1" stroke-linecap="round" fill="none"/><path d="M503.4 397.7h0m6.2 1.7h0m9.2 3.7h0m6.8-2.5h0m9.9 11.5h0m2-2.1h0m3.5-6h0m3.2 7.8h0m1.4 1.5h0m1.4 2.8h0m2.5 9.6h0m9.1 1.3h0m0.8 0.7h0m5.2 5.5h0m1.3-9.2h0m1.3 3.2h0m1.8-7h0m0.5 10.7h0m1.7-1.1h0m1 16.4h0m0.5-5.1h0m0.5-15.3h0m1.4 6.2h0m0.5-7.4h0m0.9 4.4h0m1.2-16.7h0m0.9 23h0m0.4-1h0m0.4-4.2h0m0.4 0.2h0m0.3 9.9h0m2.6-5.4h0m0.3 1.1h0m2.3-5.2h0m0.3 1.1h0m0.6 2h0m0.3-1.6h0m0.3 10.1h0m0.9-12.9h0m0.8 1.8h0m1.4 6.9h0m1-16.3h0m1 12.4h0m0.3 1.4h0m0.2-4.6h0m0.2 9.2h0m1-6h0m0.6-4.2h0m0.5 0h0m0.4 5.7h0m0.4-9.9h0m1.1 9.5h0m0.2-0.8h0m1.5 0h0m0.8-10.2h0m0.2 7.7h0m0.2-1.2h0m1.6 11.6h0m0.3-12.4h0m0.2 2.5h0m0.5 1.6h0m2.3-1.8h0m0.3-4.3h0m0.2-4.8h0m0.6 2.1h0m1.5 7.4h0m0.3-14.8h0m0.4-3.8h0m0.3 7.8h0m1 6.5h0m0.9 2.9h0m0.2-0.4h0m0.7 6.6h0m0.1-17.3h0m0.2-16.8h0m0.1 18.1h0m0.1 13.1h0m0.5-14h0m0.4 14.5h0m0.2-4h0m0.3-12.6h0m1.1 6.8h0m0.3-1.7h0m0.3-3h0m0.1 4.8h0m0.4-6.7h0m0.5 12.7h0m0.2-14.1h0m0.2 1.4h0m0.1-4.6h0m0.1 15.2h0m0.2 5.6h0m0-9.3h0m0.3 5h0m0.4 1.4h0m0.2-8.9h0m0.1-2h0m0.1-6.3h0m0.1 13.6h0m0.1-2.1h0m0.3 13.7h0m0.2-24.6h0m0.1 21.2h0m0.2-17.9h0m0.4 5.3h0m0.3 10h0m0.2 4.6h0m0-15.6h0m0.1 7.8h0m0.2-5.6h0m0.2 1.3h0m0.2 6.2h0m0.4-13.7h0m0.3 4.9h0m0.1 5h0m0.2-19.7h0m0.1 11.8h0m0.3 6.2h0m0.1-1.9h0m0.1 4.5h0m0.2 3.2h0m0.1 7.4h0m0.1-4.3h0m0.2-13.7h0m0.1 6.9h0m0.3-24.8h0m0.3 25.7h0m0.1 4.7h0m0.2 1.6h0m0-10.8h0m0.1 7.8h0m0.1-6.7h0m0.1-5.5h0m0.2 1.2h0m0 8h0m0.3-24.5h0m0.5 31.3h0m0.2-15.7h0m0.3 5.8h0m0.7 3.7h0m0.1-9.7h0m0 5.7h0m0.1-8.6h0m0.1 9.9h0m0.2-13.8h0m0.6 0.2h0m0.2 15.4h0m0.1 3.7h0m0.2-16.1h0m0 1.9h0m0.1 0.9h0m0.1 8.7h0m0.2-16.1h0m0.1 7.4h0m0-1.9h0m0.2-8.6h0m0.6 23.1h0m0-7.9h0m0.3-0.8h0m0-2.6h0m0.3 8.2h0m0.1-9.3h0m0.2-2.1h0m0.3-10.4h0m0.1 26.1h0m0.2-18.3h0m0.2 14.1h0m0.1-25.8h0m0.1 22.6h0m0-8.1h0m0.4 18.5h0m0.1-0.9h0m0.1-21.6h0m0.2 25.7h0m0.2-20.9h0m0.1 10.8h0m0.1 3.8h0m0.1-28h0m0.3 7.2h0m0 8.5h0m0.2 5.7h0m0.1-8.6h0m0.3 5.6h0m0-8.4h0m0.4-6.3h0m0.2 3.4h0m0.1 20.1h0m0.1-4.5h0m0.2-2.1h0m0 12.4h0m0.3-17.9h0m0-5.2h0m0.1 21.8h0m0-19.9h0m0.2 10.6h0m0.2-12.6h0m0.1 9.3h0m0.1-10.8h0m0.3 18.4h0m0-11.8h0m0.2 2.3h0m0.3 6.4h0m0.2 3.6h0m0-4.8h0m0.1-7.6h0m0.1-3h0m0.1 36.2h0m0.1-32.7h0m0.1-4.4h0m0.1-1.3h0m0.1 9.5h0m0.1-11.1h0m0.1 7.5h0m0 6.2h0m0.1-4.4h0m0.3-0.4h0m0.1-10.7h0m0.1 6.9h0m0-4.4h0m0.2-8.8h0m0.4 17.6h0m0.1-19.1h0m0.1 10.1h0m0.1 4.8h0m0.2 11h0m0-11.6h0m0.1 2.6h0m0-8.6h0m0.2 16.3h0m0.1-17.4h0m0.2 14.4h0m0-8.3h0m0.6-1.1h0m0.1-2.9h0m0 15h0m0.1-27.8h0m0.1 20.3h0m0.1-4.7h0m0.3 7.7h0m0.1 2.6h0m0-14.7h0m0.2 5h0m0.1-2h0m0-1.4h0m0.1 11h0m0.1-11.8h0m0.2 15.6h0m0-20.6h0m0.1 17.6h0m0-3.9h0m0.2 15.7h0m0.1-25.5h0m0.2 8.2h0m0-12.3h0m0.1 24.1h0m0.1-7.2h0m0.1-1.1h0m0.3-19h0m0 9.3h0m0.1 17.2h0m0.2-18.9h0m0 10.7h0m0.2-7.7h0m0.4 7.8h0m0 4.3h0m0.1-16.3h0m0.2 17.8h0m0-15.4h0m0.1 11h0m0-15.2h0m0.1 21.6h0m0.2-4.6h0m0.1 6.1h0m0-12.6h0m0.1 1.6h0m0.1 3.4h0m0.1 3.7h0m0.2-17.4h0m0.1 9h0m0.1 9h0m0 6.9h0m0.1-13.8h0m0 0.7h0m0.1-8.4h0m0.2 8.9h0m0.1-14.6h0m0.1 10.3h0m0.1 17.2h0m0.2-27.2h0m0.1 11.6h0m0-6.7h0m0.1-9h0m0 27.5h0m0.2-16h0m0 5.6h0m0.2 4.8h0m0.1-16.6h0m0 15h0m0.1-9.8h0m0-3.1h0m0-2h0m0.1 20.1h0m0.1-6.4h0m0.4-9.8h0m0.1 12.1h0m0.1 0.9h0m0-6h0m0.1 3.6h0m0 3.6h0m0.2-23.1h0m0.1 10.8h0m0 13.1h0m0.2-16.9h0m0.1 26.6h0m0-18.9h0m0.5-1h0m0.1-0.9h0m0.1-3.1h0m0.2 5.9h0m0.1 1.7h0m0-4.9h0m0.1-1.6h0m0.1 8.3h0m0 3.2h0m0.2 5.8h0m0-4.9h0m0.2-9.4h0m0 7.5h0m0.2 6.9h0m0-11.4h0m0.3-14.7h0m0 11.1h0m0.1-9h0m0.1 7h0m0.1 11.2h0m0.1-12.6h0m0.1-1.6h0m0.3-8.2h0m0 16.2h0m0 2.6h0m0.2-7.8h0m0 1h0m0 1.4h0m0.1-4.3h0m0.2 5.6h0m0.1-12.5h0m0 17.2h0m0.2-11.6h0m0 2.1h0m0-5.9h0m0.2 23.2h0m0.1-7.8h0m0.1-7.1h0m0 11.6h0m0.1-13.6h0m0-14.8h0m0.1 10.2h0m0.2 16.6h0m0.1-8.3h0m0-9.7h0m0 3.1h0m0.2-4.5h0m0 18.1h0m0.1-8.1h0m0 4.8h0m0.2 9.7h0m0-16.9h0m0.1 6h0m0 2.6h0m0.1 9.3h0m0-13.7h0m0.1 6.1h0m0-2.9h0m0.1-11.1h0m0.1 17.5h0m0-16.3h0m0.2 1.2h0m0 8.9h0m0.1-8.6h0m0.1 12.9h0m0.1-21.1h0m0.1 12.5h0m0-16.2h0m0 12.3h0m0 4.3h0m0 5.3h0m0.1-1.4h0m0.1 17.9h0m0-19.6h0m0.2-3h0m0 21h0m0.1-39.5h0m0 12.2h0m0.1 14.7h0m0.2-18.2h0m0.1 8h0m0-5h0m0.1 17.3h0m0-21.5h0m0.1 6.6h0m0 1.8h0m0.1 3.4h0m0-15h0m0.1 10.8h0m0.1 2.9h0m0 6.3h0m0-17.5h0m0.2 9.8h0m0.1-15.7h0m0 21.8h0m0.2 9.8h0m0-3.4h0m0.1-9h0m0-7.4h0m0.2 18.6h0m0.2-4.1h0m0-10.4h0m0.1-2.4h0m0 8.8h0m0.1-11.5h0m0.1 1.2h0m0.1-3.8h0m0.1 10h0m0.1 3h0m0.1-12.1h0m0.1 4.2h0m0 15.2h0m0.1 3.8h0m0-26.2h0m0.1 13.7h0m0-8h0m0.1-7h0m0.1 6.2h0m0 14.1h0m0.1-1.6h0m0.1-6.7h0m0-1.5h0m0.3 0.6h0m0-3.2h0m0.1 13.3h0m0.1-18.3h0m0.1 16.7h0m0.1-12.6h0m0-7.6h0m0.1 6.2h0m0 6.9h0m0 13.1h0m0.1-16.1h0m0.1-12.2h0m0.2 24.6h0m0-7.1h0m0.1 3.3h0m0-6.7h0m0.1-2.9h0m0.1 1.2h0m0 4h0m0.1 3h0m0.1-9.7h0m0.1 2.2h0m0-3.7h0m0.2-9.4h0m0 5h0m0 9.4h0m0 8.1h0m0.1 1.5h0m0-15.3h0m0.1 9.4h0m0 7.3h0m0-21.9h0m0.1 13.8h0m0 11.3h0m0.1-12.3h0m0 5.9h0m0.1-7.3h0m0.1 17.4h0m0.2-37.7h0m0.1 9.8h0m0 13.8h0m0-3.8h0m0.1 5.7h0m0-26.4h0m0 27.1h0m0.1-15.5h0m0.1 5.8h0m0-10.9h0m0.1 25.4h0m0.1-10.3h0m0-7h0m0.1 8.4h0m0.1-10.1h0m0 11.1h0m0.4-9.9h0m0 20.4h0m0-32.1h0m0.1 14.9h0m0-4.2h0m0 15.8h0m0.1-22.5h0m0 18.3h0m0.1-8.5h0m0 5.6h0m0-7.3h0m0.1 18.7h0m0-5.1h0m0.1-7.6h0m0 5.3h0m0.1-6.4h0m0.1 7.5h0m0 10.4h0m0-4.7h0m0.1-14.7h0m0.2 3.6h0m0-8.4h0m0 16.7h0m0.1-0.9h0m0.1 4.6h0m0-8.1h0m0.1-9.6h0m0 7.2h0m0.1-11.6h0m0 20.4h0m0.1-12.8h0m0 8.3h0m0.2-19.8h0m0 9.5h0m0.1 15.9h0m0-14.5h0m0 5.6h0m0.2 12.4h0m0-22.6h0m0.1 7.3h0m0.1-11.8h0m0.1 8.9h0m0-4.8h0m0 2.2h0m0.1 31.2h0m0-17.1h0m0-10.5h0m0.1 21.9h0m0-5.9h0m0.1-12.4h0m0-5.4h0m0-9.4h0m0.1 32.6h0m0 15.5h0m0.1-36h0m0-7.1h0m0.1 14.6h0m0.1-22h0m0.1 26.2h0m0.1-16.9h0m0.1 0.5h0m0-4.1h0m0.1-9h0m0 13.5h0m0-6.8h0m0.2 15.1h0m0-5h0m0.1-8.1h0m0 21.3h0m0.1 2.1h0m0-16.8h0m0-4.9h0m0-9.5h0m0.1 4.3h0m0 31.6h0m0.1-18.3h0m0 3.6h0m0 1.2h0m0.1 3.2h0m0.1-15.4h0m0.1 9.7h0m0-15.5h0m0.1 11.6h0m0 6.9h0m0.1-15h0m0 4.9h0m0-12.5h0m0.1 26.6h0m0-5h0m0-2.4h0m0-2.6h0m0 3.2h0m0.1-8.8h0m0 7.2h0m0.1-24.2h0m0 30.5h0m0-14.4h0m0.1 15.4h0m0.2-20.2h0m0.3 4.5h0m0 6.4h0m0.1 8.7h0m0-10.2h0m0.1-0.6h0m0 7h0m0.2-4h0m0.1 8.5h0m0.1-3.3h0m0-4h0m0.1-12.3h0m0-7.1h0m0.1 12.1h0m0 1.2h0m0.1-3.9h0m0.1 10.9h0m0 1.4h0m0.1 6.2h0m0-7.3h0m0-3.5h0m0.1-10.4h0m0 15.1h0m0 6.2h0m0-19.3h0m0.1-1h0m0 17.1h0m0.1-11h0m0 20.3h0m0.1-19.3h0m0.1-2.5h0m0-14.6h0m0.1 24.4h0m0-6.1h0m0.4-10.5h0m0.1 13.8h0m0-20h0m0 29.4h0m0-18.2h0m0.1-9.3h0m0.1 17.7h0m0 3h0m0.1-1.6h0m0-8.3h0m0.1 1.7h0m0.2 2.2h0m0.1 9.9h0m0.2-14.9h0m0.1 5.7h0m0 7.2h0m0.1 0.8h0m0.1-10.7h0m0-6h0m0 26.5h0m0-31.2h0m0 14.2h0m0.1-2.5h0m0 11.1h0m0-8.4h0m0-5.6h0m0-9.6h0m0.1 4.5h0m0.1 5.2h0m0 15.8h0m0-18.1h0m0 9.8h0m0-13.7h0m0.1 15.3h0m0.2-4.9h0m0.1-18.7h0m0 34.4h0m0.1-11.2h0m0.1 1.2h0m0.1-8.9h0m0.1 3.1h0m0-6.1h0m0 12.5h0m0-16.2h0m0.1 2.8h0m0 18h0m0.1 8.3h0m0-16h0m0 2h0m0-10.1h0m0.1-7.5h0m0 11h0m0 1.6h0m0 3.3h0m0.1-14.5h0m0 1.5h0m0.1 0.9h0m0.2 21.6h0m0.1-15.7h0m0.1 4.8h0m0.1-18.6h0m0.1 48.8h0m0-43.6h0m0 4.8h0m0 8.5h0m0 2.8h0m0-9.8h0m0 1.1h0m0.1 15.5h0m0-21.3h0m0-4.9h0m0 21.5h0m0.1 1h0m0-20.2h0m0 30.4h0m0-19.9h0m0.1-8.9h0m0 16.7h0m0 5h0m0.1-25h0m0.1 13h0m0 3.8h0m0 0.8h0m0.1-9.8h0m0-9.7h0m0.1-0.6h0m0 8.8h0m0.1 8h0m0.2 8.7h0m0-13.7h0m0-0.8h0m0.1-3.4h0m0 1.5h0m0.1 7.2h0m0-12.1h0m0.1 29.2h0m0-19.8h0m0 3.1h0m0.1 14.7h0m0-8.3h0m0.1-4.1h0m0-12.7h0m0 9.1h0m0.1 3h0m0 1.5h0m0 3.4h0m0-22.9h0" stroke="#000000" stroke-width="2.1" stroke-linecap="round" fill="none"/><path d="M505.1 425.9h0m5.9 9.9h0m8.8-7.6h0m6.6-5.2h0m25.7 13.8h0m1 5.1h0m3.9 4h0m6.4-14.8h0m2 17.3h0m1.3-7.1h0m1.2-0.6h0m1.8 1.3h0m1.1-1.5h0m0.5 6h0m8.1-6.3h0m0.7-2.6h0m0.4-11h0m1.1 8.5h0m0.7 9.9h0m0.6-11.5h0m1 1.7h0m2.8 9.3h0m0.9-11.3h0m1.9-2.6h0m1.7 10.3h0m0.3-1.2h0m0.5-4.6h0m0.2 4.2h0m0.5-9.7h0m0.4 5.2h0m1.4-2.6h0m0.8 8.2h0m0.4 10.7h0m0.2-18.4h0m1.2-0.5h0m0.2 3.6h0m0.8-6.2h0m0.5 5.6h0m1.3-7h0m0.2 1.7h0m0.3 0.3h0m0.4 4.6h0m0.8 1.6h0m0.5-13.2h0m0.2 12.2h0m0.3 6h0m1.4-0.5h0m0.1-2.6h0m0.6-11.9h0m0.7 2.5h0m0.3 2h0m0.3-17.8h0m0.4 16.4h0m0.3-10.1h0m0.1 12h0m0.2-5.9h0m0.2 11h0m0.2-13.7h0m0.2 10h0m0.2-1.9h0m0.2 4h0m0.8-0.3h0m0.3-8.3h0m0.3 3.5h0m0.1 1.5h0m0.4 10.1h0m0.1-21.2h0m0.4 3.7h0m1.6 7.8h0m0.3-1.1h0m0.4-1.5h0m0.6-5.8h0m1.5 11.6h0m0.2-4.7h0m0.1-4.5h0m0.1 11.3h0m0.3-4h0m0.1-4.2h0m0.3-2h0m0.3-6.6h0m0.1 11.4h0m0.2-14.7h0m0.2 11.6h0m0.2 5.9h0m0.5-5.4h0m0.1-3.2h0m0.5-12.3h0m0.2 11.4h0m0.1 1h0m0.4-6.4h0m0.3 8.7h0m0.4-2.7h0m0.1-17.7h0m1.2 18.4h0m0.4 2.3h0m0.4-4.6h0m0.3 5.1h0m0-6.7h0m0.4 14h0m0.2-13h0m0.3-1.7h0m0.4 3.1h0m0.4 16.2h0m0.2-14.5h0m0.2 5.2h0m0.3-3.5h0m0.3-2.5h0m0.1 3.7h0m0.5-15.5h0m0.1 16.4h0m0.1-5.3h0m0.2-4.1h0m0.1-4.2h0m0.3 9.3h0m0.3 2.6h0m0.4-8.7h0m0.4 19.3h0m0.6-11.8h0m0.1 7.7h0m0.2-18.6h0m0.4 7.8h0m0.9-0.8h0m0.1-1.2h0m0.4-1.4h0m0.4 7.7h0m0 10.9h0m0.2-19.1h0m0.2 6.6h0m0.2 2.3h0m0.1-4.5h0m0.4 3.5h0m0.3 0.9h0m0.4-11.5h0m0 8.6h0m1.1-7.8h0m0 4.2h0m0.2-1.8h0m0.1 10h0m0.2-16.7h0m0.1 19.9h0m0.1-22.5h0m0 7.7h0m0.1 15.6h0m0.2-8.6h0m0.3-7.5h0m0.1-1.7h0m0.1 12.1h0m0.3-4.7h0m0 2.5h0m0.3-0.6h0m0.1 2.3h0m0.6-4.2h0m0.3-2.6h0m0.1 7.4h0m0.1-0.3h0m0-6.5h0m0.2-15.9h0m0.4 20.2h0m0.2 6.2h0m0-14.9h0m0.1 1.6h0m0.1 0.6h0m0.2 6.5h0m0.4 13.6h0m0.2-17h0m0.2-1.1h0m0.2 3.6h0m0 4.9h0m0-11.9h0m0.1 5.3h0m0.2-4h0m0.1-3.2h0m0.2 11.6h0m0.3 0.6h0m0.1-5.2h0m0.1-3.1h0m0.4 5.2h0m0.2 2.5h0m0.1-1.6h0m0.1-8h0m0.1 4.6h0m0.1-2.2h0m0.4-1.6h0m0.1 9.1h0m0.2-2.2h0m0.1-5.8h0m0.1-4.9h0m0.1 7.7h0m0.1 2h0m0.2 0.3h0m0.1-10.8h0m0.3 2.7h0m0.1 14.4h0m0.1 3.8h0m0-23.4h0m0.1 13.5h0m0.1-9.2h0m0.1 4.5h0m0-6.2h0m0.1 8.7h0m0.1 5.4h0m0.1-3.8h0m0.4 0.9h0m0 0.4h0m0.1-6.1h0m0.1 2.3h0m0.2 1.5h0m0.1-9.8h0m0 17.4h0m0.5-7.5h0m0.1-2.4h0m0.2 0.5h0m0-2.8h0m0.1 7.8h0m0.1-7.3h0m0.1 6.4h0m0.1 2.5h0m0.2 2.7h0m0.3-6.8h0m0.3 2.7h0m0.1-3.4h0m0-2.4h0m0-2.5h0m0.2-5.2h0m0 12.3h0m0 4.2h0m0.2-9.9h0m0.1 2.5h0m0.1-4.8h0m0.3-4h0m0.1 7.7h0m0-4h0m0 9.4h0m0-1.7h0m0.1-9.3h0m0.1 6.8h0m0.1 1.4h0m0.1-4h0m0.2-11.2h0m0.2 16.2h0m0.1-7.1h0m0.1 4.7h0m0-2.6h0m0.1-4.3h0m0 8.9h0m0.1-3.1h0m0.2-0.5h0m0.2-9.4h0m0.1 14.3h0m0.4-6.2h0m0 4.8h0m0-10h0m0.1 10.3h0m0-3.7h0m0-4.7h0m0.1 11h0m0.2-15.2h0m0.1 16.2h0m0.2-9.9h0m0.2 3.5h0m0.2-0.9h0m0.2 8.4h0m0-5.8h0m0.1-5.5h0m0.1-4.8h0m0 13.1h0m0-6.6h0m0-9h0m0.2 17.1h0m0-10.7h0m0.2 5.8h0m0.1-1.6h0m0.1 0.5h0m0-1h0m0.1 6.3h0m0-7.1h0m0-1.2h0m0.1 7.5h0m0 7.5h0m0.1-8.5h0m0.2-11.6h0m0.2 3.3h0m0.4 10.5h0m0.1 9.7h0m0-12.5h0m0-6.8h0m0.3 6.2h0m0 7.1h0m0.1-14.9h0m0 4.7h0m0.2 7.1h0m0-14.2h0m0 7.7h0m0.3 2.5h0m0 4.4h0m0.1-2.2h0m0-15.7h0m0.2 10.4h0m0.1-1.2h0m0.1-1h0m0.2 2.7h0m0.1-4.5h0m0.1-3.8h0m0.2 10.1h0m0-11.9h0m0 15.5h0m0.1-2.8h0m0.1-10.9h0m0 10h0m0.2 7.1h0m0.1-2.1h0m0-6.8h0m0.2-1.7h0m0.3 10.2h0m0.1-11.9h0m0.1 6h0m0.1-3.1h0m0 6.3h0m0.1-2.4h0m0.1 1.3h0m0.1-15.7h0m0-1.9h0m0.2 10.9h0m0.1-7.5h0m0.1 5.4h0m0.3 4.1h0m0.1-2.3h0m0-1.4h0m0 6h0m0.1-2.6h0m0-2.4h0m0 3.9h0m0.2-6.7h0m0.1-0.9h0m0.2 12.3h0m0-13.6h0m0.2 12.1h0m0.2-14h0m0 7.2h0m0.3 4h0m0-6.5h0m0 8.6h0m0.1-3h0m0-12.4h0m0.2 11.4h0m0-17.2h0m0.1 23h0m0-8.1h0m0-4.6h0m0.2 9.6h0m0.1-4.7h0m0-0.1h0m0 1.5h0m0.3 7h0m0.1-1h0m0-1.7h0m0.1-13.4h0m0.1 10.4h0m0.1 8.7h0m0.2-7.9h0m0.1 7.3h0m0.1-4.7h0m0-5.9h0m0-3.3h0m0.2-2.3h0m0 13.3h0m0-2.5h0m0.1-7.7h0m0 5.3h0m0.2-1.3h0m0 7.6h0m0.1-9.7h0m0.3-7.8h0m0.1 11.6h0m0 3.1h0m0.1-4.3h0m0-5.8h0m0.1-2.4h0m0 5.1h0m0-7h0m0 9.2h0m0.1-1.2h0m0-2.6h0m0.1 6.7h0m0 1.2h0m0.1-6.8h0m0.2-7.7h0m0.3 13.5h0m0.1-9.8h0m0.1 23.3h0m0.1-13.4h0m0-0.5h0m0.1-1.8h0m0.1-5.3h0m0.1-2.6h0m0 16.6h0m0.1-10.5h0m0.1 5.5h0m0 6.1h0m0.1-2.9h0m0.4-0.3h0m0.1-5.6h0m0-7h0m0.1 5.4h0m0-4.7h0m0.2 11.2h0m0-7.1h0m0.1 4h0m0-10.7h0m0.1-4.1h0m0.1 19.7h0m0.1-11.9h0m0 7.9h0m0.2-6.4h0m0-8.3h0m0.1 3.4h0m0-6h0m0 10.4h0m0 5.8h0m0.1 3.5h0m0-14.4h0m0.1-1.5h0m0 13.7h0m0.1-3.7h0m0.1 13.2h0m0.1-24.1h0m0 3.8h0m0.1 3.2h0m0 18.3h0m0.1-20.3h0m0.1 4.1h0m0.2 0.5h0m0.1-4.2h0m0 10.5h0m0.1-8.7h0m0 5.3h0m0.1 1.6h0m0 5.9h0m0-14.8h0m0.1 3.3h0m0 9h0m0.1-16h0m0.1 15.3h0m0.2-6.2h0m0.1-13.4h0m0 10.3h0m0.3 6.5h0m0.1 2.9h0m0.1-8.2h0m0-1.4h0m0.1-1.6h0m0 7.4h0m0.1-3h0m0.2 5.2h0m0-10.5h0m0.2 6.7h0m0.2 5.8h0m0.1-8.2h0m0.1 4.3h0m0-10.1h0m0 6.6h0m0-5.2h0m0.1 6.7h0m0.1-5.8h0m0-4h0m0 4.8h0m0 13.9h0m0.1-8.2h0m0 2.9h0m0-6.8h0m0.1-5.4h0m0.1 14.5h0m0-3.3h0m0.5-4.2h0m0-7.5h0m0.1 5h0m0 8.2h0m0.1-4.6h0m0.1 1.2h0m0-3.3h0m0-4.7h0m0 1.9h0m0 6.9h0m0.3-5.4h0m0.3 10.8h0m0-31.1h0m0 31.3h0m0.1-2.1h0m0.1 1.4h0m0-12.5h0m0.1 5.3h0m0.1-8.8h0m0 6.3h0m0-10.6h0m0 18.8h0m0.1-17.1h0m0.1 5.8h0m0 11.1h0m0.1-9h0m0 16.8h0m0-14.8h0m0.2-5.6h0m0 11.5h0m0.1-2.7h0m0-15h0m0.1 24.4h0m0.2-20.6h0m0-0.8h0m0.1 18.1h0m0-11h0m0.1 12.2h0m0-14.8h0m0.2-8.5h0m0 16.8h0m0.1-2.6h0m0-8.5h0m0 4.9h0m0.2 8.8h0m0 1.7h0m0.1-4.9h0m0 1.9h0m0-5.3h0m0-2.9h0m0.1 5.3h0m0.1 14.5h0m0-22.3h0m0.1 5.3h0m0-11.8h0m0 5.1h0m0.1 2.3h0m0 3.7h0m0 6.1h0m0.1-3.9h0m0-4.4h0m0 13.5h0m0.1-6.5h0m0-6.3h0m0.1 12.2h0m0.1 7.1h0m0.2-25h0m0.1 10.8h0m0.3 3.7h0m0-12.9h0m0 8.8h0m0.1 9h0m0-14.8h0m0 1.5h0m0 2.7h0m0 4.3h0m0.1-5.3h0m0.1 2.9h0m0-8.9h0m0 1.4h0m0.1-4.7h0" stroke="#0000ff" stroke-width="2.1" stroke-linecap="round" fill="none"/><path d="M516.8 414.7h0m13-0.2h0m4.6 4.9h0m2.1 0.6h0m1.9 12.9h0m1.8 0.2h0m1.6-10.3h0m1.6 5.3h0m4.2-6.6h0m7.8 6.5h0m0.9-10.8h0m3.5 13.9h0m5.2-3.3h0m0.6 6.7h0m1.9-1.7h0m1.2-11h0m1.1 16.5h0m0.6-1.5h0m0.5-5.5h0m1.5 0.9h0m0.5 10.4h0m1.5-5.1h0m1.3 1h0m0.5-12.3h0m0.8 11.4h0m0.9-2.7h0m0.8-7.4h0m0.4 1.1h0m0.3 12.5h0m4.6-8.6h0m1.3-1.5h0m1.2-2.2h0m1.1-1.2h0m0.6-10.3h0m1.1 16.7h0m0.7 3.1h0m0.3-6.9h0m0.5 13.3h0m0.7-17.9h0m0.3-5.2h0m0.5 10.1h0m1.3-3.2h0m0.7-4.9h0m0.6 12.2h0m0.2-9.7h0m0.9-1.8h0m0.6 12h0m0.2-9h0m0.2 10.2h0m1.5-9.4h0m0.9-7.7h0m0.2 8.6h0m0.2-5.9h0m0.3-3.8h0m0.5 8.8h0m0.2-0.4h0m0.2 3.6h0m0.3-1.4h0m0.2-5.2h0m0.5 5.3h0m0.1 1.8h0m0.2-9.6h0m0.2 5.3h0m0.1 0.9h0m0.3-15.4h0m0.3 6.2h0m0.5 8h0m0.5 0.1h0m0.3-2.9h0m0.1 14h0m0.3-28.6h0m0.1 14.9h0m0.5 4h0m0.1-1h0m0.4-3.7h0m0.3-9.8h0m0.1 8.4h0m0.6-7.1h0m0.3 14.2h0m0.1-6.8h0m0.1 1.9h0m0.2-7h0m0.6-3h0m0.3 6.1h0m0.1 6.7h0m0.6-2.8h0m0.1-7.7h0m0.1 1.3h0m0.3 13.3h0m0.1-1.9h0m0.1-16.3h0m0.3 14.5h0m0.2-13.2h0m0.1-7h0m0.1 10.4h0m0.2 6.1h0m0.2-1.1h0m0.5-8.4h0m0.2 7.7h0m0.2-1.4h0m0.6-5.1h0m0.3 8.1h0m0.1-8.3h0m0.3-4.7h0m0.1 8.2h0m0.2-3.2h0m0.1 5.5h0m0.1-2.4h0m0.2 10.5h0m0.1-7.4h0m0.1-2.6h0m0.1-3.8h0m0.1 9.9h0m0.4-12h0m0.1 12.1h0m0.1-9.4h0m0.1 3.6h0m0.1 1.1h0m0.1 4.4h0m0.2-8.5h0m0.1 14.9h0m0.2-13.1h0m0.1-6.9h0m0.2 10.4h0m0.2-3.4h0m0.1-2.7h0m0.1 1.3h0m0.1 8.2h0m0-10.7h0m0.2 13.2h0m0.1-1.3h0m0.2 0h0m0.1-12.3h0m0.2 11.4h0m0.2-4.5h0m0-1.6h0m0.2-9.9h0m0.1 19.7h0m0.1-13.2h0m0.3 10.5h0m0.2-9.5h0m0.1 1.5h0m0.2-2.3h0m0.3 3.4h0m0.1 1.2h0m0.5-3.4h0m0.1 7.7h0m0.2-2.7h0m0-3.1h0m0.5 1.5h0m0.1 0.3h0m0.1 4h0m0.1-8.7h0m0.1-2.1h0m0.1 27.7h0m0.1-31.3h0m0.1-1.6h0m0.1 8.6h0m0.3-14.7h0m0.1 5h0m0.1 7.4h0m0 7.6h0m0.3 5.4h0m0.1-16.5h0m0.2 5.9h0m0.1 14.2h0m0-11.8h0m0.1-3h0m0.1-0.4h0m0.1 2.8h0m0.1 8h0m0.1-9.7h0m0.3-3.5h0m0.2 6.1h0m0-9.6h0m0.3-1.9h0m0 12.5h0m0.1-5.9h0m0.1-9.5h0m0 13.7h0m0.1 3.6h0m0.1-23.8h0m0 12.2h0m0.2-1.1h0m0.2-3.6h0m0.2 12.4h0m0.1-16.5h0m0 3.6h0m0.1-7.5h0m0.1 11.9h0m0 4.8h0m0.1 15.1h0m0.1-17.3h0m0-9.7h0m0.1 19.2h0m0.1-2.8h0m0.1-2.3h0m0.3-14.8h0m0.1 2.6h0m0.1 17.6h0m0-14h0m0.1 7.1h0m0.1-0.9h0m0.1-5.4h0m0.2-2.8h0m0.4 13.9h0m0-4.1h0m0.1-6.3h0m0.2 2.1h0m0-6.1h0m0.1 7.8h0m0.3 4.9h0m0.1-11.5h0m0 1.7h0m0.1 1.8h0m0-10.3h0m0.1 3.3h0m0.1 11h0m0.1-6.3h0m0 5.1h0m0.1 13.9h0m0.1-15.7h0m0-10.6h0m0.1 11.3h0m0.1-3.2h0m0.2 7.9h0m0 5.1h0m0.1-1.7h0m0-4.8h0m0.2 3.2h0m0.1-7.1h0m0.1-2.4h0m0 10.5h0m0.1-15h0m0.1 12.2h0m0.1-10.9h0m0.1 2.2h0m0 1.9h0m0.1-11.9h0m0.2 3.3h0m0 11.6h0m0.2 1.7h0m0.1 3.5h0m0.1-5.4h0m0 0.6h0m0.1-2.4h0m0.1 8.8h0m0.1-10.2h0m0.1-2.4h0m0 3.4h0m0.2-2.8h0m0 7.5h0m0.1 10.6h0m0-23.1h0m0.1 11.5h0m0.1 3.5h0m0.2-2.1h0m0-8.7h0m0.1 5h0m0 7.2h0m0.1-7.9h0m0.1-5.4h0m0.2 17.1h0m0-4.7h0m0.1-9h0m0-4.3h0m0.1 8.6h0m0.3-2.9h0m0.1 6.6h0m0-4.4h0m0.1-1h0m0.1-3.8h0m0.2 5.8h0m0.1-4.8h0m0.1 7.1h0m0.1-13.1h0m0.1-1.6h0m0.1 3.5h0m0.1 1h0m0.1 13.4h0m0-14.6h0m0.1 10.2h0m0.1-7.5h0m0.1 3.1h0m0 3.2h0m0.1-4.5h0m0-1.8h0m0.1-12.4h0m0 25.4h0m0.1-18.4h0m0 10.1h0m0.2-1h0m0.1 7.1h0m0-17.2h0m0.1-2.2h0m0 10.5h0m0-7.3h0m0.1 11.4h0m0 4.6h0m0.2-10.6h0m0 12h0m0.2-7.4h0m0.1 3.3h0m0-4.6h0m0.1-7.2h0m0.1 17.3h0m0.1-19.4h0m0.1 9.9h0m0.1-5.4h0m0 9.4h0m0.1-2.1h0m0 1.5h0m0.1-5.1h0m0.1 8.5h0m0-17.1h0m0.1-1.1h0m0 12.2h0m0-7.3h0m0.1 1.8h0m0 4.6h0m0.2-5.1h0m0.1-3.3h0m0.1 19.2h0m0.1-14.2h0m0.1-3.4h0m0.1-0.9h0m0 7.4h0m0.1-2.9h0m0-14.7h0m0.1 15.8h0m0.1-7h0m0.1 7.9h0m0.1-13.4h0m0.1 17.3h0m0.2 2.8h0m0.1 4.8h0m0-9.1h0m0-7h0m0.1 15h0m0.1-19.7h0m0 13.1h0m0.1-7.8h0m0 8.7h0m0.1-7.8h0m0.1-2.3h0m0 7.5h0m0.1 4.1h0m0.1-5.2h0m0.2-0.8h0m0-1.4h0m0.1 9.6h0m0.2-16h0m0 5.1h0m0.1-15.2h0m0 29.3h0m0.1-10h0m0 0.2h0m0-19.9h0m0.1 25.1h0m0-8.4h0m0.1 6.4h0m0-8.1h0m0.1 8.5h0m0 18.6h0m0.1-23.4h0m0 2.5h0m0.1-10.9h0m0-3.4h0m0.1 4.3h0m0.1 2.1h0m0 0.8h0m0.2-7.8h0m0.1 14.8h0m0 2.5h0m0-4.4h0m0.1-8.4h0m0.1 1.2h0m0 3.2h0m0-6.7h0m0.2 5.3h0m0.1-4.9h0m0.1-1.8h0m0 11.4h0m0.1-2.2h0m0.1 6.4h0m0-5.4h0m0.1 3.1h0m0.1-7.4h0m0 13.7h0m0.1-10.3h0m0 0.8h0m0 0.9h0m0.1 2.7h0m0-1.5h0m0.1-5.3h0m0.1-7.5h0m0 15.3h0m0.1 3.9h0m0.2-2.6h0m0.2-7.9h0m0.2-7.4h0m0 4.4h0m0.1 4h0m0 3.5h0m0 6.5h0m0.1-9.4h0m0-6.2h0m0 12.5h0m0.1-14.4h0m0 0.9h0m0.1 11.2h0m0-7.9h0m0.1 17.9h0m0.2-8.9h0m0.3-3.5h0m0-3.8h0m0.1 17.3h0m0-7.5h0m0.1-18.1h0m0 10.8h0m0-4.7h0m0.1 13.3h0m0-21.9h0m0.1 19.1h0m0-22.8h0m0 14.5h0m0.1-0.5h0m0-5.3h0m0 7.6h0m0.1 4.2h0m0-0.7h0m0.1-10.7h0m0 1.8h0m0.2 10.5h0m0.3-9.7h0m0.1 12h0m0-4.6h0m0-10h0m0.1 5.4h0m0-13.5h0m0.1 16.1h0m0 0.6h0m0.1-7.5h0m0.1 2.4h0m0.3 0.6h0m0 11.9h0m0.1-8.8h0m0.2 5.8h0m0.1-7h0m0-2.6h0m0 21.3h0m0.1-24.7h0m0.1 11.4h0m0-7.2h0m0.1 5.4h0m0 4.7h0m0-12.8h0m0.1 8h0m0.1-12.3h0m0 10.4h0m0.1-4.6h0m0.1 3.4h0m0.2 11.3h0m0.1-29.1h0m0 22.3h0m0-5.5h0m0.1-3.6h0m0 6.1h0m0 10.2h0m0.1-3.6h0m0-11h0m0-1.3h0m0.1-1.4h0m0.1-2.8h0m0 15.1h0m0-3.1h0m0 5.9h0m0.1-3.9h0m0-6.8h0m0-7.9h0m0.2 19.9h0m0-25.4h0m0.1 15.3h0m0 1.8h0m0-13.8h0m0.1-2.1h0m0 0.3h0m0 29.1h0m0.2-16.9h0m0.1 4.2h0m0-2.4h0m0-8.4h0m0 9.7h0m0.1-0.9h0m0-9.8h0m0 3.4h0m0 0.8h0m0.1-8h0m0 9h0m0.2 10.2h0m0.1 1.9h0m0.1 5.1h0m0-23h0m0.1 7.6h0m0.1-8.8h0m0.1-4.2h0m0.1 19.1h0m0-6.1h0m0.1 2.3h0m0 4.4h0m0-9.4h0m0.1 11.9h0m0-5.2h0m0-1.4h0m0-10.2h0m0.1 1.7h0m0.2 6.6h0m0 8.3h0m0-18.2h0m0.3 2.6h0m0-4.1h0m0 9.2h0m0.2 15.9h0m0-2.4h0m0.1-12.2h0m0-5.3h0m0.1 10.1h0m0-14.7h0m0 12.1h0m0.1-6.1h0m0 12.5h0m0-11h0m0.1 14.6h0m0-9.3h0m0 2.3h0m0.1 10.6h0m0-6.1h0m0-2.8h0m0.1-10.5h0m0 14.5h0m0-10.3h0m0.1-7.1h0m0.1 22.7h0m0.3-26.9h0m0.1 12h0m0-8.7h0m0 5.3h0m0.1 1.3h0m0 4.6h0m0.1 5.3h0m0-7h0m0.1-8.7h0m0 13.1h0m0-9.8h0m0.1-2.3h0m0-3.4h0m0 14.6h0m0.1-18.9h0m0.1 12.8h0m0-14.2h0m0.1 2.3h0m0.1 15.5h0m0.3-5.4h0m0 2.8h0m0.1-6.2h0m0 5.8h0m0-12h0m0 15.8h0m0.1-11.8h0m0 10.4h0m0.1-6.1h0m0-0.3h0m0 11.7h0m0.1-0.8h0m0.1-14.2h0m0.1-1.6h0m0.1 7.8h0m0-9.8h0m0 13.8h0m0.1 11.6h0m0.1-27.7h0m0.1 18.6h0m0.1 0.8h0m0.1-2.8h0m0 1.2h0m0 5.6h0m0-13.2h0m0-3h0m0.1 6.9h0m0 12.2h0m0-26.1h0m0 6h0m0.1-5.6h0m0 11.3h0m0.1-6.1h0m0-1.5h0m0.1 11.2h0m0-18.6h0m0 11.6h0m0.1 2.3h0m0 2h0m0.2 5.6h0m0.2 14.6h0m0.1-23.7h0m0-10.2h0m0.1 32.8h0m0-23.8h0m0 7.1h0m0.1 3.3h0m0-8.1h0m0.1 5.8h0m0 5.2h0m0-4.3h0m0.1-12h0m0-3.9h0m0 1.7h0m0 3.9h0m0.1 4.7h0m0 2.5h0m0-13.7h0m0.1 20.6h0m0.1-19.2h0m0 17.9h0m0-6.3h0m0.2-4.3h0m0.2 12.6h0m0-3.7h0m0-9.4h0m0.1 3.6h0m0-0.8h0m0 4.6h0m0.1-2.2h0m0-7.6h0m0 3.7h0m0.1-7h0m0 12.5h0m0-2h0m0.1-7.8h0m0 14.9h0m0-22.2h0m0.1 24.9h0m0.1-18.8h0m0-2.9h0m0 17.5h0m0.2-18.6h0m0.2 1.6h0m0.1 6.7h0m0 0.6h0m0.1-8.6h0m0 11.2h0m0 8.4h0m0-15.1h0m0 7.9h0m0.1-1.8h0m0-4.1h0m0 6.7h0m0.1 10.8h0m0-17.8h0m0-8.5h0m0.1 1.6h0m0 15.8h0m0.2 5.8h0m0.1-4.4h0m0-19.8h0m0.1 6.1h0m0 22.9h0m0.3-7.7h0m0-3.8h0m0-1.5h0m0.1 2.9h0m0-9.8h0m0 13.3h0m0-2.1h0m0.1 9.2h0m0-15.5h0m0-2.7h0m0.1 3h0m0-12.4h0m0.1 8.4h0m0 17.4h0m0-14.9h0m0.2-5.6h0m0.1 19.8h0m0.1-22.2h0m0.1 19h0m0-6.4h0m0.1-9.8h0m0 27.8h0m0-29.2h0m0.1 5.5h0m0-2.8h0m0 4h0m0.1 0.6h0m0-9.7h0m0 10.6h0m0 9.7h0m0.1-16.3h0m0 9h0m0-10.1h0m0.1 9.1h0m0 3.1h0m0.1-16.3h0m0 19.3h0m0-11.2h0m0.1 24.6h0m0.2-14.6h0m0-16.1h0m0.1 15.3h0m0.2 3.1h0m0 2.7h0m0.1-18.8h0m0 11.9h0m0.1-6.5h0m0 8.8h0m0 2.2h0m0-18h0m0 5.6h0m0.1-2.5h0m0 5.9h0m0-5.5h0m0.1 15.4h0m0-1.8h0m0-8.9h0m0 12.5h0m0.1 6.6h0m0-12.6h0m0.1-4h0m0-12.1h0m0 6.5h0m0 6.4h0m0.1-14.5h0m0.1 16h0m0.4-9h0m0 5h0m0-7.7h0m0.1 6.7h0m0 4.9h0m0-15.8h0m0 13.8h0m0-12h0m0.1 17.4h0m0 7h0m0.1-9.4h0m0-9.2h0m0.1-6.8h0m0 8.7h0m0-6h0m0.1 10.8h0m0-5.6h0m0.1 13.2h0m0.1-16.6h0m0.2 18.9h0m0.2-16.2h0m0 2.5h0m0 1.9h0m0.1-9.8h0m0 14.3h0m0-18.3h0m0 5.4h0m0 5.3h0m0 9.9h0m0.1-3.8h0m0 8.6h0m0-11h0m0-8.1h0m0.1-4.7h0m0 20.3h0m0.1-9.6h0m0.1 17h0m0-22.5h0m0.2 9.4h0m0-14h0m0.1 5.9h0m0 27.6h0m0.1-16.8h0m0.2-19.6h0m0 7.1h0m0 7.8h0m0-9.1h0m0.1 7h0m0-3.9h0m0 3h0m0 3.3h0m0-10.8h0m0.1-1.5h0m0-1.7h0m0 17.4h0m0-16.4h0m0.1 5.3h0m0.1 8.5h0m0.1-5.7h0m0 17.7h0m0-8.3h0m0.1 4.1h0m0-1.9h0m0-10.8h0m0.2 17.9h0m0.3-21.7h0m0 18.2h0m0-19.4h0m0.1 6.2h0m0 1.2h0m0-6.9h0m0 4.7h0m0-7.3h0m0 10.4h0m0.1 6h0m0-10.8h0m0.1 38h0m0-30.8h0m0.1 1.4h0m0 4.6h0m0-23.2h0m0 15.5h0m0.1-12.6h0m0.1 6.2h0m0 9.8h0m0.1-17.8h0m0.1 19.9h0m0.3 1.5h0m0-18.7h0m0 10.3h0m0-3.5h0m0.1 1.3h0m0-2.9h0m0 6.4h0m0 9.3h0m0-5.1h0m0-2.8h0m0.1 11.5h0m0-28.3h0m0 23.1h0m0.1-18.6h0m0 22h0m0-13.6h0m0 8.2h0m0 1.4h0m0.1-16.2h0m0 0.4h0m0.1-4.9h0m0.1 6.1h0m0.1-5.6h0m0.1 15.3h0m0.1 3.1h0m0 16.2h0m0.1-22.2h0m0.1-2h0m0 14.8h0m0-11.7h0m0.1 1.8h0m0-11.2h0m0-2.7h0m0 8.1h0m0.1-2.2h0m0-7h0m0 12.6h0m0-4.8h0m0 3.1h0m0-14h0m0.1 24.8h0m0-0.9h0m0-15.9h0m0-6.6h0m0.2 20.1h0m0.1-12.5h0m0 10.6h0m0.2-14.5h0m0-2.5h0m0.1 20.5h0m0.1-5.3h0m0 2.7h0m0.1 4.9h0m0-11.8h0m0 12.2h0m0-22.9h0m0.1 1.1h0m0 9.5h0m0-3.6h0m0 2.4h0m0-10.3h0m0 14.5h0m0.1-8.3h0m0 2.7h0m0-5.2h0m0.1 1h0m0 12.6h0m0.1-17.9h0m0 16.6h0m0.1-2.7h0m0 2.7h0m0.2-10.2h0m0.1 16h0m0.1-3.4h0m0 1.8h0m0.1 0.5h0m0.1-11.6h0m0-2.7h0m0 14.1h0m0-0.1h0m0.1-15.7h0m0-6.3h0m0 27.3h0m0-7.1h0m0.1 4.4h0m0-22.9h0m0 5.6h0m0 8.7h0m0-12h0m0.1-1.1h0m0 10.3h0m0-1.7h0m0 16.3h0m0.1-14.7h0m0.1-12.2h0m0.1 13.8h0m0.1 1.9h0m0 17h0m0.1-15.6h0m0.1-9.2h0m0.2 5.7h0m0-5.1h0m0-2h0m0 10.5h0m0.1-11.9h0m0-4.2h0m0 8.7h0m0-5.2h0m0 11.2h0m0-12.2h0m0.1 8.6h0m0-1.8h0m0.1 10.4h0m0-7.3h0m0 6.1h0m0.1-4.8h0m0-12.5h0m0.1 4.9h0m0.2 11.8h0m0 12.3h0m0.1-8h0m0-1.2h0m0.3-23.2h0m0 17.1h0m0 1.5h0m0.1 2.9h0m0-19.2h0m0 7.1h0m0 2.5h0m0 23.7h0m0-30.2h0m0-2.6h0m0 17.1h0m0.1-3h0m0-16.9h0m0 13h0m0-6.3h0m0 4.6h0m0.1-4h0m0 1.4h0m0 6.6h0m0.1-1.3h0m0 6.5h0m0.1-15.8h0m0.1 25.4h0m0.1-28.7h0m0 22.2h0m0.3-0.9h0m0.1-0.4h0m0-14.2h0m0 2h0m0 13.3h0m0-4.4h0m0.1 19.5h0m0-32.5h0m0 8.4h0m0-9.7h0m0-2.1h0m0.1 3h0m0 13.6h0m0-10.9h0m0 2.5h0m0 16h0m0.1-13.2h0m0 3.9h0m0-16.8h0m0.1 24h0m0-9.4h0m0-3.7h0m0 17.1h0m0.1-25.4h0m0 17.1h0m0.2-3.6h0m0.4-3.5h0m0 5.2h0m0-13.9h0m0 18.7h0m0.1-14.5h0m0 12.6h0m0-5.1h0m0-9.4h0m0 0.3h0m0 3.7h0m0-8.1h0m0.1 23.4h0m0-12.6h0m0 10.9h0m0-12.6h0m0-1.8h0m0.1-10.1h0m0 5.2h0m0 10.3h0m0.1 16.3h0m0.2-14.8h0" stroke="#ff0000" stroke-width="2.1" stroke-linecap="round" fill="none"/><line x1="54.40" y1="6.30" x2="58.20" y2="6.30" stroke="#262626" stroke-width="1.15"/><text x="50.80" y="11.20" font-size="11.38" text-anchor="end" textLength="14.00" lengthAdjust="spacingAndGlyphs" fill="#000">30</text><line x1="54.40" y1="27.50" x2="58.20" y2="27.50" stroke="#262626" stroke-width="1.15"/><text x="50.80" y="32.40" font-size="11.38" text-anchor="end" textLength="14.00" lengthAdjust="spacingAndGlyphs" fill="#000">15</text><line x1="54.40" y1="48.70" x2="58.20" y2="48.70" stroke="#262626" stroke-width="1.15"/><text x="50.80" y="53.60" font-size="11.38" text-anchor="end" textLength="7.00" lengthAdjust="spacingAndGlyphs" fill="#000">0</text><line x1="54.40" y1="69.90" x2="58.20" y2="69.90" stroke="#262626" stroke-width="1.15"/><text x="50.80" y="74.80" font-size="11.38" text-anchor="end" textLength="23.21" lengthAdjust="spacingAndGlyphs" fill="#000">−15</text><line x1="54.40" y1="91.10" x2="58.20" y2="91.10" stroke="#262626" stroke-width="1.15"/><text x="50.80" y="96.00" font-size="11.38" text-anchor="end" textLength="23.21" lengthAdjust="spacingAndGlyphs" fill="#000">−30</text><line x1="54.40" y1="112.30" x2="58.20" y2="112.30" stroke="#262626" stroke-width="1.15"/><text x="50.80" y="117.20" font-size="11.38" text-anchor="end" textLength="23.21" lengthAdjust="spacingAndGlyphs" fill="#000">−45</text><line x1="66.43" y1="112.30" x2="66.43" y2="116.10" stroke="#262626" stroke-width="1.15"/><text x="66.43" y="128.50" font-size="11.38" text-anchor="middle" textLength="7.00" lengthAdjust="spacingAndGlyphs" fill="#000">0</text><line x1="124.78" y1="112.30" x2="124.78" y2="116.10" stroke="#262626" stroke-width="1.15"/><text x="124.78" y="128.50" font-size="11.38" text-anchor="middle" textLength="21.00" lengthAdjust="spacingAndGlyphs" fill="#000">100</text><line x1="183.13" y1="112.30" x2="183.13" y2="116.10" stroke="#262626" stroke-width="1.15"/><text x="183.13" y="128.50" font-size="11.38" text-anchor="middle" textLength="21.00" lengthAdjust="spacingAndGlyphs" fill="#000">200</text><rect x="58.20" y="6.30" width="181.00" height="106.00" fill="none" stroke="#262626" stroke-width="1.1"/><text x="75.50" y="19.40" font-size="11.38" text-anchor="middle" textLength="15.32" lengthAdjust="spacingAndGlyphs" fill="#000">(a)</text><text x="148.10" y="98.50" font-size="11.38" text-anchor="middle" textLength="22.69" lengthAdjust="spacingAndGlyphs" fill="#000">ACC</text><text x="149.70" y="111.20" font-size="11.38" text-anchor="middle" textLength="75.62" lengthAdjust="spacingAndGlyphs" fill="#000">Displacement</text><line x1="271.70" y1="6.30" x2="275.50" y2="6.30" stroke="#262626" stroke-width="1.15"/><line x1="271.70" y1="27.50" x2="275.50" y2="27.50" stroke="#262626" stroke-width="1.15"/><line x1="271.70" y1="48.70" x2="275.50" y2="48.70" stroke="#262626" stroke-width="1.15"/><line x1="271.70" y1="69.90" x2="275.50" y2="69.90" stroke="#262626" stroke-width="1.15"/><line x1="271.70" y1="91.10" x2="275.50" y2="91.10" stroke="#262626" stroke-width="1.15"/><line x1="271.70" y1="112.30" x2="275.50" y2="112.30" stroke="#262626" stroke-width="1.15"/><line x1="283.73" y1="112.30" x2="283.73" y2="116.10" stroke="#262626" stroke-width="1.15"/><text x="283.73" y="128.50" font-size="11.38" text-anchor="middle" textLength="7.00" lengthAdjust="spacingAndGlyphs" fill="#000">0</text><line x1="342.08" y1="112.30" x2="342.08" y2="116.10" stroke="#262626" stroke-width="1.15"/><text x="342.08" y="128.50" font-size="11.38" text-anchor="middle" textLength="21.00" lengthAdjust="spacingAndGlyphs" fill="#000">100</text><line x1="400.43" y1="112.30" x2="400.43" y2="116.10" stroke="#262626" stroke-width="1.15"/><text x="400.43" y="128.50" font-size="11.38" text-anchor="middle" textLength="21.00" lengthAdjust="spacingAndGlyphs" fill="#000">200</text><rect x="275.50" y="6.30" width="181.00" height="106.00" fill="none" stroke="#262626" stroke-width="1.1"/><text x="292.80" y="19.40" font-size="11.38" text-anchor="middle" textLength="15.35" lengthAdjust="spacingAndGlyphs" fill="#000">(e)</text><text x="365.40" y="98.50" font-size="11.38" text-anchor="middle" textLength="62.91" lengthAdjust="spacingAndGlyphs" fill="#000">ACC+GYRO</text><text x="367.00" y="111.20" font-size="11.38" text-anchor="middle" textLength="75.62" lengthAdjust="spacingAndGlyphs" fill="#000">Displacement</text><line x1="489.00" y1="6.30" x2="492.80" y2="6.30" stroke="#262626" stroke-width="1.15"/><line x1="489.00" y1="27.50" x2="492.80" y2="27.50" stroke="#262626" stroke-width="1.15"/><line x1="489.00" y1="48.70" x2="492.80" y2="48.70" stroke="#262626" stroke-width="1.15"/><line x1="489.00" y1="69.90" x2="492.80" y2="69.90" stroke="#262626" stroke-width="1.15"/><line x1="489.00" y1="91.10" x2="492.80" y2="91.10" stroke="#262626" stroke-width="1.15"/><line x1="489.00" y1="112.30" x2="492.80" y2="112.30" stroke="#262626" stroke-width="1.15"/><line x1="501.03" y1="112.30" x2="501.03" y2="116.10" stroke="#262626" stroke-width="1.15"/><text x="501.03" y="128.50" font-size="11.38" text-anchor="middle" textLength="7.00" lengthAdjust="spacingAndGlyphs" fill="#000">0</text><line x1="559.38" y1="112.30" x2="559.38" y2="116.10" stroke="#262626" stroke-width="1.15"/><text x="559.38" y="128.50" font-size="11.38" text-anchor="middle" textLength="21.00" lengthAdjust="spacingAndGlyphs" fill="#000">100</text><line x1="617.73" y1="112.30" x2="617.73" y2="116.10" stroke="#262626" stroke-width="1.15"/><text x="617.73" y="128.50" font-size="11.38" text-anchor="middle" textLength="21.00" lengthAdjust="spacingAndGlyphs" fill="#000">200</text><rect x="492.80" y="6.30" width="181.00" height="106.00" fill="none" stroke="#262626" stroke-width="1.1"/><text x="510.10" y="19.40" font-size="11.38" text-anchor="middle" textLength="11.64" lengthAdjust="spacingAndGlyphs" fill="#000">(i)</text><text x="582.70" y="98.50" font-size="11.38" text-anchor="middle" textLength="33.67" lengthAdjust="spacingAndGlyphs" fill="#000">INTEG</text><text x="584.30" y="111.20" font-size="11.38" text-anchor="middle" textLength="75.62" lengthAdjust="spacingAndGlyphs" fill="#000">Displacement</text><g transform="translate(18.7 59.90) rotate(-90)"><text x="0.00" y="0.00" font-size="11.38" text-anchor="middle" textLength="104.46" lengthAdjust="spacingAndGlyphs" fill="#000">Displacement (cm)</text></g><line x1="54.40" y1="134.10" x2="58.20" y2="134.10" stroke="#262626" stroke-width="1.15"/><text x="50.80" y="139.00" font-size="11.38" text-anchor="end" textLength="14.00" lengthAdjust="spacingAndGlyphs" fill="#000">30</text><line x1="54.40" y1="155.30" x2="58.20" y2="155.30" stroke="#262626" stroke-width="1.15"/><text x="50.80" y="160.20" font-size="11.38" text-anchor="end" textLength="14.00" lengthAdjust="spacingAndGlyphs" fill="#000">15</text><line x1="54.40" y1="176.50" x2="58.20" y2="176.50" stroke="#262626" stroke-width="1.15"/><text x="50.80" y="181.40" font-size="11.38" text-anchor="end" textLength="7.00" lengthAdjust="spacingAndGlyphs" fill="#000">0</text><line x1="54.40" y1="197.70" x2="58.20" y2="197.70" stroke="#262626" stroke-width="1.15"/><text x="50.80" y="202.60" font-size="11.38" text-anchor="end" textLength="23.21" lengthAdjust="spacingAndGlyphs" fill="#000">−15</text><line x1="54.40" y1="218.90" x2="58.20" y2="218.90" stroke="#262626" stroke-width="1.15"/><text x="50.80" y="223.80" font-size="11.38" text-anchor="end" textLength="23.21" lengthAdjust="spacingAndGlyphs" fill="#000">−30</text><line x1="54.40" y1="240.10" x2="58.20" y2="240.10" stroke="#262626" stroke-width="1.15"/><text x="50.80" y="245.00" font-size="11.38" text-anchor="end" textLength="23.21" lengthAdjust="spacingAndGlyphs" fill="#000">−45</text><line x1="66.43" y1="240.10" x2="66.43" y2="243.90" stroke="#262626" stroke-width="1.15"/><text x="66.43" y="256.30" font-size="11.38" text-anchor="middle" textLength="7.00" lengthAdjust="spacingAndGlyphs" fill="#000">0</text><line x1="124.78" y1="240.10" x2="124.78" y2="243.90" stroke="#262626" stroke-width="1.15"/><text x="124.78" y="256.30" font-size="11.38" text-anchor="middle" textLength="21.00" lengthAdjust="spacingAndGlyphs" fill="#000">100</text><line x1="183.13" y1="240.10" x2="183.13" y2="243.90" stroke="#262626" stroke-width="1.15"/><text x="183.13" y="256.30" font-size="11.38" text-anchor="middle" textLength="21.00" lengthAdjust="spacingAndGlyphs" fill="#000">200</text><rect x="58.20" y="134.10" width="181.00" height="106.00" fill="none" stroke="#262626" stroke-width="1.1"/><text x="75.50" y="147.20" font-size="11.38" text-anchor="middle" textLength="15.57" lengthAdjust="spacingAndGlyphs" fill="#000">(b)</text><text x="148.10" y="226.30" font-size="11.38" text-anchor="middle" textLength="22.69" lengthAdjust="spacingAndGlyphs" fill="#000">ACC</text><text x="149.70" y="239.00" font-size="11.38" text-anchor="middle" textLength="43.15" lengthAdjust="spacingAndGlyphs" fill="#000">Velocity</text><line x1="271.70" y1="134.10" x2="275.50" y2="134.10" stroke="#262626" stroke-width="1.15"/><line x1="271.70" y1="155.30" x2="275.50" y2="155.30" stroke="#262626" stroke-width="1.15"/><line x1="271.70" y1="176.50" x2="275.50" y2="176.50" stroke="#262626" stroke-width="1.15"/><line x1="271.70" y1="197.70" x2="275.50" y2="197.70" stroke="#262626" stroke-width="1.15"/><line x1="271.70" y1="218.90" x2="275.50" y2="218.90" stroke="#262626" stroke-width="1.15"/><line x1="271.70" y1="240.10" x2="275.50" y2="240.10" stroke="#262626" stroke-width="1.15"/><line x1="283.73" y1="240.10" x2="283.73" y2="243.90" stroke="#262626" stroke-width="1.15"/><text x="283.73" y="256.30" font-size="11.38" text-anchor="middle" textLength="7.00" lengthAdjust="spacingAndGlyphs" fill="#000">0</text><line x1="342.08" y1="240.10" x2="342.08" y2="243.90" stroke="#262626" stroke-width="1.15"/><text x="342.08" y="256.30" font-size="11.38" text-anchor="middle" textLength="21.00" lengthAdjust="spacingAndGlyphs" fill="#000">100</text><line x1="400.43" y1="240.10" x2="400.43" y2="243.90" stroke="#262626" stroke-width="1.15"/><text x="400.43" y="256.30" font-size="11.38" text-anchor="middle" textLength="21.00" lengthAdjust="spacingAndGlyphs" fill="#000">200</text><rect x="275.50" y="134.10" width="181.00" height="106.00" fill="none" stroke="#262626" stroke-width="1.1"/><text x="292.80" y="147.20" font-size="11.38" text-anchor="middle" textLength="12.46" lengthAdjust="spacingAndGlyphs" fill="#000">(f)</text><text x="365.40" y="226.30" font-size="11.38" text-anchor="middle" textLength="62.91" lengthAdjust="spacingAndGlyphs" fill="#000">ACC+GYRO</text><text x="367.00" y="239.00" font-size="11.38" text-anchor="middle" textLength="43.15" lengthAdjust="spacingAndGlyphs" fill="#000">Velocity</text><line x1="489.00" y1="134.10" x2="492.80" y2="134.10" stroke="#262626" stroke-width="1.15"/><line x1="489.00" y1="155.30" x2="492.80" y2="155.30" stroke="#262626" stroke-width="1.15"/><line x1="489.00" y1="176.50" x2="492.80" y2="176.50" stroke="#262626" stroke-width="1.15"/><line x1="489.00" y1="197.70" x2="492.80" y2="197.70" stroke="#262626" stroke-width="1.15"/><line x1="489.00" y1="218.90" x2="492.80" y2="218.90" stroke="#262626" stroke-width="1.15"/><line x1="489.00" y1="240.10" x2="492.80" y2="240.10" stroke="#262626" stroke-width="1.15"/><line x1="501.03" y1="240.10" x2="501.03" y2="243.90" stroke="#262626" stroke-width="1.15"/><text x="501.03" y="256.30" font-size="11.38" text-anchor="middle" textLength="7.00" lengthAdjust="spacingAndGlyphs" fill="#000">0</text><line x1="559.38" y1="240.10" x2="559.38" y2="243.90" stroke="#262626" stroke-width="1.15"/><text x="559.38" y="256.30" font-size="11.38" text-anchor="middle" textLength="21.00" lengthAdjust="spacingAndGlyphs" fill="#000">100</text><line x1="617.73" y1="240.10" x2="617.73" y2="243.90" stroke="#262626" stroke-width="1.15"/><text x="617.73" y="256.30" font-size="11.38" text-anchor="middle" textLength="21.00" lengthAdjust="spacingAndGlyphs" fill="#000">200</text><rect x="492.80" y="134.10" width="181.00" height="106.00" fill="none" stroke="#262626" stroke-width="1.1"/><text x="510.10" y="147.20" font-size="11.38" text-anchor="middle" textLength="11.64" lengthAdjust="spacingAndGlyphs" fill="#000">(j)</text><text x="582.70" y="226.30" font-size="11.38" text-anchor="middle" textLength="33.67" lengthAdjust="spacingAndGlyphs" fill="#000">INTEG</text><text x="584.30" y="239.00" font-size="11.38" text-anchor="middle" textLength="43.15" lengthAdjust="spacingAndGlyphs" fill="#000">Velocity</text><g transform="translate(18.7 187.70) rotate(-90)"><text x="0.00" y="0.00" font-size="11.38" text-anchor="middle" textLength="81.43" lengthAdjust="spacingAndGlyphs" fill="#000">Velocity (cm/s)</text></g><line x1="54.40" y1="261.40" x2="58.20" y2="261.40" stroke="#262626" stroke-width="1.15"/><text x="24.03" y="266.60" font-size="11.38" text-anchor="start" textLength="14.00" lengthAdjust="spacingAndGlyphs" fill="#000">10</text><text x="38.62" y="262.50" font-size="8.58" textLength="10.38" lengthAdjust="spacingAndGlyphs">−1</text><line x1="54.40" y1="287.90" x2="58.20" y2="287.90" stroke="#262626" stroke-width="1.15"/><text x="24.03" y="293.10" font-size="11.38" text-anchor="start" textLength="14.00" lengthAdjust="spacingAndGlyphs" fill="#000">10</text><text x="38.62" y="289.00" font-size="8.58" textLength="10.38" lengthAdjust="spacingAndGlyphs">−4</text><line x1="54.40" y1="314.40" x2="58.20" y2="314.40" stroke="#262626" stroke-width="1.15"/><text x="24.03" y="319.60" font-size="11.38" text-anchor="start" textLength="14.00" lengthAdjust="spacingAndGlyphs" fill="#000">10</text><text x="38.62" y="315.50" font-size="8.58" textLength="10.38" lengthAdjust="spacingAndGlyphs">−7</text><line x1="54.40" y1="340.90" x2="58.20" y2="340.90" stroke="#262626" stroke-width="1.15"/><text x="19.55" y="346.10" font-size="11.38" text-anchor="start" textLength="14.00" lengthAdjust="spacingAndGlyphs" fill="#000">10</text><text x="34.14" y="342.00" font-size="8.58" textLength="14.86" lengthAdjust="spacingAndGlyphs">−10</text><line x1="54.40" y1="367.40" x2="58.20" y2="367.40" stroke="#262626" stroke-width="1.15"/><text x="19.55" y="372.60" font-size="11.38" text-anchor="start" textLength="14.00" lengthAdjust="spacingAndGlyphs" fill="#000">10</text><text x="34.14" y="368.50" font-size="8.58" textLength="14.86" lengthAdjust="spacingAndGlyphs">−13</text><line x1="58.20" y1="367.40" x2="58.20" y2="371.20" stroke="#262626" stroke-width="1.15"/><text x="46.01" y="386.60" font-size="11.38" text-anchor="start" textLength="14.00" lengthAdjust="spacingAndGlyphs" fill="#000">10</text><text x="60.61" y="382.50" font-size="8.58" textLength="10.38" lengthAdjust="spacingAndGlyphs">−2</text><line x1="76.36" y1="367.40" x2="76.36" y2="369.60" stroke="#262626" stroke-width="0.9"/><line x1="86.99" y1="367.40" x2="86.99" y2="369.60" stroke="#262626" stroke-width="0.9"/><line x1="94.52" y1="367.40" x2="94.52" y2="369.60" stroke="#262626" stroke-width="0.9"/><line x1="100.37" y1="367.40" x2="100.37" y2="369.60" stroke="#262626" stroke-width="0.9"/><line x1="105.15" y1="367.40" x2="105.15" y2="369.60" stroke="#262626" stroke-width="0.9"/><line x1="109.19" y1="367.40" x2="109.19" y2="369.60" stroke="#262626" stroke-width="0.9"/><line x1="112.69" y1="367.40" x2="112.69" y2="369.60" stroke="#262626" stroke-width="0.9"/><line x1="115.77" y1="367.40" x2="115.77" y2="369.60" stroke="#262626" stroke-width="0.9"/><line x1="118.53" y1="367.40" x2="118.53" y2="371.20" stroke="#262626" stroke-width="1.15"/><text x="106.35" y="386.60" font-size="11.38" text-anchor="start" textLength="14.00" lengthAdjust="spacingAndGlyphs" fill="#000">10</text><text x="120.94" y="382.50" font-size="8.58" textLength="10.38" lengthAdjust="spacingAndGlyphs">−1</text><line x1="136.70" y1="367.40" x2="136.70" y2="369.60" stroke="#262626" stroke-width="0.9"/><line x1="147.32" y1="367.40" x2="147.32" y2="369.60" stroke="#262626" stroke-width="0.9"/><line x1="154.86" y1="367.40" x2="154.86" y2="369.60" stroke="#262626" stroke-width="0.9"/><line x1="160.70" y1="367.40" x2="160.70" y2="369.60" stroke="#262626" stroke-width="0.9"/><line x1="165.48" y1="367.40" x2="165.48" y2="369.60" stroke="#262626" stroke-width="0.9"/><line x1="169.52" y1="367.40" x2="169.52" y2="369.60" stroke="#262626" stroke-width="0.9"/><line x1="173.02" y1="367.40" x2="173.02" y2="369.60" stroke="#262626" stroke-width="0.9"/><line x1="176.11" y1="367.40" x2="176.11" y2="369.60" stroke="#262626" stroke-width="0.9"/><line x1="178.87" y1="367.40" x2="178.87" y2="371.20" stroke="#262626" stroke-width="1.15"/><text x="169.63" y="386.60" font-size="11.38" text-anchor="start" textLength="14.00" lengthAdjust="spacingAndGlyphs" fill="#000">10</text><text x="184.23" y="382.50" font-size="8.58" textLength="4.48" lengthAdjust="spacingAndGlyphs">0</text><line x1="197.03" y1="367.40" x2="197.03" y2="369.60" stroke="#262626" stroke-width="0.9"/><line x1="207.65" y1="367.40" x2="207.65" y2="369.60" stroke="#262626" stroke-width="0.9"/><line x1="215.19" y1="367.40" x2="215.19" y2="369.60" stroke="#262626" stroke-width="0.9"/><line x1="221.04" y1="367.40" x2="221.04" y2="369.60" stroke="#262626" stroke-width="0.9"/><line x1="225.82" y1="367.40" x2="225.82" y2="369.60" stroke="#262626" stroke-width="0.9"/><line x1="229.85" y1="367.40" x2="229.85" y2="369.60" stroke="#262626" stroke-width="0.9"/><line x1="233.35" y1="367.40" x2="233.35" y2="369.60" stroke="#262626" stroke-width="0.9"/><line x1="236.44" y1="367.40" x2="236.44" y2="369.60" stroke="#262626" stroke-width="0.9"/><line x1="239.20" y1="367.40" x2="239.20" y2="371.20" stroke="#262626" stroke-width="1.15"/><text x="229.96" y="386.60" font-size="11.38" text-anchor="start" textLength="14.00" lengthAdjust="spacingAndGlyphs" fill="#000">10</text><text x="244.56" y="382.50" font-size="8.58" textLength="4.48" lengthAdjust="spacingAndGlyphs">1</text><rect x="58.20" y="261.40" width="181.00" height="106.00" fill="none" stroke="#262626" stroke-width="1.1"/><text x="75.50" y="274.50" font-size="11.38" text-anchor="middle" textLength="14.63" lengthAdjust="spacingAndGlyphs" fill="#000">(c)</text><text x="148.10" y="353.60" font-size="11.38" text-anchor="middle" textLength="22.69" lengthAdjust="spacingAndGlyphs" fill="#000">ACC</text><text x="149.70" y="366.30" font-size="11.38" text-anchor="middle" textLength="98.72" lengthAdjust="spacingAndGlyphs" fill="#000">Position Error PSD</text><line x1="271.70" y1="261.40" x2="275.50" y2="261.40" stroke="#262626" stroke-width="1.15"/><line x1="271.70" y1="287.90" x2="275.50" y2="287.90" stroke="#262626" stroke-width="1.15"/><line x1="271.70" y1="314.40" x2="275.50" y2="314.40" stroke="#262626" stroke-width="1.15"/><line x1="271.70" y1="340.90" x2="275.50" y2="340.90" stroke="#262626" stroke-width="1.15"/><line x1="271.70" y1="367.40" x2="275.50" y2="367.40" stroke="#262626" stroke-width="1.15"/><line x1="275.50" y1="367.40" x2="275.50" y2="371.20" stroke="#262626" stroke-width="1.15"/><text x="263.31" y="386.60" font-size="11.38" text-anchor="start" textLength="14.00" lengthAdjust="spacingAndGlyphs" fill="#000">10</text><text x="277.91" y="382.50" font-size="8.58" textLength="10.38" lengthAdjust="spacingAndGlyphs">−2</text><line x1="293.66" y1="367.40" x2="293.66" y2="369.60" stroke="#262626" stroke-width="0.9"/><line x1="304.29" y1="367.40" x2="304.29" y2="369.60" stroke="#262626" stroke-width="0.9"/><line x1="311.82" y1="367.40" x2="311.82" y2="369.60" stroke="#262626" stroke-width="0.9"/><line x1="317.67" y1="367.40" x2="317.67" y2="369.60" stroke="#262626" stroke-width="0.9"/><line x1="322.45" y1="367.40" x2="322.45" y2="369.60" stroke="#262626" stroke-width="0.9"/><line x1="326.49" y1="367.40" x2="326.49" y2="369.60" stroke="#262626" stroke-width="0.9"/><line x1="329.99" y1="367.40" x2="329.99" y2="369.60" stroke="#262626" stroke-width="0.9"/><line x1="333.07" y1="367.40" x2="333.07" y2="369.60" stroke="#262626" stroke-width="0.9"/><line x1="335.83" y1="367.40" x2="335.83" y2="371.20" stroke="#262626" stroke-width="1.15"/><text x="323.65" y="386.60" font-size="11.38" text-anchor="start" textLength="14.00" lengthAdjust="spacingAndGlyphs" fill="#000">10</text><text x="338.24" y="382.50" font-size="8.58" textLength="10.38" lengthAdjust="spacingAndGlyphs">−1</text><line x1="354.00" y1="367.40" x2="354.00" y2="369.60" stroke="#262626" stroke-width="0.9"/><line x1="364.62" y1="367.40" x2="364.62" y2="369.60" stroke="#262626" stroke-width="0.9"/><line x1="372.16" y1="367.40" x2="372.16" y2="369.60" stroke="#262626" stroke-width="0.9"/><line x1="378.00" y1="367.40" x2="378.00" y2="369.60" stroke="#262626" stroke-width="0.9"/><line x1="382.78" y1="367.40" x2="382.78" y2="369.60" stroke="#262626" stroke-width="0.9"/><line x1="386.82" y1="367.40" x2="386.82" y2="369.60" stroke="#262626" stroke-width="0.9"/><line x1="390.32" y1="367.40" x2="390.32" y2="369.60" stroke="#262626" stroke-width="0.9"/><line x1="393.41" y1="367.40" x2="393.41" y2="369.60" stroke="#262626" stroke-width="0.9"/><line x1="396.17" y1="367.40" x2="396.17" y2="371.20" stroke="#262626" stroke-width="1.15"/><text x="386.93" y="386.60" font-size="11.38" text-anchor="start" textLength="14.00" lengthAdjust="spacingAndGlyphs" fill="#000">10</text><text x="401.53" y="382.50" font-size="8.58" textLength="4.48" lengthAdjust="spacingAndGlyphs">0</text><line x1="414.33" y1="367.40" x2="414.33" y2="369.60" stroke="#262626" stroke-width="0.9"/><line x1="424.95" y1="367.40" x2="424.95" y2="369.60" stroke="#262626" stroke-width="0.9"/><line x1="432.49" y1="367.40" x2="432.49" y2="369.60" stroke="#262626" stroke-width="0.9"/><line x1="438.34" y1="367.40" x2="438.34" y2="369.60" stroke="#262626" stroke-width="0.9"/><line x1="443.12" y1="367.40" x2="443.12" y2="369.60" stroke="#262626" stroke-width="0.9"/><line x1="447.15" y1="367.40" x2="447.15" y2="369.60" stroke="#262626" stroke-width="0.9"/><line x1="450.65" y1="367.40" x2="450.65" y2="369.60" stroke="#262626" stroke-width="0.9"/><line x1="453.74" y1="367.40" x2="453.74" y2="369.60" stroke="#262626" stroke-width="0.9"/><line x1="456.50" y1="367.40" x2="456.50" y2="371.20" stroke="#262626" stroke-width="1.15"/><text x="447.26" y="386.60" font-size="11.38" text-anchor="start" textLength="14.00" lengthAdjust="spacingAndGlyphs" fill="#000">10</text><text x="461.86" y="382.50" font-size="8.58" textLength="4.48" lengthAdjust="spacingAndGlyphs">1</text><rect x="275.50" y="261.40" width="181.00" height="106.00" fill="none" stroke="#262626" stroke-width="1.1"/><text x="292.80" y="274.50" font-size="11.38" text-anchor="middle" textLength="15.57" lengthAdjust="spacingAndGlyphs" fill="#000">(g)</text><text x="365.40" y="353.60" font-size="11.38" text-anchor="middle" textLength="62.91" lengthAdjust="spacingAndGlyphs" fill="#000">ACC+GYRO</text><text x="367.00" y="366.30" font-size="11.38" text-anchor="middle" textLength="98.72" lengthAdjust="spacingAndGlyphs" fill="#000">Position Error PSD</text><line x1="489.00" y1="261.40" x2="492.80" y2="261.40" stroke="#262626" stroke-width="1.15"/><line x1="489.00" y1="287.90" x2="492.80" y2="287.90" stroke="#262626" stroke-width="1.15"/><line x1="489.00" y1="314.40" x2="492.80" y2="314.40" stroke="#262626" stroke-width="1.15"/><line x1="489.00" y1="340.90" x2="492.80" y2="340.90" stroke="#262626" stroke-width="1.15"/><line x1="489.00" y1="367.40" x2="492.80" y2="367.40" stroke="#262626" stroke-width="1.15"/><line x1="492.80" y1="367.40" x2="492.80" y2="371.20" stroke="#262626" stroke-width="1.15"/><text x="480.61" y="386.60" font-size="11.38" text-anchor="start" textLength="14.00" lengthAdjust="spacingAndGlyphs" fill="#000">10</text><text x="495.21" y="382.50" font-size="8.58" textLength="10.38" lengthAdjust="spacingAndGlyphs">−2</text><line x1="510.96" y1="367.40" x2="510.96" y2="369.60" stroke="#262626" stroke-width="0.9"/><line x1="521.59" y1="367.40" x2="521.59" y2="369.60" stroke="#262626" stroke-width="0.9"/><line x1="529.12" y1="367.40" x2="529.12" y2="369.60" stroke="#262626" stroke-width="0.9"/><line x1="534.97" y1="367.40" x2="534.97" y2="369.60" stroke="#262626" stroke-width="0.9"/><line x1="539.75" y1="367.40" x2="539.75" y2="369.60" stroke="#262626" stroke-width="0.9"/><line x1="543.79" y1="367.40" x2="543.79" y2="369.60" stroke="#262626" stroke-width="0.9"/><line x1="547.29" y1="367.40" x2="547.29" y2="369.60" stroke="#262626" stroke-width="0.9"/><line x1="550.37" y1="367.40" x2="550.37" y2="369.60" stroke="#262626" stroke-width="0.9"/><line x1="553.13" y1="367.40" x2="553.13" y2="371.20" stroke="#262626" stroke-width="1.15"/><text x="540.95" y="386.60" font-size="11.38" text-anchor="start" textLength="14.00" lengthAdjust="spacingAndGlyphs" fill="#000">10</text><text x="555.54" y="382.50" font-size="8.58" textLength="10.38" lengthAdjust="spacingAndGlyphs">−1</text><line x1="571.30" y1="367.40" x2="571.30" y2="369.60" stroke="#262626" stroke-width="0.9"/><line x1="581.92" y1="367.40" x2="581.92" y2="369.60" stroke="#262626" stroke-width="0.9"/><line x1="589.46" y1="367.40" x2="589.46" y2="369.60" stroke="#262626" stroke-width="0.9"/><line x1="595.30" y1="367.40" x2="595.30" y2="369.60" stroke="#262626" stroke-width="0.9"/><line x1="600.08" y1="367.40" x2="600.08" y2="369.60" stroke="#262626" stroke-width="0.9"/><line x1="604.12" y1="367.40" x2="604.12" y2="369.60" stroke="#262626" stroke-width="0.9"/><line x1="607.62" y1="367.40" x2="607.62" y2="369.60" stroke="#262626" stroke-width="0.9"/><line x1="610.71" y1="367.40" x2="610.71" y2="369.60" stroke="#262626" stroke-width="0.9"/><line x1="613.47" y1="367.40" x2="613.47" y2="371.20" stroke="#262626" stroke-width="1.15"/><text x="604.23" y="386.60" font-size="11.38" text-anchor="start" textLength="14.00" lengthAdjust="spacingAndGlyphs" fill="#000">10</text><text x="618.83" y="382.50" font-size="8.58" textLength="4.48" lengthAdjust="spacingAndGlyphs">0</text><line x1="631.63" y1="367.40" x2="631.63" y2="369.60" stroke="#262626" stroke-width="0.9"/><line x1="642.25" y1="367.40" x2="642.25" y2="369.60" stroke="#262626" stroke-width="0.9"/><line x1="649.79" y1="367.40" x2="649.79" y2="369.60" stroke="#262626" stroke-width="0.9"/><line x1="655.64" y1="367.40" x2="655.64" y2="369.60" stroke="#262626" stroke-width="0.9"/><line x1="660.42" y1="367.40" x2="660.42" y2="369.60" stroke="#262626" stroke-width="0.9"/><line x1="664.45" y1="367.40" x2="664.45" y2="369.60" stroke="#262626" stroke-width="0.9"/><line x1="667.95" y1="367.40" x2="667.95" y2="369.60" stroke="#262626" stroke-width="0.9"/><line x1="671.04" y1="367.40" x2="671.04" y2="369.60" stroke="#262626" stroke-width="0.9"/><line x1="673.80" y1="367.40" x2="673.80" y2="371.20" stroke="#262626" stroke-width="1.15"/><text x="664.56" y="386.60" font-size="11.38" text-anchor="start" textLength="14.00" lengthAdjust="spacingAndGlyphs" fill="#000">10</text><text x="679.16" y="382.50" font-size="8.58" textLength="4.48" lengthAdjust="spacingAndGlyphs">1</text><rect x="492.80" y="261.40" width="181.00" height="106.00" fill="none" stroke="#262626" stroke-width="1.1"/><text x="510.10" y="274.50" font-size="11.38" text-anchor="middle" textLength="14.95" lengthAdjust="spacingAndGlyphs" fill="#000">(k)</text><text x="582.70" y="353.60" font-size="11.38" text-anchor="middle" textLength="33.67" lengthAdjust="spacingAndGlyphs" fill="#000">INTEG</text><text x="584.30" y="366.30" font-size="11.38" text-anchor="middle" textLength="98.72" lengthAdjust="spacingAndGlyphs" fill="#000">Position Error PSD</text><g transform="translate(11.4 315.00) rotate(-90)"><text x="0.00" y="0.00" font-size="11.38" text-anchor="middle" textLength="73.09" lengthAdjust="spacingAndGlyphs" fill="#000">PSD (cm²/Hz)</text></g><line x1="54.40" y1="404.32" x2="58.20" y2="404.32" stroke="#262626" stroke-width="1.15"/><text x="29.92" y="409.52" font-size="11.38" text-anchor="start" textLength="14.00" lengthAdjust="spacingAndGlyphs" fill="#000">10</text><text x="44.52" y="405.42" font-size="8.58" textLength="4.48" lengthAdjust="spacingAndGlyphs">0</text><line x1="54.40" y1="434.71" x2="58.20" y2="434.71" stroke="#262626" stroke-width="1.15"/><text x="24.03" y="439.91" font-size="11.38" text-anchor="start" textLength="14.00" lengthAdjust="spacingAndGlyphs" fill="#000">10</text><text x="38.62" y="435.81" font-size="8.58" textLength="10.38" lengthAdjust="spacingAndGlyphs">−2</text><line x1="54.40" y1="465.11" x2="58.20" y2="465.11" stroke="#262626" stroke-width="1.15"/><text x="24.03" y="470.31" font-size="11.38" text-anchor="start" textLength="14.00" lengthAdjust="spacingAndGlyphs" fill="#000">10</text><text x="38.62" y="466.21" font-size="8.58" textLength="10.38" lengthAdjust="spacingAndGlyphs">−4</text><line x1="54.40" y1="495.50" x2="58.20" y2="495.50" stroke="#262626" stroke-width="1.15"/><text x="24.03" y="500.70" font-size="11.38" text-anchor="start" textLength="14.00" lengthAdjust="spacingAndGlyphs" fill="#000">10</text><text x="38.62" y="496.60" font-size="8.58" textLength="10.38" lengthAdjust="spacingAndGlyphs">−6</text><line x1="58.20" y1="495.50" x2="58.20" y2="499.30" stroke="#262626" stroke-width="1.15"/><text x="46.01" y="514.10" font-size="11.38" text-anchor="start" textLength="14.00" lengthAdjust="spacingAndGlyphs" fill="#000">10</text><text x="60.61" y="510.00" font-size="8.58" textLength="10.38" lengthAdjust="spacingAndGlyphs">−2</text><line x1="76.36" y1="495.50" x2="76.36" y2="497.70" stroke="#262626" stroke-width="0.9"/><line x1="86.99" y1="495.50" x2="86.99" y2="497.70" stroke="#262626" stroke-width="0.9"/><line x1="94.52" y1="495.50" x2="94.52" y2="497.70" stroke="#262626" stroke-width="0.9"/><line x1="100.37" y1="495.50" x2="100.37" y2="497.70" stroke="#262626" stroke-width="0.9"/><line x1="105.15" y1="495.50" x2="105.15" y2="497.70" stroke="#262626" stroke-width="0.9"/><line x1="109.19" y1="495.50" x2="109.19" y2="497.70" stroke="#262626" stroke-width="0.9"/><line x1="112.69" y1="495.50" x2="112.69" y2="497.70" stroke="#262626" stroke-width="0.9"/><line x1="115.77" y1="495.50" x2="115.77" y2="497.70" stroke="#262626" stroke-width="0.9"/><line x1="118.53" y1="495.50" x2="118.53" y2="499.30" stroke="#262626" stroke-width="1.15"/><text x="106.35" y="514.10" font-size="11.38" text-anchor="start" textLength="14.00" lengthAdjust="spacingAndGlyphs" fill="#000">10</text><text x="120.94" y="510.00" font-size="8.58" textLength="10.38" lengthAdjust="spacingAndGlyphs">−1</text><line x1="136.70" y1="495.50" x2="136.70" y2="497.70" stroke="#262626" stroke-width="0.9"/><line x1="147.32" y1="495.50" x2="147.32" y2="497.70" stroke="#262626" stroke-width="0.9"/><line x1="154.86" y1="495.50" x2="154.86" y2="497.70" stroke="#262626" stroke-width="0.9"/><line x1="160.70" y1="495.50" x2="160.70" y2="497.70" stroke="#262626" stroke-width="0.9"/><line x1="165.48" y1="495.50" x2="165.48" y2="497.70" stroke="#262626" stroke-width="0.9"/><line x1="169.52" y1="495.50" x2="169.52" y2="497.70" stroke="#262626" stroke-width="0.9"/><line x1="173.02" y1="495.50" x2="173.02" y2="497.70" stroke="#262626" stroke-width="0.9"/><line x1="176.11" y1="495.50" x2="176.11" y2="497.70" stroke="#262626" stroke-width="0.9"/><line x1="178.87" y1="495.50" x2="178.87" y2="499.30" stroke="#262626" stroke-width="1.15"/><text x="169.63" y="514.10" font-size="11.38" text-anchor="start" textLength="14.00" lengthAdjust="spacingAndGlyphs" fill="#000">10</text><text x="184.23" y="510.00" font-size="8.58" textLength="4.48" lengthAdjust="spacingAndGlyphs">0</text><line x1="197.03" y1="495.50" x2="197.03" y2="497.70" stroke="#262626" stroke-width="0.9"/><line x1="207.65" y1="495.50" x2="207.65" y2="497.70" stroke="#262626" stroke-width="0.9"/><line x1="215.19" y1="495.50" x2="215.19" y2="497.70" stroke="#262626" stroke-width="0.9"/><line x1="221.04" y1="495.50" x2="221.04" y2="497.70" stroke="#262626" stroke-width="0.9"/><line x1="225.82" y1="495.50" x2="225.82" y2="497.70" stroke="#262626" stroke-width="0.9"/><line x1="229.85" y1="495.50" x2="229.85" y2="497.70" stroke="#262626" stroke-width="0.9"/><line x1="233.35" y1="495.50" x2="233.35" y2="497.70" stroke="#262626" stroke-width="0.9"/><line x1="236.44" y1="495.50" x2="236.44" y2="497.70" stroke="#262626" stroke-width="0.9"/><line x1="239.20" y1="495.50" x2="239.20" y2="499.30" stroke="#262626" stroke-width="1.15"/><text x="229.96" y="514.10" font-size="11.38" text-anchor="start" textLength="14.00" lengthAdjust="spacingAndGlyphs" fill="#000">10</text><text x="244.56" y="510.00" font-size="8.58" textLength="4.48" lengthAdjust="spacingAndGlyphs">1</text><rect x="58.20" y="389.50" width="181.00" height="106.00" fill="none" stroke="#262626" stroke-width="1.1"/><text x="75.50" y="402.60" font-size="11.38" text-anchor="middle" textLength="15.57" lengthAdjust="spacingAndGlyphs" fill="#000">(d)</text><text x="148.10" y="481.70" font-size="11.38" text-anchor="middle" textLength="22.69" lengthAdjust="spacingAndGlyphs" fill="#000">ACC</text><text x="149.70" y="494.40" font-size="11.38" text-anchor="middle" textLength="103.11" lengthAdjust="spacingAndGlyphs" fill="#000">Response Function</text><line x1="271.70" y1="404.32" x2="275.50" y2="404.32" stroke="#262626" stroke-width="1.15"/><line x1="271.70" y1="434.71" x2="275.50" y2="434.71" stroke="#262626" stroke-width="1.15"/><line x1="271.70" y1="465.11" x2="275.50" y2="465.11" stroke="#262626" stroke-width="1.15"/><line x1="271.70" y1="495.50" x2="275.50" y2="495.50" stroke="#262626" stroke-width="1.15"/><line x1="275.50" y1="495.50" x2="275.50" y2="499.30" stroke="#262626" stroke-width="1.15"/><text x="263.31" y="514.10" font-size="11.38" text-anchor="start" textLength="14.00" lengthAdjust="spacingAndGlyphs" fill="#000">10</text><text x="277.91" y="510.00" font-size="8.58" textLength="10.38" lengthAdjust="spacingAndGlyphs">−2</text><line x1="293.66" y1="495.50" x2="293.66" y2="497.70" stroke="#262626" stroke-width="0.9"/><line x1="304.29" y1="495.50" x2="304.29" y2="497.70" stroke="#262626" stroke-width="0.9"/><line x1="311.82" y1="495.50" x2="311.82" y2="497.70" stroke="#262626" stroke-width="0.9"/><line x1="317.67" y1="495.50" x2="317.67" y2="497.70" stroke="#262626" stroke-width="0.9"/><line x1="322.45" y1="495.50" x2="322.45" y2="497.70" stroke="#262626" stroke-width="0.9"/><line x1="326.49" y1="495.50" x2="326.49" y2="497.70" stroke="#262626" stroke-width="0.9"/><line x1="329.99" y1="495.50" x2="329.99" y2="497.70" stroke="#262626" stroke-width="0.9"/><line x1="333.07" y1="495.50" x2="333.07" y2="497.70" stroke="#262626" stroke-width="0.9"/><line x1="335.83" y1="495.50" x2="335.83" y2="499.30" stroke="#262626" stroke-width="1.15"/><text x="323.65" y="514.10" font-size="11.38" text-anchor="start" textLength="14.00" lengthAdjust="spacingAndGlyphs" fill="#000">10</text><text x="338.24" y="510.00" font-size="8.58" textLength="10.38" lengthAdjust="spacingAndGlyphs">−1</text><line x1="354.00" y1="495.50" x2="354.00" y2="497.70" stroke="#262626" stroke-width="0.9"/><line x1="364.62" y1="495.50" x2="364.62" y2="497.70" stroke="#262626" stroke-width="0.9"/><line x1="372.16" y1="495.50" x2="372.16" y2="497.70" stroke="#262626" stroke-width="0.9"/><line x1="378.00" y1="495.50" x2="378.00" y2="497.70" stroke="#262626" stroke-width="0.9"/><line x1="382.78" y1="495.50" x2="382.78" y2="497.70" stroke="#262626" stroke-width="0.9"/><line x1="386.82" y1="495.50" x2="386.82" y2="497.70" stroke="#262626" stroke-width="0.9"/><line x1="390.32" y1="495.50" x2="390.32" y2="497.70" stroke="#262626" stroke-width="0.9"/><line x1="393.41" y1="495.50" x2="393.41" y2="497.70" stroke="#262626" stroke-width="0.9"/><line x1="396.17" y1="495.50" x2="396.17" y2="499.30" stroke="#262626" stroke-width="1.15"/><text x="386.93" y="514.10" font-size="11.38" text-anchor="start" textLength="14.00" lengthAdjust="spacingAndGlyphs" fill="#000">10</text><text x="401.53" y="510.00" font-size="8.58" textLength="4.48" lengthAdjust="spacingAndGlyphs">0</text><line x1="414.33" y1="495.50" x2="414.33" y2="497.70" stroke="#262626" stroke-width="0.9"/><line x1="424.95" y1="495.50" x2="424.95" y2="497.70" stroke="#262626" stroke-width="0.9"/><line x1="432.49" y1="495.50" x2="432.49" y2="497.70" stroke="#262626" stroke-width="0.9"/><line x1="438.34" y1="495.50" x2="438.34" y2="497.70" stroke="#262626" stroke-width="0.9"/><line x1="443.12" y1="495.50" x2="443.12" y2="497.70" stroke="#262626" stroke-width="0.9"/><line x1="447.15" y1="495.50" x2="447.15" y2="497.70" stroke="#262626" stroke-width="0.9"/><line x1="450.65" y1="495.50" x2="450.65" y2="497.70" stroke="#262626" stroke-width="0.9"/><line x1="453.74" y1="495.50" x2="453.74" y2="497.70" stroke="#262626" stroke-width="0.9"/><line x1="456.50" y1="495.50" x2="456.50" y2="499.30" stroke="#262626" stroke-width="1.15"/><text x="447.26" y="514.10" font-size="11.38" text-anchor="start" textLength="14.00" lengthAdjust="spacingAndGlyphs" fill="#000">10</text><text x="461.86" y="510.00" font-size="8.58" textLength="4.48" lengthAdjust="spacingAndGlyphs">1</text><rect x="275.50" y="389.50" width="181.00" height="106.00" fill="none" stroke="#262626" stroke-width="1.1"/><text x="292.80" y="402.60" font-size="11.38" text-anchor="middle" textLength="15.55" lengthAdjust="spacingAndGlyphs" fill="#000">(h)</text><text x="365.40" y="481.70" font-size="11.38" text-anchor="middle" textLength="62.91" lengthAdjust="spacingAndGlyphs" fill="#000">ACC+GYRO</text><text x="367.00" y="494.40" font-size="11.38" text-anchor="middle" textLength="103.11" lengthAdjust="spacingAndGlyphs" fill="#000">Response Function</text><line x1="489.00" y1="404.32" x2="492.80" y2="404.32" stroke="#262626" stroke-width="1.15"/><line x1="489.00" y1="434.71" x2="492.80" y2="434.71" stroke="#262626" stroke-width="1.15"/><line x1="489.00" y1="465.11" x2="492.80" y2="465.11" stroke="#262626" stroke-width="1.15"/><line x1="489.00" y1="495.50" x2="492.80" y2="495.50" stroke="#262626" stroke-width="1.15"/><line x1="492.80" y1="495.50" x2="492.80" y2="499.30" stroke="#262626" stroke-width="1.15"/><text x="480.61" y="514.10" font-size="11.38" text-anchor="start" textLength="14.00" lengthAdjust="spacingAndGlyphs" fill="#000">10</text><text x="495.21" y="510.00" font-size="8.58" textLength="10.38" lengthAdjust="spacingAndGlyphs">−2</text><line x1="510.96" y1="495.50" x2="510.96" y2="497.70" stroke="#262626" stroke-width="0.9"/><line x1="521.59" y1="495.50" x2="521.59" y2="497.70" stroke="#262626" stroke-width="0.9"/><line x1="529.12" y1="495.50" x2="529.12" y2="497.70" stroke="#262626" stroke-width="0.9"/><line x1="534.97" y1="495.50" x2="534.97" y2="497.70" stroke="#262626" stroke-width="0.9"/><line x1="539.75" y1="495.50" x2="539.75" y2="497.70" stroke="#262626" stroke-width="0.9"/><line x1="543.79" y1="495.50" x2="543.79" y2="497.70" stroke="#262626" stroke-width="0.9"/><line x1="547.29" y1="495.50" x2="547.29" y2="497.70" stroke="#262626" stroke-width="0.9"/><line x1="550.37" y1="495.50" x2="550.37" y2="497.70" stroke="#262626" stroke-width="0.9"/><line x1="553.13" y1="495.50" x2="553.13" y2="499.30" stroke="#262626" stroke-width="1.15"/><text x="540.95" y="514.10" font-size="11.38" text-anchor="start" textLength="14.00" lengthAdjust="spacingAndGlyphs" fill="#000">10</text><text x="555.54" y="510.00" font-size="8.58" textLength="10.38" lengthAdjust="spacingAndGlyphs">−1</text><line x1="571.30" y1="495.50" x2="571.30" y2="497.70" stroke="#262626" stroke-width="0.9"/><line x1="581.92" y1="495.50" x2="581.92" y2="497.70" stroke="#262626" stroke-width="0.9"/><line x1="589.46" y1="495.50" x2="589.46" y2="497.70" stroke="#262626" stroke-width="0.9"/><line x1="595.30" y1="495.50" x2="595.30" y2="497.70" stroke="#262626" stroke-width="0.9"/><line x1="600.08" y1="495.50" x2="600.08" y2="497.70" stroke="#262626" stroke-width="0.9"/><line x1="604.12" y1="495.50" x2="604.12" y2="497.70" stroke="#262626" stroke-width="0.9"/><line x1="607.62" y1="495.50" x2="607.62" y2="497.70" stroke="#262626" stroke-width="0.9"/><line x1="610.71" y1="495.50" x2="610.71" y2="497.70" stroke="#262626" stroke-width="0.9"/><line x1="613.47" y1="495.50" x2="613.47" y2="499.30" stroke="#262626" stroke-width="1.15"/><text x="604.23" y="514.10" font-size="11.38" text-anchor="start" textLength="14.00" lengthAdjust="spacingAndGlyphs" fill="#000">10</text><text x="618.83" y="510.00" font-size="8.58" textLength="4.48" lengthAdjust="spacingAndGlyphs">0</text><line x1="631.63" y1="495.50" x2="631.63" y2="497.70" stroke="#262626" stroke-width="0.9"/><line x1="642.25" y1="495.50" x2="642.25" y2="497.70" stroke="#262626" stroke-width="0.9"/><line x1="649.79" y1="495.50" x2="649.79" y2="497.70" stroke="#262626" stroke-width="0.9"/><line x1="655.64" y1="495.50" x2="655.64" y2="497.70" stroke="#262626" stroke-width="0.9"/><line x1="660.42" y1="495.50" x2="660.42" y2="497.70" stroke="#262626" stroke-width="0.9"/><line x1="664.45" y1="495.50" x2="664.45" y2="497.70" stroke="#262626" stroke-width="0.9"/><line x1="667.95" y1="495.50" x2="667.95" y2="497.70" stroke="#262626" stroke-width="0.9"/><line x1="671.04" y1="495.50" x2="671.04" y2="497.70" stroke="#262626" stroke-width="0.9"/><line x1="673.80" y1="495.50" x2="673.80" y2="499.30" stroke="#262626" stroke-width="1.15"/><text x="664.56" y="514.10" font-size="11.38" text-anchor="start" textLength="14.00" lengthAdjust="spacingAndGlyphs" fill="#000">10</text><text x="679.16" y="510.00" font-size="8.58" textLength="4.48" lengthAdjust="spacingAndGlyphs">1</text><rect x="492.80" y="389.50" width="181.00" height="106.00" fill="none" stroke="#262626" stroke-width="1.1"/><text x="510.10" y="402.60" font-size="11.38" text-anchor="middle" textLength="11.64" lengthAdjust="spacingAndGlyphs" fill="#000">(l)</text><text x="582.70" y="481.70" font-size="11.38" text-anchor="middle" textLength="33.67" lengthAdjust="spacingAndGlyphs" fill="#000">INTEG</text><text x="584.30" y="494.40" font-size="11.38" text-anchor="middle" textLength="103.11" lengthAdjust="spacingAndGlyphs" fill="#000">Response Function</text><g transform="translate(15.0 443.10) rotate(-90)"><text x="0.00" y="0.00" font-size="11.38" text-anchor="middle" textLength="82.98" lengthAdjust="spacingAndGlyphs" fill="#000">Amplitude (dB)</text></g><text x="148.70" y="531.00" font-size="11.38" text-anchor="middle" textLength="145.93" lengthAdjust="spacingAndGlyphs" fill="#000">Time (s) or Frequency (Hz)</text><text x="366.00" y="531.00" font-size="11.38" text-anchor="middle" textLength="145.93" lengthAdjust="spacingAndGlyphs" fill="#000">Time (s) or Frequency (Hz)</text><text x="583.30" y="531.00" font-size="11.38" text-anchor="middle" textLength="145.93" lengthAdjust="spacingAndGlyphs" fill="#000">Time (s) or Frequency (Hz)</text><text x="137.55" y="19.50" font-size="11.38" text-anchor="start" textLength="24.12" lengthAdjust="spacingAndGlyphs" fill="#000">RMS</text><text x="161.66" y="21.50" font-size="7.97" text-anchor="start" textLength="5.76" lengthAdjust="spacingAndGlyphs" font-style="italic" fill="#000">N</text><text x="170.92" y="19.50" font-size="11.38" text-anchor="start" textLength="9.22" lengthAdjust="spacingAndGlyphs" fill="#000">=</text><text x="183.63" y="19.50" font-size="11.38" text-anchor="start" textLength="49.42" lengthAdjust="spacingAndGlyphs" fill="#000">2.06 mm</text><text x="137.99" y="29.65" font-size="11.38" text-anchor="start" textLength="24.12" lengthAdjust="spacingAndGlyphs" fill="#000">RMS</text><text x="162.11" y="31.65" font-size="7.97" text-anchor="start" textLength="4.87" lengthAdjust="spacingAndGlyphs" font-style="italic" fill="#000">E</text><text x="170.47" y="29.65" font-size="11.38" text-anchor="start" textLength="9.22" lengthAdjust="spacingAndGlyphs" fill="#000">=</text><text x="183.19" y="29.65" font-size="11.38" text-anchor="start" textLength="49.42" lengthAdjust="spacingAndGlyphs" fill="#000">6.62 mm</text><text x="137.46" y="39.80" font-size="11.38" text-anchor="start" textLength="24.12" lengthAdjust="spacingAndGlyphs" fill="#000">RMS</text><text x="161.58" y="41.80" font-size="7.97" text-anchor="start" textLength="5.93" lengthAdjust="spacingAndGlyphs" font-style="italic" fill="#000">D</text><text x="171.00" y="39.80" font-size="11.38" text-anchor="start" textLength="9.22" lengthAdjust="spacingAndGlyphs" fill="#000">=</text><text x="183.72" y="39.80" font-size="11.38" text-anchor="start" textLength="49.42" lengthAdjust="spacingAndGlyphs" fill="#000">2.59 mm</text><text x="354.85" y="19.50" font-size="11.38" text-anchor="start" textLength="24.12" lengthAdjust="spacingAndGlyphs" fill="#000">RMS</text><text x="378.96" y="21.50" font-size="7.97" text-anchor="start" textLength="5.76" lengthAdjust="spacingAndGlyphs" font-style="italic" fill="#000">N</text><text x="388.22" y="19.50" font-size="11.38" text-anchor="start" textLength="9.22" lengthAdjust="spacingAndGlyphs" fill="#000">=</text><text x="400.93" y="19.50" font-size="11.38" text-anchor="start" textLength="49.42" lengthAdjust="spacingAndGlyphs" fill="#000">1.80 mm</text><text x="355.29" y="29.65" font-size="11.38" text-anchor="start" textLength="24.12" lengthAdjust="spacingAndGlyphs" fill="#000">RMS</text><text x="379.41" y="31.65" font-size="7.97" text-anchor="start" textLength="4.87" lengthAdjust="spacingAndGlyphs" font-style="italic" fill="#000">E</text><text x="387.77" y="29.65" font-size="11.38" text-anchor="start" textLength="9.22" lengthAdjust="spacingAndGlyphs" fill="#000">=</text><text x="400.49" y="29.65" font-size="11.38" text-anchor="start" textLength="49.42" lengthAdjust="spacingAndGlyphs" fill="#000">6.16 mm</text><text x="354.76" y="39.80" font-size="11.38" text-anchor="start" textLength="24.12" lengthAdjust="spacingAndGlyphs" fill="#000">RMS</text><text x="378.88" y="41.80" font-size="7.97" text-anchor="start" textLength="5.93" lengthAdjust="spacingAndGlyphs" font-style="italic" fill="#000">D</text><text x="388.30" y="39.80" font-size="11.38" text-anchor="start" textLength="9.22" lengthAdjust="spacingAndGlyphs" fill="#000">=</text><text x="401.02" y="39.80" font-size="11.38" text-anchor="start" textLength="49.42" lengthAdjust="spacingAndGlyphs" fill="#000">2.62 mm</text><text x="572.15" y="19.50" font-size="11.38" text-anchor="start" textLength="24.12" lengthAdjust="spacingAndGlyphs" fill="#000">RMS</text><text x="596.26" y="21.50" font-size="7.97" text-anchor="start" textLength="5.76" lengthAdjust="spacingAndGlyphs" font-style="italic" fill="#000">N</text><text x="605.52" y="19.50" font-size="11.38" text-anchor="start" textLength="9.22" lengthAdjust="spacingAndGlyphs" fill="#000">=</text><text x="618.23" y="19.50" font-size="11.38" text-anchor="start" textLength="49.42" lengthAdjust="spacingAndGlyphs" fill="#000">0.96 mm</text><text x="572.59" y="29.65" font-size="11.38" text-anchor="start" textLength="24.12" lengthAdjust="spacingAndGlyphs" fill="#000">RMS</text><text x="596.71" y="31.65" font-size="7.97" text-anchor="start" textLength="4.87" lengthAdjust="spacingAndGlyphs" font-style="italic" fill="#000">E</text><text x="605.07" y="29.65" font-size="11.38" text-anchor="start" textLength="9.22" lengthAdjust="spacingAndGlyphs" fill="#000">=</text><text x="617.79" y="29.65" font-size="11.38" text-anchor="start" textLength="49.42" lengthAdjust="spacingAndGlyphs" fill="#000">0.92 mm</text><text x="572.06" y="39.80" font-size="11.38" text-anchor="start" textLength="24.12" lengthAdjust="spacingAndGlyphs" fill="#000">RMS</text><text x="596.18" y="41.80" font-size="7.97" text-anchor="start" textLength="5.93" lengthAdjust="spacingAndGlyphs" font-style="italic" fill="#000">D</text><text x="605.60" y="39.80" font-size="11.38" text-anchor="start" textLength="9.22" lengthAdjust="spacingAndGlyphs" fill="#000">=</text><text x="618.32" y="39.80" font-size="11.38" text-anchor="start" textLength="49.42" lengthAdjust="spacingAndGlyphs" fill="#000">1.25 mm</text><text x="132.83" y="147.30" font-size="11.38" text-anchor="start" textLength="24.12" lengthAdjust="spacingAndGlyphs" fill="#000">RMS</text><text x="156.94" y="149.30" font-size="7.97" text-anchor="start" textLength="5.76" lengthAdjust="spacingAndGlyphs" font-style="italic" fill="#000">N</text><text x="166.20" y="147.30" font-size="11.38" text-anchor="start" textLength="9.22" lengthAdjust="spacingAndGlyphs" fill="#000">=</text><text x="178.91" y="147.30" font-size="11.38" text-anchor="start" textLength="58.86" lengthAdjust="spacingAndGlyphs" fill="#000">0.73 mm/s</text><text x="133.28" y="157.45" font-size="11.38" text-anchor="start" textLength="24.12" lengthAdjust="spacingAndGlyphs" fill="#000">RMS</text><text x="157.39" y="159.45" font-size="7.97" text-anchor="start" textLength="4.87" lengthAdjust="spacingAndGlyphs" font-style="italic" fill="#000">E</text><text x="165.75" y="157.45" font-size="11.38" text-anchor="start" textLength="9.22" lengthAdjust="spacingAndGlyphs" fill="#000">=</text><text x="178.47" y="157.45" font-size="11.38" text-anchor="start" textLength="58.86" lengthAdjust="spacingAndGlyphs" fill="#000">1.61 mm/s</text><text x="132.74" y="167.60" font-size="11.38" text-anchor="start" textLength="24.12" lengthAdjust="spacingAndGlyphs" fill="#000">RMS</text><text x="156.86" y="169.60" font-size="7.97" text-anchor="start" textLength="5.93" lengthAdjust="spacingAndGlyphs" font-style="italic" fill="#000">D</text><text x="166.29" y="167.60" font-size="11.38" text-anchor="start" textLength="9.22" lengthAdjust="spacingAndGlyphs" fill="#000">=</text><text x="179.00" y="167.60" font-size="11.38" text-anchor="start" textLength="58.86" lengthAdjust="spacingAndGlyphs" fill="#000">0.38 mm/s</text><text x="350.13" y="147.30" font-size="11.38" text-anchor="start" textLength="24.12" lengthAdjust="spacingAndGlyphs" fill="#000">RMS</text><text x="374.24" y="149.30" font-size="7.97" text-anchor="start" textLength="5.76" lengthAdjust="spacingAndGlyphs" font-style="italic" fill="#000">N</text><text x="383.50" y="147.30" font-size="11.38" text-anchor="start" textLength="9.22" lengthAdjust="spacingAndGlyphs" fill="#000">=</text><text x="396.21" y="147.30" font-size="11.38" text-anchor="start" textLength="58.86" lengthAdjust="spacingAndGlyphs" fill="#000">0.24 mm/s</text><text x="350.58" y="157.45" font-size="11.38" text-anchor="start" textLength="24.12" lengthAdjust="spacingAndGlyphs" fill="#000">RMS</text><text x="374.69" y="159.45" font-size="7.97" text-anchor="start" textLength="4.87" lengthAdjust="spacingAndGlyphs" font-style="italic" fill="#000">E</text><text x="383.05" y="157.45" font-size="11.38" text-anchor="start" textLength="9.22" lengthAdjust="spacingAndGlyphs" fill="#000">=</text><text x="395.77" y="157.45" font-size="11.38" text-anchor="start" textLength="58.86" lengthAdjust="spacingAndGlyphs" fill="#000">0.29 mm/s</text><text x="350.04" y="167.60" font-size="11.38" text-anchor="start" textLength="24.12" lengthAdjust="spacingAndGlyphs" fill="#000">RMS</text><text x="374.16" y="169.60" font-size="7.97" text-anchor="start" textLength="5.93" lengthAdjust="spacingAndGlyphs" font-style="italic" fill="#000">D</text><text x="383.59" y="167.60" font-size="11.38" text-anchor="start" textLength="9.22" lengthAdjust="spacingAndGlyphs" fill="#000">=</text><text x="396.30" y="167.60" font-size="11.38" text-anchor="start" textLength="58.86" lengthAdjust="spacingAndGlyphs" fill="#000">0.41 mm/s</text><text x="567.43" y="147.30" font-size="11.38" text-anchor="start" textLength="24.12" lengthAdjust="spacingAndGlyphs" fill="#000">RMS</text><text x="591.54" y="149.30" font-size="7.97" text-anchor="start" textLength="5.76" lengthAdjust="spacingAndGlyphs" font-style="italic" fill="#000">N</text><text x="600.80" y="147.30" font-size="11.38" text-anchor="start" textLength="9.22" lengthAdjust="spacingAndGlyphs" fill="#000">=</text><text x="613.51" y="147.30" font-size="11.38" text-anchor="start" textLength="58.86" lengthAdjust="spacingAndGlyphs" fill="#000">0.14 mm/s</text><text x="567.88" y="157.45" font-size="11.38" text-anchor="start" textLength="24.12" lengthAdjust="spacingAndGlyphs" fill="#000">RMS</text><text x="591.99" y="159.45" font-size="7.97" text-anchor="start" textLength="4.87" lengthAdjust="spacingAndGlyphs" font-style="italic" fill="#000">E</text><text x="600.35" y="157.45" font-size="11.38" text-anchor="start" textLength="9.22" lengthAdjust="spacingAndGlyphs" fill="#000">=</text><text x="613.07" y="157.45" font-size="11.38" text-anchor="start" textLength="58.86" lengthAdjust="spacingAndGlyphs" fill="#000">0.14 mm/s</text><text x="567.34" y="167.60" font-size="11.38" text-anchor="start" textLength="24.12" lengthAdjust="spacingAndGlyphs" fill="#000">RMS</text><text x="591.46" y="169.60" font-size="7.97" text-anchor="start" textLength="5.93" lengthAdjust="spacingAndGlyphs" font-style="italic" fill="#000">D</text><text x="600.89" y="167.60" font-size="11.38" text-anchor="start" textLength="9.22" lengthAdjust="spacingAndGlyphs" fill="#000">=</text><text x="613.60" y="167.60" font-size="11.38" text-anchor="start" textLength="58.86" lengthAdjust="spacingAndGlyphs" fill="#000">0.13 mm/s</text></svg></body></html>
